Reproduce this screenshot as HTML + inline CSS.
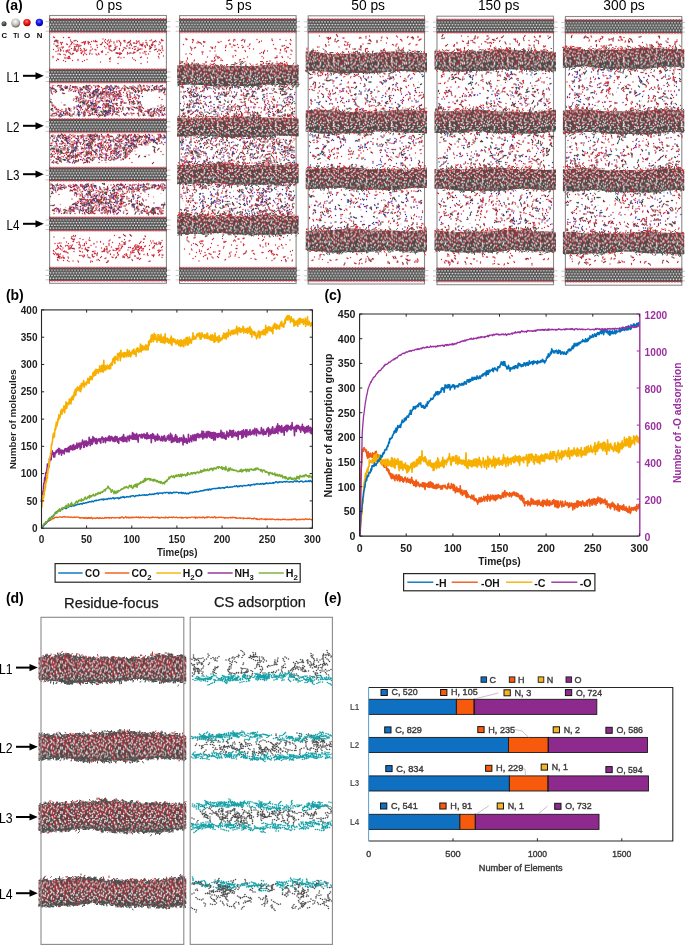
<!DOCTYPE html>
<html><head><meta charset="utf-8"><style>
html,body{margin:0;padding:0;background:#fff;}
body{width:685px;height:946px;overflow:hidden;position:relative;}
svg{position:absolute;left:0;top:0;display:block;will-change:transform;}
text{font-family:"Liberation Sans",sans-serif;}
</style></head><body>
<svg width="685" height="946" viewBox="0 0 685 946" font-family="Liberation Sans, sans-serif">
<defs><linearGradient id="bandgrad" x1="0" y1="0" x2="0" y2="1"><stop offset="0" stop-color="#c82a36" stop-opacity="0.22"/><stop offset="0.45" stop-color="#c82a36" stop-opacity="0.08"/><stop offset="0.65" stop-color="#34504a" stop-opacity="0"/><stop offset="1" stop-color="#34504a" stop-opacity="0.35"/></linearGradient><filter id="soft" x="-2%" y="-2%" width="104%" height="104%"><feGaussianBlur stdDeviation="0.3"/></filter><pattern id="slab" width="2.9" height="15.3" patternUnits="userSpaceOnUse">
<rect y="0.9" width="2.9" height="13.4" fill="#464646"/>
<circle cx="1.45" cy="1.0" r="0.95" fill="#cc3a48"/>
<circle cx="0" cy="14.2" r="0.95" fill="#cc3a48"/>
<circle cx="2.9" cy="14.2" r="0.95" fill="#cc3a48"/>
<circle cx="0" cy="3.65" r="0.85" fill="#e0e0e0"/>
<circle cx="2.9" cy="3.65" r="0.85" fill="#e0e0e0"/>
<circle cx="1.45" cy="6.3" r="0.9" fill="#f0f0f0"/>
<circle cx="0" cy="8.95" r="0.9" fill="#ececec"/>
<circle cx="2.9" cy="8.95" r="0.9" fill="#ececec"/>
<circle cx="1.45" cy="11.6" r="0.85" fill="#d8e4e2"/>
<circle cx="1.45" cy="2.4" r="0.45" fill="#8a8a8a"/>
<circle cx="0" cy="5.0" r="0.45" fill="#8a8a8a"/>
<circle cx="2.9" cy="5.0" r="0.45" fill="#8a8a8a"/>
<circle cx="1.45" cy="7.6" r="0.45" fill="#8a8a8a"/>
<circle cx="0" cy="10.3" r="0.45" fill="#8a8a8a"/>
<circle cx="2.9" cy="10.3" r="0.45" fill="#8a8a8a"/>
<circle cx="1.45" cy="12.9" r="0.45" fill="#7a8a88"/>
</pattern><pattern id="dense" width="58" height="21.5" patternUnits="userSpaceOnUse"><rect width="58" height="21.5" fill="#5c4a4e"/><path d="M5.3 0.1h0M5.3 21.6h0M9.0 -0.1h0M9.0 21.4h0M16.1 0.0h0M16.1 21.5h0M16.6 0.3h0M16.6 21.8h0M23.3 0.3h0M23.3 21.8h0M26.8 0.2h0M26.8 21.7h0M34.9 -0.2h0M34.9 21.3h0M35.9 0.1h0M35.9 21.6h0M40.8 0.3h0M40.8 21.8h0M44.9 0.1h0M44.9 21.6h0M46.0 -0.5h0M46.0 21.0h0M51.0 -0.2h0M51.0 21.3h0M1.9 1.3h0M6.9 0.9h0M7.7 1.7h0M13.1 1.2h0M19.3 1.1h0M20.9 1.5h0M28.8 1.2h0M31.5 1.9h0M38.1 1.3h0M42.3 1.5h0M48.5 1.2h0M50.0 0.6h0M50.0 22.1h0M54.1 1.4h0M-0.7 0.9h0M57.3 0.9h0M1.4 2.4h0M5.8 2.7h0M11.9 2.5h0M14.7 2.9h0M25.1 2.7h0M29.8 2.4h0M35.1 2.4h0M39.2 2.7h0M43.2 2.2h0M47.6 2.9h0M54.1 2.6h0M0.6 3.5h0M58.6 3.5h0M6.3 3.6h0M8.1 3.8h0M14.0 3.7h0M16.7 3.2h0M18.4 3.8h0M24.4 3.9h0M27.1 4.1h0M28.3 4.0h0M32.9 3.7h0M37.0 3.8h0M39.9 3.5h0M43.7 4.0h0M45.3 4.0h0M46.9 3.7h0M51.8 4.1h0M-0.2 4.6h0M57.8 4.6h0M2.4 5.0h0M4.0 5.3h0M10.3 5.6h0M13.3 4.7h0M17.5 5.0h0M18.7 5.1h0M20.4 5.6h0M21.8 5.0h0M28.7 5.0h0M36.6 5.1h0M46.3 5.0h0M49.4 5.2h0M53.0 4.8h0M0.7 6.6h0M58.7 6.6h0M5.4 6.2h0M6.1 6.1h0M9.8 6.4h0M11.8 6.7h0M19.5 6.6h0M25.7 6.2h0M26.5 6.1h0M28.3 6.3h0M31.1 6.1h0M34.6 6.6h0M41.6 6.3h0M43.5 6.6h0M48.5 6.2h0M52.9 6.3h0M53.7 6.3h0M55.9 6.7h0M1.6 7.7h0M5.9 7.2h0M8.4 7.9h0M12.9 7.4h0M15.9 7.3h0M21.6 7.6h0M23.3 7.8h0M30.4 8.2h0M32.8 7.6h0M35.7 8.0h0M43.0 7.7h0M45.0 7.5h0M51.9 7.6h0M54.0 8.1h0M1.7 8.8h0M13.8 9.0h0M18.5 9.0h0M25.2 9.1h0M28.3 8.6h0M35.6 9.3h0M39.6 9.3h0M44.5 8.9h0M47.1 8.7h0M49.1 8.9h0M-0.6 8.9h0M57.4 8.9h0M2.8 10.1h0M7.7 10.7h0M10.5 9.9h0M11.7 10.3h0M17.6 10.4h0M20.2 10.1h0M24.7 9.3h0M26.9 10.5h0M32.1 10.5h0M33.2 10.2h0M34.4 10.5h0M40.5 9.8h0M42.1 10.0h0M46.6 10.1h0M50.5 9.7h0M0.4 10.9h0M58.4 10.9h0M5.1 10.7h0M15.3 11.7h0M21.1 11.5h0M24.3 11.7h0M28.6 11.7h0M32.2 11.4h0M38.5 11.6h0M39.5 11.2h0M43.9 11.0h0M47.0 11.6h0M52.1 11.2h0M53.2 11.5h0M54.5 11.3h0M55.7 11.6h0M1.5 12.5h0M6.3 13.0h0M8.8 13.0h0M14.9 12.8h0M23.2 12.3h0M25.7 13.3h0M30.3 12.5h0M32.1 12.5h0M34.2 12.4h0M41.9 12.5h0M49.5 12.4h0M55.7 12.9h0M5.1 14.4h0M10.7 14.4h0M12.0 13.6h0M15.1 14.0h0M19.7 14.2h0M26.5 13.9h0M33.8 13.8h0M35.9 13.9h0M41.4 14.0h0M45.3 14.1h0M46.7 14.0h0M51.7 13.9h0M52.8 14.4h0M0.2 15.4h0M58.2 15.4h0M2.4 15.4h0M4.8 14.8h0M8.6 15.5h0M14.6 14.8h0M16.3 15.3h0M18.9 15.5h0M21.7 14.6h0M27.7 15.6h0M28.9 15.3h0M38.0 15.4h0M42.0 15.2h0M47.7 15.1h0M53.2 15.7h0M1.0 16.2h0M6.7 16.5h0M12.7 16.3h0M16.9 16.1h0M29.4 16.5h0M31.0 16.4h0M32.3 16.2h0M35.5 16.7h0M38.6 16.9h0M39.9 16.9h0M43.5 16.2h0M45.9 16.1h0M49.5 16.6h0M51.6 16.9h0M1.4 17.9h0M5.8 17.9h0M7.8 17.4h0M13.7 18.4h0M17.1 17.8h0M18.6 17.7h0M23.1 17.6h0M23.9 18.2h0M35.5 17.8h0M39.4 17.2h0M40.8 18.0h0M46.4 18.0h0M52.1 17.5h0M53.8 18.0h0M55.5 17.4h0M9.6 18.8h0M15.0 19.4h0M22.5 18.8h0M28.8 19.0h0M29.3 18.9h0M35.5 19.0h0M36.7 19.3h0M41.0 18.6h0M49.7 19.1h0M57.2 19.3h0M-0.0 20.1h0M58.0 20.1h0M1.2 20.4h0M5.6 19.9h0M10.3 19.9h0M11.5 19.7h0M14.1 20.1h0M21.8 20.3h0M25.8 20.2h0M33.2 19.9h0M35.8 19.8h0M42.1 19.8h0M44.7 20.2h0M50.5 20.5h0M52.4 20.2h0M55.1 20.1h0" stroke="#c02a36" stroke-width="1.56" stroke-linecap="round"/><path d="M1.3 -0.1h0M1.3 21.4h0M2.3 -0.1h0M2.3 21.4h0M7.1 0.1h0M7.1 21.6h0M10.6 0.2h0M10.6 21.7h0M11.5 0.2h0M11.5 21.7h0M20.2 -0.3h0M20.2 21.2h0M21.7 0.4h0M21.7 21.9h0M26.0 -0.2h0M26.0 21.3h0M28.5 0.0h0M28.5 21.5h0M32.1 0.3h0M32.1 21.8h0M33.0 -0.6h0M33.0 20.9h0M38.1 -0.0h0M38.1 21.5h0M41.9 -0.2h0M41.9 21.3h0M49.2 0.1h0M49.2 21.6h0M52.2 0.2h0M52.2 21.7h0M54.4 0.4h0M54.4 21.9h0M1.0 0.9h0M5.1 1.8h0M13.4 0.9h0M15.5 1.3h0M24.4 0.6h0M24.4 22.1h0M25.2 1.3h0M32.5 1.3h0M36.0 1.1h0M41.4 1.3h0M45.7 1.0h0M47.0 1.2h0M55.3 1.2h0M0.2 2.2h0M58.2 2.2h0M4.3 3.2h0M8.9 2.6h0M9.8 3.1h0M16.0 2.8h0M17.4 2.7h0M20.9 2.5h0M21.7 2.9h0M26.2 2.1h0M31.6 2.1h0M36.7 2.5h0M40.7 2.4h0M44.9 3.4h0M48.4 2.8h0M52.7 2.2h0M56.7 2.7h0M2.1 3.9h0M4.3 3.5h0M9.6 3.9h0M12.3 3.6h0M19.5 3.7h0M20.7 4.2h0M22.3 3.4h0M29.5 4.2h0M31.8 3.2h0M34.3 4.0h0M38.7 3.5h0M41.4 3.9h0M49.8 3.7h0M55.6 3.8h0M7.2 4.7h0M8.7 5.0h0M14.5 5.5h0M22.8 4.9h0M27.6 5.1h0M33.5 5.1h0M37.7 5.3h0M42.4 4.8h0M44.0 5.4h0M47.6 5.1h0M53.5 5.2h0M56.9 4.7h0M2.4 6.6h0M3.7 6.3h0M7.9 6.5h0M10.5 6.4h0M15.6 6.1h0M16.6 6.3h0M20.8 6.5h0M32.6 6.3h0M38.7 6.8h0M46.7 6.3h0M50.1 6.6h0M51.6 5.9h0M56.7 6.2h0M2.4 8.1h0M6.9 7.7h0M11.7 7.9h0M17.1 7.6h0M24.6 7.3h0M26.1 8.1h0M28.8 7.2h0M31.6 7.4h0M34.9 7.8h0M37.2 7.7h0M40.7 7.6h0M41.5 6.7h0M46.8 7.4h0M50.5 7.3h0M55.6 7.8h0M0.7 8.5h0M58.7 8.5h0M4.6 8.7h0M7.8 9.0h0M9.9 8.9h0M15.1 8.9h0M16.4 8.9h0M21.1 9.1h0M22.1 9.1h0M24.1 8.4h0M29.4 9.3h0M34.4 8.9h0M37.3 8.5h0M45.9 8.4h0M49.7 9.0h0M54.9 8.4h0M55.9 9.2h0M1.4 10.4h0M5.7 10.2h0M8.9 9.9h0M14.5 9.9h0M15.9 10.0h0M21.2 11.1h0M26.3 9.9h0M28.7 10.1h0M37.9 10.3h0M39.3 9.9h0M45.1 10.0h0M49.2 10.5h0M52.3 9.7h0M53.7 10.5h0M3.2 11.2h0M6.6 11.1h0M10.8 11.8h0M12.1 11.6h0M19.6 11.1h0M22.7 12.0h0M27.1 11.7h0M31.2 10.9h0M35.9 11.1h0M41.2 12.0h0M48.3 11.3h0M57.0 11.4h0M0.2 12.6h0M58.2 12.6h0M2.6 12.4h0M4.4 12.9h0M7.8 13.0h0M13.3 12.2h0M16.1 12.4h0M20.1 12.7h0M24.5 12.7h0M29.7 13.0h0M33.3 12.6h0M36.3 12.7h0M43.2 12.8h0M48.1 12.3h0M52.3 13.0h0M0.9 13.6h0M6.3 14.0h0M8.0 14.0h0M14.0 13.7h0M16.9 13.8h0M18.3 13.5h0M21.0 14.0h0M22.4 14.0h0M28.6 13.5h0M29.7 13.7h0M32.7 13.9h0M37.0 13.6h0M39.8 13.9h0M42.7 13.9h0M50.1 13.9h0M54.5 13.9h0M55.9 13.9h0M1.2 15.4h0M6.9 14.9h0M10.3 15.1h0M13.1 14.8h0M23.1 14.9h0M26.6 14.9h0M31.9 15.3h0M36.6 15.1h0M40.5 15.6h0M45.4 15.0h0M46.9 15.2h0M49.4 15.1h0M51.0 15.5h0M2.8 17.0h0M5.2 16.9h0M9.6 16.7h0M13.5 16.2h0M19.6 16.3h0M20.7 16.4h0M25.4 16.2h0M26.8 16.9h0M33.6 16.4h0M37.1 16.7h0M41.8 16.7h0M46.9 16.5h0M48.8 16.6h0M54.4 16.2h0M55.5 16.3h0M0.2 17.8h0M58.2 17.8h0M4.8 18.2h0M10.2 18.2h0M11.7 17.7h0M14.4 18.0h0M16.1 17.9h0M21.6 17.3h0M27.2 17.6h0M30.6 17.7h0M36.2 18.1h0M41.9 18.0h0M45.0 17.8h0M50.5 17.4h0M56.2 17.9h0M2.6 18.5h0M5.0 18.5h0M7.5 19.1h0M10.9 18.7h0M18.3 19.0h0M25.3 19.6h0M26.7 19.0h0M30.9 19.5h0M32.6 19.1h0M34.6 18.5h0M40.1 18.7h0M46.8 18.5h0M48.5 19.8h0M51.4 18.4h0M53.1 19.1h0M4.4 19.9h0M8.7 20.4h0M13.3 20.2h0M17.4 20.1h0M19.1 20.2h0M20.4 20.6h0M22.7 20.4h0M25.0 20.1h0M28.0 19.8h0M31.9 19.8h0M38.1 20.4h0M41.1 20.1h0M43.4 20.0h0M49.4 20.4h0M53.8 19.9h0" stroke="#32504a" stroke-width="1.56" stroke-linecap="round"/><path d="M0.6 -0.8h0M0.6 20.7h0M58.6 -0.8h0M58.6 20.7h0M5.7 -0.2h0M5.7 21.3h0M13.0 -0.1h0M13.0 21.4h0M14.2 -0.1h0M14.2 21.4h0M18.3 0.1h0M18.3 21.6h0M24.4 0.2h0M24.4 21.7h0M30.7 -0.6h0M30.7 20.9h0M38.6 0.5h0M38.6 22.0h0M43.9 -0.4h0M43.9 21.1h0M48.2 0.2h0M48.2 21.7h0M54.5 -0.1h0M54.5 21.4h0M56.7 -0.7h0M56.7 20.8h0M4.2 1.2h0M9.3 1.1h0M10.7 1.0h0M16.7 1.3h0M18.0 1.1h0M22.4 1.5h0M27.1 1.6h0M30.0 1.1h0M33.9 1.4h0M36.8 1.0h0M39.9 1.5h0M44.4 1.3h0M51.1 1.6h0M52.3 1.3h0M3.0 2.2h0M7.3 3.2h0M12.8 2.7h0M18.9 2.4h0M23.3 2.9h0M28.1 2.3h0M29.0 2.8h0M33.2 2.0h0M37.3 2.5h0M41.7 2.1h0M46.2 2.8h0M51.2 2.3h0M55.1 2.8h0M4.0 3.6h0M10.7 4.3h0M15.4 4.2h0M25.8 4.2h0M35.5 4.1h0M42.6 3.5h0M48.6 3.8h0M52.9 3.7h0M54.3 4.0h0M0.0 4.4h0M58.0 4.4h0M1.4 4.7h0M5.4 4.6h0M11.8 5.4h0M16.1 5.2h0M24.8 5.0h0M25.8 5.2h0M30.5 5.0h0M32.2 5.6h0M34.4 5.5h0M39.0 4.9h0M41.0 5.2h0M44.0 4.7h0M50.9 4.9h0M55.4 4.8h0M13.9 6.5h0M18.4 6.1h0M22.4 6.7h0M23.8 6.8h0M29.9 5.9h0M35.5 6.2h0M36.9 5.7h0M39.6 6.5h0M44.3 6.2h0M46.2 6.2h0M0.0 7.2h0M58.0 7.2h0M4.2 8.2h0M9.9 7.6h0M14.7 7.5h0M18.5 7.6h0M20.1 7.1h0M27.4 8.1h0M39.3 7.7h0M48.1 7.7h0M49.1 7.9h0M56.6 7.1h0M4.1 9.1h0M6.5 8.8h0M10.7 9.0h0M12.5 8.5h0M18.9 8.9h0M26.6 8.7h0M30.9 9.0h0M32.6 9.1h0M38.6 8.6h0M41.0 8.9h0M42.6 9.0h0M51.3 8.8h0M53.0 8.9h0M0.3 10.3h0M58.3 10.3h0M4.0 9.8h0M12.9 10.0h0M19.1 9.7h0M23.3 10.4h0M30.1 10.0h0M36.3 10.3h0M43.9 10.5h0M47.5 9.6h0M55.4 10.2h0M56.5 9.9h0M2.5 11.8h0M8.3 11.4h0M9.7 11.5h0M13.9 11.7h0M16.2 11.0h0M18.2 10.8h0M25.4 11.0h0M29.4 11.5h0M34.0 11.5h0M37.3 11.8h0M42.7 11.7h0M46.1 11.5h0M50.4 11.4h0M10.5 12.8h0M11.5 12.8h0M17.3 12.6h0M18.6 13.0h0M21.6 12.0h0M27.5 12.9h0M37.5 12.6h0M38.6 13.0h0M40.4 13.1h0M45.0 12.9h0M47.0 13.1h0M51.1 12.5h0M53.2 12.5h0M56.9 12.6h0M2.4 13.6h0M3.9 14.2h0M9.4 13.9h0M23.6 13.8h0M25.6 13.8h0M31.1 13.8h0M38.1 14.0h0M43.5 14.3h0M48.4 13.5h0M57.0 13.7h0M6.0 14.6h0M11.8 15.5h0M17.1 15.0h0M20.3 14.8h0M24.7 14.9h0M30.7 15.2h0M33.4 15.2h0M35.1 15.0h0M39.0 15.4h0M43.7 15.5h0M52.4 15.5h0M55.1 15.3h0M56.1 15.3h0M4.0 16.1h0M7.9 16.9h0M11.3 16.9h0M15.5 16.9h0M17.8 16.0h0M22.6 16.1h0M24.1 16.8h0M27.5 16.2h0M44.4 16.6h0M52.9 15.8h0M-0.5 16.7h0M57.5 16.7h0M2.8 17.0h0M8.6 16.9h0M19.9 17.7h0M25.8 17.5h0M29.2 17.5h0M31.9 17.4h0M33.4 17.7h0M37.5 17.3h0M43.4 17.5h0M48.1 17.5h0M49.1 18.3h0M0.3 19.4h0M58.3 19.4h0M3.9 19.0h0M7.2 19.2h0M12.0 18.8h0M13.8 18.9h0M16.8 19.0h0M19.3 18.6h0M21.4 18.6h0M23.8 18.4h0M38.2 19.4h0M43.2 19.0h0M44.0 18.6h0M45.1 19.0h0M54.6 18.8h0M55.8 19.3h0M3.0 20.0h0M6.8 20.7h0M15.5 20.3h0M30.2 20.5h0M30.6 19.4h0M34.9 20.1h0M39.0 20.2h0M46.6 20.3h0M48.2 20.3h0M56.7 20.2h0" stroke="#e8e4e4" stroke-width="1.56" stroke-linecap="round"/></pattern><pattern id="dense2" width="58" height="21.5" patternUnits="userSpaceOnUse"><rect width="58" height="21.5" fill="#624c50"/><path d="M4.2 0.1h0M4.2 21.6h0M8.1 -0.4h0M8.1 21.1h0M10.1 -0.4h0M10.1 21.1h0M14.0 -0.1h0M14.0 21.4h0M17.4 0.3h0M17.4 21.8h0M21.3 0.3h0M21.3 21.8h0M26.0 0.2h0M26.0 21.7h0M29.1 -0.1h0M29.1 21.4h0M32.2 0.3h0M32.2 21.8h0M40.5 -0.3h0M40.5 21.2h0M41.9 0.3h0M41.9 21.8h0M45.3 -0.0h0M45.3 21.5h0M46.0 0.1h0M46.0 21.6h0M50.6 0.1h0M50.6 21.6h0M53.8 -0.3h0M53.8 21.2h0M55.1 -0.3h0M55.1 21.2h0M56.3 0.3h0M56.3 21.8h0M1.6 0.9h0M6.6 0.8h0M12.1 0.9h0M13.7 1.6h0M17.7 1.0h0M19.4 0.9h0M25.1 1.4h0M31.4 1.2h0M32.6 1.6h0M35.8 1.6h0M37.1 1.5h0M39.5 1.5h0M54.4 1.0h0M-0.4 2.4h0M57.6 2.4h0M4.1 1.9h0M5.6 2.4h0M9.0 2.6h0M10.1 2.5h0M20.3 2.2h0M27.6 2.6h0M39.4 2.3h0M40.2 3.0h0M45.6 2.5h0M47.5 2.9h0M52.0 2.1h0M56.5 2.6h0M3.8 3.8h0M7.5 3.7h0M9.6 4.5h0M13.4 4.1h0M15.6 3.7h0M19.5 3.9h0M24.0 3.4h0M27.2 4.0h0M28.2 3.7h0M32.5 4.1h0M36.8 3.5h0M44.3 3.7h0M51.2 3.3h0M55.9 3.6h0M-0.3 4.7h0M57.7 4.7h0M4.9 4.7h0M11.3 5.0h0M17.4 4.7h0M22.9 5.2h0M29.0 4.7h0M31.9 5.0h0M33.2 4.8h0M36.3 5.1h0M42.2 5.2h0M43.0 5.2h0M48.0 4.6h0M55.1 5.4h0M1.0 6.4h0M6.3 5.6h0M9.4 6.6h0M13.9 6.6h0M19.3 6.3h0M21.3 6.6h0M25.5 6.2h0M26.8 6.7h0M31.2 6.2h0M37.4 6.3h0M39.4 5.9h0M41.1 6.3h0M46.0 6.3h0M47.0 6.3h0M50.8 6.6h0M52.8 6.7h0M54.6 6.2h0M0.1 7.8h0M58.1 7.8h0M0.9 7.7h0M6.7 7.3h0M11.6 7.5h0M12.9 7.4h0M16.3 7.8h0M20.3 7.3h0M22.4 7.6h0M27.6 7.4h0M33.2 7.8h0M43.5 7.7h0M49.4 7.2h0M50.8 7.2h0M54.9 7.6h0M-0.7 7.3h0M57.3 7.3h0M2.0 8.8h0M4.6 8.7h0M8.2 9.0h0M9.2 9.0h0M10.5 8.6h0M14.1 8.7h0M16.6 9.0h0M18.0 8.3h0M24.0 8.9h0M30.9 8.8h0M35.5 9.1h0M37.0 9.3h0M39.9 8.7h0M41.5 8.9h0M47.1 9.2h0M48.9 8.7h0M54.2 9.0h0M2.7 10.4h0M17.7 10.1h0M19.0 10.4h0M24.8 10.0h0M33.3 10.2h0M37.9 9.7h0M44.4 10.0h0M53.5 9.8h0M54.9 9.4h0M6.5 11.4h0M7.9 11.7h0M12.6 11.5h0M22.4 11.7h0M25.3 11.3h0M28.1 11.2h0M29.8 11.2h0M34.3 11.0h0M36.1 11.5h0M38.8 11.4h0M41.3 11.1h0M42.8 12.1h0M48.3 11.5h0M49.7 11.3h0M52.4 11.0h0M1.5 12.8h0M2.8 12.9h0M7.3 12.5h0M8.2 12.4h0M10.4 12.9h0M14.4 12.6h0M15.7 12.2h0M17.8 12.7h0M30.6 11.9h0M31.8 12.4h0M43.5 12.9h0M49.8 12.7h0M55.0 12.7h0M56.4 12.6h0M4.9 14.1h0M10.9 13.8h0M22.1 13.4h0M24.0 14.5h0M26.7 14.4h0M31.3 14.1h0M34.9 13.8h0M38.1 14.2h0M40.2 14.0h0M46.1 13.9h0M47.1 13.3h0M51.5 14.3h0M52.8 14.2h0M57.0 13.6h0M0.4 15.9h0M58.4 15.9h0M1.2 15.4h0M5.3 15.0h0M7.2 14.9h0M11.9 15.1h0M12.6 15.6h0M17.4 14.7h0M19.0 15.2h0M21.8 14.6h0M27.7 15.0h0M31.2 15.4h0M34.7 15.0h0M40.8 16.0h0M42.4 15.7h0M46.2 15.1h0M49.7 15.4h0M53.1 15.5h0M3.2 16.6h0M7.6 16.9h0M15.8 16.1h0M23.8 16.7h0M25.1 16.5h0M26.2 16.4h0M31.4 16.1h0M36.7 16.1h0M41.1 16.5h0M42.9 16.2h0M44.0 16.2h0M50.7 16.3h0M54.8 16.5h0M55.4 16.4h0M1.4 17.8h0M8.9 17.3h0M9.8 17.6h0M14.4 17.4h0M18.6 17.8h0M20.7 17.6h0M25.0 17.7h0M29.2 17.8h0M33.6 17.5h0M39.1 17.4h0M43.8 17.4h0M44.5 17.3h0M46.2 18.4h0M47.7 17.9h0M52.5 17.7h0M56.1 17.8h0M5.0 18.6h0M6.2 18.9h0M9.1 19.2h0M17.2 19.1h0M26.5 19.1h0M29.8 18.7h0M31.5 19.3h0M35.9 19.2h0M37.1 19.1h0M38.5 19.3h0M41.3 18.9h0M51.7 19.1h0M52.5 19.4h0M10.8 20.0h0M11.3 -0.7h0M11.3 20.8h0M17.2 20.1h0M20.3 20.1h0M21.5 20.2h0M26.3 20.3h0M31.8 19.8h0M40.7 -0.7h0M40.7 20.8h0M43.6 20.3h0M45.0 19.6h0M47.7 20.3h0M52.4 19.7h0M53.9 20.1h0M56.6 19.7h0" stroke="#cc2834" stroke-width="1.6" stroke-linecap="round"/><path d="M2.9 0.4h0M2.9 21.9h0M5.8 -0.3h0M5.8 21.2h0M11.6 -0.1h0M11.6 21.4h0M12.9 -0.0h0M12.9 21.5h0M15.7 0.3h0M15.7 21.8h0M18.8 0.0h0M18.8 21.5h0M23.0 0.6h0M23.0 22.1h0M24.3 0.0h0M24.3 21.5h0M30.1 -0.2h0M30.1 21.3h0M36.5 -0.1h0M36.5 21.4h0M43.5 0.2h0M43.5 21.7h0M47.2 -0.1h0M47.2 21.4h0M49.3 0.7h0M49.3 22.2h0M0.8 1.1h0M58.8 1.1h0M3.0 1.5h0M8.4 1.2h0M9.4 1.0h0M16.7 1.2h0M20.8 1.7h0M26.8 0.9h0M34.2 1.1h0M38.7 1.1h0M42.4 0.8h0M42.4 22.3h0M48.3 0.8h0M51.5 1.4h0M55.9 1.9h0M-0.5 1.2h0M57.5 1.2h0M3.2 2.5h0M7.3 2.2h0M11.8 2.6h0M13.2 2.3h0M14.1 2.5h0M18.1 2.6h0M23.2 3.0h0M28.9 2.5h0M30.6 2.5h0M33.4 2.4h0M37.2 2.5h0M42.2 2.3h0M46.1 2.6h0M50.9 3.1h0M0.6 3.8h0M58.6 3.8h0M5.2 3.2h0M22.6 3.7h0M31.0 3.8h0M35.4 3.7h0M41.1 3.5h0M45.9 3.7h0M50.0 3.3h0M53.0 4.1h0M54.0 3.6h0M-0.6 3.6h0M57.4 3.6h0M5.5 4.7h0M8.6 5.5h0M10.3 4.7h0M14.4 4.8h0M15.8 5.0h0M20.3 4.8h0M21.6 4.8h0M24.7 5.0h0M25.8 5.0h0M27.6 5.1h0M34.6 5.1h0M37.6 5.2h0M40.7 4.9h0M45.3 5.1h0M49.1 5.4h0M53.4 5.2h0M2.3 6.0h0M3.8 6.3h0M8.2 6.4h0M12.8 6.7h0M16.6 6.3h0M18.5 6.3h0M23.5 6.6h0M29.9 6.4h0M36.1 6.3h0M38.5 6.5h0M44.0 6.2h0M48.1 6.0h0M51.7 6.9h0M56.3 6.5h0M2.8 7.4h0M3.7 8.0h0M10.3 7.1h0M14.5 8.1h0M18.8 7.6h0M26.1 8.1h0M30.6 7.8h0M31.4 7.8h0M38.2 7.5h0M38.9 7.3h0M40.7 7.4h0M46.5 7.7h0M47.4 7.5h0M52.1 7.6h0M6.5 8.3h0M19.6 8.9h0M22.7 9.5h0M25.1 8.8h0M28.2 8.9h0M29.4 8.8h0M34.4 9.5h0M42.6 8.2h0M44.4 8.9h0M52.8 9.0h0M55.7 8.7h0M1.8 10.3h0M7.5 10.1h0M8.9 10.1h0M13.2 9.8h0M14.0 10.1h0M20.2 10.1h0M21.5 10.4h0M26.2 10.7h0M27.4 10.0h0M34.3 9.8h0M39.1 10.1h0M41.8 10.3h0M46.3 9.9h0M49.6 9.8h0M50.6 10.4h0M56.4 10.3h0M1.1 11.0h0M4.4 11.1h0M9.4 11.2h0M10.9 11.1h0M15.3 12.1h0M18.0 11.3h0M19.8 11.3h0M24.1 11.5h0M30.9 10.7h0M32.0 11.4h0M43.8 11.1h0M47.0 11.1h0M55.7 11.1h0M-0.0 12.4h0M58.0 12.4h0M4.7 13.1h0M11.5 12.4h0M20.1 12.5h0M21.9 13.0h0M26.0 12.9h0M27.3 13.1h0M35.4 12.5h0M36.3 12.8h0M39.2 12.9h0M40.7 12.6h0M46.2 12.8h0M48.3 12.8h0M51.9 13.0h0M2.2 14.2h0M3.9 13.4h0M5.7 13.7h0M12.6 14.7h0M14.2 14.1h0M16.8 14.2h0M20.6 13.8h0M25.2 14.2h0M29.8 13.5h0M32.8 14.1h0M37.4 13.3h0M50.0 14.5h0M54.3 13.5h0M3.1 15.3h0M4.5 15.0h0M8.8 14.8h0M15.6 15.2h0M23.6 14.9h0M29.1 15.1h0M33.8 14.9h0M39.4 15.6h0M43.7 15.6h0M50.7 15.3h0M55.1 15.6h0M56.6 15.6h0M0.6 16.5h0M58.6 16.5h0M6.4 16.9h0M10.9 16.8h0M12.3 16.5h0M13.6 17.0h0M16.9 16.6h0M19.2 16.7h0M21.1 16.8h0M28.1 15.9h0M33.0 16.2h0M34.4 16.3h0M38.2 16.2h0M45.9 16.2h0M48.3 16.2h0M53.0 17.1h0M-0.1 17.6h0M57.9 17.6h0M5.8 18.1h0M13.2 17.3h0M17.6 17.4h0M21.9 18.0h0M27.5 17.9h0M29.8 17.7h0M38.4 17.5h0M41.1 17.5h0M49.4 17.3h0M55.1 18.1h0M1.9 19.2h0M3.0 19.3h0M7.3 19.2h0M10.4 19.5h0M15.6 18.7h0M18.8 19.1h0M22.5 19.0h0M25.3 18.9h0M28.1 18.6h0M34.2 19.3h0M44.1 19.6h0M48.8 19.1h0M50.0 18.9h0M54.7 19.4h0M-0.8 19.0h0M57.2 19.0h0M0.0 20.2h0M58.0 20.2h0M2.9 20.1h0M4.2 -0.7h0M4.2 20.8h0M8.8 20.7h0M13.0 20.5h0M19.0 20.7h0M24.8 20.2h0M27.8 20.6h0M30.2 19.9h0M33.0 19.9h0M36.5 20.1h0M37.5 -0.7h0M37.5 20.8h0M41.9 20.2h0M46.4 19.9h0M50.6 19.8h0" stroke="#384a48" stroke-width="1.6" stroke-linecap="round"/><path d="M0.0 0.1h0M0.0 21.6h0M58.0 0.1h0M58.0 21.6h0M1.2 -0.1h0M1.2 21.4h0M7.5 -0.4h0M7.5 21.1h0M19.9 0.0h0M19.9 21.5h0M27.8 0.4h0M27.8 21.9h0M33.1 0.2h0M33.1 21.7h0M34.7 -0.0h0M34.7 21.5h0M37.6 0.5h0M37.6 22.0h0M39.1 0.1h0M39.1 21.6h0M52.1 -0.1h0M52.1 21.4h0M5.3 1.0h0M10.7 1.2h0M15.0 1.2h0M22.4 1.1h0M24.1 1.3h0M28.7 1.1h0M29.7 1.1h0M41.6 1.8h0M43.9 1.3h0M45.2 0.6h0M45.2 22.1h0M47.1 1.2h0M49.7 0.8h0M49.7 22.3h0M52.7 1.0h0M1.4 2.6h0M15.6 3.0h0M17.3 2.8h0M21.7 2.9h0M24.5 2.0h0M26.4 2.8h0M31.7 3.0h0M34.8 2.8h0M36.2 2.5h0M43.5 2.2h0M49.6 3.0h0M54.1 2.8h0M54.8 2.4h0M2.1 3.9h0M6.8 4.0h0M10.6 3.4h0M12.3 3.4h0M16.6 3.7h0M17.7 3.4h0M20.5 3.6h0M25.6 3.9h0M30.5 3.7h0M34.4 3.9h0M38.1 3.4h0M40.1 3.3h0M42.6 4.2h0M47.1 3.5h0M48.6 4.1h0M2.0 5.0h0M2.9 5.1h0M7.5 4.8h0M12.8 5.5h0M18.8 5.4h0M30.4 4.4h0M39.3 5.1h0M46.7 5.0h0M50.8 5.6h0M52.2 5.0h0M56.5 5.3h0M4.6 6.2h0M10.8 6.5h0M15.2 6.6h0M22.2 6.4h0M28.0 6.4h0M32.7 6.6h0M33.9 6.7h0M43.0 6.2h0M56.7 6.5h0M6.1 8.2h0M8.5 7.6h0M17.8 7.6h0M23.4 7.8h0M24.6 7.9h0M28.4 7.4h0M34.2 7.5h0M36.1 7.7h0M42.0 7.0h0M45.1 7.6h0M53.7 7.4h0M0.5 9.1h0M58.5 9.1h0M3.3 8.7h0M12.4 9.2h0M16.0 9.1h0M21.1 9.1h0M27.0 8.7h0M32.3 8.9h0M38.7 8.8h0M46.0 8.7h0M50.4 8.8h0M51.4 9.1h0M-0.7 8.7h0M57.3 8.7h0M0.3 10.2h0M58.3 10.2h0M4.9 10.6h0M5.5 10.3h0M9.5 10.3h0M11.9 10.0h0M15.9 10.4h0M23.3 9.9h0M29.0 10.1h0M29.9 10.1h0M32.0 9.9h0M36.0 10.6h0M41.1 10.2h0M43.7 10.1h0M47.4 10.2h0M52.0 10.4h0M2.5 11.2h0M3.6 10.9h0M14.4 12.1h0M16.3 11.4h0M20.7 11.4h0M26.5 11.8h0M36.8 11.7h0M40.1 11.2h0M45.6 11.5h0M51.6 11.2h0M53.7 11.3h0M-0.7 11.4h0M57.3 11.4h0M5.7 12.9h0M13.0 12.8h0M19.0 13.0h0M23.6 13.1h0M24.2 12.6h0M29.1 12.9h0M33.7 12.5h0M37.9 12.5h0M41.8 13.1h0M45.3 12.7h0M50.4 12.2h0M54.2 12.9h0M0.2 14.0h0M58.2 14.0h0M8.4 14.0h0M9.0 14.3h0M15.6 13.5h0M18.2 13.7h0M19.6 13.7h0M27.9 13.5h0M34.0 14.0h0M41.5 13.7h0M43.6 14.1h0M44.0 14.4h0M48.6 13.6h0M56.3 13.7h0M9.9 15.4h0M13.7 16.0h0M20.3 15.9h0M24.6 14.9h0M25.9 15.0h0M31.8 14.9h0M36.1 15.1h0M38.2 15.3h0M45.1 14.9h0M48.0 14.7h0M51.7 15.4h0M2.7 16.2h0M4.3 16.4h0M9.9 16.5h0M17.9 16.4h0M22.5 17.1h0M29.7 16.5h0M35.6 16.8h0M39.6 16.5h0M47.5 16.3h0M51.3 16.4h0M-0.8 15.8h0M57.2 15.8h0M2.6 17.8h0M4.2 17.5h0M7.7 18.0h0M11.4 17.7h0M15.6 17.7h0M23.5 17.7h0M26.1 17.7h0M31.7 17.7h0M34.2 17.9h0M36.5 17.4h0M42.4 18.0h0M51.2 17.6h0M53.5 17.5h0M0.9 19.3h0M12.4 19.0h0M13.6 19.3h0M19.8 18.6h0M21.4 18.8h0M24.1 18.4h0M32.5 18.6h0M40.4 18.9h0M42.7 18.6h0M46.0 18.7h0M47.3 19.5h0M56.1 18.9h0M1.6 20.0h0M5.9 20.2h0M7.3 20.2h0M14.2 20.1h0M16.0 20.2h0M23.4 20.3h0M28.8 20.7h0M34.6 20.2h0M38.8 20.2h0M49.0 20.5h0M54.8 20.6h0" stroke="#eeeaea" stroke-width="1.6" stroke-linecap="round"/></pattern><radialGradient id="gC" cx="0.4" cy="0.35" r="0.7"><stop offset="0" stop-color="#8a8a8a"/><stop offset="1" stop-color="#1a1a1a"/></radialGradient>
<radialGradient id="gTi" cx="0.45" cy="0.35" r="0.7"><stop offset="0" stop-color="#ffffff"/><stop offset="0.6" stop-color="#bcb6b0"/><stop offset="1" stop-color="#4a4540"/></radialGradient>
<radialGradient id="gO" cx="0.45" cy="0.35" r="0.7"><stop offset="0" stop-color="#ff7070"/><stop offset="0.5" stop-color="#ee1010"/><stop offset="1" stop-color="#800000"/></radialGradient>
<radialGradient id="gN" cx="0.45" cy="0.35" r="0.7"><stop offset="0" stop-color="#7070ff"/><stop offset="0.5" stop-color="#1010ee"/><stop offset="1" stop-color="#000080"/></radialGradient></defs>
<rect width="685" height="946" fill="#fff"/>
<text x="5.6" y="9.8" font-size="14" font-weight="bold">(a)</text>
<circle cx="4" cy="23.7" r="2.5" fill="url(#gC)"/>
<circle cx="15.7" cy="23" r="4.5" fill="url(#gTi)"/>
<circle cx="27" cy="22.6" r="3.7" fill="url(#gO)"/>
<circle cx="39.4" cy="22.5" r="3.7" fill="url(#gN)"/>
<text x="4.2" y="37.6" font-size="7.0" font-weight="bold" text-anchor="middle" textLength="5.6" lengthAdjust="spacingAndGlyphs">C</text>
<text x="16.2" y="37.6" font-size="7.0" font-weight="bold" text-anchor="middle" textLength="5.8" lengthAdjust="spacingAndGlyphs">Ti</text>
<text x="27" y="37.6" font-size="7.0" font-weight="bold" text-anchor="middle" textLength="6.2" lengthAdjust="spacingAndGlyphs">O</text>
<text x="39.6" y="37.6" font-size="7.0" font-weight="bold" text-anchor="middle" textLength="5.6" lengthAdjust="spacingAndGlyphs">N</text>
<text x="6.5" y="81.6" font-size="14.6" textLength="12.9" lengthAdjust="spacingAndGlyphs">L1</text>
<path d="M23 75.8H37" stroke="#000" stroke-width="2"/>
<path d="M35.5 72.2L43.8 75.8L35.5 79.4Z" fill="#000"/>
<text x="6.5" y="131.6" font-size="14.6" textLength="12.9" lengthAdjust="spacingAndGlyphs">L2</text>
<path d="M23 125.8H37" stroke="#000" stroke-width="2"/>
<path d="M35.5 122.2L43.8 125.8L35.5 129.4Z" fill="#000"/>
<text x="6.5" y="180" font-size="14.6" textLength="12.9" lengthAdjust="spacingAndGlyphs">L3</text>
<path d="M23 174.2H37" stroke="#000" stroke-width="2"/>
<path d="M35.5 170.6L43.8 174.2L35.5 177.8Z" fill="#000"/>
<text x="6.5" y="229.6" font-size="14.6" textLength="12.9" lengthAdjust="spacingAndGlyphs">L4</text>
<path d="M23 223.8H37" stroke="#000" stroke-width="2"/>
<path d="M35.5 220.2L43.8 223.8L35.5 227.4Z" fill="#000"/>
<text x="109.1" y="10.2" font-size="13.8" text-anchor="middle">0 ps</text>
<rect x="49.6" y="15.5" width="116.8" height="267.8" fill="none" stroke="#8a8a8a" stroke-width="1.1"/>
<g filter="url(#soft)">
<rect transform="translate(49 18)" width="118" height="15.3" fill="url(#slab)"/>
<path d="M45.6 21.6h3.4M167.0 21.6h3.4M45.6 26.9h3.4M167.0 26.9h3.4M45.6 31.2h3.4M167.0 31.2h3.4" stroke="#a0a0a0" stroke-width="0.6"/>
<rect transform="translate(49 266.6)" width="118" height="15.3" fill="url(#slab)"/>
<path d="M45.6 270.2h3.4M167.0 270.2h3.4M45.6 275.5h3.4M167.0 275.5h3.4M45.6 279.8h3.4M167.0 279.8h3.4" stroke="#a0a0a0" stroke-width="0.6"/>
<rect transform="translate(49 68.3)" width="118" height="15.3" fill="url(#slab)"/>
<path d="M45.6 71.9h3.4M167.0 71.9h3.4M45.6 77.2h3.4M167.0 77.2h3.4M45.6 81.5h3.4M167.0 81.5h3.4" stroke="#a0a0a0" stroke-width="0.6"/>
<rect transform="translate(49 118.1)" width="118" height="15.3" fill="url(#slab)"/>
<path d="M45.6 121.7h3.4M167.0 121.7h3.4M45.6 127.0h3.4M167.0 127.0h3.4M45.6 131.3h3.4M167.0 131.3h3.4" stroke="#a0a0a0" stroke-width="0.6"/>
<rect transform="translate(49 166.6)" width="118" height="15.3" fill="url(#slab)"/>
<path d="M45.6 170.2h3.4M167.0 170.2h3.4M45.6 175.5h3.4M167.0 175.5h3.4M45.6 179.8h3.4M167.0 179.8h3.4" stroke="#a0a0a0" stroke-width="0.6"/>
<rect transform="translate(49 216.4)" width="118" height="15.3" fill="url(#slab)"/>
<path d="M45.6 220.0h3.4M167.0 220.0h3.4M45.6 225.3h3.4M167.0 225.3h3.4M45.6 229.6h3.4M167.0 229.6h3.4" stroke="#a0a0a0" stroke-width="0.6"/>
<path transform="scale(.5)" d="M290 106h0M258 84h0M236 106h0M232 106h0M278 99h0M274 102h0M258 96h0M123 89h0M121 102h0M182 100h0M180 102h0M235 107h0M233 106h0M234 84h0M154 91h0M155 89h0M254 91h0M254 93h0M203 89h0M201 89h0M145 107h0M147 107h0M321 101h0M318 89h0M181 89h0M295 91h0M294 86h0M241 106h0M241 108h0M194 91h0M195 95h0M182 94h0M169 84h0M167 84h0M303 95h0M299 98h0M177 84h0M179 85h0M282 127h0M136 103h0M136 101h0M234 93h0M241 106h0M241 108h0M283 89h0M280 90h0M203 103h0M205 104h0M218 86h0M222 92h0M220 93h0M278 82h0M276 83h0M112 103h0M250 84h0M248 82h0M169 89h0M169 87h0M313 98h0M309 100h0M228 101h0M231 98h0M116 82h0M114 81h0M178 85h0M176 83h0M164 85h0M166 85h0M281 98h0M284 98h0M184 108h0M273 87h0M185 98h0M190 83h0M191 81h0M318 116h0M143 97h0M221 116h0M164 105h0M310 91h0M310 94h0M276 100h0M325 81h0M323 79h0M289 103h0M156 101h0M236 127h0M187 82h0M239 99h0M239 97h0M269 99h0M271 98h0M163 107h0M162 106h0M168 97h0M212 109h0M121 109h0M276 96h0M192 100h0M190 99h0M211 85h0M134 116h0M136 116h0M292 81h0M283 114h0M281 115h0M148 88h0M183 83h0M273 82h0M305 86h0M306 84h0M133 104h0M176 86h0M177 88h0M231 94h0M133 88h0M135 89h0M136 100h0M230 90h0M267 86h0M269 86h0M285 92h0M281 89h0M155 102h0M295 124h0M116 102h0M117 100h0M180 106h0M179 108h0M116 108h0M206 78h0M108 88h0M127 121h0M146 107h0M315 103h0M248 115h0M169 104h0M170 107h0M111 82h0M291 95h0M117 119h0M115 118h0M286 86h0M286 89h0M165 123h0M318 101h0M154 93h0M149 93h0M295 116h0M150 100h0M148 101h0M214 87h0M215 89h0M232 96h0M230 95h0M228 100h0M197 107h0M198 109h0M216 105h0M141 108h0M138 105h0M132 102h0M134 101h0M205 102h0M125 85h0M326 101h0M294 86h0M292 85h0M149 96h0M148 98h0M221 91h0M192 108h0M194 110h0M280 106h0M279 86h0M301 94h0M292 109h0M272 87h0M274 85h0M318 108h0M125 96h0M255 105h0M255 108h0M280 98h0M265 97h0M218 91h0M218 93h0M157 92h0M158 90h0M324 80h0M326 81h0M219 117h0M220 119h0M267 105h0M220 100h0M268 94h0M272 93h0M268 119h0M300 97h0M299 92h0M156 99h0M109 83h0M112 80h0M171 86h0M171 83h0M217 80h0M215 82h0M137 113h0M139 113h0M323 81h0M113 93h0M112 91h0M109 75h0M107 74h0M260 83h0M261 81h0M228 84h0M228 86h0M242 116h0M194 83h0M289 92h0M324 93h0M116 91h0M113 93h0M292 103h0M248 81h0M250 81h0M174 119h0M324 98h0M325 96h0M245 102h0M157 96h0M119 108h0M266 107h0M267 105h0M127 94h0M124 94h0M137 117h0M140 117h0M306 89h0M305 91h0M318 99h0M261 87h0M263 91h0M297 108h0M142 83h0M144 85h0M212 96h0M192 83h0M239 106h0M238 107h0M209 82h0M220 123h0M167 109h0M123 86h0M121 85h0M169 121h0M139 75h0M137 75h0M242 87h0M241 85h0M285 89h0M304 89h0M312 83h0M247 99h0M246 101h0M231 97h0M238 81h0M239 83h0M173 109h0M317 113h0M262 106h0M258 107h0M204 105h0M239 109h0M140 92h0M138 94h0M124 95h0M324 92h0M131 123h0M259 90h0M303 91h0M303 89h0M145 85h0M152 81h0M148 82h0M127 102h0M139 100h0M122 86h0M221 80h0M222 83h0M300 103h0M154 102h0M265 116h0M161 97h0M127 75h0M141 80h0M153 103h0M169 98h0M169 100h0M131 110h0M209 93h0M143 87h0M142 89h0M155 83h0M218 86h0M219 84h0M156 121h0M156 119h0M300 81h0M116 96h0M271 121h0M234 84h0M234 82h0M303 80h0M236 115h0M238 114h0M162 91h0M158 93h0M270 105h0M268 105h0M171 101h0M173 100h0M323 105h0M116 86h0M243 107h0M106 115h0M106 113h0M218 96h0M218 98h0M241 91h0M241 88h0M327 112h0M145 121h0M260 96h0M107 99h0M204 87h0M205 85h0M150 96h0M152 100h0M194 90h0M268 104h0M211 79h0M291 92h0M321 86h0M319 84h0M120 96h0M122 101h0M138 116h0M255 86h0M260 84h0M286 106h0M201 124h0M144 109h0M128 109h0M248 95h0M252 97h0M113 121h0M114 84h0M112 80h0M222 101h0M224 102h0M130 117h0M130 115h0M166 102h0M164 104h0M163 100h0M161 101h0M311 81h0M307 84h0M139 115h0M140 117h0M319 108h0M152 89h0M167 110h0" stroke="#d42a3a" stroke-width="2.7" stroke-linecap="round"/>
<path transform="scale(.5)" d="M234 106h0M276 101h0M294 89h0M301 97h0M311 99h0M229 99h0M283 91h0M152 93h0M140 106h0M270 93h0M300 94h0M110 82h0M115 92h0M262 89h0M260 106h0M150 81h0M160 92h0M151 98h0M121 99h0M257 85h0M250 96h0M113 82h0M309 83h0" stroke="#3a4a4a" stroke-width="2.7" stroke-linecap="round"/>
<path transform="scale(.5)" d="M300 522h0M298 523h0M117 515h0M119 516h0M137 516h0M136 514h0M220 501h0M218 503h0M256 500h0M260 481h0M137 487h0M310 487h0M314 489h0M136 506h0M116 487h0M175 502h0M171 496h0M170 498h0M189 507h0M276 495h0M278 494h0M131 492h0M308 486h0M112 499h0M210 500h0M197 519h0M199 521h0M136 514h0M262 507h0M262 505h0M261 495h0M279 497h0M278 499h0M223 494h0M249 509h0M190 502h0M234 497h0M232 497h0M175 510h0M318 488h0M201 483h0M266 500h0M268 501h0M169 487h0M116 521h0M115 519h0M270 494h0M207 502h0M208 500h0M115 491h0M182 522h0M181 524h0M304 510h0M178 495h0M176 495h0M123 493h0M121 491h0M225 485h0M224 514h0M221 509h0M118 509h0M117 511h0M319 509h0M265 521h0M264 519h0M250 488h0M253 508h0M260 514h0M256 516h0M165 512h0M248 485h0M251 488h0M235 505h0M235 507h0M248 486h0M248 489h0M189 506h0M126 496h0M120 513h0M119 514h0M114 497h0M116 496h0M218 487h0M218 489h0M245 493h0M243 494h0M108 474h0M252 511h0M143 474h0M320 502h0M318 503h0M147 497h0M149 498h0M251 484h0M209 501h0M209 503h0M247 469h0M251 472h0M194 511h0M237 492h0M263 472h0M260 469h0M288 509h0M185 523h0M303 486h0M176 514h0M180 516h0M213 525h0M217 522h0M117 508h0M115 508h0M279 509h0M127 503h0M142 496h0M140 495h0M244 490h0M269 512h0M254 510h0M129 516h0M299 491h0M237 509h0M236 511h0M127 516h0M244 483h0M164 497h0M201 515h0M203 513h0M137 494h0M138 492h0M324 510h0M326 510h0M173 487h0M172 484h0M318 511h0M168 513h0M169 511h0M161 492h0M281 496h0M145 490h0M258 482h0M287 485h0M236 499h0M260 510h0M249 479h0M139 497h0M184 510h0M175 503h0M174 499h0M257 495h0M117 495h0M116 493h0M127 521h0M249 515h0M238 475h0M240 475h0M133 484h0M246 512h0M248 513h0M282 483h0M281 485h0M188 488h0M220 480h0M274 490h0M212 516h0M210 517h0M266 504h0M264 502h0M160 490h0M158 489h0M192 494h0M313 486h0M154 485h0M121 498h0M233 515h0M140 498h0M142 496h0M271 490h0M147 479h0M143 477h0M146 473h0M147 471h0M232 501h0M113 508h0M114 510h0M269 492h0M210 499h0M209 497h0M107 507h0M109 509h0M169 489h0M169 491h0M126 512h0M122 516h0M218 482h0M218 491h0M295 507h0M278 507h0M276 503h0M306 482h0M135 521h0M306 511h0M307 513h0M185 509h0M159 502h0M161 503h0M150 473h0M151 471h0M236 497h0M238 496h0M268 505h0M265 505h0M167 514h0M134 505h0M132 503h0M121 492h0M221 508h0M261 504h0M143 496h0M148 497h0M229 471h0M242 497h0M243 495h0M158 496h0M146 483h0M324 500h0M321 501h0M132 491h0M135 491h0M207 488h0M147 483h0M187 503h0M185 503h0M206 503h0M204 503h0M291 492h0M289 493h0M322 485h0M318 487h0M280 508h0M174 500h0M172 499h0M226 500h0M228 501h0M127 515h0M124 515h0M214 502h0M214 497h0M194 520h0M166 491h0M212 493h0M214 494h0M252 508h0M189 506h0M191 507h0M307 494h0M305 496h0M287 497h0M137 498h0M139 497h0M284 497h0M271 512h0M159 486h0M158 484h0M238 502h0M240 500h0M228 510h0M168 510h0M321 487h0M318 484h0M321 489h0M290 472h0M277 499h0M278 501h0M275 500h0M273 498h0M291 473h0M148 480h0M149 478h0M142 491h0M143 493h0M110 487h0M324 481h0M178 480h0M180 481h0M276 517h0M148 503h0M160 495h0M120 497h0M226 515h0M309 491h0M308 493h0M260 495h0M283 493h0M259 515h0M160 477h0M308 496h0M194 484h0M177 501h0M174 501h0M188 487h0M316 501h0M318 500h0M281 494h0M283 495h0M274 516h0M277 516h0M233 514h0M182 491h0M281 517h0M216 522h0M203 496h0M324 515h0M213 498h0M157 524h0M156 522h0M287 478h0M289 478h0M119 486h0M122 486h0M279 519h0M138 523h0M194 510h0M195 506h0M296 511h0M295 509h0M128 476h0M299 499h0M283 501h0M286 502h0M166 479h0M159 511h0M162 511h0M185 512h0M188 513h0M201 484h0M121 508h0M115 515h0M118 512h0M216 506h0M214 504h0M317 505h0M275 494h0M271 494h0M270 499h0M271 497h0M129 502h0M130 504h0M308 511h0M308 509h0M187 514h0M185 513h0M278 492h0M276 492h0M111 506h0M165 504h0M240 490h0M239 487h0M124 500h0M301 482h0M146 522h0M267 496h0M265 497h0M279 487h0M255 513h0M246 515h0M246 513h0M179 476h0M108 503h0M107 501h0M233 499h0M323 495h0M325 493h0M231 516h0M286 499h0M287 497h0" stroke="#d42a3a" stroke-width="2.7" stroke-linecap="round"/>
<path transform="scale(.5)" d="M312 488h0M258 515h0M249 486h0M249 471h0M261 471h0M178 515h0M215 524h0M175 501h0M145 478h0M277 505h0M145 497h0M320 486h0M214 499h0M320 486h0M194 508h0M117 513h0M273 494h0" stroke="#3a4a4a" stroke-width="2.7" stroke-linecap="round"/>
<path transform="scale(.5)" d="M229 218h0M307 176h0M201 187h0M106 210h0M218 190h0M271 193h0M207 178h0M298 230h0M236 176h0M200 215h0M176 222h0M174 211h0M169 209h0M316 212h0M189 225h0M161 184h0M212 190h0M197 174h0M188 171h0M104 210h0M179 212h0M183 209h0M315 226h0M259 203h0M259 208h0M202 199h0M123 171h0M185 195h0M329 221h0M194 196h0M324 220h0M233 208h0M105 176h0M176 178h0M213 193h0M214 188h0M111 181h0M233 216h0M154 218h0M242 206h0M243 193h0M188 188h0M146 228h0M260 188h0M260 192h0M254 184h0M127 180h0M123 179h0M224 198h0M266 176h0M269 179h0M192 225h0M104 232h0M105 228h0M259 199h0M186 203h0M279 204h0M130 230h0M326 176h0M180 197h0M189 192h0M168 184h0M279 192h0M277 197h0M220 196h0M227 179h0M260 195h0M195 182h0M253 187h0M310 227h0M141 220h0M213 203h0M215 200h0M177 216h0M244 199h0M218 213h0M194 208h0M178 184h0M328 217h0M185 228h0M242 181h0M241 186h0M238 183h0M308 226h0M230 183h0M174 220h0M198 215h0M116 220h0M113 217h0M226 227h0M224 231h0M151 183h0M130 175h0M134 176h0M318 223h0M218 229h0M173 173h0M190 225h0M186 183h0M176 176h0M263 218h0M267 220h0M168 198h0M159 215h0M330 229h0M234 197h0M255 226h0M176 222h0M330 179h0M149 224h0M197 181h0M228 201h0M278 183h0M140 228h0M201 196h0M202 191h0M194 188h0M145 173h0M219 196h0M299 222h0M296 219h0M211 203h0M247 227h0M324 231h0M184 205h0M227 191h0M223 201h0M233 224h0M238 224h0M216 230h0M141 232h0M171 217h0M297 227h0M158 201h0M156 196h0M327 231h0M324 228h0M206 187h0M233 194h0M153 175h0M275 208h0M276 203h0M212 181h0M213 176h0M191 179h0M130 230h0M166 175h0M139 227h0M287 179h0M161 194h0M183 209h0M277 207h0M203 189h0M247 228h0M172 176h0M120 221h0M103 218h0M148 218h0M101 204h0M205 216h0M215 202h0M219 203h0M113 227h0M108 227h0M212 183h0M215 229h0M255 191h0M206 203h0M238 182h0M175 218h0M230 175h0M292 180h0M214 187h0M217 184h0M234 207h0M202 188h0M201 184h0M182 222h0M183 217h0M119 174h0M137 217h0M226 214h0M235 217h0M187 216h0M186 220h0M138 182h0M143 181h0M266 177h0M263 174h0M167 226h0M152 203h0M271 175h0M275 178h0M230 197h0M195 225h0M242 207h0M245 204h0M264 214h0M195 172h0M181 190h0M179 194h0M231 193h0M171 192h0M157 180h0M157 225h0M163 186h0M324 179h0M319 178h0M309 176h0M278 232h0M277 228h0M141 171h0M172 200h0M262 174h0M164 179h0M302 228h0M303 233h0M168 223h0M169 228h0M238 224h0M268 227h0M228 220h0M227 183h0M266 205h0M267 201h0M106 171h0M210 196h0M165 179h0M158 204h0M192 203h0M105 174h0M183 175h0M137 216h0M140 220h0M286 226h0M252 174h0M175 192h0M240 181h0M213 188h0M181 178h0M210 208h0M307 228h0M202 231h0M144 230h0M311 179h0M254 192h0M256 196h0M195 177h0M218 218h0M218 222h0M209 230h0M306 228h0M307 232h0M279 215h0M314 221h0M313 225h0M158 183h0M236 188h0M227 184h0M222 186h0M169 222h0M174 209h0M214 175h0M218 173h0M225 190h0M223 186h0M197 180h0M276 172h0M237 188h0M210 187h0M182 195h0M213 192h0M171 204h0M167 206h0M302 228h0M215 212h0M131 177h0M134 173h0M171 188h0M205 181h0M166 212h0M324 216h0M160 180h0M169 187h0M269 183h0M112 225h0M246 202h0M276 178h0M238 231h0M295 174h0M211 216h0M213 213h0M191 211h0M301 229h0M190 213h0M277 226h0M168 174h0M175 207h0M242 198h0M271 198h0M197 181h0M177 231h0M288 173h0M221 179h0M226 181h0M155 194h0M152 197h0M294 171h0M132 218h0M257 216h0M258 220h0M250 229h0M243 223h0M174 185h0M234 191h0M181 186h0M236 225h0M206 189h0M204 185h0M243 210h0M282 178h0M282 174h0M194 216h0M190 218h0M308 222h0M310 217h0M325 176h0M224 213h0M230 191h0M217 190h0M223 189h0M205 196h0M117 224h0M211 211h0M210 215h0M159 188h0M164 178h0M160 176h0M144 230h0M132 221h0M222 180h0M219 177h0M270 195h0M183 174h0M188 186h0M226 194h0M216 215h0M207 207h0M180 230h0M319 195h0M233 200h0M168 231h0M160 175h0M193 179h0M184 214h0M262 226h0M267 227h0M290 181h0M233 183h0M185 225h0M153 197h0M198 196h0M193 198h0M239 193h0M307 229h0M200 230h0M197 234h0M214 225h0M303 218h0M299 220h0M248 206h0M252 206h0M270 207h0M190 185h0M221 227h0M128 210h0M247 185h0M186 195h0M210 190h0M283 187h0M235 211h0M205 178h0M282 220h0M161 220h0M238 215h0M316 227h0M319 231h0M267 181h0M282 214h0M278 212h0M133 226h0M241 193h0M181 202h0M330 189h0M290 223h0M121 179h0M322 210h0M261 199h0M237 196h0M312 230h0M318 184h0M209 231h0M135 224h0M178 201h0M222 186h0M218 184h0M229 216h0M162 191h0M163 196h0M238 189h0M166 186h0M215 200h0M169 174h0M182 205h0M293 181h0M296 222h0M296 226h0M187 190h0M217 227h0M284 221h0M280 220h0M311 173h0M216 211h0M131 177h0M322 223h0M195 191h0M221 182h0M110 216h0M300 226h0M313 176h0M314 172h0M176 225h0M134 230h0M219 221h0M184 186h0M207 228h0M248 177h0M223 174h0M218 174h0M176 194h0M148 214h0M147 183h0M152 181h0M167 228h0M323 182h0M288 171h0M189 229h0M175 205h0M299 175h0M150 178h0M221 223h0M274 189h0M210 200h0M102 231h0M176 222h0M249 171h0M205 201h0M211 230h0M210 184h0M187 212h0M225 227h0M212 227h0M211 232h0M171 218h0M318 180h0M314 178h0M251 178h0M281 214h0M279 219h0M242 205h0M258 218h0M209 223h0M213 225h0M138 226h0M192 184h0M198 229h0M173 207h0M137 218h0M213 208h0M328 186h0M180 171h0M230 194h0M273 183h0M184 187h0M298 180h0M290 177h0M205 231h0M329 219h0M177 185h0M112 219h0M256 195h0M111 214h0M319 183h0M178 222h0M108 183h0M147 200h0M231 208h0M244 204h0M228 201h0M262 176h0M195 231h0M109 227h0M228 215h0M226 211h0M302 226h0M176 202h0M241 192h0M233 219h0M120 226h0M166 201h0M170 204h0M302 232h0M218 210h0M214 208h0M206 194h0M183 194h0M297 178h0M266 175h0M165 219h0M147 228h0M175 180h0M171 178h0M312 178h0M164 226h0M193 212h0M188 190h0M139 219h0M300 219h0M243 178h0M281 207h0M144 179h0M112 219h0M117 219h0M197 171h0M307 230h0M322 215h0M218 185h0M214 184h0M189 211h0M193 210h0M220 190h0M123 223h0M198 205h0M213 210h0M205 210h0M210 210h0M194 206h0M173 173h0M172 222h0M103 184h0M232 207h0M109 215h0M112 231h0M184 205h0M188 219h0M158 200h0M116 224h0M215 176h0M187 183h0M186 187h0M185 185h0M264 230h0M290 231h0M191 175h0M206 184h0M210 183h0M131 227h0M312 179h0M219 197h0M180 189h0M119 230h0M120 234h0M102 199h0M296 221h0M269 195h0M131 172h0M130 176h0M250 172h0M117 232h0M241 211h0M191 201h0M289 228h0M237 176h0M232 189h0M236 190h0M151 173h0M154 176h0M326 177h0M330 180h0M256 177h0M327 221h0M228 207h0M291 180h0M217 224h0M213 227h0M233 172h0M201 221h0M232 173h0M284 184h0M284 179h0M237 221h0M321 173h0M157 231h0M145 175h0M121 174h0M123 178h0M197 213h0M246 214h0M245 218h0M230 187h0M265 186h0M260 185h0M249 206h0M238 193h0M234 190h0M220 188h0M235 174h0M207 220h0M210 223h0M269 174h0M167 207h0M164 203h0M114 219h0M188 229h0M166 209h0M140 229h0M233 185h0M161 199h0M126 223h0M128 227h0M327 212h0M227 189h0M185 221h0M186 217h0M162 189h0M235 229h0M231 228h0M278 174h0M195 190h0M194 195h0M190 216h0M188 210h0M191 181h0M187 182h0M176 214h0M233 178h0M167 192h0M187 184h0M179 214h0M277 220h0M257 177h0M102 182h0M122 222h0M170 228h0M161 212h0M170 231h0M308 175h0M125 180h0M329 176h0M126 231h0M157 184h0M159 188h0M111 185h0M102 219h0M191 215h0M179 179h0M288 177h0M255 189h0M286 230h0M320 216h0M268 203h0M324 199h0M189 190h0M330 229h0M154 174h0M217 207h0M121 227h0M215 222h0M123 172h0M268 195h0M216 227h0M250 181h0M180 180h0M175 182h0M213 202h0M207 214h0M275 227h0M222 217h0M213 185h0M215 189h0M121 225h0M108 212h0M188 213h0M107 227h0M292 222h0M297 223h0M273 196h0M283 223h0M253 192h0M162 179h0M263 203h0M267 205h0M159 213h0M188 191h0M192 189h0M179 171h0M175 173h0M196 203h0M200 202h0M198 174h0M152 193h0M135 174h0M132 177h0M161 205h0M237 173h0M156 213h0M213 224h0M198 189h0M262 194h0M258 182h0M318 219h0M157 221h0M235 174h0M225 174h0M326 179h0M249 181h0M258 228h0M188 217h0M184 219h0M105 188h0M135 227h0M210 185h0M276 191h0M162 214h0M164 197h0M225 222h0M222 178h0M240 216h0M160 206h0M268 206h0M108 232h0M242 189h0M197 179h0M160 180h0M170 230h0M227 224h0M135 228h0M132 224h0M162 217h0M265 197h0M164 185h0M108 177h0M139 179h0M140 174h0M203 186h0M170 203h0M211 174h0M314 171h0M221 218h0M287 171h0M113 183h0M213 172h0M218 173h0M260 216h0M287 217h0M283 214h0M239 185h0M159 230h0M236 189h0M178 210h0M175 214h0M194 222h0M203 175h0M179 227h0M307 223h0M267 214h0M271 216h0M227 209h0M246 220h0M284 182h0M209 224h0M152 174h0M142 222h0M263 174h0M100 175h0M104 176h0M179 191h0M206 219h0M108 178h0M112 180h0M206 194h0M124 219h0M172 208h0M140 221h0M324 226h0M196 220h0M254 215h0M227 201h0M229 197h0M155 177h0M199 173h0M281 223h0M274 217h0M191 206h0M179 231h0M182 228h0M316 176h0M157 201h0M282 182h0M277 181h0M132 217h0M200 231h0M202 197h0M206 197h0M132 222h0M327 185h0M170 205h0M222 171h0M197 229h0M303 182h0M252 230h0M150 176h0M264 179h0M262 175h0M262 204h0M192 188h0M219 175h0M172 172h0M276 214h0M210 232h0M216 194h0M105 178h0M181 196h0M153 199h0M309 178h0M120 230h0M149 174h0M208 230h0M234 200h0M228 185h0M125 186h0M129 187h0M317 220h0M204 184h0M208 184h0M104 220h0M249 176h0M240 187h0" stroke="#d42a3a" stroke-width="2.8" stroke-linecap="round"/>
<path transform="scale(.5)" d="M227 219h0M209 177h0M176 209h0M161 204h0M164 204h0M166 205h0M190 223h0M105 212h0M181 211h0M259 205h0M321 172h0M323 172h0M325 171h0M187 194h0M233 210h0M213 190h0M113 183h0M155 219h0M148 228h0M260 190h0M125 179h0M177 212h0M175 210h0M173 209h0M267 178h0M104 230h0M257 200h0M278 194h0M219 194h0M227 177h0M194 180h0M217 212h0M239 184h0M309 224h0M115 219h0M225 229h0M132 176h0M265 219h0M167 196h0M328 178h0M229 199h0M202 194h0M194 190h0M219 193h0M298 221h0M248 228h0M223 203h0M235 224h0M139 231h0M172 219h0M157 198h0M325 229h0M196 184h0M194 184h0M192 184h0M276 205h0M212 178h0M167 173h0M290 179h0M182 207h0M278 205h0M276 181h0M277 183h0M277 185h0M105 217h0M149 216h0M217 202h0M110 227h0M255 189h0M230 172h0M216 185h0M201 186h0M182 219h0M139 217h0M187 218h0M141 181h0M265 176h0M168 228h0M154 202h0M273 177h0M243 206h0M192 172h0M180 192h0M222 213h0M221 215h0M220 217h0M158 227h0M322 179h0M277 230h0M172 202h0M322 221h0M320 221h0M318 220h0M260 173h0M302 231h0M169 225h0M228 218h0M267 203h0M139 218h0M254 175h0M208 208h0M204 230h0M144 232h0M166 206h0M167 204h0M168 202h0M309 178h0M255 194h0M196 179h0M218 220h0M306 230h0M214 226h0M213 223h0M212 221h0M314 219h0M307 181h0M305 180h0M303 179h0M225 185h0M216 174h0M224 188h0M169 205h0M133 175h0M324 213h0M171 187h0M271 185h0M275 176h0M212 214h0M168 176h0M224 180h0M153 196h0M257 218h0M250 231h0M205 187h0M282 176h0M192 217h0M309 219h0M231 189h0M218 188h0M211 213h0M160 190h0M162 177h0M220 179h0M103 218h0M104 220h0M106 222h0M320 183h0M322 182h0M324 181h0M329 179h0M329 182h0M329 184h0M183 217h0M264 227h0M184 227h0M199 232h0M301 219h0M250 206h0M130 210h0M186 208h0M188 207h0M190 207h0M318 229h0M280 213h0M229 224h0M228 222h0M228 220h0M218 211h0M221 211h0M223 212h0M220 185h0M162 193h0M236 188h0M213 201h0M184 206h0M296 224h0M189 188h0M282 220h0M195 193h0M193 225h0M192 223h0M192 221h0M313 174h0M208 230h0M220 174h0M177 204h0M221 221h0M188 219h0M190 220h0M192 221h0M209 232h0M212 230h0M316 179h0M249 179h0M280 217h0M211 224h0M190 182h0M199 227h0M329 217h0M179 183h0M148 198h0M233 210h0M227 213h0M304 224h0M236 218h0M168 202h0M300 231h0M216 209h0M173 179h0M186 192h0M245 176h0M281 204h0M115 219h0M305 232h0M216 184h0M191 210h0M208 210h0M176 172h0M173 220h0M103 186h0M204 223h0M204 225h0M205 227h0M182 205h0M187 185h0M186 187h0M158 232h0M157 230h0M155 228h0M287 231h0M191 173h0M263 207h0M266 208h0M268 208h0M208 183h0M131 229h0M309 179h0M181 190h0M119 232h0M172 176h0M172 174h0M173 171h0M130 174h0M234 189h0M153 174h0M328 178h0M258 177h0M225 207h0M125 230h0M124 231h0M122 233h0M215 225h0M202 223h0M284 181h0M122 176h0M246 216h0M262 186h0M236 192h0M208 221h0M165 205h0M167 207h0M138 229h0M127 225h0M185 219h0M193 184h0M192 186h0M191 188h0M233 228h0M194 192h0M186 210h0M189 182h0M176 217h0M279 170h0M281 171h0M282 173h0M170 192h0M278 222h0M255 176h0M171 226h0M160 214h0M309 174h0M102 177h0M104 177h0M107 177h0M158 186h0M288 229h0M127 180h0M125 178h0M123 177h0M214 207h0M104 206h0M102 204h0M101 203h0M217 221h0M178 181h0M214 187h0M294 223h0M164 180h0M265 204h0M161 211h0M190 190h0M177 172h0M198 203h0M134 176h0M211 221h0M209 223h0M207 224h0M198 187h0M186 218h0M241 218h0M171 193h0M169 191h0M167 190h0M168 232h0M134 226h0M163 215h0M140 177h0M198 189h0M200 188h0M202 187h0M313 173h0M219 216h0M111 181h0M215 172h0M285 215h0M157 229h0M176 212h0M308 221h0M269 215h0M245 218h0M229 176h0M231 174h0M232 173h0M102 175h0M179 189h0M110 179h0M295 182h0M296 180h0M298 179h0M256 216h0M228 199h0M283 224h0M273 215h0M181 230h0M279 182h0M132 220h0M120 171h0M117 171h0M115 172h0M204 197h0M130 223h0M168 207h0M200 230h0M263 177h0M190 189h0M271 185h0M271 183h0M271 181h0M122 229h0M147 174h0M229 187h0M127 187h0M206 184h0M104 218h0" stroke="#3a4a4a" stroke-width="2.8" stroke-linecap="round"/>
<path transform="scale(.5)" d="M188 182h0M305 171h0M186 200h0M285 193h0M201 215h0M160 229h0M218 224h0M169 208h0M193 229h0M219 202h0M192 179h0M328 229h0M180 214h0M312 223h0M234 207h0M220 177h0M302 218h0M258 218h0M196 193h0M207 230h0M217 179h0M163 225h0M156 224h0M185 207h0M258 218h0M276 217h0M228 193h0M297 225h0M239 192h0M240 193h0M218 225h0M208 193h0M186 188h0M157 210h0M160 196h0M102 180h0M167 193h0M176 175h0M221 222h0M274 202h0M283 210h0M318 232h0M238 176h0M219 204h0M312 223h0M154 212h0M219 226h0M230 223h0M298 173h0M266 172h0M198 214h0M221 179h0M116 223h0M223 212h0M222 205h0M331 178h0M180 194h0M161 180h0M158 224h0M134 174h0M221 181h0M159 224h0M178 177h0M228 177h0M179 224h0M183 206h0M197 190h0M147 174h0M211 227h0M124 177h0M269 190h0M157 185h0M278 192h0M238 197h0M215 230h0M192 184h0M222 172h0M154 213h0M150 182h0M121 180h0M318 174h0M127 227h0M186 229h0M114 229h0M157 212h0M193 220h0M315 217h0M225 218h0M330 215h0M329 228h0M212 189h0M122 228h0M211 178h0M320 180h0M195 215h0M242 203h0M139 221h0M118 230h0M170 186h0M183 211h0M203 201h0M225 176h0M253 227h0M321 225h0" stroke="#2f2fc8" stroke-width="2.8" stroke-linecap="round"/>
<path transform="scale(.5)" d="M150 232h0M294 173h0M121 223h0M137 178h0M225 173h0M219 195h0M307 180h0M179 224h0M192 189h0M196 207h0M180 180h0M142 221h0M170 210h0M179 194h0M167 210h0M180 187h0M252 193h0M174 182h0M192 215h0M224 188h0M216 231h0M207 231h0M201 221h0M190 186h0M139 181h0M184 200h0M177 228h0M106 220h0M164 224h0M212 179h0M210 202h0M275 174h0M251 218h0M190 172h0M130 225h0M199 227h0M166 194h0M123 225h0M274 184h0M123 205h0M300 228h0M175 209h0M110 171h0M262 211h0M210 188h0M273 190h0M247 191h0M102 227h0M281 230h0M247 173h0M204 199h0M142 223h0M246 220h0M210 203h0M231 188h0M242 209h0M315 177h0M167 185h0M154 174h0M298 232h0M244 197h0M283 216h0M219 184h0M182 220h0" stroke="#c8c8c8" stroke-width="2.8" stroke-linecap="round"/>
<path transform="scale(.5)" d="M121 178h0M181 172h0M314 220h0M177 223h0M196 226h0M281 175h0M196 189h0M129 230h0M142 217h0M263 207h0M187 196h0M312 224h0M188 229h0M151 215h0M262 173h0M184 176h0M195 224h0M328 229h0M259 176h0M320 183h0M128 174h0M282 209h0M208 194h0M153 215h0M210 190h0M217 228h0M208 214h0M284 174h0M161 193h0M216 188h0M223 213h0M171 205h0M212 183h0M227 216h0M278 171h0M230 175h0M171 218h0M161 220h0M227 210h0M103 175h0M142 181h0M220 195h0M173 211h0M183 212h0M221 199h0M237 174h0M248 172h0M115 220h0M227 218h0M302 172h0M270 193h0M219 228h0M166 232h0M212 190h0M153 230h0M154 180h0M199 179h0M172 189h0M213 194h0M318 222h0M322 183h0M306 216h0M114 223h0M272 176h0M280 208h0M164 200h0M214 182h0M239 232h0M199 225h0M195 188h0M147 199h0M319 231h0M170 227h0" stroke="#e0909a" stroke-width="2.8" stroke-linecap="round"/>
<path transform="scale(.5)" d="M130 307h0M247 306h0M104 286h0M250 315h0M130 307h0M163 297h0M117 317h0M189 292h0M219 315h0M117 304h0M155 285h0M157 281h0M217 274h0M215 269h0M216 271h0M178 292h0M181 289h0M124 274h0M160 305h0M317 282h0M205 272h0M149 281h0M122 302h0M177 295h0M181 293h0M150 314h0M280 274h0M212 318h0M257 295h0M196 274h0M157 273h0M297 269h0M200 308h0M143 290h0M123 283h0M127 285h0M163 298h0M122 317h0M118 315h0M221 312h0M224 316h0M136 297h0M184 296h0M320 270h0M112 286h0M188 315h0M130 297h0M123 324h0M221 308h0M173 289h0M105 303h0M130 287h0M193 307h0M189 303h0M246 273h0M194 301h0M134 319h0M132 315h0M257 284h0M257 279h0M263 270h0M242 320h0M262 279h0M186 310h0M177 290h0M138 325h0M135 321h0M108 303h0M200 297h0M153 288h0M195 272h0M196 276h0M214 287h0M157 276h0M123 268h0M127 314h0M237 293h0M194 303h0M232 318h0M236 316h0M326 275h0M269 269h0M178 304h0M173 302h0M106 270h0M130 300h0M126 297h0M133 304h0M230 296h0M127 307h0M104 291h0M291 273h0M129 270h0M171 312h0M174 308h0M297 279h0M315 300h0M318 297h0M163 314h0M240 314h0M223 318h0M244 287h0M188 318h0M268 297h0M193 299h0M208 316h0M129 280h0M134 280h0M185 285h0M200 288h0M139 314h0M144 305h0M212 311h0M206 278h0M187 282h0M124 274h0M127 271h0M189 271h0M178 287h0M145 313h0M221 283h0M167 326h0M171 325h0M120 303h0M199 287h0M205 290h0M306 279h0M181 292h0M183 279h0M217 280h0M200 279h0M280 274h0M143 277h0M112 317h0M151 296h0M318 274h0M258 270h0M255 273h0M144 283h0M178 283h0M280 281h0M190 278h0M307 281h0M142 293h0M208 273h0M219 276h0M309 301h0M309 296h0M202 313h0M107 300h0M230 308h0M226 306h0M322 274h0M320 270h0M255 297h0M276 279h0M186 269h0M275 284h0M103 272h0M269 290h0M231 287h0M169 294h0M171 298h0M226 319h0M257 302h0M231 306h0M233 302h0M292 290h0M184 272h0M121 277h0M152 313h0M184 289h0M182 284h0M287 286h0M290 289h0M212 281h0M132 305h0M155 279h0M151 276h0M203 272h0M225 273h0M318 278h0M133 275h0M129 275h0M162 277h0M283 279h0M266 292h0M134 298h0M205 315h0M237 272h0M317 270h0M175 291h0M172 288h0M116 271h0M186 301h0M199 273h0M143 302h0M116 272h0M167 280h0M241 271h0M138 323h0M137 274h0M259 317h0M131 275h0M305 271h0M305 281h0M115 302h0M213 308h0M202 295h0M199 275h0M181 307h0M329 274h0M271 281h0M275 280h0M146 286h0M324 286h0M103 291h0M233 306h0M270 270h0M268 273h0M254 308h0M250 311h0M294 287h0M290 284h0M106 313h0M250 305h0M253 302h0M298 310h0M186 320h0M321 271h0M140 280h0M313 277h0M213 316h0M162 309h0M198 278h0M320 287h0M179 325h0M200 312h0M197 316h0M138 278h0M236 294h0M234 298h0M229 295h0M253 314h0M175 310h0M214 285h0M309 278h0M271 274h0M271 270h0M155 309h0M174 272h0M179 273h0M117 313h0M238 279h0M252 273h0M239 272h0M148 282h0M143 271h0M175 290h0M230 291h0M241 290h0M329 272h0M140 269h0M316 276h0M213 294h0M113 287h0M274 295h0M272 291h0M134 291h0M103 314h0M265 299h0M250 269h0M250 274h0M194 290h0M197 294h0M288 280h0M304 279h0M111 307h0M260 299h0M212 272h0M237 277h0M105 280h0M318 273h0M323 272h0M114 303h0M112 299h0M146 270h0M103 272h0M322 303h0M188 275h0M186 271h0M154 312h0M160 313h0M200 308h0M228 307h0M196 291h0M131 292h0M284 273h0M255 308h0M217 290h0M192 310h0M151 308h0M167 281h0M279 311h0M277 314h0M178 296h0M215 311h0M211 309h0M228 298h0M230 302h0M222 298h0M265 280h0M277 276h0M184 282h0M188 283h0M198 325h0M253 277h0M204 321h0M134 282h0M234 313h0M185 316h0M240 302h0M261 276h0M185 281h0M267 278h0M182 311h0M178 300h0M127 277h0M124 274h0M145 326h0M191 291h0M217 269h0M283 275h0M279 273h0M327 289h0M154 290h0M274 273h0M147 315h0M147 302h0M164 274h0M267 287h0M232 288h0M246 281h0M264 285h0M105 273h0M144 305h0M175 306h0M179 308h0M253 298h0M263 297h0M200 300h0M274 283h0M327 278h0M150 298h0M137 319h0M112 325h0M116 327h0M104 325h0M307 285h0M310 281h0M243 279h0M146 290h0M239 296h0M133 319h0M234 275h0M167 317h0M193 271h0M147 315h0M173 290h0M183 307h0M182 312h0M284 290h0M159 310h0M187 271h0M191 268h0M191 289h0M238 280h0M182 271h0M179 274h0M215 302h0M199 319h0M252 289h0M251 294h0M251 285h0M115 274h0M117 270h0M234 287h0M230 290h0M273 278h0M113 290h0M150 271h0M283 286h0M161 286h0M183 308h0M252 271h0M152 312h0M151 317h0M145 297h0M291 280h0M175 315h0M180 316h0M136 311h0M135 316h0M153 300h0M222 320h0M131 271h0M143 315h0M147 314h0M126 300h0M222 307h0M183 277h0M169 290h0M175 309h0M172 306h0M307 325h0M178 295h0M244 283h0M158 284h0M175 321h0M170 320h0M262 290h0M156 293h0M146 274h0M221 290h0M245 271h0M299 270h0M200 309h0M204 310h0M109 299h0M208 275h0M156 306h0M114 288h0M120 274h0M266 280h0M135 281h0M176 288h0M149 273h0M115 280h0M165 321h0M228 314h0M254 285h0M278 285h0M255 305h0M322 276h0M185 296h0M218 292h0M190 279h0M145 325h0M168 298h0M164 295h0M184 273h0M118 315h0M184 290h0M240 296h0M222 272h0M241 279h0M107 326h0M180 281h0M149 285h0M110 272h0M177 279h0M127 273h0M186 279h0M264 287h0M187 302h0M304 271h0M261 287h0M176 269h0M237 307h0M223 303h0M173 317h0M178 316h0M274 282h0M261 272h0M308 274h0M231 287h0M234 291h0M266 284h0M194 269h0M238 311h0M236 316h0M196 272h0M319 282h0M318 278h0M174 276h0M231 299h0M290 288h0M147 320h0M176 310h0M312 285h0M278 289h0M282 289h0M155 314h0M250 304h0M248 288h0M243 283h0M178 303h0M270 283h0M267 279h0M272 309h0M115 314h0M245 318h0M154 285h0M264 281h0M300 274h0M297 277h0M272 273h0M120 287h0M182 271h0M178 273h0M256 274h0M109 304h0M255 312h0M222 305h0M178 278h0M145 294h0M209 294h0M225 311h0M242 308h0M203 315h0M283 273h0M218 286h0M102 287h0M174 321h0M175 325h0M143 277h0M222 298h0M116 300h0M232 296h0M168 285h0M251 316h0M252 312h0M248 294h0M244 296h0M269 290h0M265 288h0M144 313h0M147 315h0M160 306h0M252 278h0M155 293h0M151 296h0M133 309h0M218 299h0M129 311h0M101 276h0M328 277h0M300 285h0M294 282h0M120 288h0M125 287h0M167 276h0M116 307h0M107 321h0M144 300h0M193 307h0M268 274h0M258 309h0M151 303h0M148 299h0M205 281h0M120 309h0M123 306h0M244 287h0M205 306h0M200 279h0M179 306h0M243 278h0M155 286h0M226 280h0M114 323h0M158 272h0M135 312h0M139 310h0M147 296h0M211 300h0M211 298h0M188 274h0M165 270h0M168 302h0M225 301h0M226 280h0M228 284h0M291 272h0M276 269h0M183 304h0M162 285h0M230 317h0M202 289h0M201 294h0M165 274h0M124 313h0M162 273h0M219 272h0M180 297h0M188 314h0M205 295h0M295 287h0M155 312h0M158 309h0M194 299h0M252 299h0M263 269h0M110 292h0M314 285h0M237 284h0M233 282h0M189 282h0M203 284h0M152 287h0M122 323h0M119 295h0M140 287h0M135 287h0M253 280h0M102 314h0M214 274h0M245 273h0M120 315h0M274 276h0M293 274h0M195 310h0M185 275h0M128 295h0M222 281h0M265 275h0M253 308h0M258 286h0M258 282h0M115 292h0M303 279h0M164 271h0M251 276h0M239 288h0M267 292h0M215 285h0M196 287h0M203 304h0M206 275h0M140 275h0M307 282h0M246 298h0M268 295h0M269 291h0M121 302h0M165 297h0M197 288h0M201 286h0M326 309h0M289 313h0M173 323h0M178 323h0M113 283h0M114 278h0M182 285h0M297 282h0M162 275h0M209 276h0M134 276h0M130 279h0M307 283h0M227 279h0M191 299h0M318 269h0M115 313h0M221 304h0M292 271h0M295 274h0M140 311h0M144 312h0M203 287h0M210 297h0M217 319h0M212 307h0M231 281h0M178 290h0M143 304h0M140 308h0M142 317h0M291 269h0M283 274h0M279 272h0M172 277h0M262 280h0M104 312h0M261 305h0M257 303h0M228 314h0M240 294h0M242 310h0M177 270h0M308 301h0M310 305h0M141 307h0M218 295h0M215 299h0M183 305h0M178 304h0M189 273h0M113 303h0M170 310h0M181 292h0M235 305h0M184 272h0M273 288h0M259 270h0M227 303h0M144 302h0M125 275h0M136 283h0M140 282h0M302 282h0M125 293h0M115 319h0M210 285h0M222 296h0M219 294h0M292 277h0M164 305h0M231 297h0M129 320h0M198 272h0M140 313h0M208 284h0M272 278h0M277 277h0M227 276h0M165 289h0M168 285h0M177 293h0M274 273h0M221 273h0M213 314h0M235 315h0M238 269h0M134 284h0M211 291h0M272 278h0M272 283h0M153 321h0M163 306h0M167 304h0M177 316h0M157 319h0M156 323h0M276 281h0M237 292h0M194 314h0M272 292h0M268 289h0M136 300h0M137 305h0M191 308h0M138 311h0M203 292h0M190 284h0M113 302h0M114 304h0M159 285h0M103 307h0M117 298h0M112 298h0M180 270h0M114 279h0M293 282h0M134 306h0M243 302h0M156 300h0M321 269h0M177 279h0M132 274h0M185 287h0M151 310h0M259 303h0M267 282h0M150 321h0M188 278h0M203 301h0M206 298h0M314 279h0M318 277h0M239 283h0M158 280h0M220 299h0M252 307h0M246 317h0M108 309h0M300 282h0M152 324h0M181 287h0M232 277h0M236 276h0M176 306h0M172 304h0M248 300h0M253 300h0M143 294h0M221 285h0M134 273h0M183 273h0M296 287h0M294 283h0M126 287h0M109 297h0M247 271h0M246 276h0M262 286h0M254 288h0M241 297h0M232 299h0M228 301h0M217 295h0M147 289h0M142 289h0M156 273h0M330 272h0M290 275h0M287 271h0M264 325h0M115 308h0M208 275h0M252 307h0M131 277h0M149 287h0M212 314h0M147 292h0M130 270h0M259 292h0M271 296h0M269 292h0M136 277h0M131 277h0M119 321h0M148 273h0M118 272h0M120 305h0M184 300h0M188 303h0M185 321h0M108 324h0M170 272h0M289 285h0M125 283h0M181 319h0M212 312h0M162 307h0M155 311h0M151 311h0M183 284h0M184 288h0M223 307h0M212 321h0M187 281h0M220 292h0M164 319h0M109 275h0M142 317h0M260 270h0" stroke="#d42a3a" stroke-width="2.8" stroke-linecap="round"/>
<path transform="scale(.5)" d="M248 313h0M185 278h0M186 280h0M188 281h0M247 301h0M248 299h0M249 297h0M156 283h0M149 326h0M150 324h0M151 322h0M216 271h0M180 290h0M306 293h0M308 294h0M310 295h0M122 305h0M179 294h0M279 276h0M210 320h0M155 272h0M125 284h0M224 282h0M221 281h0M219 280h0M120 316h0M222 314h0M250 306h0M252 305h0M255 305h0M190 315h0M130 295h0M180 290h0M178 289h0M175 289h0M260 301h0M262 302h0M264 302h0M191 305h0M246 275h0M133 317h0M257 282h0M315 288h0M313 287h0M311 285h0M262 282h0M253 278h0M254 276h0M256 274h0M136 323h0M196 274h0M125 270h0M234 317h0M176 303h0M128 299h0M135 305h0M101 291h0M293 274h0M169 281h0M172 281h0M174 281h0M173 310h0M300 279h0M317 298h0M242 286h0M185 317h0M192 301h0M131 280h0M126 272h0M180 285h0M143 315h0M169 325h0M203 291h0M279 272h0M234 292h0M232 290h0M231 288h0M108 297h0M106 297h0M104 298h0M257 271h0M279 283h0M309 299h0M228 307h0M321 272h0M106 272h0M170 296h0M228 318h0M232 304h0M150 312h0M289 287h0M153 277h0M223 273h0M131 275h0M135 296h0M203 314h0M153 290h0M153 287h0M153 285h0M236 270h0M174 289h0M250 293h0M249 295h0M248 297h0M137 322h0M117 302h0M331 275h0M273 280h0M323 284h0M234 308h0M269 271h0M252 310h0M292 285h0M109 314h0M251 304h0M314 279h0M199 314h0M235 296h0M271 272h0M176 272h0M238 281h0M240 292h0M328 270h0M273 293h0M250 271h0M196 292h0M238 274h0M125 306h0M124 304h0M123 302h0M106 282h0M321 273h0M113 301h0M105 273h0M187 273h0M129 291h0M278 313h0M213 310h0M195 271h0M193 272h0M191 273h0M229 300h0M278 274h0M186 282h0M119 272h0M121 271h0M123 269h0M136 281h0M238 303h0M263 277h0M101 299h0M102 298h0M104 296h0M125 276h0M281 274h0M103 272h0M177 307h0M264 290h0M262 291h0M260 293h0M139 318h0M135 302h0M136 301h0M138 299h0M114 326h0M308 283h0M143 304h0M145 302h0M147 301h0M131 320h0M169 319h0M183 309h0M189 270h0M147 303h0M146 305h0M146 308h0M180 272h0M213 302h0M251 291h0M116 272h0M232 288h0M283 289h0M152 315h0M178 315h0M136 313h0M220 321h0M145 314h0M112 283h0M110 283h0M107 283h0M173 308h0M305 327h0M173 321h0M126 319h0M128 319h0M130 319h0M118 300h0M116 301h0M114 302h0M202 309h0M264 281h0M132 281h0M177 291h0M166 297h0M181 273h0M190 303h0M309 281h0M307 281h0M304 281h0M263 287h0M236 305h0M176 316h0M233 289h0M237 314h0M199 272h0M318 280h0M229 298h0M280 289h0M251 306h0M269 281h0M150 295h0M152 296h0M154 297h0M247 319h0M298 275h0M263 296h0M262 294h0M261 292h0M271 275h0M180 272h0M223 303h0M285 274h0M175 323h0M234 297h0M168 283h0M251 314h0M246 295h0M267 289h0M146 314h0M153 294h0M117 319h0M120 320h0M122 320h0M123 288h0M267 272h0M150 301h0M206 295h0M206 292h0M206 290h0M183 293h0M183 296h0M184 298h0M122 307h0M198 278h0M112 324h0M137 311h0M227 282h0M229 315h0M201 292h0M162 271h0M180 295h0M175 287h0M174 289h0M173 291h0M157 310h0M112 294h0M235 283h0M120 293h0M138 287h0M264 277h0M258 284h0M250 278h0M138 275h0M309 283h0M269 293h0M199 287h0M291 313h0M175 323h0M114 280h0M132 277h0M298 275h0M299 277h0M300 279h0M294 272h0M142 311h0M178 273h0M180 275h0M181 277h0M230 279h0M181 290h0M141 306h0M281 273h0M105 310h0M259 304h0M242 292h0M240 309h0M180 270h0M115 280h0M114 278h0M113 276h0M309 303h0M140 305h0M216 297h0M181 304h0M170 313h0M182 294h0M181 271h0M229 304h0M138 283h0M113 318h0M211 283h0M181 319h0M183 320h0M185 321h0M210 284h0M275 278h0M167 287h0M239 271h0M136 285h0M272 281h0M165 305h0M157 321h0M275 282h0M270 290h0M136 303h0M193 307h0M132 281h0M133 279h0M134 277h0M102 309h0M114 298h0M182 269h0M190 279h0M204 299h0M316 278h0M241 282h0M156 281h0M251 309h0M154 322h0M178 287h0M234 276h0M174 305h0M251 300h0M185 272h0M295 285h0M247 273h0M254 290h0M230 300h0M219 294h0M145 289h0M122 297h0M122 300h0M121 302h0M328 271h0M289 273h0M144 296h0M145 294h0M146 292h0M131 275h0M147 295h0M257 293h0M270 294h0M134 277h0M120 323h0M186 301h0M291 285h0M153 311h0M293 283h0M291 285h0M289 286h0M184 286h0" stroke="#3a4a4a" stroke-width="2.8" stroke-linecap="round"/>
<path transform="scale(.5)" d="M133 277h0M138 272h0M234 309h0M218 280h0M178 284h0M320 275h0M119 294h0M228 320h0M161 319h0M212 280h0M222 292h0M239 270h0M268 273h0M150 298h0M222 290h0M147 323h0M298 275h0M156 277h0M117 282h0M174 320h0M302 280h0M133 282h0M145 298h0M196 293h0M200 296h0M255 280h0M254 296h0M326 276h0M266 288h0M265 283h0M267 280h0M330 274h0M176 296h0M240 311h0M200 309h0M212 316h0M185 273h0M238 304h0M330 285h0M198 316h0M189 304h0M253 286h0M329 276h0M186 273h0M163 305h0M257 272h0M137 313h0M167 279h0M270 282h0M250 291h0M105 324h0M108 277h0M140 325h0M161 288h0M241 315h0M108 294h0M306 279h0M203 269h0M179 291h0M116 316h0M150 301h0M310 281h0M204 279h0M173 296h0M152 283h0M136 285h0M151 294h0M129 320h0M227 279h0M198 294h0M299 271h0M218 316h0M197 280h0M304 279h0M272 293h0M182 278h0M238 284h0M290 287h0M232 303h0M232 311h0M153 285h0M118 275h0M147 311h0M138 294h0M123 282h0M258 291h0M294 274h0M208 308h0M199 302h0M167 272h0M236 291h0" stroke="#2f2fc8" stroke-width="2.8" stroke-linecap="round"/>
<path transform="scale(.5)" d="M271 284h0M303 277h0M258 296h0M269 286h0M328 277h0M283 277h0M146 294h0M240 297h0M159 272h0M186 289h0M228 299h0M242 272h0M216 307h0M303 270h0M216 287h0M228 313h0M116 311h0M250 293h0M136 325h0M198 305h0M168 320h0M141 273h0M190 293h0M265 276h0M145 298h0M245 270h0M202 281h0M205 281h0M197 272h0M114 277h0M229 294h0M204 277h0M267 271h0M303 271h0M194 310h0M238 277h0M224 279h0M109 294h0M226 278h0M185 297h0M140 281h0M111 298h0M133 325h0M165 300h0M237 298h0M133 319h0M237 270h0M196 276h0M108 271h0M175 274h0M270 296h0M273 284h0M101 320h0M186 273h0M305 283h0M239 299h0M301 283h0M235 300h0M137 283h0M292 310h0M189 282h0M190 299h0" stroke="#c8c8c8" stroke-width="2.8" stroke-linecap="round"/>
<path transform="scale(.5)" d="M231 306h0M299 284h0M315 269h0M248 309h0M259 296h0M145 310h0M167 310h0M245 281h0M142 291h0M102 319h0M171 290h0M102 301h0M171 283h0M287 283h0M149 284h0M243 271h0M116 293h0M205 281h0M124 293h0M176 273h0M240 314h0M212 325h0M256 296h0M132 273h0M207 287h0M193 276h0M207 307h0M108 274h0M265 283h0M162 293h0M246 269h0M134 291h0M236 292h0M277 272h0M270 302h0M258 297h0M233 274h0M185 296h0M243 294h0M139 305h0M206 290h0M251 297h0M282 276h0M254 305h0M226 304h0M196 280h0M178 300h0M183 321h0M150 275h0M107 283h0M248 317h0M253 297h0M200 293h0M295 287h0M273 277h0M296 290h0M212 278h0M259 306h0M166 280h0M236 281h0M256 306h0M285 283h0M234 288h0M140 318h0M143 285h0M135 280h0M150 271h0M102 300h0M167 270h0M178 289h0M135 303h0M212 281h0M217 311h0M199 312h0M131 289h0M180 294h0M139 290h0" stroke="#e0909a" stroke-width="2.8" stroke-linecap="round"/>
<path transform="scale(.5)" d="M196 421h0M217 421h0M132 375h0M155 407h0M193 385h0M242 410h0M275 404h0M264 383h0M173 406h0M186 382h0M243 394h0M138 373h0M158 376h0M148 417h0M237 391h0M188 398h0M140 382h0M145 381h0M229 379h0M106 371h0M295 427h0M199 417h0M203 391h0M147 369h0M149 373h0M221 423h0M147 409h0M269 370h0M272 369h0M227 369h0M142 371h0M163 406h0M294 427h0M147 379h0M264 379h0M140 370h0M151 412h0M174 425h0M118 375h0M266 414h0M214 414h0M165 375h0M128 426h0M133 425h0M154 375h0M222 404h0M122 370h0M176 382h0M148 419h0M324 380h0M207 400h0M208 418h0M276 378h0M272 375h0M321 425h0M105 421h0M109 422h0M164 369h0M209 380h0M212 379h0M150 371h0M258 397h0M161 370h0M165 373h0M180 383h0M113 420h0M164 387h0M222 404h0M217 391h0M255 384h0M247 373h0M237 379h0M197 401h0M201 402h0M243 406h0M210 386h0M159 425h0M265 380h0M260 379h0M241 369h0M237 412h0M236 417h0M245 388h0M241 390h0M101 393h0M106 376h0M108 380h0M161 370h0M151 369h0M186 390h0M182 418h0M308 406h0M311 373h0M308 369h0M259 407h0M183 394h0M330 409h0M180 388h0M233 385h0M303 420h0M307 420h0M155 377h0M147 418h0M106 372h0M169 425h0M226 405h0M286 379h0M215 373h0M277 368h0M105 375h0M195 401h0M180 399h0M205 415h0M255 382h0M213 425h0M294 413h0M119 422h0M120 421h0M194 406h0M164 388h0M198 413h0M290 423h0M309 425h0M168 419h0M253 374h0M241 400h0M170 409h0M165 410h0M253 378h0M222 395h0M243 414h0M155 403h0M285 426h0M228 382h0M254 393h0M254 398h0M165 393h0M212 404h0M204 408h0M295 377h0M142 415h0M202 407h0M199 404h0M292 400h0M216 382h0M326 416h0M246 371h0M165 399h0M152 411h0M231 394h0M183 374h0M230 412h0M169 396h0M140 427h0M326 427h0M160 392h0M204 394h0M210 398h0M241 369h0M246 370h0M178 384h0M178 388h0M186 398h0M279 428h0M105 421h0M244 371h0M210 426h0M158 376h0M265 370h0M213 388h0M109 375h0M208 424h0M324 377h0M209 426h0M143 420h0M172 374h0M188 427h0M184 425h0M218 416h0M237 396h0M115 381h0M280 370h0M252 375h0M234 394h0M159 397h0M311 419h0M283 411h0M279 409h0M173 424h0M259 384h0M183 402h0M183 407h0M237 425h0M330 409h0M236 387h0M222 397h0M322 418h0M319 415h0M218 415h0M298 376h0M133 374h0M212 413h0M187 380h0M277 377h0M322 369h0M123 427h0M216 378h0M141 422h0M221 426h0M276 414h0M323 374h0M194 416h0M314 378h0M280 394h0M166 417h0M154 371h0M215 408h0M219 406h0M148 422h0M192 416h0M165 427h0M174 388h0M279 379h0M266 389h0M184 400h0M266 370h0M274 380h0M278 382h0M145 422h0M152 372h0M242 413h0M228 416h0M186 368h0M272 402h0M186 423h0M182 421h0M103 376h0M229 391h0M227 395h0M176 415h0M178 419h0M211 407h0M144 398h0M222 411h0M221 406h0M236 387h0M216 376h0M214 380h0M249 374h0M131 375h0M198 383h0M263 403h0M195 403h0M190 404h0M252 420h0M292 375h0M166 415h0M143 415h0M158 388h0M248 405h0M184 413h0M214 422h0M209 421h0M152 371h0M170 428h0M123 371h0M231 393h0M138 418h0M180 408h0M211 416h0M207 414h0M320 424h0M179 411h0M204 382h0M204 384h0M212 425h0M129 419h0M158 402h0M253 428h0M117 418h0M185 419h0M187 415h0M228 428h0M318 377h0M310 423h0M279 403h0M197 399h0M201 402h0M106 387h0M217 424h0M316 415h0M145 382h0M141 380h0M242 393h0M309 376h0M184 373h0M249 376h0M191 410h0M201 376h0M159 426h0M165 422h0M161 419h0M208 375h0M105 375h0M118 389h0M134 426h0M276 376h0M265 374h0M276 395h0M115 417h0M277 395h0M172 389h0M219 406h0M222 410h0M199 421h0M240 407h0M170 413h0M233 388h0M231 392h0M202 379h0M286 370h0M227 409h0M225 396h0M229 398h0M168 404h0M249 372h0M181 381h0M138 421h0M179 422h0M232 378h0M205 389h0M120 378h0M123 375h0M213 406h0M223 404h0M240 421h0M172 419h0M207 401h0M319 372h0M199 410h0M257 380h0M236 381h0M309 417h0M306 371h0M181 390h0M178 378h0M316 376h0M156 383h0M229 387h0M315 427h0M173 410h0M160 399h0M167 399h0M322 428h0M236 403h0M234 408h0M201 394h0M297 389h0M203 398h0M226 387h0M292 379h0M308 421h0M308 426h0M168 419h0M166 422h0M223 417h0M223 413h0M151 385h0M161 390h0M281 410h0M146 373h0M149 380h0M314 415h0M233 402h0M232 406h0M262 403h0M257 402h0M233 412h0M229 412h0M227 425h0M229 421h0M241 409h0M152 408h0M178 410h0M183 371h0M293 369h0M259 370h0M317 372h0M192 417h0M243 402h0M248 412h0M115 368h0M184 379h0M252 387h0M154 388h0M318 417h0M292 415h0M327 378h0M177 416h0M246 407h0M241 406h0M261 370h0M324 426h0M302 421h0M276 395h0M280 393h0M201 394h0M205 395h0M193 377h0M170 406h0M169 411h0M176 383h0M173 372h0M253 409h0M117 419h0M184 394h0M188 393h0M185 423h0M248 393h0M243 392h0M278 419h0M274 416h0M302 424h0M290 418h0M288 422h0M215 374h0M214 378h0M236 419h0M208 400h0M236 416h0M238 420h0M255 373h0M187 407h0M183 404h0M185 402h0M247 389h0M269 383h0M267 398h0M225 375h0M229 373h0M117 422h0M238 413h0M218 414h0M183 369h0M227 398h0M140 372h0M211 395h0M207 398h0M161 372h0M168 405h0M162 384h0M141 375h0M212 419h0M306 420h0M301 423h0M281 409h0M149 373h0M320 420h0M165 422h0M183 416h0M113 416h0M161 369h0M239 415h0M260 371h0M212 402h0M321 373h0M227 387h0M247 393h0M222 370h0M294 379h0M298 415h0M286 381h0M290 384h0M289 370h0M105 411h0M314 371h0M105 420h0M102 370h0M204 425h0M184 376h0M196 382h0M173 388h0M243 399h0M240 402h0M294 376h0M106 375h0M157 405h0M178 400h0M176 404h0M108 427h0M307 429h0M330 371h0M327 368h0M185 374h0M282 387h0M173 370h0M177 368h0M168 408h0M164 406h0M287 368h0M224 377h0M265 411h0M181 425h0M249 393h0M192 391h0M141 373h0M186 368h0M165 392h0M273 406h0M185 399h0M200 385h0M209 396h0M190 405h0M287 417h0M167 395h0M239 370h0M210 378h0M199 422h0M140 413h0M214 385h0M162 400h0M127 369h0M176 391h0M225 420h0M229 418h0M218 413h0M189 374h0M295 422h0M305 416h0M306 425h0M164 403h0M172 374h0M171 369h0M159 380h0M186 425h0M226 395h0M325 376h0M116 376h0M220 391h0M271 389h0M272 418h0M274 413h0M280 376h0M328 374h0M332 375h0M190 427h0M257 408h0M153 417h0M149 416h0M302 424h0M202 400h0M224 415h0M155 416h0M158 420h0M317 428h0M323 410h0M199 378h0M146 414h0M175 390h0M178 387h0M198 388h0M127 375h0M198 392h0M297 430h0M296 426h0M174 401h0M235 398h0M231 395h0M180 385h0M179 380h0M305 375h0M304 373h0M193 402h0M166 396h0M181 403h0M139 422h0M239 408h0M277 371h0M235 427h0M153 415h0M306 371h0M311 370h0M322 423h0M326 421h0M152 386h0M321 419h0M163 408h0M268 411h0M267 392h0M231 400h0M201 378h0M205 420h0M207 416h0M183 393h0M180 390h0M109 410h0M139 426h0M146 421h0M305 418h0M150 385h0M149 390h0M238 414h0M189 422h0M118 377h0M244 408h0M268 369h0M303 375h0M308 374h0M149 377h0M233 390h0M275 401h0M324 427h0M197 420h0M239 377h0M189 375h0M234 385h0M230 421h0M277 380h0M235 398h0M171 381h0M124 379h0M319 375h0M269 420h0M188 400h0M185 377h0M223 389h0M221 385h0M245 382h0M311 427h0M310 422h0M120 369h0M292 379h0M153 409h0M184 399h0M176 410h0M205 416h0M294 420h0M212 417h0M296 376h0M264 383h0M315 418h0M276 371h0M247 424h0M181 425h0M141 372h0M322 374h0M240 382h0M112 384h0M283 370h0M172 421h0M182 373h0M305 425h0M289 412h0M163 398h0M105 373h0M167 378h0M106 387h0M104 383h0M222 394h0M118 425h0M216 399h0M221 400h0M115 368h0M308 369h0M162 398h0M243 371h0M242 367h0M254 421h0M267 384h0M297 414h0M257 397h0M152 380h0M102 368h0M233 428h0M130 423h0M231 424h0M227 422h0M108 419h0M175 373h0M309 376h0M229 385h0M231 391h0M221 394h0M192 381h0M266 376h0M167 414h0M173 389h0M190 372h0M232 374h0M234 369h0M179 374h0M206 386h0M190 421h0M192 420h0M280 408h0M316 419h0M196 410h0M206 395h0M201 394h0M224 417h0M192 375h0M190 388h0M152 405h0M202 405h0M154 380h0M228 390h0M171 421h0M284 409h0M148 379h0M181 400h0M105 371h0M193 400h0M244 378h0M240 378h0M129 377h0M130 372h0M221 420h0M137 371h0M191 404h0M165 383h0M131 421h0M154 389h0M166 372h0M175 399h0M316 428h0M312 372h0M220 402h0M184 379h0M201 399h0M197 403h0M198 407h0M321 371h0M245 398h0M236 369h0M113 422h0M327 412h0M243 379h0M182 405h0M186 407h0M304 376h0M175 402h0M149 378h0M179 427h0M209 367h0M242 404h0M309 426h0M168 374h0M162 372h0M173 379h0M291 373h0M159 421h0M171 400h0M127 420h0M176 373h0M139 417h0M235 394h0M229 371h0M293 426h0M276 418h0M276 423h0M203 405h0M208 392h0M243 398h0M215 423h0M215 428h0M252 410h0M181 388h0M179 383h0M249 373h0M167 377h0M327 416h0M109 418h0M297 370h0M294 367h0M220 398h0M176 425h0M204 425h0M191 393h0M153 410h0M208 399h0M212 399h0M271 378h0M267 380h0M211 407h0M182 427h0M246 404h0M154 381h0M150 427h0M268 414h0M191 397h0M195 399h0M168 399h0M173 400h0M145 419h0M246 394h0M214 421h0M146 374h0M149 371h0M156 373h0M193 412h0M233 421h0M212 403h0M210 407h0M211 405h0M308 417h0M306 421h0M287 402h0M285 398h0M141 417h0M249 387h0M246 397h0M218 421h0M194 390h0M303 425h0M283 422h0M298 368h0M153 392h0M152 406h0M121 418h0M240 371h0M295 426h0M300 424h0M151 408h0M190 411h0M212 385h0M316 376h0M292 423h0M185 416h0M188 413h0M204 404h0" stroke="#d42a3a" stroke-width="2.8" stroke-linecap="round"/>
<path transform="scale(.5)" d="M264 386h0M172 404h0M187 380h0M142 381h0M229 381h0M288 381h0M288 379h0M288 377h0M148 371h0M153 411h0M121 374h0M265 412h0M131 425h0M220 404h0M327 381h0M274 377h0M107 421h0M163 372h0M178 383h0M263 404h0M263 402h0M263 399h0M248 375h0M199 402h0M212 386h0M263 379h0M329 409h0M326 409h0M324 409h0M239 413h0M243 389h0M107 378h0M310 371h0M286 410h0M285 408h0M283 406h0M264 412h0M265 410h0M266 408h0M230 385h0M305 420h0M105 377h0M195 403h0M168 410h0M283 426h0M226 382h0M254 396h0M298 378h0M201 406h0M203 396h0M213 399h0M244 369h0M178 386h0M156 375h0M327 412h0M328 410h0M329 408h0M107 376h0M186 426h0M221 416h0M106 378h0M108 378h0M111 378h0M116 379h0M175 408h0M177 407h0M179 406h0M281 410h0M172 423h0M183 405h0M321 417h0M286 374h0M284 374h0M281 375h0M300 376h0M325 372h0M217 407h0M276 381h0M184 422h0M101 377h0M227 392h0M228 393h0M177 417h0M212 408h0M222 409h0M215 378h0M262 401h0M193 404h0M250 405h0M211 422h0M169 426h0M209 415h0M319 422h0M179 408h0M255 427h0M186 417h0M128 427h0M129 425h0M130 423h0M199 400h0M103 387h0M218 422h0M143 381h0M163 421h0M182 411h0M182 413h0M181 416h0M264 376h0M221 408h0M232 390h0M270 428h0M271 426h0M272 424h0M227 397h0M183 383h0M139 419h0M121 377h0M159 398h0M161 399h0M163 400h0M178 418h0M177 420h0M177 423h0M307 416h0M112 370h0M114 370h0M116 371h0M172 412h0M323 426h0M235 406h0M308 423h0M167 421h0M223 415h0M279 409h0M312 415h0M232 404h0M259 402h0M231 412h0M228 423h0M180 409h0M243 399h0M293 413h0M243 407h0M278 394h0M203 394h0M170 409h0M186 394h0M245 393h0M276 418h0M289 420h0M215 376h0M237 418h0M136 422h0M133 421h0M131 420h0M185 405h0M186 400h0M245 388h0M227 374h0M209 396h0M291 374h0M289 374h0M287 373h0M279 407h0M111 417h0M297 413h0M288 382h0M102 411h0M317 371h0M241 401h0M292 374h0M177 402h0M161 413h0M161 416h0M161 418h0M307 427h0M329 370h0M186 372h0M140 415h0M141 417h0M142 419h0M175 369h0M166 407h0M288 370h0M264 409h0M195 391h0M165 390h0M209 380h0M199 420h0M212 384h0M227 419h0M219 415h0M304 418h0M308 424h0M172 372h0M241 376h0M239 377h0M238 379h0M222 392h0M261 377h0M259 376h0M258 374h0M273 415h0M330 375h0M168 379h0M169 377h0M169 375h0M151 416h0M200 386h0M202 384h0M203 383h0M303 422h0M203 398h0M222 414h0M156 418h0M147 415h0M176 388h0M125 375h0M199 390h0M297 428h0M228 378h0M227 379h0M225 381h0M233 396h0M179 383h0M195 401h0M165 394h0M182 404h0M184 403h0M186 402h0M308 370h0M324 422h0M153 388h0M161 407h0M231 402h0M206 418h0M181 391h0M268 396h0M266 394h0M265 392h0M107 411h0M141 427h0M148 423h0M150 387h0M305 374h0M234 392h0M237 376h0M229 419h0M235 400h0M122 378h0M188 398h0M222 387h0M246 384h0M311 425h0M155 411h0M188 371h0M190 371h0M192 372h0M174 373h0M172 374h0M170 375h0M247 426h0M182 423h0M182 370h0M105 385h0M224 392h0M218 399h0M160 398h0M242 369h0M304 422h0M306 421h0M308 419h0M104 369h0M229 423h0M309 374h0M219 394h0M233 371h0M206 383h0M193 418h0M203 394h0M207 406h0M205 405h0M203 404h0M192 397h0M242 378h0M130 375h0M104 369h0M106 371h0M108 372h0M182 422h0M184 420h0M185 419h0M175 419h0M176 417h0M177 415h0M219 404h0M197 405h0M243 398h0M184 406h0M176 405h0M209 369h0M244 402h0M266 411h0M268 409h0M270 408h0M159 423h0M177 371h0M276 421h0M215 426h0M250 412h0M180 385h0M149 407h0M147 408h0M145 409h0M205 367h0M207 368h0M209 369h0M296 368h0M220 401h0M177 427h0M204 427h0M191 396h0M210 399h0M269 379h0M269 416h0M193 398h0M170 399h0M248 393h0M213 419h0M147 373h0M276 374h0M274 376h0M273 378h0M211 405h0M307 419h0M286 400h0M304 427h0M285 421h0M298 425h0M209 386h0M211 388h0M213 389h0M316 378h0M187 415h0" stroke="#3a4a4a" stroke-width="2.8" stroke-linecap="round"/>
<path transform="scale(.5)" d="M199 374h0M267 376h0M119 423h0M161 403h0M234 379h0M224 395h0M111 381h0M234 406h0M204 416h0M203 420h0M330 377h0M311 372h0M165 418h0M153 370h0M152 386h0M251 369h0M173 420h0M227 394h0M168 411h0M189 401h0M226 423h0M281 371h0M236 403h0M266 409h0M118 420h0M217 411h0M191 372h0M111 376h0M210 412h0M152 410h0M166 372h0M264 372h0M160 421h0M176 394h0M229 405h0M154 418h0M267 393h0M115 418h0M222 416h0M224 389h0M174 368h0M290 380h0M165 411h0M170 392h0M226 424h0M324 368h0M176 384h0M275 397h0M151 379h0M179 410h0M108 374h0M276 372h0M124 371h0M257 378h0M236 418h0M143 375h0M169 372h0M173 408h0M240 415h0M213 396h0M267 392h0M154 416h0M193 394h0M188 397h0M236 369h0M282 424h0M190 374h0M189 391h0M276 391h0M169 380h0M182 395h0M288 422h0M128 372h0M246 375h0M241 399h0M312 416h0M235 427h0M150 408h0M236 373h0M268 413h0M199 409h0M287 369h0M241 422h0M221 424h0M216 405h0M173 388h0M193 393h0M220 381h0M206 389h0M142 424h0M317 416h0M304 370h0M275 407h0M317 370h0" stroke="#2f2fc8" stroke-width="2.8" stroke-linecap="round"/>
<path transform="scale(.5)" d="M209 382h0M156 416h0M141 370h0M244 387h0M256 397h0M304 378h0M255 380h0M178 381h0M155 374h0M179 419h0M256 424h0M120 418h0M131 415h0M248 424h0M171 390h0M303 369h0M233 416h0M117 427h0M311 419h0M217 370h0M322 387h0M113 420h0M279 392h0M234 408h0M190 411h0M213 394h0M194 405h0M299 369h0M264 414h0M154 380h0M138 420h0M302 371h0M222 400h0M190 376h0M231 378h0M132 374h0M226 413h0M256 368h0M208 378h0M211 398h0M279 422h0M273 376h0M198 385h0M161 385h0M296 372h0M198 397h0M208 424h0M110 376h0M206 379h0M323 370h0M248 421h0M132 425h0M191 386h0M158 422h0M179 421h0M101 395h0M178 377h0M194 417h0M234 400h0M321 418h0M182 380h0M153 418h0M157 383h0M114 376h0M139 426h0M221 406h0" stroke="#c8c8c8" stroke-width="2.8" stroke-linecap="round"/>
<path transform="scale(.5)" d="M279 383h0M202 409h0M107 374h0M152 414h0M234 414h0M163 391h0M207 410h0M175 420h0M267 396h0M203 383h0M233 401h0M253 384h0M177 378h0M130 422h0M197 420h0M177 413h0M197 414h0M158 413h0M258 380h0M329 405h0M185 403h0M326 423h0M168 379h0M250 413h0M113 373h0M243 389h0M235 392h0M161 416h0M204 410h0M307 394h0M187 388h0M230 420h0M267 369h0M108 377h0M244 412h0M128 369h0M121 409h0M276 410h0M320 415h0M290 375h0M237 413h0M222 394h0M197 396h0M251 417h0M213 424h0M189 407h0M323 421h0M159 375h0M274 383h0M216 426h0M323 421h0M180 379h0M146 369h0M329 378h0M166 414h0M180 416h0M265 381h0M195 381h0M135 421h0M119 372h0M132 426h0M186 372h0M207 395h0M201 426h0M297 393h0M159 398h0M152 418h0M322 424h0M163 412h0M268 379h0M236 382h0M246 388h0M143 412h0M233 411h0M181 408h0M122 423h0M287 420h0M161 380h0M135 427h0" stroke="#e0909a" stroke-width="2.8" stroke-linecap="round"/>
</g>
<text x="238.6" y="10.2" font-size="13.8" text-anchor="middle">5 ps</text>
<rect x="179.6" y="15.6" width="116.5" height="267.9" fill="none" stroke="#8a8a8a" stroke-width="1.1"/>
<g filter="url(#soft)">
<rect transform="translate(179 18)" width="117.7" height="15.3" fill="url(#slab)"/>
<path d="M175.6 21.6h3.4M296.7 21.6h3.4M175.6 26.9h3.4M296.7 26.9h3.4M175.6 31.2h3.4M296.7 31.2h3.4" stroke="#a0a0a0" stroke-width="0.6"/>
<rect transform="translate(179 266.7)" width="117.7" height="15.3" fill="url(#slab)"/>
<path d="M175.6 270.3h3.4M296.7 270.3h3.4M175.6 275.6h3.4M296.7 275.6h3.4M175.6 279.9h3.4M296.7 279.9h3.4" stroke="#a0a0a0" stroke-width="0.6"/>
<path transform="scale(.5)" d="M575 95h0M573 94h0M431 120h0M429 121h0M581 89h0M580 87h0M470 80h0M468 79h0M452 93h0M451 95h0M477 95h0M552 115h0M550 116h0M580 117h0M576 114h0M481 119h0M479 120h0M467 82h0M386 82h0M404 104h0M406 104h0M466 114h0M581 79h0M582 81h0M514 79h0M565 115h0M564 113h0M430 102h0M466 112h0M554 124h0M470 101h0M472 102h0M560 106h0M391 95h0M389 96h0M380 107h0M403 88h0M399 85h0M495 114h0M499 97h0M459 80h0M457 81h0M523 105h0M372 108h0M577 95h0M425 95h0M384 97h0M381 94h0M470 91h0M569 123h0M429 115h0M429 117h0M430 96h0M431 93h0M388 122h0M389 120h0M408 85h0M410 84h0M442 83h0M547 89h0M436 117h0M459 88h0M461 88h0M500 88h0M499 90h0M385 85h0M415 114h0M523 82h0M405 108h0M428 123h0M485 123h0M480 124h0M464 94h0M561 99h0M561 101h0M425 122h0M423 122h0M487 94h0M582 100h0M584 102h0M528 103h0M527 107h0M467 90h0M469 91h0M527 116h0M442 118h0M385 79h0M387 80h0M491 103h0M490 101h0M582 109h0M383 109h0M451 101h0M484 91h0M407 92h0M373 122h0M560 79h0M372 79h0M372 77h0M442 121h0M445 121h0M535 102h0M436 84h0M438 85h0M485 95h0M524 113h0M519 83h0M518 85h0M520 107h0M452 93h0M452 91h0M475 89h0M486 79h0M552 98h0M550 97h0M383 100h0M569 91h0M564 92h0M471 111h0M490 80h0M489 84h0M573 102h0M570 102h0M413 124h0M411 124h0M573 104h0M439 115h0M507 98h0M545 81h0M432 113h0M437 114h0M432 110h0M397 85h0M396 83h0M572 81h0M569 98h0M407 83h0M409 84h0M529 101h0M375 118h0M375 116h0M483 81h0M485 80h0M425 97h0M422 94h0M394 86h0M544 78h0M544 80h0M420 102h0M374 79h0M554 115h0M554 112h0M367 89h0M496 93h0M488 117h0M381 94h0M571 97h0" stroke="#d42a3a" stroke-width="2.7" stroke-linecap="round"/>
<path transform="scale(.5)" d="M401 86h0M382 96h0M483 124h0M527 105h0M566 92h0M489 82h0M435 114h0M424 96h0" stroke="#3a4a4a" stroke-width="2.7" stroke-linecap="round"/>
<path transform="scale(.5)" d="M438 502h0M440 502h0M493 502h0M491 506h0M439 507h0M438 509h0M572 523h0M571 519h0M548 518h0M550 516h0M487 488h0M580 480h0M547 510h0M549 509h0M537 503h0M539 501h0M402 483h0M399 484h0M572 489h0M405 493h0M450 484h0M452 483h0M517 477h0M469 480h0M374 476h0M375 474h0M502 517h0M461 512h0M445 477h0M398 522h0M369 498h0M544 502h0M542 503h0M388 476h0M390 475h0M583 510h0M506 501h0M504 502h0M425 479h0M427 477h0M525 481h0M527 479h0M471 474h0M391 488h0M395 491h0M462 504h0M403 502h0M482 484h0M424 514h0M585 501h0M521 492h0M520 490h0M404 487h0M401 487h0M476 478h0M478 478h0M532 486h0M531 488h0M543 505h0M542 501h0M564 491h0M563 489h0M410 511h0M412 510h0M478 515h0M488 476h0M510 518h0M512 519h0M422 509h0M471 482h0M562 473h0M567 475h0M410 505h0M488 477h0M486 477h0M414 472h0M411 473h0M474 491h0M488 489h0M487 491h0M463 490h0M566 496h0M551 490h0M570 513h0M379 508h0M556 498h0M555 496h0M423 487h0M553 509h0M555 510h0M447 496h0M448 493h0M470 512h0M387 487h0M558 493h0M448 483h0M448 485h0M526 505h0M435 513h0M437 515h0M467 482h0M383 498h0M384 500h0M489 507h0M487 508h0M585 520h0M584 522h0M402 482h0M404 482h0M458 514h0M418 507h0M420 508h0M399 503h0M399 500h0M415 499h0M417 498h0M533 516h0M581 503h0M407 513h0M472 497h0M474 497h0M406 482h0M526 494h0M507 507h0M509 508h0M544 521h0M386 517h0M532 492h0M430 504h0M427 504h0M391 513h0M529 474h0M421 495h0M383 490h0M473 504h0M407 490h0M537 487h0M537 489h0M559 477h0M560 479h0M436 491h0M563 521h0M451 519h0M450 520h0M576 516h0M544 508h0M546 507h0M524 505h0M426 516h0M415 516h0M415 518h0M401 507h0M393 505h0M569 514h0M567 514h0M460 508h0M459 506h0M471 509h0M378 484h0M374 480h0" stroke="#d42a3a" stroke-width="2.7" stroke-linecap="round"/>
<path transform="scale(.5)" d="M492 504h0M572 521h0M393 489h0M543 503h0M376 482h0" stroke="#3a4a4a" stroke-width="2.7" stroke-linecap="round"/>
<path transform="scale(.5)" d="M447 231h0M473 233h0M496 224h0M500 226h0M458 222h0M555 210h0M364 221h0M393 220h0M390 223h0M373 215h0M550 201h0M413 233h0M545 198h0M405 174h0M558 173h0M469 210h0M455 188h0M503 178h0M487 186h0M487 191h0M474 228h0M473 224h0M585 217h0M378 211h0M374 209h0M441 173h0M547 177h0M548 209h0M404 183h0M408 181h0M579 232h0M441 205h0M436 226h0M533 179h0M521 231h0M517 233h0M382 178h0M383 180h0M455 226h0M468 214h0M442 211h0M559 196h0M492 191h0M403 229h0M580 195h0M570 185h0M574 186h0M529 216h0M530 220h0M486 211h0M406 212h0M495 182h0M489 192h0M571 174h0M542 217h0M538 223h0M399 208h0M585 219h0M573 188h0M568 189h0M413 211h0M471 192h0M452 188h0M450 192h0M452 186h0M456 214h0M457 218h0M504 191h0M506 187h0M460 192h0M494 225h0M393 174h0M584 226h0M581 230h0M513 234h0M437 177h0M540 212h0M438 204h0M402 217h0M573 205h0M579 177h0M522 225h0M531 209h0M488 178h0M367 194h0M493 182h0M523 216h0M474 172h0M477 176h0M414 177h0M375 222h0M379 224h0M427 183h0M411 206h0M549 215h0M375 210h0M473 189h0M514 205h0M549 214h0M441 189h0M586 197h0M584 193h0M494 187h0M453 231h0M449 233h0M556 223h0M557 219h0M440 174h0M382 222h0M539 222h0M536 226h0M413 174h0M543 203h0M438 230h0M567 175h0M387 208h0M434 199h0M434 194h0M416 193h0M420 193h0M548 212h0M577 175h0M388 179h0M491 208h0M555 204h0M553 214h0M545 206h0M480 213h0M449 200h0M545 223h0M569 204h0M373 195h0M397 232h0M450 220h0M370 226h0M511 199h0M547 178h0M463 174h0M580 220h0M483 225h0M535 218h0M476 174h0M578 209h0M573 209h0M498 197h0M561 186h0M514 228h0M375 181h0M560 223h0M492 222h0M412 232h0M399 177h0M422 203h0M411 173h0M415 176h0M531 215h0M369 208h0M455 228h0M511 178h0M564 177h0M394 190h0M501 201h0M431 186h0M399 225h0M401 229h0M576 228h0M459 179h0M367 212h0M554 213h0M448 213h0M380 187h0M463 184h0M503 193h0M453 192h0M449 192h0M492 190h0M439 186h0M508 197h0M534 180h0M531 177h0M515 179h0M482 204h0M472 213h0M571 220h0M436 176h0M422 205h0M523 174h0M449 233h0M394 229h0M546 227h0M463 216h0M466 212h0M394 198h0M402 224h0M385 227h0M381 229h0M577 204h0M581 205h0M530 200h0M529 205h0M394 175h0M388 184h0M383 185h0M496 223h0M498 219h0M438 210h0M529 193h0M484 229h0M482 233h0M561 183h0M566 182h0M574 201h0M576 197h0M450 173h0M536 201h0M583 208h0M489 199h0M435 215h0M429 215h0M505 193h0M490 225h0M460 219h0M554 226h0M468 228h0M475 219h0M551 223h0M387 225h0M497 200h0M580 192h0M576 212h0M378 211h0M382 208h0M437 216h0M453 174h0M455 225h0M457 229h0M362 184h0M488 204h0M535 207h0M408 176h0M382 205h0M371 183h0M492 214h0M574 201h0M461 222h0M496 228h0M490 206h0M534 192h0M525 181h0M548 228h0M554 221h0M547 193h0M395 187h0M585 230h0M534 197h0M505 223h0M394 221h0M471 234h0M469 230h0M587 173h0M476 177h0M394 193h0M389 193h0M378 186h0M516 227h0M590 185h0M401 183h0M479 229h0M448 184h0M379 208h0M493 190h0M506 226h0M586 223h0M589 216h0M435 213h0M466 192h0M453 188h0M420 192h0M443 186h0M379 191h0M588 228h0M460 175h0M424 223h0M518 178h0M367 174h0M460 209h0M547 200h0M379 211h0M378 216h0M475 211h0M463 205h0M464 201h0M570 197h0M382 190h0M392 182h0M392 177h0M367 228h0M518 215h0M390 206h0M394 207h0M449 186h0M389 207h0M376 226h0M377 221h0M513 234h0M556 225h0M380 194h0M506 225h0M407 232h0M508 192h0M477 212h0M480 216h0M478 220h0M510 214h0M394 177h0M401 201h0M572 180h0M578 203h0M379 185h0M581 214h0M555 219h0M484 190h0M536 176h0M482 199h0M509 232h0M505 230h0M429 223h0M411 194h0M407 193h0M435 230h0M436 234h0M464 216h0M570 232h0M566 230h0M501 204h0M506 205h0M484 228h0M509 224h0M469 221h0M547 227h0M571 230h0M362 173h0M366 176h0M418 227h0M414 224h0M454 184h0M483 183h0M388 194h0M384 191h0M364 172h0M397 200h0M558 178h0M489 210h0M504 184h0M509 183h0M465 193h0M469 196h0M452 227h0M492 197h0M488 196h0M384 191h0M371 232h0M368 235h0M407 215h0M482 190h0M479 218h0M368 191h0M578 208h0M430 234h0M437 186h0M500 179h0M511 209h0M581 193h0M394 175h0M429 178h0M563 173h0M564 190h0M448 179h0M481 175h0M476 174h0M377 225h0M366 227h0M419 220h0M408 203h0M405 181h0M515 205h0M553 210h0M537 204h0M571 211h0M392 201h0M395 197h0M445 177h0M444 174h0M589 235h0M566 215h0M564 219h0M471 216h0M363 221h0M529 203h0M570 185h0M474 185h0M455 213h0M539 216h0M528 220h0M553 185h0M549 184h0M471 208h0M395 206h0M561 221h0M446 223h0M577 233h0M502 214h0M524 183h0M528 181h0M494 216h0M403 207h0M528 193h0M507 214h0M505 182h0" stroke="#d42a3a" stroke-width="2.7" stroke-linecap="round"/>
<path transform="scale(.5)" d="M457 187h0M473 231h0M498 225h0M406 228h0M389 186h0M391 187h0M391 222h0M566 173h0M421 204h0M419 205h0M453 189h0M487 188h0M473 226h0M565 177h0M563 179h0M560 179h0M561 177h0M432 233h0M395 191h0M397 190h0M376 210h0M406 182h0M519 232h0M454 224h0M510 183h0M410 224h0M492 193h0M578 193h0M496 174h0M572 186h0M585 205h0M584 207h0M529 218h0M407 214h0M569 174h0M401 206h0M584 217h0M571 189h0M451 190h0M456 216h0M505 189h0M590 207h0M588 203h0M583 228h0M539 214h0M440 203h0M368 183h0M368 185h0M532 211h0M365 194h0M496 182h0M476 174h0M377 223h0M418 176h0M410 208h0M547 213h0M364 221h0M362 219h0M497 215h0M461 175h0M460 177h0M547 215h0M440 220h0M568 183h0M585 195h0M430 219h0M430 222h0M451 232h0M557 221h0M382 220h0M432 228h0M538 224h0M411 174h0M509 208h0M496 235h0M496 233h0M567 178h0M389 207h0M449 190h0M451 192h0M434 197h0M546 213h0M526 200h0M469 193h0M570 228h0M570 230h0M479 213h0M476 214h0M387 180h0M401 216h0M451 202h0M570 206h0M399 233h0M517 175h0M518 173h0M433 195h0M435 193h0M562 225h0M564 224h0M368 228h0M395 223h0M549 178h0M481 223h0M567 189h0M569 188h0M537 219h0M575 209h0M385 214h0M388 215h0M473 188h0M472 190h0M419 227h0M509 193h0M507 192h0M413 174h0M495 187h0M494 189h0M396 205h0M585 227h0M583 226h0M366 219h0M368 218h0M565 180h0M501 232h0M429 186h0M400 227h0M403 190h0M403 193h0M460 181h0M526 190h0M528 189h0M514 226h0M515 228h0M382 188h0M576 178h0M505 192h0M451 192h0M500 194h0M440 173h0M437 188h0M446 190h0M444 188h0M533 179h0M516 177h0M484 205h0M570 222h0M464 214h0M393 200h0M404 225h0M383 228h0M579 205h0M529 203h0M385 184h0M497 221h0M483 231h0M564 182h0M575 199h0M386 204h0M386 202h0M512 186h0M470 228h0M468 234h0M468 232h0M482 180h0M483 182h0M380 209h0M437 214h0M449 208h0M455 174h0M456 227h0M408 179h0M490 203h0M546 181h0M567 213h0M390 193h0M388 192h0M516 197h0M514 198h0M483 227h0M455 204h0M457 204h0M437 199h0M435 198h0M396 221h0M422 212h0M470 232h0M576 233h0M390 212h0M392 193h0M515 225h0M366 221h0M367 220h0M564 190h0M565 189h0M399 194h0M400 192h0M449 186h0M494 192h0M549 200h0M548 198h0M439 204h0M441 204h0M378 214h0M380 214h0M589 223h0M427 222h0M430 221h0M436 215h0M400 233h0M403 233h0M379 214h0M463 203h0M572 196h0M514 197h0M562 210h0M564 212h0M458 184h0M570 229h0M584 179h0M581 179h0M387 189h0M392 180h0M392 206h0M447 185h0M377 224h0M555 223h0M508 227h0M479 214h0M480 218h0M392 175h0M465 221h0M463 220h0M567 201h0M380 183h0M480 199h0M507 231h0M432 223h0M409 193h0M435 232h0M381 202h0M383 200h0M463 213h0M568 231h0M503 204h0M511 225h0M364 174h0M416 225h0M386 193h0M585 225h0M491 211h0M506 183h0M467 195h0M490 197h0M373 215h0M375 214h0M383 189h0M369 233h0M378 185h0M376 184h0M558 225h0M558 222h0M547 229h0M371 192h0M432 233h0M397 207h0M422 226h0M381 182h0M382 184h0M367 197h0M431 180h0M446 178h0M478 174h0M368 226h0M375 208h0M394 199h0M528 180h0M525 179h0M580 189h0M582 188h0M587 233h0M565 217h0M471 218h0M498 188h0M497 187h0M537 223h0M570 213h0M457 212h0M561 187h0M551 184h0M444 223h0M453 177h0M407 231h0M526 182h0M380 203h0M379 201h0" stroke="#3a4a4a" stroke-width="2.7" stroke-linecap="round"/>
<path transform="scale(.5)" d="M415 179h0M387 212h0M382 195h0M589 189h0M430 193h0M585 200h0M507 184h0M473 231h0M421 196h0M508 216h0M497 218h0M428 215h0M372 193h0M528 195h0M558 210h0M507 233h0M483 213h0M569 205h0M443 228h0M570 183h0M409 220h0M460 216h0M409 177h0M386 224h0M440 216h0M427 176h0M491 179h0M412 209h0M440 195h0M446 216h0M399 196h0M387 179h0M453 218h0M557 225h0M508 231h0M431 224h0M550 230h0M387 192h0M583 194h0M581 199h0M438 192h0M575 195h0M534 187h0M410 197h0M428 209h0M428 229h0M428 209h0M540 187h0M442 190h0M394 220h0M417 213h0M361 207h0M365 174h0M455 219h0M470 175h0M397 214h0M508 183h0M376 224h0M393 204h0M392 207h0M413 195h0M525 197h0M541 225h0M530 213h0M461 177h0M375 177h0M379 222h0M465 193h0M393 190h0M576 194h0M518 177h0M545 218h0M537 230h0M436 173h0M538 209h0M469 184h0M497 187h0" stroke="#2f2fc8" stroke-width="2.7" stroke-linecap="round"/>
<path transform="scale(.5)" d="M491 216h0M458 201h0M448 176h0M568 202h0M378 202h0M475 177h0M463 187h0M556 186h0M395 232h0M458 217h0M369 225h0M456 198h0M515 175h0M438 193h0M396 175h0M578 196h0M381 201h0M445 210h0M577 206h0M567 198h0M501 175h0M444 183h0M422 218h0M408 185h0M536 229h0M460 180h0M572 197h0M398 185h0M476 199h0M583 191h0" stroke="#c8c8c8" stroke-width="2.7" stroke-linecap="round"/>
<path transform="scale(.5)" d="M460 225h0M546 196h0M421 211h0M396 222h0M566 203h0M529 208h0M427 218h0M395 176h0M514 194h0M400 201h0M422 217h0M575 198h0M547 178h0M532 189h0M424 213h0M523 223h0M434 218h0M393 173h0M535 216h0M472 192h0M560 174h0M477 223h0M489 218h0M375 226h0M545 187h0M398 204h0M543 178h0M453 179h0M368 204h0M542 194h0M543 187h0M447 208h0" stroke="#e0909a" stroke-width="2.7" stroke-linecap="round"/>
<path transform="scale(.5)" d="M485 297h0M490 296h0M583 274h0M567 279h0M436 300h0M387 300h0M441 318h0M586 294h0M547 289h0M426 314h0M545 313h0M362 319h0M521 283h0M456 305h0M496 292h0M499 295h0M395 285h0M569 302h0M566 305h0M374 291h0M389 326h0M415 314h0M414 319h0M369 322h0M547 307h0M552 305h0M372 280h0M384 323h0M379 324h0M570 294h0M588 295h0M432 291h0M574 288h0M571 285h0M558 284h0M560 280h0M552 320h0M402 309h0M458 316h0M537 308h0M465 320h0M418 293h0M576 294h0M571 294h0M382 311h0M362 298h0M459 293h0M467 297h0M536 321h0M472 291h0M395 328h0M485 318h0M445 300h0M382 276h0M430 291h0M426 291h0M534 322h0M529 321h0M410 276h0M586 315h0M590 315h0M549 323h0M529 325h0M525 325h0M428 276h0M409 285h0M410 323h0M414 321h0M433 280h0M576 296h0M424 299h0M423 279h0M571 312h0M572 311h0M410 289h0M579 307h0M460 327h0M464 329h0M386 317h0M517 291h0M521 289h0M501 282h0M563 309h0M560 305h0M510 325h0M405 303h0M410 304h0M488 277h0M439 283h0M545 305h0M403 281h0M378 308h0M375 305h0M547 297h0M445 280h0M531 310h0M463 321h0M468 322h0M569 293h0M490 313h0M486 314h0M488 298h0M487 293h0M502 287h0M516 304h0M540 324h0M536 321h0M475 300h0M553 313h0M522 313h0M525 309h0M512 317h0M536 303h0M491 318h0M498 276h0M518 323h0M533 318h0M537 316h0M374 311h0M370 314h0M488 282h0M536 280h0M458 314h0M412 307h0M500 275h0M535 274h0M372 318h0M544 294h0M582 294h0M586 295h0M428 310h0M454 282h0M532 279h0M517 306h0M392 293h0M454 307h0M442 305h0M497 275h0M467 273h0M470 276h0M439 290h0M362 298h0M524 291h0M527 294h0M535 295h0M451 285h0M581 329h0M585 316h0M489 285h0M489 290h0M525 326h0M583 309h0M536 327h0M431 277h0M518 291h0M501 320h0M585 309h0M589 312h0M527 284h0M506 287h0M502 286h0M442 279h0M436 274h0M366 299h0M441 300h0M545 287h0M407 287h0M578 299h0M476 275h0M485 306h0M481 305h0M506 316h0M410 285h0M413 288h0M527 283h0M458 285h0M532 284h0M527 284h0M410 274h0M439 308h0M388 277h0M528 278h0M540 321h0M553 279h0M554 284h0M457 323h0M455 328h0M382 285h0M369 308h0M564 299h0M409 330h0M405 327h0M473 304h0M535 296h0M509 315h0M553 316h0M478 325h0M418 325h0M416 329h0M513 284h0M515 279h0M507 276h0M509 280h0M363 308h0M496 277h0M392 304h0M477 312h0M389 284h0M550 325h0M416 287h0M414 283h0M547 303h0M426 327h0M519 278h0M485 302h0M410 325h0M530 321h0M534 324h0M386 312h0M385 307h0M504 326h0M363 290h0M431 282h0M367 328h0M422 282h0M421 287h0M581 298h0M572 294h0M518 328h0M548 278h0M393 281h0M501 310h0M403 304h0M400 301h0M580 282h0M547 315h0M576 306h0M485 325h0M524 300h0M576 309h0M582 280h0M453 301h0M512 291h0M509 295h0M437 326h0M382 284h0M382 279h0M483 313h0M451 295h0M513 326h0M581 296h0M559 285h0M533 309h0M538 308h0M493 294h0M415 295h0M518 294h0M408 307h0M522 299h0M500 286h0M505 287h0M547 300h0M465 312h0M528 322h0M450 324h0M581 294h0M391 292h0M514 297h0M536 292h0M535 296h0M526 289h0M530 324h0M530 277h0M451 303h0M462 296h0M466 294h0M516 313h0M466 276h0M374 313h0M487 320h0M464 310h0M364 322h0M376 325h0M373 322h0M580 281h0M422 325h0M539 316h0M448 311h0M364 282h0M364 278h0M540 322h0M536 280h0M535 284h0M415 320h0M382 302h0M553 313h0M473 318h0M383 317h0M489 309h0M485 306h0M555 288h0M419 317h0M461 300h0M493 285h0M443 305h0M540 303h0M568 302h0M572 301h0M517 278h0M421 282h0M434 315h0M370 318h0M508 292h0M383 302h0M376 323h0M496 306h0M366 286h0M380 330h0M377 327h0M580 287h0M577 290h0M564 285h0M570 297h0M540 288h0M491 292h0M548 318h0M471 299h0M401 293h0M388 297h0M396 316h0M518 290h0M559 289h0M559 318h0M453 275h0M462 297h0M433 303h0M428 313h0M367 279h0M467 307h0M509 309h0M499 288h0M450 326h0M394 306h0M554 286h0M558 299h0M541 274h0M541 278h0M549 279h0M569 309h0M540 314h0M520 281h0M523 277h0M515 306h0M513 301h0M451 290h0M439 288h0M396 313h0M401 314h0M569 319h0M534 294h0M549 288h0M550 284h0M560 322h0M548 293h0M491 287h0M364 274h0M391 285h0M378 294h0M375 291h0M520 316h0M556 277h0M385 319h0M536 319h0M510 286h0M502 314h0M465 308h0M469 307h0M376 298h0M381 306h0M379 302h0M568 294h0M570 298h0M590 278h0M529 302h0M454 292h0M411 327h0M522 297h0M424 288h0M486 305h0M395 308h0M391 306h0M479 280h0M496 301h0M583 281h0M571 302h0M548 286h0M544 283h0M399 288h0M562 329h0M391 320h0M471 290h0M475 292h0M553 281h0M576 313h0M392 274h0M480 281h0M398 307h0M394 304h0M579 283h0M387 313h0M460 324h0M581 326h0M588 304h0M530 312h0" stroke="#d42a3a" stroke-width="2.7" stroke-linecap="round"/>
<path transform="scale(.5)" d="M487 297h0M389 302h0M455 291h0M427 316h0M364 320h0M396 313h0M394 311h0M497 293h0M568 304h0M390 304h0M391 302h0M415 316h0M550 306h0M382 324h0M433 289h0M572 286h0M559 282h0M500 311h0M501 309h0M574 304h0M460 315h0M539 308h0M463 319h0M574 294h0M411 275h0M570 314h0M578 321h0M576 320h0M503 308h0M501 308h0M532 322h0M408 276h0M588 315h0M548 321h0M527 325h0M430 276h0M486 284h0M488 286h0M416 325h0M418 326h0M412 322h0M574 297h0M422 299h0M423 277h0M583 300h0M585 300h0M409 291h0M462 328h0M519 290h0M447 280h0M561 307h0M493 295h0M491 297h0M361 285h0M361 283h0M407 304h0M376 306h0M377 324h0M379 323h0M488 313h0M487 296h0M372 300h0M431 306h0M538 322h0M524 311h0M446 288h0M446 286h0M514 316h0M385 305h0M453 279h0M455 281h0M437 324h0M535 317h0M372 312h0M490 284h0M410 306h0M501 274h0M402 295h0M545 291h0M420 323h0M436 288h0M525 296h0M526 294h0M584 295h0M453 280h0M530 280h0M399 282h0M397 282h0M466 274h0M464 275h0M505 282h0M440 305h0M498 273h0M469 274h0M526 301h0M524 302h0M365 299h0M526 292h0M532 316h0M533 318h0M449 285h0M583 315h0M489 288h0M380 284h0M527 328h0M519 288h0M582 311h0M565 310h0M376 274h0M587 311h0M524 284h0M588 326h0M585 325h0M504 286h0M442 302h0M580 300h0M483 305h0M571 306h0M412 286h0M408 321h0M408 323h0M552 307h0M529 284h0M409 276h0M441 308h0M542 322h0M553 282h0M456 326h0M572 280h0M407 329h0M541 273h0M541 275h0M511 316h0M477 316h0M474 316h0M477 323h0M578 302h0M575 301h0M417 327h0M564 303h0M380 297h0M380 295h0M542 326h0M542 324h0M439 325h0M508 278h0M498 276h0M563 291h0M562 294h0M476 314h0M415 285h0M424 328h0M450 285h0M532 322h0M386 309h0M458 321h0M421 284h0M582 311h0M582 313h0M579 297h0M569 294h0M555 325h0M553 324h0M506 313h0M506 310h0M514 294h0M401 302h0M581 284h0M433 294h0M423 295h0M425 296h0M537 325h0M573 281h0M581 282h0M450 299h0M454 299h0M510 293h0M435 324h0M382 282h0M588 301h0M561 285h0M535 309h0M498 292h0M413 296h0M488 319h0M488 322h0M503 286h0M549 300h0M517 304h0M526 321h0M583 293h0M516 296h0M535 294h0M528 290h0M495 297h0M498 298h0M464 295h0M465 308h0M393 304h0M392 302h0M375 324h0M541 318h0M407 296h0M447 314h0M364 280h0M463 285h0M536 282h0M413 319h0M384 303h0M363 286h0M487 307h0M502 299h0M504 299h0M495 284h0M479 308h0M444 274h0M413 275h0M415 274h0M570 302h0M519 280h0M448 296h0M445 296h0M364 322h0M433 313h0M385 303h0M374 322h0M494 307h0M398 311h0M398 309h0M379 329h0M579 288h0M546 294h0M403 293h0M435 305h0M435 303h0M476 289h0M527 303h0M528 301h0M558 287h0M557 289h0M505 274h0M510 307h0M542 308h0M543 311h0M383 307h0M383 305h0M556 298h0M541 276h0M547 280h0M573 327h0M571 328h0M550 295h0M549 293h0M582 292h0M522 279h0M514 304h0M403 277h0M401 278h0M399 314h0M568 321h0M549 286h0M458 307h0M377 292h0M506 288h0M504 288h0M558 292h0M418 280h0M416 279h0M365 282h0M367 283h0M539 278h0M467 307h0M377 300h0M380 304h0M569 296h0M393 307h0M495 303h0M569 303h0M546 285h0M401 287h0M562 327h0M391 323h0M473 291h0M468 291h0M405 279h0M405 277h0M396 305h0M501 290h0M528 314h0" stroke="#3a4a4a" stroke-width="2.7" stroke-linecap="round"/>
<path transform="scale(.5)" d="M467 304h0M387 316h0M392 298h0M584 304h0M587 316h0M466 284h0M486 276h0M367 296h0M382 290h0M424 288h0M531 274h0M506 292h0M445 277h0M401 294h0M538 328h0M409 323h0M465 307h0M530 275h0M444 314h0M544 297h0M458 286h0M371 306h0M502 315h0M412 307h0M516 327h0M364 296h0M468 297h0M557 288h0M364 290h0M588 322h0M507 317h0M408 325h0M448 305h0M566 315h0M413 281h0M440 329h0M397 296h0M564 299h0M481 315h0M412 310h0M565 291h0M390 316h0M398 323h0M366 314h0M523 302h0M379 286h0M425 276h0M482 313h0M398 300h0M362 320h0M512 290h0M460 321h0M517 298h0M465 304h0M448 320h0M426 317h0M589 325h0M581 301h0M570 282h0M427 315h0M365 285h0M367 322h0M550 298h0M374 297h0M493 277h0M515 315h0M505 308h0M385 316h0M443 297h0M443 283h0M573 318h0M438 309h0M551 274h0M567 303h0M371 275h0M481 279h0M502 287h0M495 283h0M576 306h0M540 292h0M374 292h0M372 306h0M456 312h0M389 327h0M374 325h0M378 329h0" stroke="#2f2fc8" stroke-width="2.7" stroke-linecap="round"/>
<path transform="scale(.5)" d="M570 317h0M531 287h0M551 302h0M392 308h0M508 327h0M503 324h0M402 306h0M435 323h0M585 293h0M519 324h0M361 315h0M454 297h0M395 282h0M530 323h0M481 292h0M559 276h0M499 326h0M458 312h0M468 285h0M517 289h0M551 326h0M402 318h0M558 292h0M562 279h0M510 325h0M560 302h0M443 322h0M365 313h0M436 290h0M427 312h0M576 292h0M564 314h0M370 288h0" stroke="#c8c8c8" stroke-width="2.7" stroke-linecap="round"/>
<path transform="scale(.5)" d="M394 300h0M446 309h0M459 292h0M587 277h0M504 308h0M574 328h0M440 284h0M544 280h0M414 316h0M376 323h0M393 295h0M538 290h0M370 314h0M527 295h0M368 326h0M378 295h0M516 306h0M438 317h0M485 297h0M412 312h0M500 316h0M588 281h0M570 312h0M495 326h0M459 309h0M486 316h0M562 319h0M427 284h0M395 297h0M403 275h0M521 324h0M506 299h0M585 284h0M471 289h0M445 282h0M459 290h0M465 319h0M566 290h0M407 311h0M366 277h0" stroke="#e0909a" stroke-width="2.7" stroke-linecap="round"/>
<path transform="scale(.5)" d="M566 417h0M483 430h0M459 393h0M447 372h0M449 376h0M583 419h0M480 400h0M402 431h0M367 386h0M371 386h0M440 428h0M531 369h0M393 370h0M452 391h0M536 383h0M494 407h0M460 429h0M456 431h0M463 372h0M537 413h0M538 417h0M427 425h0M434 407h0M434 389h0M435 384h0M499 386h0M495 383h0M370 419h0M399 369h0M403 372h0M547 401h0M375 422h0M361 419h0M538 398h0M527 422h0M523 424h0M501 380h0M535 378h0M384 421h0M446 428h0M456 422h0M525 397h0M524 401h0M461 368h0M480 430h0M410 371h0M413 373h0M568 419h0M405 411h0M376 416h0M372 416h0M486 419h0M535 420h0M530 420h0M569 420h0M489 410h0M526 377h0M496 420h0M522 421h0M389 420h0M424 421h0M426 425h0M530 404h0M436 386h0M576 426h0M481 414h0M574 426h0M419 415h0M422 412h0M467 408h0M560 422h0M479 384h0M475 381h0M463 428h0M387 411h0M377 379h0M520 425h0M577 430h0M576 425h0M459 374h0M534 402h0M531 399h0M536 429h0M532 427h0M517 410h0M514 413h0M484 428h0M553 374h0M399 375h0M406 407h0M379 397h0M586 396h0M478 407h0M588 407h0M537 408h0M441 371h0M443 368h0M423 427h0M457 413h0M513 401h0M530 410h0M526 412h0M470 417h0M445 416h0M449 414h0M435 402h0M401 370h0M579 369h0M570 430h0M566 431h0M521 391h0M482 380h0M387 414h0M385 401h0M569 413h0M554 417h0M380 391h0M459 418h0M464 418h0M513 412h0M511 408h0M524 399h0M502 385h0M504 381h0M446 368h0M459 429h0M463 430h0M435 370h0M405 401h0M425 421h0M486 380h0M373 420h0M459 423h0M582 423h0M511 410h0M551 429h0M404 421h0M402 425h0M520 395h0M580 424h0M434 369h0M525 403h0M531 422h0M437 374h0M536 429h0M541 430h0M578 410h0M561 387h0M387 401h0M534 408h0M452 368h0M472 416h0M373 402h0M378 402h0M506 378h0M411 405h0M505 429h0M506 433h0M562 388h0M454 380h0M451 383h0M558 417h0M558 422h0M382 402h0M406 423h0M431 428h0M546 421h0M549 425h0M575 428h0M576 433h0M578 399h0M580 394h0M499 414h0M399 413h0M588 430h0M554 369h0M488 393h0M586 395h0M561 398h0M561 402h0M394 406h0M533 405h0M577 426h0M574 376h0M422 407h0M407 376h0M403 378h0M539 418h0M554 410h0M557 407h0M417 411h0M365 397h0M558 399h0M582 400h0M565 371h0M502 413h0M392 425h0M395 428h0M453 409h0M411 429h0M475 373h0M413 375h0M516 424h0M515 385h0M520 386h0M516 381h0M574 375h0M379 382h0M514 380h0M489 370h0M428 393h0M469 428h0M450 393h0M513 398h0M517 397h0M435 398h0M430 405h0M381 405h0M435 374h0M367 432h0M399 431h0M533 407h0M446 402h0M561 387h0M365 377h0M488 401h0M364 392h0M525 390h0M521 391h0M420 418h0M563 412h0M561 416h0M513 380h0M500 402h0M372 425h0M527 390h0M579 397h0M480 394h0M408 393h0M554 397h0M464 430h0M459 431h0M385 387h0M532 382h0M400 375h0M438 422h0M436 426h0M574 408h0M485 431h0M500 392h0M437 399h0M441 401h0M377 401h0M376 405h0M580 391h0M577 390h0M471 397h0M415 431h0M403 419h0M586 400h0M373 397h0M535 378h0M456 370h0M409 398h0M559 424h0M517 430h0M366 375h0M574 379h0M573 383h0M556 414h0M445 382h0M408 375h0M392 379h0M387 380h0M405 428h0M443 386h0M570 368h0M536 409h0M457 430h0M457 370h0M494 404h0M417 378h0M480 424h0M589 369h0M399 428h0M405 418h0M438 403h0M493 400h0M495 395h0M513 399h0M562 371h0M558 398h0M452 386h0M413 377h0M503 392h0M569 414h0M556 372h0M374 375h0M374 380h0M406 412h0M520 421h0M520 425h0M515 427h0M426 426h0M491 372h0M490 368h0M452 403h0M429 427h0M382 396h0M417 371h0M467 393h0M579 411h0M448 427h0M444 428h0M421 390h0M425 391h0M516 391h0M409 422h0M379 410h0M456 408h0M431 369h0M524 409h0M519 411h0M371 429h0M386 370h0M465 408h0M468 411h0M541 407h0M576 422h0M432 415h0M431 410h0M513 380h0M546 411h0M437 390h0M380 391h0M374 384h0M530 382h0M525 381h0M588 371h0M542 372h0M543 368h0M515 401h0M504 421h0M507 417h0M538 373h0M579 383h0M583 384h0M542 377h0M491 420h0M510 411h0M474 368h0M377 422h0M435 396h0M441 431h0M436 391h0M407 416h0M444 386h0M581 400h0M366 426h0M577 396h0M469 369h0M502 368h0M570 404h0M479 392h0M483 389h0M366 369h0M478 383h0M479 379h0M516 401h0M504 371h0M417 424h0M565 428h0M567 432h0M434 369h0M439 371h0M389 376h0M494 427h0M558 389h0M556 393h0M540 420h0M544 421h0M559 389h0M544 424h0M448 423h0M539 396h0M530 393h0M362 389h0M520 428h0M388 373h0M392 381h0M515 409h0M529 421h0M526 425h0M534 377h0M413 413h0M434 396h0M526 386h0M391 407h0M526 405h0M389 372h0M459 372h0M484 423h0M585 408h0M585 413h0M503 398h0M503 393h0M366 370h0M517 395h0M521 408h0M523 404h0M425 420h0M430 420h0M401 398h0M415 411h0M504 411h0M513 417h0M386 390h0M474 427h0M563 429h0M504 410h0M454 396h0M532 385h0M367 373h0" stroke="#d42a3a" stroke-width="2.7" stroke-linecap="round"/>
<path transform="scale(.5)" d="M522 430h0M545 380h0M543 382h0M484 385h0M486 385h0M448 374h0M369 386h0M584 398h0M587 397h0M439 431h0M527 385h0M458 430h0M417 428h0M415 429h0M538 415h0M434 386h0M497 385h0M395 427h0M369 421h0M401 370h0M427 406h0M426 404h0M363 420h0M540 396h0M525 423h0M500 378h0M537 378h0M525 399h0M459 370h0M481 428h0M411 372h0M374 416h0M429 379h0M427 378h0M533 420h0M487 409h0M528 379h0M520 421h0M460 422h0M460 425h0M425 423h0M465 405h0M466 407h0M479 415h0M420 413h0M452 409h0M477 383h0M405 370h0M407 369h0M484 426h0M537 399h0M576 427h0M391 419h0M533 401h0M490 410h0M534 428h0M515 412h0M485 425h0M442 370h0M531 382h0M532 384h0M456 411h0M528 411h0M468 417h0M447 415h0M375 380h0M400 368h0M499 402h0M568 431h0M576 415h0M574 416h0M484 379h0M567 368h0M567 371h0M382 392h0M462 418h0M436 380h0M512 410h0M503 383h0M406 387h0M507 419h0M491 376h0M493 378h0M570 397h0M461 429h0M405 404h0M460 408h0M365 427h0M363 425h0M587 382h0M374 422h0M475 424h0M474 426h0M512 408h0M553 429h0M403 423h0M520 397h0M417 397h0M538 430h0M559 388h0M399 394h0M586 416h0M587 414h0M536 409h0M406 414h0M407 417h0M562 402h0M563 404h0M456 431h0M376 402h0M410 403h0M506 431h0M453 382h0M558 420h0M445 412h0M447 412h0M547 423h0M575 430h0M579 396h0M578 377h0M577 375h0M558 370h0M559 368h0M406 373h0M405 375h0M588 394h0M561 400h0M495 409h0M389 413h0M531 404h0M404 430h0M402 429h0M577 428h0M572 376h0M423 409h0M405 377h0M411 376h0M410 374h0M478 425h0M406 403h0M403 403h0M555 408h0M429 428h0M481 424h0M446 377h0M394 427h0M451 410h0M412 431h0M514 425h0M518 385h0M517 379h0M578 390h0M578 388h0M452 393h0M515 398h0M504 412h0M382 429h0M380 429h0M428 403h0M451 428h0M452 426h0M368 429h0M401 388h0M399 388h0M573 411h0M571 409h0M445 404h0M523 390h0M562 414h0M564 414h0M565 412h0M373 426h0M458 403h0M455 403h0M479 392h0M406 392h0M551 397h0M461 431h0M568 414h0M437 424h0M440 415h0M442 417h0M502 393h0M439 400h0M526 398h0M377 403h0M582 392h0M584 401h0M537 378h0M549 377h0M550 375h0M561 425h0M560 426h0M368 376h0M574 381h0M488 390h0M552 371h0M410 373h0M389 379h0M572 387h0M484 383h0M482 382h0M494 397h0M563 369h0M417 416h0M453 383h0M540 399h0M540 397h0M395 369h0M397 370h0M390 385h0M501 392h0M571 413h0M374 377h0M406 410h0M520 423h0M491 370h0M463 417h0M463 420h0M441 406h0M446 427h0M423 390h0M454 409h0M531 416h0M522 410h0M467 409h0M539 406h0M573 422h0M431 413h0M498 368h0M423 406h0M425 406h0M479 407h0M481 409h0M549 421h0M533 406h0M528 382h0M542 370h0M517 402h0M462 396h0M505 419h0M540 372h0M523 394h0M525 394h0M581 383h0M535 373h0M543 379h0M491 422h0M449 425h0M436 388h0M516 416h0M517 418h0M502 416h0M488 397h0M486 399h0M481 390h0M479 381h0M517 400h0M566 430h0M437 370h0M557 391h0M542 420h0M537 376h0M393 382h0M513 410h0M528 423h0M434 398h0M390 405h0M389 375h0M585 410h0M503 395h0M518 393h0M552 423h0M522 406h0M428 420h0M511 417h0M385 392h0M538 376h0M538 378h0M504 412h0" stroke="#3a4a4a" stroke-width="2.7" stroke-linecap="round"/>
<path transform="scale(.5)" d="M390 427h0M532 423h0M572 387h0M589 391h0M516 410h0M371 369h0M552 379h0M438 408h0M565 379h0M526 392h0M401 387h0M432 404h0M486 386h0M406 412h0M503 395h0M454 391h0M579 372h0M523 386h0M399 400h0M519 422h0M465 422h0M524 403h0M536 428h0M423 404h0M421 384h0M401 406h0M474 398h0M431 388h0M432 402h0M524 404h0M423 397h0M525 402h0M570 371h0M527 378h0M556 421h0M494 403h0M537 372h0M505 387h0M445 403h0M489 407h0M460 385h0M584 401h0M442 394h0M503 422h0M579 419h0M549 404h0M386 419h0M445 400h0M422 399h0M474 404h0M539 384h0M439 373h0M535 410h0M495 428h0M370 419h0M433 373h0M489 396h0M423 388h0M565 390h0M502 373h0M502 380h0M408 415h0M466 420h0M519 388h0M573 389h0M375 385h0M554 388h0M581 369h0M564 412h0M504 426h0M534 398h0M533 392h0M451 372h0M506 392h0M522 404h0M401 373h0M490 411h0M532 382h0M578 425h0M494 376h0M386 398h0M429 401h0M561 368h0M529 403h0M509 385h0M547 401h0M505 375h0M575 421h0M406 400h0M498 423h0M557 416h0M478 394h0M447 394h0M492 427h0M393 416h0M575 407h0M499 404h0M362 394h0M408 395h0M564 423h0M582 390h0M525 387h0" stroke="#2f2fc8" stroke-width="2.7" stroke-linecap="round"/>
<path transform="scale(.5)" d="M407 424h0M467 382h0M412 374h0M484 392h0M531 407h0M560 392h0M576 413h0M430 380h0M383 416h0M571 419h0M373 394h0M384 379h0M514 424h0M482 389h0M468 425h0M476 369h0M503 394h0M384 403h0M508 384h0M475 414h0M366 402h0M520 407h0M430 424h0M524 390h0M547 368h0" stroke="#c8c8c8" stroke-width="2.7" stroke-linecap="round"/>
<path transform="scale(.5)" d="M557 402h0M435 398h0M583 429h0M556 383h0M452 414h0M522 389h0M541 384h0M523 400h0M513 389h0M390 374h0M367 381h0M450 403h0M408 377h0M424 394h0M372 410h0M491 392h0M428 427h0M414 409h0M421 430h0M545 413h0M530 406h0M422 375h0M410 421h0M452 421h0M574 393h0M579 413h0M371 392h0M552 397h0M493 425h0M452 369h0M508 410h0M547 421h0M374 372h0M551 406h0M372 384h0" stroke="#e0909a" stroke-width="2.7" stroke-linecap="round"/>
<path d="M177.1 65.2 L188.1 64.5 L199.2 64.6 L210.2 65.8 L221.3 66.2 L232.3 65.9 L243.4 66.1 L254.4 66.0 L265.5 64.9 L276.5 64.4 L287.6 65.1 L298.6 65.5 L298.6 85.5 L287.6 85.2 L276.5 84.4 L265.5 84.8 L254.4 85.9 L243.4 86.1 L232.3 85.9 L221.3 86.2 L210.2 85.9 L199.2 84.8 L188.1 84.5 L177.1 85.2Z" fill="url(#dense)"/>
<path d="M177.1 65.2 L188.1 64.5 L199.2 64.6 L210.2 65.8 L221.3 66.2 L232.3 65.9 L243.4 66.1 L254.4 66.0 L265.5 64.9 L276.5 64.4 L287.6 65.1 L298.6 65.5 L298.6 85.5 L287.6 85.2 L276.5 84.4 L265.5 84.8 L254.4 85.9 L243.4 86.1 L232.3 85.9 L221.3 86.2 L210.2 85.9 L199.2 84.8 L188.1 84.5 L177.1 85.2Z" fill="url(#bandgrad)"/>
<path transform="scale(.5)" d="M362 127l-2 0M370 126l0 1M544 129l2-3M491 124l-1-1M465 176l0-3M531 167l-2-2M459 176l2 1M539 127l0 1M575 129l-1-2M467 130l2 0M442 130l4 1M565 128l-3-1M571 129l-3-1M384 128l-1 2M445 170l2 0M534 129l-2-2M506 130l0 1M453 129l2 0M431 129l-2-2M395 168l-2-2M426 130l2-3M572 169l3 2M479 130l2-2M558 127l3 1M360 126l0-4M385 126l-2 0M538 127l-1 2M408 129l-2-2M525 130l-3-2M522 171l-1 4M421 131l-1-1M437 132l-3-2M503 131l-2 2M427 173l4-1M474 131l-1 2M561 125l1 2M410 170l-2 3M387 170l0-3M372 167l-2 1M470 129l0-4M553 128l-1-1M410 128l-2 0M586 129l2-3M394 126l-1 1M569 128l0 4M418 169l-2 1M501 129l-1-2M540 123l0-2M586 174l-1 2M436 131l-3 0M413 130l0 1M425 129l2-1M367 169l-2-2M424 129l-3-1M562 169l2 2M562 127l3-1M454 130l-2 3M395 128l2-1M388 128l2 1M559 128l-3 3M525 126l1 1M572 126l2-1M540 128l-1-2M374 128l0-3M527 127l0-2M557 128l0 3M491 131l-2 3M372 129l3 0M365 171l-1-2M473 128l2-2M409 168l1 4M573 130l2 1M533 123l2 0M523 130l-2-1M361 167l0 2M533 126l1 2M369 128l0-1M512 129l3-1M442 132l2 3M566 129l-1-2M521 123l4 0M515 171l3 2M533 170l-2 2" stroke="#d42a2a" stroke-width="2" stroke-linecap="round" fill="none"/>
<path transform="scale(.5)" d="M574 173l-2 1M413 171l-1 0M595 130l2 1M570 169l1-2M457 172l-2-1M545 169l-1-1M490 172l0 2M464 170l2-2M419 170l3 2M590 168l3 2M560 167l0 4M596 171l3-3M569 171l-2-1M488 125l-2 1M433 131l-4 1M433 171l0-2M433 174l1 0M384 172l0 3M467 129l2 1M515 172l1-2M543 168l2 3M589 170l-2 2M423 169l-1 1M359 170l-3 2M397 129l-3 1M529 168l2 0M562 167l-1 0M543 128l-1 2M447 169l3 0M428 130l0 1M514 172l-1-2M438 175l0 4M498 171l2-2M539 167l2-3M482 131l-1-4M479 174l-4-1M544 170l-3-2M504 173l-1 1M413 171l-1-2M522 130l2 0M488 172l1 3M503 173l-3 3M507 172l-2-2M505 170l0 3M550 171l0 2M529 169l-2-2M465 173l-1-3M560 171l-1 3M492 174l3-2M448 170l-2 1M430 171l1-1M517 175l2-3M450 172l0 2M483 128l2-1M497 172l-4 0M363 124l3 2M596 173l-4 1M406 169l1-2M441 131l1-2M422 170l1-2M578 168l1-1M482 170l2 1M361 169l1-2M585 171l-1 2M418 175l-1-1M469 173l4 1M556 128l-2-1M554 169l-2 2M518 170l0-3M473 127l-2-1M389 167l0-3M525 172l-3 1M420 175l3 3M391 168l3 0M378 176l-1 3M545 126l-1 0M492 132l0-4M494 172l-3-1M565 127l-1-1M423 169l1 2M514 173l2-1M436 132l2 2M555 169l-2 0M398 168l0-1M378 166l-1 2M505 175l3-2M566 173l-3 0M456 171l2-2M545 167l3 2M449 131l-1 1M371 167l4-1M390 170l-1 3M377 127l0 4M462 130l3-1M539 127l-3 0M384 168l2 1M363 124l3-1M384 128l1-2M525 167l0-1M400 169l-1 0M432 174l0 2M390 127l-1 1M557 166l3 1" stroke="#505050" stroke-width="2" stroke-linecap="round" fill="none"/>
<path d="M177.1 117.4 L188.1 118.4 L199.2 118.2 L210.2 117.8 L221.3 117.9 L232.3 117.4 L243.4 116.4 L254.4 116.7 L265.5 117.6 L276.5 117.7 L287.6 117.8 L298.6 118.5 L298.6 136.2 L287.6 135.5 L276.5 135.8 L265.5 136.9 L254.4 137.2 L243.4 136.9 L232.3 137.1 L221.3 136.9 L210.2 135.8 L199.2 135.4 L188.1 136.2 L177.1 136.5Z" fill="url(#dense)"/>
<path d="M177.1 117.4 L188.1 118.4 L199.2 118.2 L210.2 117.8 L221.3 117.9 L232.3 117.4 L243.4 116.4 L254.4 116.7 L265.5 117.6 L276.5 117.7 L287.6 117.8 L298.6 118.5 L298.6 136.2 L287.6 135.5 L276.5 135.8 L265.5 136.9 L254.4 137.2 L243.4 136.9 L232.3 137.1 L221.3 136.9 L210.2 135.8 L199.2 135.4 L188.1 136.2 L177.1 136.5Z" fill="url(#bandgrad)"/>
<path transform="scale(.5)" d="M356 270l0 2M458 272l1 2M433 272l-1 0M532 228l1-2M363 233l-1-1M448 233l4 1M364 235l-1 1M445 235l2 1M379 235l0-1M466 234l-3-1M424 233l3 1M442 235l-3-1M499 274l1 3M423 233l-3 0M437 272l2 1M592 235l1-1M592 270l-2 2M567 235l3 1M484 232l1 0M456 233l1 2M375 236l1 0M575 232l0-3M373 274l1-2M483 229l3-1M586 272l-1-2M548 233l-2-2M382 236l1 3M533 273l-2 0M411 231l2-2M412 235l1 3M411 272l1-1M466 233l0 1M440 235l0-1M449 234l-2 0M514 232l0-1M548 231l-2 0M467 232l2-2M475 233l-1 1M451 275l2-3M364 233l1-3M461 273l-2 0M566 234l-2-2M390 235l2-3M446 276l-1-4M458 232l0 3M444 275l1 2M504 231l3-3M397 235l1-1M453 279l1-2M483 276l-1-2M384 270l0 1M383 236l0 3M468 273l2-2M408 236l1 2M576 231l4 0M406 235l-3-2M451 274l-1-3M570 270l-3 1M582 236l-2 1M483 272l-3 2M582 235l-1 2M555 232l3 0M410 272l-1 2M485 231l-2-1M580 232l3 0M394 236l1 2M516 233l2-3M415 234l2-1M477 232l1-4M559 233l-1-2M576 233l-1-1M501 274l-2 3M540 233l-3 0M480 233l3 1M545 271l-2 1M447 235l-2 0M370 234l0-3M464 277l0-2M424 235l-1-1M439 282l1 0M473 233l3 0M588 270l2 2M391 236l-1-1M530 271l-1 0M357 232l-1 2M387 235l-1 1M397 269l-2-1M453 272l2 3M483 274l1 4" stroke="#d42a2a" stroke-width="2" stroke-linecap="round" fill="none"/>
<path transform="scale(.5)" d="M473 277l2 2M569 268l-1-1M502 230l-2-1M444 272l1 2M410 234l2 0M367 270l3 3M376 271l-1-1M566 269l3 1M540 271l2 2M439 271l0 2M447 274l-4 1M401 269l1 2M444 274l3-2M523 274l4 1M562 270l-1 0M373 232l-1 1M550 274l1-1M395 273l-1 2M434 270l-2-2M521 234l0 3M430 273l3 3M455 235l-2-1M372 272l-3 0M357 271l-1 1M415 270l3 2M399 273l-3 3M469 275l-4-1M537 230l2-1M581 271l1-3M360 272l1-2M401 274l-1 1M508 229l3 2M574 271l-2-1M463 275l0 1M475 271l-3 2M547 275l2-2M549 229l-1-1M543 273l3-1M394 233l-2-3M411 235l-1 1M459 273l-2-3M445 271l-1-3M421 270l0-3M402 273l0-3M360 271l-1 0M443 271l1-2M535 272l0 2M481 272l0-2M502 275l-2-3M427 271l-2 2M427 273l-2-2M387 272l1 1M511 276l2 0M357 233l1 0M462 273l-1 2M527 276l1-1M523 273l2-1M543 276l2 2M412 232l2 2M434 277l0-2M385 269l-1-2M454 235l0 3M546 276l-3-2M533 277l-2 0M406 271l1 0M449 271l-1-1M367 233l-2-1M439 271l0 2M590 271l1-2M591 270l-2 0M420 272l-3 0M384 270l-2 3M563 232l-4 1M508 275l1-2M410 268l-1 0M403 268l1 2M454 275l1 2M419 271l-3 1M550 270l-2 0M463 273l0-3M575 270l-2 1M505 272l0 1M581 270l-2 1M390 271l1 1M451 273l4 1M546 270l4 1M420 271l-1 2M594 273l-2-3M368 229l-1-3M521 231l-4-1M526 272l2 0M491 272l-3-1M377 236l0-4M564 268l1-2M464 274l-2-1M489 273l2-2M577 231l2-2" stroke="#505050" stroke-width="2" stroke-linecap="round" fill="none"/>
<path d="M177.1 165.0 L188.1 164.8 L199.2 164.7 L210.2 163.8 L221.3 163.6 L232.3 164.6 L243.4 165.2 L254.4 165.1 L265.5 165.3 L276.5 165.5 L287.6 164.5 L298.6 163.7 L298.6 183.2 L287.6 183.0 L276.5 184.2 L265.5 184.8 L254.4 184.5 L243.4 184.5 L232.3 184.6 L221.3 183.6 L210.2 182.8 L199.2 183.4 L188.1 184.0 L177.1 184.0Z" fill="url(#dense)"/>
<path d="M177.1 165.0 L188.1 164.8 L199.2 164.7 L210.2 163.8 L221.3 163.6 L232.3 164.6 L243.4 165.2 L254.4 165.1 L265.5 165.3 L276.5 165.5 L287.6 164.5 L298.6 163.7 L298.6 183.2 L287.6 183.0 L276.5 184.2 L265.5 184.8 L254.4 184.5 L243.4 184.5 L232.3 184.6 L221.3 183.6 L210.2 182.8 L199.2 183.4 L188.1 184.0 L177.1 184.0Z" fill="url(#bandgrad)"/>
<path transform="scale(.5)" d="M514 329l-1-2M362 366l-2 2M355 330l1 1M378 365l1-1M460 368l1 2M492 368l1 3M450 327l-3-1M408 326l-1 3M573 363l1 1M474 325l2-3M464 327l3 0M561 366l2-1M453 326l-2 0M499 325l-1 2M573 327l2-1M540 327l-2 1M390 365l1 1M550 329l0 1M532 327l0 3M387 328l-2-1M511 368l1-2M395 329l-3-2M370 328l-1-3M474 368l2-2M451 328l-3 0M395 364l-2-1M589 328l2 0M389 370l-2-2M449 366l1 2M517 330l-2 1M582 367l1 2M429 366l3 0M445 365l0-2M491 329l-1-2M462 329l-1-2M558 368l2-3M585 367l2 2M445 326l0 1M593 327l-1 2M397 329l3 0M575 370l-3 0M400 364l1 2M496 327l-2 0M558 366l0 2M467 329l-3 1M501 367l-3 3M492 328l-1-2M536 330l1 1M545 326l1-1M423 365l-2 2M436 327l4 0M365 328l0 3M580 363l2-2M539 330l-3 0M442 325l3 2M442 326l-2-1M523 329l2 2M523 367l-2 2M466 368l-2 3M464 368l2-3M358 327l-1-2M549 368l3 1M499 368l-2-3M471 328l1-1M486 326l0 2M371 325l-1-3M424 366l-1 3M465 329l0-3M398 365l3 1M592 367l0 1M451 366l-4 0M458 327l2-3M383 324l-3 1M511 328l1 1M583 327l1 2M482 369l-2 2M490 326l0-1M577 325l2 0M361 330l0 1M472 328l3 2M463 327l1 0M366 329l-2-3M400 329l2 0" stroke="#d42a2a" stroke-width="2" stroke-linecap="round" fill="none"/>
<path transform="scale(.5)" d="M552 369l-3-1M406 368l0-3M439 369l-4 1M581 368l0 4M489 371l-1 0M507 369l0-2M418 368l0-3M436 368l1 1M416 370l4 1M463 328l2-1M465 367l1-3M580 324l-2 3M425 323l1 1M514 371l-3-1M554 367l3-2M564 365l3-1M549 370l0-2M425 366l-1 1M510 368l1 0M426 365l0-3M519 368l1 1M471 367l3-2M479 325l-1-1M575 373l3-2M425 372l1 1M416 367l-2 0M462 368l4 1M548 330l-3 0M554 367l1-1M405 365l1 0M408 366l-1-2M548 367l3 2M474 371l3 1M563 328l-2-1M559 365l0 2M518 326l3 1M555 370l3-1M428 327l1 0M463 373l0 3M487 329l1-4M424 368l0-1M417 367l-3-1M395 325l-2 2M359 366l-1-1M550 369l2 0M579 363l3 0M428 364l1-1M372 366l1 3M548 366l0-1M577 366l-1-4M526 329l1 3M504 370l-2 3M558 367l-1-3M378 325l-1 0M376 370l2 1M442 326l2 0M515 330l-2 0M579 365l-1 3M434 325l0 2M478 329l-3-2M418 365l2-3M515 329l2 2M406 365l0-2M357 367l-1 1M382 371l-2 0M454 371l3-1M424 363l1 3M400 329l3 1M459 368l-2 0M513 368l2-2M401 365l-1-1M496 367l-1-3M520 368l2-1M484 368l-2-1M516 372l2 2M485 330l2-1M417 367l-1-2M558 330l-4-1M419 364l1 4M443 325l2-3M382 367l-3-1M517 367l4 1M388 365l-1 3M413 367l1 1M594 365l0 1M441 365l-2-2M520 376l-1 2M362 368l-1 1M486 368l-1 1M528 330l-1-4M554 367l1 1M527 370l-1-2M472 368l-1 1M544 328l1 2M440 327l-1 0M480 367l-1-1M591 367l-1 3M404 365l-2 0M498 368l-1 3M499 368l-1 3M459 368l-2 0M525 329l-3-1M507 369l-1-3" stroke="#505050" stroke-width="2" stroke-linecap="round" fill="none"/>
<path d="M177.1 214.9 L188.1 215.0 L199.2 216.2 L210.2 216.6 L221.3 216.2 L232.3 216.3 L243.4 216.3 L254.4 215.2 L265.5 214.6 L276.5 215.4 L287.6 215.9 L298.6 215.8 L298.6 233.0 L287.6 233.9 L276.5 234.8 L265.5 234.6 L254.4 234.4 L243.4 234.5 L232.3 233.9 L221.3 232.9 L210.2 233.2 L199.2 234.0 L188.1 234.1 L177.1 234.3Z" fill="url(#dense)"/>
<path d="M177.1 214.9 L188.1 215.0 L199.2 216.2 L210.2 216.6 L221.3 216.2 L232.3 216.3 L243.4 216.3 L254.4 215.2 L265.5 214.6 L276.5 215.4 L287.6 215.9 L298.6 215.8 L298.6 233.0 L287.6 233.9 L276.5 234.8 L265.5 234.6 L254.4 234.4 L243.4 234.5 L232.3 233.9 L221.3 232.9 L210.2 233.2 L199.2 234.0 L188.1 234.1 L177.1 234.3Z" fill="url(#bandgrad)"/>
<path transform="scale(.5)" d="M376 428l-2-2M559 427l3 1M450 430l1 0M540 467l2 1M470 432l2-1M480 429l-1 1M406 468l0-4M412 430l-3 0M456 432l1 1M411 431l2 1M457 432l2 3M584 427l1-2M424 432l3 0M418 430l-3 1M384 428l-2 2M556 472l-2 0M568 431l-2-1M452 431l3 1M575 426l3 1M550 429l2 1M491 432l-2-3M361 430l2-3M441 431l0-3M422 432l-2 3M530 428l2-3M382 426l2-1M375 427l-3 1M359 429l1 1M375 427l-2-2M433 463l4 1M566 467l3-2M403 432l-1-2M370 428l3 1M407 433l-2 0M463 431l-1 2M509 468l3 2M450 464l-3 1M535 428l-3 1M460 468l-2 1M524 468l3 1M470 467l3 1M584 431l2 3M359 429l-1-4M583 464l0-2M544 470l2-2M423 464l3-3M370 428l1-1M357 429l3 1M406 432l2 0M416 429l0-2M425 432l1 2M362 466l-3 0M465 466l-1-2M457 432l2-3M449 429l-4 0M495 431l0 1M402 432l0-2M458 429l0-3M516 468l1-2M409 432l-2 1M532 428l2 1M360 426l1 2M430 432l0 1M374 466l2-3M447 466l0-4M483 466l0 1M418 464l-1-3M565 430l-3 0M551 428l3 2M363 429l0-2" stroke="#d42a2a" stroke-width="2" stroke-linecap="round" fill="none"/>
<path transform="scale(.5)" d="M527 468l2 2M520 468l-1-3M421 468l2 0M549 467l-3-1M526 467l3-2M459 466l-3 2M357 467l0 1M414 464l1 1M447 470l-2 3M361 470l-2-1M505 471l2 1M389 430l-1 3M357 466l1-2M575 430l0 2M566 429l1-2M509 427l-1-3M553 468l0-1M375 467l2 2M428 464l2-1M592 467l-2 0M498 430l1 1M390 467l-1 0M462 470l-1-2M404 468l4 1M560 468l0 2M371 466l-2-1M503 467l0-1M367 430l-4-1M435 427l1-2M417 469l-1 1M571 467l-3 1M524 470l1 3M436 467l-2-3M405 427l3 2M401 432l1 3M492 466l2-3M378 428l1 2M547 473l-2-3M581 428l-4 0M563 471l-4 0M509 430l1-3M357 470l-1 1M376 430l-3-2M473 466l-2-1M445 429l-2 3M525 427l0 2M495 467l-1-2M374 428l-1 0M409 433l0-1M508 470l3-1M373 468l2 1M463 465l2-2M542 426l-2 2M463 465l1 1M402 465l2 2M372 468l2 0M513 467l0 2M397 431l-3-1M437 465l-2 0M416 467l0 2M470 472l3 1M374 468l-3 1M538 470l2 3M427 466l0-1M548 428l-1 0M390 468l0 4M537 467l-2 3M492 469l-2 0M498 468l3 2M540 426l-1 2M422 466l0 1M540 474l-2-1M378 428l-2 0M526 469l-1-2M488 470l-3-2M478 466l2 3M520 467l-1-1M502 467l-1-2M445 468l1 1M468 467l-1 2M492 470l1-2M551 469l0 3M503 469l0 3M457 467l1 3M438 432l-1-1M518 468l-1 3M592 471l0 1M478 467l-3 2M414 466l3-2M550 429l-2 2M370 466l-3 1M459 465l-3 2M379 429l-1-2M508 466l0 2M558 470l-1-2M408 469l1-3M532 468l-2-1M495 466l3 2M500 468l0 1M575 472l0-1M412 469l0 4M547 427l-3 1M549 468l-2 0M534 469l3-2M469 470l1-2M416 464l-2-2M580 466l-2 2M533 467l0-3M502 469l-4 1M363 471l0-4M516 426l1 1M595 468l2-1M404 429l1-3M433 431l2 0M499 428l0-1M581 467l2 2" stroke="#505050" stroke-width="2" stroke-linecap="round" fill="none"/>
</g>
<text x="368.1" y="10.2" font-size="13.8" text-anchor="middle">50 ps</text>
<rect x="308.2" y="15.8" width="116.3" height="268.2" fill="none" stroke="#8a8a8a" stroke-width="1.1"/>
<g filter="url(#soft)">
<rect transform="translate(307.6 18.2)" width="117.5" height="15.3" fill="url(#slab)"/>
<path d="M304.2 21.8h3.4M425.1 21.8h3.4M304.2 27.1h3.4M425.1 27.1h3.4M304.2 31.4h3.4M425.1 31.4h3.4" stroke="#a0a0a0" stroke-width="0.6"/>
<rect transform="translate(307.6 266.9)" width="117.5" height="15.3" fill="url(#slab)"/>
<path d="M304.2 270.5h3.4M425.1 270.5h3.4M304.2 275.8h3.4M425.1 275.8h3.4M304.2 280.1h3.4M425.1 280.1h3.4" stroke="#a0a0a0" stroke-width="0.6"/>
<path transform="scale(.5)" d="M658 90h0M773 86h0M842 78h0M841 79h0M794 88h0M826 78h0M825 74h0M823 75h0M827 76h0M785 89h0M787 90h0M736 87h0M740 87h0M839 79h0M838 81h0M803 80h0M801 79h0M774 75h0M775 77h0M673 84h0M677 81h0M700 89h0M699 94h0M745 103h0M804 82h0M795 74h0M793 72h0M671 78h0M670 83h0M692 98h0M694 98h0M807 102h0M804 99h0M820 87h0M818 89h0M718 98h0M722 100h0M767 99h0M769 98h0M638 94h0M635 94h0M661 77h0M661 75h0M807 96h0M806 98h0M722 76h0M720 75h0M688 76h0M686 76h0M740 80h0M738 81h0M834 89h0M832 90h0M694 91h0M696 89h0M723 92h0M722 94h0M657 79h0M654 75h0M762 81h0M754 81h0M754 85h0M673 69h0M675 73h0M695 88h0M696 85h0M651 89h0M652 93h0M690 83h0M692 84h0M657 84h0M803 101h0M804 99h0M726 88h0M763 76h0M764 74h0M739 72h0M678 94h0M816 73h0M815 75h0M653 104h0M650 104h0M639 72h0M711 98h0M706 98h0M792 90h0M792 92h0M742 83h0M739 79h0M690 91h0M689 89h0M627 101h0M623 104h0M719 76h0M732 73h0M732 76h0M721 92h0M722 96h0M731 98h0M731 102h0M657 75h0M659 77h0M796 102h0M733 97h0M735 97h0M836 75h0M836 73h0" stroke="#d42a3a" stroke-width="2.7" stroke-linecap="round"/>
<path transform="scale(.5)" d="M826 76h0M825 75h0M738 87h0M675 82h0M699 92h0M670 80h0M806 101h0M720 99h0M656 77h0M754 83h0M674 71h0M652 91h0M709 98h0M741 81h0M625 103h0M721 94h0M731 100h0" stroke="#3a4a4a" stroke-width="2.7" stroke-linecap="round"/>
<path transform="scale(.5)" d="M744 519h0M740 521h0M638 518h0M814 524h0M815 528h0M829 524h0M813 519h0M817 521h0M795 522h0M796 524h0M773 511h0M773 508h0M731 524h0M732 522h0M747 518h0M745 517h0M711 527h0M709 526h0M724 527h0M812 518h0M814 519h0M712 527h0M832 521h0M832 524h0M794 524h0M816 511h0M814 512h0M656 525h0M660 520h0M662 521h0M739 520h0M742 523h0M696 517h0M694 516h0M732 518h0M835 518h0M836 520h0M804 512h0M802 513h0M735 513h0M674 519h0M672 520h0M805 525h0M806 529h0M701 515h0M788 517h0M786 513h0M820 520h0M818 521h0M714 509h0M688 530h0M690 526h0M624 521h0M626 520h0M815 520h0M645 519h0M757 508h0M756 505h0M718 528h0M719 526h0M629 514h0M792 517h0M790 513h0M723 518h0M719 521h0M738 520h0M737 516h0M776 526h0M776 523h0M779 527h0M836 522h0M835 524h0M640 511h0M640 514h0M642 509h0M640 510h0" stroke="#d42a3a" stroke-width="2.7" stroke-linecap="round"/>
<path transform="scale(.5)" d="M742 520h0M814 526h0M815 520h0M741 522h0M806 527h0M787 515h0M689 528h0M791 515h0M721 519h0M738 518h0M778 525h0" stroke="#3a4a4a" stroke-width="2.7" stroke-linecap="round"/>
<path transform="scale(.5)" d="M752 194h0M722 189h0M639 182h0M807 162h0M812 160h0M622 201h0M624 203h0M820 194h0M820 197h0M666 219h0M820 187h0M698 203h0M807 195h0M802 184h0M801 181h0M629 176h0M631 174h0M647 190h0M643 187h0M654 181h0M804 205h0M805 207h0M737 154h0M736 156h0M708 166h0M710 165h0M645 173h0M656 154h0M653 158h0M672 200h0M672 197h0M795 175h0M768 217h0M766 217h0M829 198h0M708 153h0M710 152h0M713 150h0M715 150h0M742 212h0M739 213h0M805 203h0M781 156h0M738 210h0M645 149h0M645 147h0M817 200h0M817 198h0M784 208h0M659 182h0M659 184h0M730 172h0M729 168h0M817 171h0M636 186h0M715 220h0M674 175h0M711 190h0M711 188h0M765 168h0M763 166h0M801 176h0M810 157h0M654 177h0M652 202h0M779 158h0M782 154h0M685 205h0M697 203h0M811 191h0M781 202h0M843 197h0M845 195h0M833 185h0M831 184h0M660 192h0M661 187h0M642 151h0M640 151h0M744 211h0M816 218h0M782 191h0M771 186h0M772 188h0M781 201h0M780 203h0M727 154h0M727 152h0M756 206h0M758 205h0M760 207h0M630 148h0M711 151h0M666 188h0M838 213h0M839 218h0M686 197h0M768 147h0M770 148h0M731 198h0M730 196h0M824 213h0M688 206h0M650 160h0M655 161h0M808 162h0M619 179h0M797 180h0M795 179h0M743 192h0M651 149h0M748 211h0M771 160h0M773 161h0M625 180h0M622 173h0M710 209h0M684 197h0M686 196h0M656 193h0M657 195h0M752 213h0M622 199h0M681 203h0M839 185h0M681 148h0M754 174h0M721 167h0M693 217h0M785 180h0M812 163h0M657 188h0M832 204h0M631 170h0M630 172h0M758 183h0M756 182h0M718 153h0M683 183h0M685 182h0M795 220h0M801 153h0M719 219h0M680 169h0M731 208h0M731 206h0M704 191h0M702 191h0M748 200h0M734 204h0M739 178h0M714 211h0M718 214h0M619 214h0M620 157h0M723 160h0M721 155h0M656 151h0M707 199h0M705 198h0M706 175h0M703 175h0M665 182h0M665 180h0M764 202h0M670 187h0M671 185h0M659 197h0M696 166h0M697 164h0M712 198h0M709 201h0M843 209h0M668 162h0M666 162h0M778 151h0M778 153h0M668 214h0M831 177h0M624 149h0M626 169h0M628 164h0M700 180h0M701 184h0M637 196h0M760 164h0M763 165h0M816 154h0M819 150h0M780 195h0M753 219h0M751 218h0M772 188h0M662 207h0M711 166h0M743 198h0M745 199h0M790 179h0M688 177h0M711 219h0M715 217h0M658 161h0M788 158h0M786 153h0M779 191h0M847 189h0M847 194h0M680 181h0M680 184h0M698 176h0M673 216h0M672 220h0M647 215h0M643 212h0M624 179h0M639 166h0M708 203h0M812 173h0M813 175h0M776 207h0M795 167h0M784 197h0M675 177h0M641 172h0M637 175h0M735 147h0M666 166h0M785 170h0M694 149h0M692 149h0M766 153h0M661 200h0M829 191h0M713 173h0M712 175h0M765 218h0M805 199h0M630 165h0M721 219h0M842 190h0M838 192h0M817 184h0M819 186h0M844 185h0M827 147h0M829 149h0M839 211h0M843 211h0M774 182h0M828 172h0M827 169h0M637 152h0M683 150h0M697 187h0M766 216h0M791 181h0M622 206h0M623 208h0M697 174h0M694 174h0M732 178h0M635 147h0M743 186h0M741 187h0M770 211h0M771 212h0M793 215h0M795 216h0M677 214h0M676 213h0M762 211h0M778 176h0M619 157h0M624 155h0M778 179h0M779 175h0M693 182h0M694 184h0" stroke="#d42a3a" stroke-width="2.8" stroke-linecap="round"/>
<path transform="scale(.5)" d="M759 207h0M758 209h0M756 211h0M722 187h0M809 161h0M664 220h0M645 189h0M780 195h0M779 197h0M779 199h0M772 163h0M769 162h0M767 161h0M738 180h0M736 182h0M700 216h0M698 217h0M654 156h0M838 175h0M835 175h0M771 205h0M773 204h0M775 203h0M722 186h0M722 184h0M730 170h0M733 200h0M734 201h0M736 202h0M672 176h0M744 184h0M742 183h0M659 161h0M661 160h0M664 160h0M652 178h0M780 156h0M766 166h0M765 168h0M660 189h0M799 213h0M797 214h0M839 215h0M640 203h0M639 205h0M637 206h0M631 165h0M631 168h0M653 161h0M742 164h0M740 164h0M738 164h0M628 181h0M803 177h0M801 178h0M622 201h0M800 211h0M798 210h0M796 208h0M683 201h0M695 218h0M786 177h0M832 201h0M735 194h0M735 191h0M734 189h0M768 220h0M767 217h0M682 168h0M716 213h0M847 152h0M845 153h0M780 158h0M782 157h0M784 156h0M750 200h0M751 202h0M751 204h0M722 157h0M730 157h0M732 159h0M733 161h0M621 149h0M619 147h0M617 146h0M646 195h0M647 193h0M710 199h0M627 167h0M700 182h0M636 193h0M817 152h0M778 193h0M659 208h0M841 169h0M843 168h0M709 189h0M712 188h0M713 218h0M656 162h0M787 155h0M847 192h0M739 204h0M741 203h0M672 218h0M645 214h0M778 148h0M780 147h0M773 207h0M793 166h0M639 174h0M787 169h0M840 191h0M712 210h0M712 208h0M711 206h0M841 211h0M646 168h0M648 168h0M636 150h0M777 178h0M713 173h0M712 175h0M710 177h0M622 156h0M779 177h0" stroke="#3a4a4a" stroke-width="2.8" stroke-linecap="round"/>
<path transform="scale(.5)" d="M821 158h0M718 188h0M674 155h0M665 208h0M824 202h0M802 201h0M764 195h0M675 205h0M771 193h0M638 209h0M834 204h0M727 147h0M709 149h0M719 182h0M772 207h0M831 181h0M807 201h0M646 174h0M668 172h0M734 197h0M844 218h0M651 150h0M738 180h0M681 194h0M746 196h0M844 149h0M685 178h0M803 188h0M762 164h0M698 200h0M683 161h0M779 215h0M814 189h0M693 203h0M709 165h0M749 180h0M770 164h0M776 157h0M782 215h0M730 182h0M668 187h0M710 204h0M672 156h0M824 156h0M653 203h0M634 205h0M721 219h0M766 191h0M728 173h0M830 181h0M792 150h0M662 199h0M792 172h0M687 182h0M792 169h0M689 212h0M724 217h0M686 178h0M837 203h0M787 191h0M733 159h0M791 205h0M743 154h0M820 189h0M630 200h0M623 220h0M823 219h0" stroke="#2f2fc8" stroke-width="2.8" stroke-linecap="round"/>
<path transform="scale(.5)" d="M693 218h0M783 184h0M787 161h0M751 199h0M837 202h0M701 218h0M732 202h0M771 173h0M677 189h0M837 164h0M711 195h0M747 205h0M696 147h0M740 219h0M714 194h0M755 185h0" stroke="#c8c8c8" stroke-width="2.8" stroke-linecap="round"/>
<path transform="scale(.5)" d="M634 274h0M774 290h0M734 287h0M735 286h0M697 300h0M724 332h0M761 318h0M839 283h0M777 320h0M765 333h0M767 332h0M690 279h0M810 321h0M811 319h0M801 276h0M804 273h0M662 331h0M675 275h0M676 273h0M798 312h0M628 285h0M820 330h0M754 287h0M637 269h0M652 291h0M782 314h0M659 304h0M676 299h0M720 301h0M805 301h0M809 298h0M734 269h0M730 272h0M702 332h0M735 299h0M698 318h0M725 276h0M825 283h0M844 284h0M842 285h0M812 314h0M812 316h0M827 271h0M825 271h0M831 306h0M716 316h0M823 318h0M674 306h0M677 333h0M697 309h0M626 310h0M625 312h0M626 281h0M651 274h0M628 311h0M627 313h0M844 281h0M842 283h0M629 317h0M631 270h0M742 304h0M745 306h0M688 334h0M688 332h0M774 305h0M776 284h0M802 330h0M677 306h0M655 285h0M658 284h0M657 314h0M660 313h0M842 307h0M703 302h0M698 303h0M683 313h0M657 270h0M797 268h0M755 278h0M771 327h0M769 328h0M653 275h0M658 276h0M727 316h0M722 306h0M773 310h0M800 282h0M743 268h0M660 309h0M661 311h0M641 326h0M788 286h0M789 284h0M669 316h0M805 326h0M792 284h0M793 279h0M760 301h0M708 267h0M674 316h0M675 313h0M636 276h0M637 274h0M817 296h0M819 292h0M839 325h0M838 321h0M633 297h0M681 327h0M679 327h0M683 291h0M842 332h0M837 330h0M712 329h0M713 332h0M727 302h0M783 321h0M779 318h0M834 278h0M837 277h0M780 286h0M703 315h0M844 273h0M621 334h0M812 335h0M810 331h0M678 274h0M680 278h0M650 312h0M650 310h0M687 272h0M688 277h0M827 280h0M827 282h0M668 298h0M669 296h0M663 301h0M665 299h0M718 310h0M718 312h0M806 273h0M808 273h0M805 315h0M815 317h0M746 286h0M619 283h0M828 290h0M830 291h0M681 283h0M799 269h0M649 294h0M732 270h0M729 273h0M810 315h0M784 287h0M719 279h0M717 279h0M808 303h0M676 297h0M674 297h0M768 272h0M770 300h0M820 277h0M823 274h0M820 273h0M799 308h0M784 299h0M635 327h0M682 286h0M681 285h0M707 303h0M705 308h0M766 275h0M636 283h0M634 285h0M722 290h0M691 284h0M649 333h0M669 308h0M725 296h0M725 293h0M740 296h0M746 323h0M637 297h0M746 277h0M768 270h0M667 269h0M634 281h0M700 308h0M702 308h0M804 311h0M806 268h0M663 303h0M657 313h0M659 314h0M635 310h0M638 311h0M655 316h0M659 319h0M807 293h0M737 284h0M735 285h0M819 310h0M796 315h0M792 313h0M775 311h0M777 313h0M682 267h0M648 294h0M647 296h0M800 296h0M644 303h0M648 305h0M763 301h0M845 325h0M717 300h0M823 296h0M822 298h0M760 289h0M763 288h0M740 269h0M648 274h0M649 270h0M846 292h0M762 299h0M840 300h0M842 299h0M640 277h0M647 298h0M645 298h0M724 316h0M812 318h0M663 281h0M663 332h0M664 330h0M812 296h0M814 295h0M786 299h0M791 299h0" stroke="#d42a3a" stroke-width="2.8" stroke-linecap="round"/>
<path transform="scale(.5)" d="M736 270h0M734 268h0M733 266h0M838 285h0M705 329h0M703 330h0M840 275h0M842 276h0M802 275h0M754 289h0M637 271h0M648 294h0M650 294h0M676 297h0M807 299h0M732 271h0M714 317h0M803 309h0M803 306h0M803 304h0M628 280h0M654 281h0M656 283h0M657 284h0M630 313h0M632 314h0M743 305h0M828 273h0M829 275h0M803 327h0M700 303h0M656 275h0M633 332h0M636 332h0M638 332h0M718 282h0M715 282h0M713 281h0M806 328h0M792 282h0M818 294h0M839 323h0M720 297h0M722 295h0M682 293h0M839 331h0M781 319h0M817 285h0M819 286h0M821 287h0M730 288h0M730 290h0M730 292h0M811 333h0M644 302h0M644 304h0M679 276h0M688 275h0M805 309h0M808 308h0M810 307h0M771 285h0M773 286h0M636 319h0M638 318h0M640 317h0M688 281h0M687 279h0M685 278h0M642 307h0M640 308h0M637 309h0M746 289h0M621 285h0M786 305h0M787 307h0M651 293h0M731 271h0M766 289h0M765 291h0M764 293h0M778 281h0M776 280h0M774 280h0M800 306h0M706 306h0M764 274h0M667 309h0M726 335h0M724 334h0M722 333h0M635 296h0M665 269h0M645 309h0M647 307h0M657 317h0M794 314h0M801 298h0M646 304h0M663 329h0M665 330h0M742 270h0M648 272h0M625 272h0M628 272h0M630 272h0M724 318h0M814 316h0M788 299h0" stroke="#3a4a4a" stroke-width="2.8" stroke-linecap="round"/>
<path transform="scale(.5)" d="M758 329h0M811 315h0M742 283h0M804 286h0M761 305h0M711 334h0M659 270h0M762 272h0M730 319h0M648 310h0M624 269h0M823 321h0M691 280h0M761 321h0M717 293h0M790 283h0M632 297h0M643 304h0M837 327h0M818 276h0M823 278h0M760 292h0M731 289h0M807 310h0M684 278h0M754 331h0M621 305h0M812 292h0M763 324h0M676 268h0M620 270h0M790 277h0M788 287h0M764 313h0M780 278h0M730 295h0M771 302h0M816 301h0M805 331h0M832 286h0M654 334h0M810 271h0M649 292h0M762 329h0M681 295h0M679 333h0M656 329h0M687 290h0M634 277h0M774 312h0M793 327h0M720 294h0M700 296h0M634 275h0M756 292h0M667 281h0M655 271h0M665 279h0M802 326h0M776 297h0M657 271h0M822 316h0M646 289h0M746 326h0M711 282h0M681 283h0M823 278h0M780 331h0M827 286h0M733 295h0M621 330h0M619 292h0M658 300h0" stroke="#2f2fc8" stroke-width="2.8" stroke-linecap="round"/>
<path transform="scale(.5)" d="M629 279h0M626 275h0M785 316h0M731 276h0M628 274h0M666 305h0M831 316h0M708 308h0M654 286h0M780 305h0M831 279h0M796 309h0M652 322h0M710 333h0M839 288h0M700 305h0M716 269h0M772 295h0" stroke="#c8c8c8" stroke-width="2.8" stroke-linecap="round"/>
<path transform="scale(.5)" d="M760 421h0M709 449h0M713 450h0M796 439h0M800 437h0M780 388h0M781 385h0M760 385h0M803 382h0M806 383h0M632 403h0M634 404h0M772 413h0M632 402h0M622 457h0M816 402h0M814 398h0M670 444h0M713 398h0M636 440h0M716 413h0M837 382h0M832 383h0M823 435h0M658 406h0M619 437h0M619 435h0M630 410h0M643 435h0M642 430h0M707 442h0M707 447h0M774 414h0M692 418h0M694 420h0M636 456h0M636 452h0M756 446h0M650 455h0M651 457h0M825 449h0M823 450h0M830 400h0M830 398h0M689 421h0M834 446h0M814 382h0M789 397h0M790 399h0M815 388h0M816 386h0M626 391h0M771 418h0M793 416h0M674 387h0M619 413h0M619 415h0M797 422h0M804 385h0M662 387h0M703 401h0M779 381h0M822 456h0M818 459h0M719 414h0M623 394h0M827 404h0M689 443h0M835 456h0M823 416h0M733 381h0M715 404h0M711 407h0M778 454h0M652 418h0M652 416h0M721 399h0M838 403h0M843 401h0M828 382h0M700 428h0M767 424h0M772 425h0M766 421h0M788 440h0M700 440h0M784 407h0M633 439h0M777 410h0M776 408h0M735 411h0M731 413h0M794 447h0M795 445h0M748 449h0M825 449h0M826 445h0M735 393h0M733 392h0M692 445h0M768 400h0M845 425h0M845 422h0M695 450h0M694 455h0M759 425h0M789 383h0M792 383h0M823 394h0M827 394h0M827 438h0M805 418h0M807 418h0M662 423h0M660 421h0M811 410h0M812 412h0M655 387h0M639 440h0M641 439h0M627 442h0M734 389h0M641 425h0M762 426h0M759 425h0M661 431h0M657 434h0M760 385h0M661 391h0M728 387h0M711 397h0M772 411h0M770 413h0M674 385h0M676 385h0M824 456h0M770 410h0M828 414h0M682 429h0M682 432h0M661 455h0M661 404h0M834 411h0M626 428h0M843 405h0M844 447h0M846 448h0M684 444h0M681 446h0M655 422h0M656 427h0M661 455h0M665 452h0M632 403h0M649 423h0M787 443h0M618 389h0M619 390h0M707 406h0M708 404h0M795 424h0M798 432h0M804 381h0M779 405h0M776 406h0M814 441h0M814 443h0M700 414h0M683 399h0M663 435h0M749 409h0M702 398h0M772 434h0M760 450h0M778 454h0M641 406h0M638 409h0M842 407h0M631 425h0M767 387h0M762 423h0M767 423h0M704 404h0M701 408h0M725 434h0M653 424h0M653 421h0M781 397h0M781 447h0M707 392h0M797 450h0M795 451h0M770 430h0M770 432h0M753 417h0M830 400h0M683 419h0M679 417h0M702 388h0M705 391h0M838 405h0M843 405h0M657 380h0M627 441h0M626 439h0M823 382h0M650 445h0M631 421h0M627 420h0M782 391h0M787 412h0M785 411h0M703 442h0M841 381h0M786 419h0M801 428h0M708 382h0M758 441h0M759 443h0M717 396h0M789 426h0M791 425h0M640 437h0M815 455h0M815 457h0M826 458h0M778 420h0M833 433h0M754 389h0M702 380h0M627 451h0M811 440h0M748 426h0M750 424h0M665 400h0M644 424h0M752 391h0M750 390h0M739 387h0M647 410h0M647 415h0M778 442h0M777 444h0M828 431h0M829 429h0M785 427h0M830 399h0M828 400h0M843 451h0M631 411h0M718 414h0M719 412h0M650 403h0M649 406h0M696 450h0M810 424h0M766 444h0M799 413h0M797 409h0M683 380h0M708 451h0M685 429h0M725 450h0M727 449h0M799 413h0M797 414h0M838 434h0M715 453h0M711 454h0M763 401h0M817 387h0M629 457h0M630 455h0M777 425h0" stroke="#d42a3a" stroke-width="2.8" stroke-linecap="round"/>
<path transform="scale(.5)" d="M657 393h0M657 395h0M711 449h0M798 438h0M772 411h0M709 435h0M711 436h0M713 436h0M794 431h0M795 433h0M815 400h0M672 444h0M697 404h0M697 402h0M697 400h0M813 391h0M812 389h0M835 383h0M823 437h0M642 432h0M707 444h0M776 414h0M762 448h0M761 446h0M636 454h0M725 398h0M727 400h0M834 449h0M784 424h0M782 426h0M628 393h0M788 395h0M789 397h0M790 399h0M701 403h0M820 457h0M621 394h0M834 454h0M822 414h0M713 405h0M696 448h0M695 450h0M841 402h0M701 426h0M770 425h0M702 435h0M702 433h0M733 412h0M826 447h0M825 457h0M824 455h0M770 401h0M694 452h0M758 427h0M825 394h0M756 407h0M756 409h0M661 458h0M659 456h0M658 454h0M655 418h0M656 420h0M657 422h0M659 433h0M749 434h0M747 433h0M823 458h0M645 425h0M646 427h0M647 429h0M660 406h0M627 426h0M683 445h0M656 424h0M663 454h0M789 442h0M688 389h0M690 391h0M657 458h0M655 457h0M658 384h0M659 386h0M757 450h0M640 408h0M630 422h0M794 412h0M796 413h0M797 415h0M648 451h0M646 452h0M644 454h0M765 423h0M679 411h0M677 410h0M702 406h0M729 449h0M726 449h0M753 415h0M681 418h0M704 390h0M840 405h0M629 420h0M620 393h0M622 392h0M624 392h0M747 445h0M745 447h0M740 416h0M742 417h0M743 419h0M699 381h0M786 396h0M785 398h0M812 437h0M768 421h0M768 419h0M768 416h0M647 412h0M671 413h0M671 416h0M670 418h0M642 441h0M640 441h0M764 444h0M798 411h0M706 453h0M713 454h0M743 416h0M742 414h0M817 385h0M803 404h0M805 405h0M807 405h0M775 426h0" stroke="#3a4a4a" stroke-width="2.8" stroke-linecap="round"/>
<path transform="scale(.5)" d="M720 415h0M681 419h0M796 415h0M769 429h0M752 445h0M642 414h0M832 404h0M784 402h0M629 411h0M650 431h0M756 415h0M737 384h0M842 439h0M729 388h0M800 425h0M767 428h0M727 409h0M837 381h0M631 425h0M729 413h0M682 437h0M665 389h0M695 400h0M738 451h0M689 453h0M698 437h0M700 457h0M770 431h0M623 454h0M835 416h0M805 458h0M671 457h0M843 406h0M754 436h0M812 397h0M798 392h0M682 455h0M843 434h0M707 434h0M733 416h0M754 445h0M750 411h0M723 433h0M782 386h0M709 414h0M828 414h0M777 404h0M810 454h0M792 402h0M671 431h0M722 443h0M799 418h0M733 399h0M664 402h0M636 412h0M811 429h0M654 402h0M728 399h0M660 417h0M662 384h0M740 451h0M813 395h0M719 388h0M673 390h0M733 423h0M813 403h0M635 450h0M782 404h0M785 437h0M750 397h0M752 455h0M695 404h0M813 433h0M700 402h0M662 446h0M722 408h0M672 419h0M623 392h0M810 442h0" stroke="#2f2fc8" stroke-width="2.8" stroke-linecap="round"/>
<path transform="scale(.5)" d="M729 384h0M707 441h0M644 429h0M769 401h0M792 446h0M692 436h0M728 442h0M722 420h0M786 435h0M822 432h0M692 411h0M623 410h0M773 433h0M652 407h0M727 454h0M802 448h0M619 410h0M693 389h0M754 423h0M647 387h0M639 444h0" stroke="#c8c8c8" stroke-width="2.8" stroke-linecap="round"/>
<path d="M305.7 51.5 L316.7 52.1 L327.8 53.8 L338.8 54.0 L349.8 53.4 L360.8 53.6 L371.9 53.2 L382.9 51.7 L393.9 51.4 L404.9 52.6 L416.0 53.1 L427.0 53.1 L427.0 72.3 L416.0 72.1 L404.9 71.0 L393.9 71.0 L382.9 72.5 L371.9 73.2 L360.8 72.9 L349.8 73.2 L338.8 73.2 L327.8 71.7 L316.7 70.8 L305.7 71.6Z" fill="url(#dense)"/>
<path d="M305.7 51.5 L316.7 52.1 L327.8 53.8 L338.8 54.0 L349.8 53.4 L360.8 53.6 L371.9 53.2 L382.9 51.7 L393.9 51.4 L404.9 52.6 L416.0 53.1 L427.0 53.1 L427.0 72.3 L416.0 72.1 L404.9 71.0 L393.9 71.0 L382.9 72.5 L371.9 73.2 L360.8 72.9 L349.8 73.2 L338.8 73.2 L327.8 71.7 L316.7 70.8 L305.7 71.6Z" fill="url(#bandgrad)"/>
<path transform="scale(.5)" d="M725 143l3-1M686 105l0-1M657 141l2 1M760 152l1 2M833 141l-3 1M848 105l0-2M698 106l-1-3M761 143l0 1M796 98l1-4M690 149l-1-2M828 143l0 1M813 140l1 2M831 106l2-3M849 105l0 2M717 106l2 1M642 143l2 3M667 143l2 0M797 142l-2 1M824 104l1-2M781 144l-2-1M737 103l-2 1M690 153l-3 1M786 143l2 0M825 104l1-1M798 140l2 0M639 142l2 1M659 106l1 0M675 105l-2 3M629 142l-2 2M632 102l-2 0M770 101l-3 0M656 145l-2 4M661 107l1-1M662 143l0-2M677 107l-1 1M673 107l-1-1M831 102l-2 0M676 107l-1 1M626 144l-1 1M703 104l1 1M702 153l-1 3M614 100l0-4M821 102l-1-1M733 107l-1 0M635 101l1 1M668 145l0 2M623 102l1-1M626 103l-3 1M685 103l2 2M641 143l-1 0M626 143l1 3M764 103l-2-3M640 144l2 3M805 105l-3-2M710 105l1 2M655 142l-3-2M646 142l0 3M688 145l2-3M712 144l2-3M624 103l0-2M718 145l-1-2M707 105l0 1M706 144l-1-2M771 103l-1 1M731 104l0-3M798 143l2 3M678 108l-1 0M612 143l-1-2M715 105l0-2M736 102l2 2M807 140l2-1M748 148l2-2M673 145l-1 1M682 106l-2 3M675 144l1-2M710 106l1-3M733 143l-2 1" stroke="#d42a2a" stroke-width="2" stroke-linecap="round" fill="none"/>
<path transform="scale(.5)" d="M661 144l-3-2M657 141l0-4M630 145l-3-1M725 144l-4-1M832 145l-1 1M818 141l-2-2M755 146l1 3M686 146l-3 1M808 139l3 0M759 146l1 0M659 142l-2-2M621 140l-1-3M843 142l-2 2M677 146l2 0M693 145l1 1M652 102l-2-1M616 144l-2 0M724 143l1 0M636 139l3 2M658 149l-1-1M716 145l1 4M626 101l0-3M791 144l-3-1M707 104l2 1M801 102l-1-2M822 105l-2 0M701 145l2-3M806 141l0 1M829 105l-2-2M655 107l2 2M700 145l-2 2M837 105l3-3M838 105l-2-3M637 142l-1 3M842 105l1-2M662 151l1-3M804 140l3 0M839 143l1 3M632 141l-2 1M718 105l1 0M712 103l3-1M732 148l1-4M622 141l-2-1M681 146l1 1M746 143l3 2M682 145l1 0M703 144l0 1M788 142l3-1M667 143l1-1M685 106l3-1M665 143l-3-2M817 141l1-1M663 105l-2 0M738 145l1 2M798 142l1 0M836 103l-1 0M725 145l-1-1M787 145l-3 1M766 102l0-1M789 143l3-2M687 144l3-1M781 143l2 2M810 105l-2-1M697 150l2-3M773 142l-2 1M666 105l-2 0M747 143l-2 1M745 105l1-3M682 149l-2 1M782 145l1-1M690 146l-1-2M720 145l-1 0M643 141l-2 3M697 145l4 0M815 105l1-2M730 145l1-3M613 142l1 0M762 101l0 2M682 144l-1 2M792 100l1 3M835 105l2-2M818 100l2 1M684 146l1-1M727 106l-2 0M703 144l-3-1M835 143l1-2M660 146l3 1M746 144l-3-2M622 103l4-1M798 102l0-4M700 144l0 2M804 141l-3-1M665 143l-2-2M712 144l-2-2M814 141l0 3M733 105l2 1M806 140l-2 0M696 144l4-1M656 142l0-2M629 139l2 1M805 104l2 1M759 143l1 3M668 147l-1 2M703 145l1-3M715 106l3 3M670 143l1 0M688 145l-1-2M713 144l1-1M646 98l2 1" stroke="#505050" stroke-width="2" stroke-linecap="round" fill="none"/>
<path d="M305.7 110.6 L316.7 109.6 L327.8 109.9 L338.8 111.6 L349.8 112.0 L360.8 111.6 L371.9 111.8 L382.9 111.6 L393.9 110.1 L404.9 109.5 L416.0 110.5 L427.0 111.0 L427.0 133.4 L416.0 132.8 L404.9 132.8 L393.9 132.0 L382.9 131.0 L371.9 131.8 L360.8 133.2 L349.8 133.2 L338.8 133.2 L327.8 133.8 L316.7 133.1 L305.7 131.5Z" fill="url(#dense)"/>
<path d="M305.7 110.6 L316.7 109.6 L327.8 109.9 L338.8 111.6 L349.8 112.0 L360.8 111.6 L371.9 111.8 L382.9 111.6 L393.9 110.1 L404.9 109.5 L416.0 110.5 L427.0 111.0 L427.0 133.4 L416.0 132.8 L404.9 132.8 L393.9 132.0 L382.9 131.0 L371.9 131.8 L360.8 133.2 L349.8 133.2 L338.8 133.2 L327.8 133.8 L316.7 133.1 L305.7 131.5Z" fill="url(#bandgrad)"/>
<path transform="scale(.5)" d="M711 220l2-3M851 222l3 1M822 264l-1 1M686 223l2-1M726 266l-2-3M744 261l1 3M631 218l-2 3M671 220l3 1M691 265l3 2M744 223l-2 1M669 264l-2-2M729 221l-3-1M711 223l1 1M780 218l-1 1M770 260l-3 2M719 222l-1 0M690 222l-1-2M846 218l-1 1M805 216l1 0M780 265l0 2M846 218l2-1M650 218l2 3M748 221l3 0M724 221l2-1M786 218l0-2M827 219l1 0M795 219l-1-3M639 217l2 3M685 221l1 1M677 222l2 0M731 221l2 0M665 267l-1-1M827 215l1-3M713 223l-1 0M725 264l2 0M841 220l1 3M685 265l-1-1M847 265l2 2M816 266l0-2M730 263l3 0M848 220l-1-1M672 268l2 1M704 265l4 0M762 223l2 3M763 218l-1 0M725 219l2-2M751 222l2-1M840 221l4-1M630 219l0 1M779 219l1 4M776 264l1 1M669 264l-2-1M680 268l-4 1M672 221l-2 1M621 263l-3-1M675 220l-1 1M852 216l0 1M738 265l-3-1M738 262l1 0M752 221l-1 1M719 268l-3 2M749 262l-2 2M729 270l-1 1M804 264l0-2M833 220l1-1M820 216l-2 1M737 223l1-1M721 265l0 1M774 264l-3 2M702 217l0 2M758 260l1 2M668 217l-3-1M758 263l-1-1M712 223l1-3M740 223l-2 1M652 266l-1-1M812 217l-1-1" stroke="#d42a2a" stroke-width="2" stroke-linecap="round" fill="none"/>
<path transform="scale(.5)" d="M729 264l-1-1M701 265l-2 2M710 264l3-2M754 262l0 1M720 271l1-1M753 222l-1 0M816 218l2 2M668 265l2 2M637 216l-3 3M643 266l-3 0M744 262l1 2M790 261l2-3M719 265l-2 2M755 261l2-1M796 218l-2 0M720 265l1 1M841 264l-1 1M731 265l1-1M721 264l-4 1M716 266l2-2M838 269l2 0M773 262l-3 0M669 264l2-3M686 264l1-1M765 261l-3 0M760 222l3 1M794 216l1 1M621 267l1-1M814 264l2-2M765 259l-1 3M830 264l0-1M696 223l0 1M714 265l2-1M662 267l0-1M677 273l0 2M738 266l0-2M628 264l1 1M699 222l-1 1M685 221l0-1M685 221l3 3M695 266l-1 1M670 266l-1 1M792 264l2 0M832 265l1 0M765 263l-3 2M691 267l-2-1M848 219l0 3M673 222l-2 0M652 266l2-1M798 262l4 1M743 265l1 2M682 223l-2 0M697 263l0-2M765 263l1 1M826 265l-4-2M769 261l-1-1M698 268l1 1M717 264l3-2M688 223l-1 1M648 268l1 0M700 264l1-2M680 222l-2-1M744 262l-3 3M657 267l1 3M712 220l-1 0M672 264l1 4M687 264l1 0M649 265l-4 1M839 265l1-3M686 264l1-2M797 219l-2-2M840 218l3 1M664 266l-1-1M833 217l1-2M770 221l1-1M772 260l3 2M823 219l0-1M663 220l-3 0M669 267l0 3M664 265l-1 3M677 266l2-3M726 222l2 1M798 266l2 2M630 263l0-1M787 266l-1 4M807 264l3 1M710 265l3 1M647 265l2 1M678 220l-1-2M635 216l-1-1M728 268l2 0M840 218l1-1M766 259l2-2M718 266l2 3M847 269l-1 0M672 270l1 2M782 266l-2 2M770 262l4-1M810 267l2 0M776 260l2-3M777 261l0-3M715 265l-2-3M635 265l3 1M746 266l1 1M635 265l2-3M659 267l-1 0M742 264l3 1M830 264l0-3M846 268l-1 2" stroke="#505050" stroke-width="2" stroke-linecap="round" fill="none"/>
<path d="M305.7 169.3 L316.7 168.8 L327.8 168.8 L338.8 167.8 L349.8 167.0 L360.8 168.0 L371.9 169.2 L382.9 169.1 L393.9 169.3 L404.9 169.8 L416.0 168.9 L427.0 167.4 L427.0 188.1 L416.0 187.5 L404.9 188.8 L393.9 190.1 L382.9 189.8 L371.9 189.6 L360.8 189.9 L349.8 188.9 L338.8 187.5 L327.8 187.9 L316.7 188.9 L305.7 189.0Z" fill="url(#dense)"/>
<path d="M305.7 169.3 L316.7 168.8 L327.8 168.8 L338.8 167.8 L349.8 167.0 L360.8 168.0 L371.9 169.2 L382.9 169.1 L393.9 169.3 L404.9 169.8 L416.0 168.9 L427.0 167.4 L427.0 188.1 L416.0 187.5 L404.9 188.8 L393.9 190.1 L382.9 189.8 L371.9 189.6 L360.8 189.9 L349.8 188.9 L338.8 187.5 L327.8 187.9 L316.7 188.9 L305.7 189.0Z" fill="url(#bandgrad)"/>
<path transform="scale(.5)" d="M679 332l0 2M770 378l3-1M772 378l-3 1M750 336l1 1M614 337l1-2M742 378l-3 1M816 375l-3-1M738 377l-1 3M789 337l-3 2M659 373l-2 3M752 382l0 2M811 377l-1 1M738 377l3-2M651 337l-4-1M635 337l-1 0M828 374l2-1M794 335l3 1M728 380l2-2M785 336l-2 3M755 337l-1 3M661 336l0 4M614 336l3-1M848 334l1 2M646 337l-1 0M676 335l-2 1M622 335l-1-1M657 373l-2 0M811 377l1 1M745 335l0 1M841 335l0-3M769 338l1-2M704 376l0-2M806 331l2-1M829 337l-2 0M634 337l-4 1M702 377l3 2M655 336l2-3M618 334l2 0M730 377l-2-1M619 335l4 1M837 335l-1 0M715 378l4 0M699 332l0 2M654 375l0-2M689 333l-1-1M805 339l-3-2M837 374l2 1M625 338l1 1M666 375l-1-2M615 378l1-1M686 335l3 0M837 337l3 1M691 334l0 2M778 338l1-1M637 337l-2 0M629 338l2-1M625 378l0-1M666 335l-2 3M776 378l-2-3M803 384l1-1M817 375l-1-2M777 335l-1 1M666 337l2 2M619 376l-1-2M815 338l0-2M744 379l-1-1M627 382l-1 2M734 335l1-1M833 336l-2 0M766 338l-2 3M848 373l3 2M793 380l-1 3M759 378l0 1M763 379l3 2M787 333l3 0M827 376l-1-1M743 378l2 1M614 377l2-1" stroke="#d42a2a" stroke-width="2" stroke-linecap="round" fill="none"/>
<path transform="scale(.5)" d="M808 376l1 1M706 380l-2-1M775 337l0-1M664 376l0 2M789 380l0 2M668 336l0-2M725 378l2-2M780 379l-2 1M824 374l-2 1M679 373l-3 1M693 376l-1 3M818 374l2-2M786 381l0 3M839 372l-1-3M810 338l-2-1M724 381l-1 0M714 380l-1 3M648 375l-1 2M762 379l-2-2M704 334l0-2M826 336l-3 1M644 374l-1-3M796 377l-1-1M726 377l1-2M675 332l0 3M695 376l-2 0M793 379l-1 0M649 377l-1 4M676 372l1 1M642 337l-1 1M643 335l2 1M641 376l1-2M638 375l-1 2M817 374l2 2M760 336l2-2M628 336l1 0M635 334l3-1M617 376l1 0M619 378l1-2M657 377l-2 0M836 374l2 1M702 376l2-1M724 334l2-2M776 381l3 0M769 377l-3 1M665 374l0-2M846 375l-1 0M716 383l0 1M674 374l1-1M639 375l-2 2M801 378l-1 3M628 376l2 1M668 373l1 4M635 335l1 0M827 336l-1 1M678 373l-3 2M767 379l2-3M680 372l-2 0M662 337l-3 0M716 379l-2-2M728 380l-3 3M724 380l-2-1M836 377l-1-2M663 335l3-2M618 378l1 2M752 377l0 1M629 336l-2-2M716 379l1-1M693 377l-1 1M657 337l-1 2M654 374l4-1M805 375l-3-1M663 336l0 2M779 378l0 3M772 377l0-4M851 374l1 0M667 336l-2-1M660 373l0-1M770 379l3 1M797 378l0-4M733 379l1 1M635 335l-1-1M840 380l2 3M841 373l3 2M849 331l2 1M843 373l-1-1M669 377l4-1M646 378l-1 0M657 377l-1 0M679 375l0-4M632 336l-1-1M717 377l1 0M635 375l1 1M795 382l-1 1M779 385l1 0M618 337l2-1M799 338l3 1M693 375l0 2M648 374l1 2M824 337l1-1M841 375l-1-4M831 374l4-1M691 375l-1-1M696 376l0 2M846 375l1-1M801 339l0 2M641 378l1 3M811 376l1-1" stroke="#505050" stroke-width="2" stroke-linecap="round" fill="none"/>
<path d="M305.7 230.9 L316.7 230.2 L327.8 230.3 L338.8 229.5 L349.8 228.4 L360.8 229.1 L371.9 230.5 L382.9 230.6 L393.9 230.6 L404.9 231.2 L416.0 230.7 L427.0 229.0 L427.0 251.7 L416.0 251.6 L404.9 251.3 L393.9 250.1 L382.9 250.0 L371.9 251.5 L360.8 252.2 L349.8 251.9 L338.8 252.4 L327.8 252.4 L316.7 250.9 L305.7 250.0Z" fill="url(#dense)"/>
<path d="M305.7 230.9 L316.7 230.2 L327.8 230.3 L338.8 229.5 L349.8 228.4 L360.8 229.1 L371.9 230.5 L382.9 230.6 L393.9 230.6 L404.9 231.2 L416.0 230.7 L427.0 229.0 L427.0 251.7 L416.0 251.6 L404.9 251.3 L393.9 250.1 L382.9 250.0 L371.9 251.5 L360.8 252.2 L349.8 251.9 L338.8 252.4 L327.8 252.4 L316.7 250.9 L305.7 250.0Z" fill="url(#bandgrad)"/>
<path transform="scale(.5)" d="M843 455l-4 0M638 500l-3-1M753 459l-1-1M732 503l1 2M656 505l0-1M674 459l1-1M750 460l0-2M852 458l0-2M719 502l0-1M641 458l-1 1M614 499l1 2M644 460l0 1M776 461l0 3M817 461l-4-1M737 458l1 0M715 454l-1 1M662 502l-1-2M628 459l1-2M768 502l2 3M810 461l-2 2M630 500l0 3M848 457l0-1M851 454l0 1M683 457l-2 2M843 456l-1-2M807 462l2-1M714 454l-1 0M613 458l0 1M715 456l-4 0M849 507l2 3M648 457l-1 3M758 457l-1 1M729 504l-1-1M614 459l2-1M803 500l3 2M775 460l2 2M642 458l-2-2M643 503l2 1M623 460l0-2M811 500l3 0M763 460l-2-1M676 507l0 1M750 457l-1-1M710 457l0 3M713 506l1 2M737 455l0-2M842 458l1-1M679 506l0 2M618 502l3 1M650 502l-1-2M821 505l-1 0M776 499l-2 1M705 504l3-2M839 455l-1-2M721 456l-2 0M826 457l-2 1M656 459l1 2M771 459l0 3M765 498l3 2M695 454l1 1M642 456l-1 0M701 454l2-1M706 505l1-1M624 501l3 0M770 500l2 0M695 453l1 4M849 504l1-2M724 508l-1-1" stroke="#d42a2a" stroke-width="2" stroke-linecap="round" fill="none"/>
<path transform="scale(.5)" d="M847 503l2 1M678 455l-2 0M626 460l-3 2M757 499l3 2M644 501l1 0M808 462l2 3M763 460l-2 2M696 454l-3 2M835 501l-2 2M732 457l1-2M841 456l-1 1M784 501l3 1M636 500l-2 2M809 504l-2 2M793 459l2-2M824 500l2 0M776 502l3-1M680 505l-1 1M688 503l-1-2M725 501l0 2M794 499l-2-3M738 460l-3 1M634 503l-2 0M746 503l0-1M682 503l2-1M629 499l0 2M737 501l0-2M675 504l3-1M776 498l-2-3M674 459l2 3M616 500l0-3M705 505l1 0M806 503l3-2M685 505l-2 3M776 499l-2-3M799 499l1 3M802 502l0-4M748 458l-4 1M706 502l2 1M744 500l4-1M733 505l0-2M781 502l-1 3M681 504l0 2M653 507l3 2M674 503l2-1M776 500l-1 1M667 503l1-1M779 458l1 0M819 459l1-1M732 458l-1 1M836 504l-1-3M831 505l-1 0M782 460l-2-3M642 459l1 0M684 504l2 1M818 453l-1-2M744 501l-1 1M800 503l0-3M659 509l-1-4M800 499l3 2M806 505l-2-3M637 459l2-2M813 503l3 1M692 457l-3-1M666 504l0 3M648 457l0-3M796 500l-4 1M623 500l-3 0M832 503l1-2M826 460l3-1M788 498l1 1M823 502l1 3M673 506l3-2M632 460l-1 1M630 501l-2-1M652 456l2 3M756 499l0 3M755 502l-1 1M720 502l-1 2M848 502l-2-3M763 501l2-2M835 501l-1 0M760 502l-1 2M616 499l1-2M829 503l-1 2M848 504l2 0M777 504l1 0M834 505l-1 0M760 501l2 3M728 503l-2-3M840 503l2-3M675 507l3-2M783 498l1-3M641 501l1 0M646 509l3 1M830 505l1 3M695 457l-1-2M734 506l3-2M795 500l-3 1M661 457l-3-1M770 460l1-1M762 499l2-2M751 501l1 3M810 503l2 1M784 500l0 3M799 498l1-3M704 503l-3-2M754 503l-2 2M765 498l-2-3M654 504l0-2M692 505l2-2M634 459l-3 0M698 503l3 1M817 500l2 1M674 503l1-4M631 454l-1 3M669 505l-1-1M642 501l3-1" stroke="#505050" stroke-width="2" stroke-linecap="round" fill="none"/>
</g>
<text x="498.6" y="10.2" font-size="13.8" text-anchor="middle">150 ps</text>
<rect x="437" y="16.2" width="116.5" height="268.5" fill="none" stroke="#8a8a8a" stroke-width="1.1"/>
<g filter="url(#soft)">
<rect transform="translate(436.4 18.5)" width="117.7" height="15.3" fill="url(#slab)"/>
<path d="M433.0 22.1h3.4M554.1 22.1h3.4M433.0 27.4h3.4M554.1 27.4h3.4M433.0 31.7h3.4M554.1 31.7h3.4" stroke="#a0a0a0" stroke-width="0.6"/>
<rect transform="translate(436.4 267.2)" width="117.7" height="15.3" fill="url(#slab)"/>
<path d="M433.0 270.8h3.4M554.1 270.8h3.4M433.0 276.1h3.4M554.1 276.1h3.4M433.0 280.4h3.4M554.1 280.4h3.4" stroke="#a0a0a0" stroke-width="0.6"/>
<path transform="scale(.5)" d="M948 78h0M950 77h0M1070 75h0M1069 73h0M1035 85h0M1035 82h0M976 98h0M978 99h0M936 73h0M923 72h0M925 82h0M927 83h0M886 69h0M884 73h0M937 82h0M937 87h0M908 91h0M909 89h0M992 98h0M994 100h0M917 100h0M913 98h0M955 76h0M956 74h0M982 100h0M984 99h0M916 98h0M917 101h0M983 87h0M982 85h0M1080 74h0M1081 72h0M891 92h0M895 89h0M1000 81h0M999 83h0M914 87h0M914 85h0M1097 77h0M1101 74h0M929 100h0M929 95h0M936 91h0M1007 72h0M1003 75h0M1077 82h0M1072 80h0M909 92h0M907 92h0M976 72h0M974 72h0M972 84h0M970 83h0M975 86h0M980 85h0M1039 87h0M1038 91h0M1047 76h0M1048 81h0M1058 81h0M1087 92h0M1088 94h0M1079 72h0M1010 84h0M1012 88h0M963 88h0M1030 79h0M1028 78h0M958 94h0M974 79h0M978 76h0M945 81h0M942 81h0M987 85h0M995 76h0M993 77h0M1089 93h0M1091 92h0M1058 96h0M950 76h0M951 72h0M936 86h0M934 87h0M884 77h0M889 76h0M1058 90h0M1060 91h0M1068 90h0M1069 95h0M990 81h0M988 79h0M1031 78h0M1032 83h0M1077 84h0M1077 87h0M990 81h0M985 79h0M981 91h0M981 93h0M1069 83h0M1049 73h0M1050 71h0M919 100h0M921 98h0M946 84h0M950 86h0M1020 88h0M1096 72h0" stroke="#d42a3a" stroke-width="2.7" stroke-linecap="round"/>
<path transform="scale(.5)" d="M885 71h0M937 84h0M915 99h0M893 91h0M1099 75h0M929 97h0M1005 74h0M1074 81h0M978 86h0M1038 89h0M1047 78h0M1011 86h0M976 78h0M950 74h0M886 77h0M1068 92h0M1031 80h0M987 80h0M948 85h0" stroke="#3a4a4a" stroke-width="2.7" stroke-linecap="round"/>
<path transform="scale(.5)" d="M989 527h0M986 528h0M941 527h0M943 528h0M883 519h0M915 527h0M903 520h0M905 521h0M1017 527h0M1015 526h0M1053 519h0M1051 518h0M916 524h0M916 526h0M930 523h0M932 528h0M1089 518h0M1087 519h0M966 513h0M965 508h0M1061 516h0M897 509h0M895 508h0M911 518h0M1025 512h0M1023 511h0M989 522h0M896 522h0M897 524h0M1064 527h0M1064 530h0M1088 519h0M904 520h0M1020 516h0M1019 514h0M903 522h0M907 524h0M990 516h0M988 514h0M998 529h0M996 528h0M899 530h0M900 525h0M961 524h0M961 526h0M909 511h0M911 512h0M1029 525h0M1028 523h0M947 518h0M949 518h0M909 516h0M911 517h0M1008 530h0M1009 528h0M1097 517h0M1096 519h0M988 514h0M986 514h0M891 521h0M893 522h0M895 512h0M898 512h0M1057 518h0M1053 517h0M969 509h0M890 526h0M889 524h0M898 524h0M897 526h0M906 505h0M908 507h0M975 514h0M973 514h0M1021 507h0M954 522h0M1084 509h0M1079 509h0M935 516h0M933 516h0" stroke="#d42a3a" stroke-width="2.7" stroke-linecap="round"/>
<path transform="scale(.5)" d="M931 525h0M965 510h0M905 523h0M900 528h0M1055 517h0M1081 509h0" stroke="#3a4a4a" stroke-width="2.7" stroke-linecap="round"/>
<path transform="scale(.5)" d="M1005 182h0M1004 184h0M902 174h0M1097 214h0M1099 143h0M1076 161h0M1072 163h0M976 145h0M978 144h0M1039 188h0M1037 189h0M1098 219h0M1045 162h0M1047 161h0M876 195h0M1023 147h0M1037 203h0M961 213h0M962 215h0M974 214h0M925 191h0M947 214h0M1009 155h0M1013 157h0M911 192h0M910 194h0M1044 144h0M1045 146h0M1040 187h0M1042 143h0M1089 188h0M1085 186h0M1028 148h0M1032 150h0M1023 155h0M1004 143h0M1075 206h0M895 192h0M893 193h0M899 180h0M1014 188h0M1017 191h0M879 187h0M931 148h0M929 148h0M1008 176h0M915 200h0M917 148h0M914 144h0M1050 205h0M880 209h0M906 153h0M908 157h0M1043 197h0M1042 193h0M1055 184h0M1012 214h0M1012 217h0M957 170h0M1031 207h0M1053 197h0M1097 207h0M1099 206h0M1093 178h0M944 184h0M944 186h0M939 210h0M998 188h0M1021 198h0M1053 200h0M1051 201h0M1028 168h0M1032 169h0M1066 189h0M1064 189h0M1094 203h0M937 185h0M883 214h0M879 214h0M1087 187h0M1085 189h0M952 216h0M896 162h0M1071 183h0M1066 184h0M1032 184h0M1031 186h0M896 214h0M1025 149h0M1023 148h0M1031 183h0M926 214h0M923 211h0M1094 155h0M1001 152h0M1000 150h0M1008 183h0M1010 184h0M1039 144h0M878 167h0M881 167h0M1015 147h0M904 191h0M1100 205h0M972 148h0M966 175h0M967 178h0M1077 186h0M932 178h0M953 214h0M955 215h0M934 180h0M931 176h0M1027 211h0M1026 207h0M966 163h0M941 151h0M1084 164h0M892 185h0M939 142h0M940 144h0M995 148h0M997 143h0M1070 171h0M1096 202h0M998 182h0M976 206h0M1088 191h0M980 207h0M1081 199h0M1083 198h0M918 174h0M903 150h0M952 150h0M952 148h0M1028 194h0M1033 176h0M1032 181h0M1018 150h0M1018 154h0M913 148h0M909 150h0M898 182h0M900 183h0M1033 158h0M889 198h0M965 154h0M964 150h0M925 158h0M925 160h0M917 174h0M991 178h0M1011 165h0M1098 198h0M1030 186h0M1032 187h0M938 193h0M917 146h0M1067 201h0M924 202h0M922 206h0M1052 212h0M886 145h0M888 140h0M1064 172h0M962 161h0M966 159h0M990 188h0M1091 147h0M981 162h0M1047 164h0M1047 166h0M906 154h0M904 154h0M927 187h0M933 146h0M994 172h0M1081 156h0M902 183h0M903 188h0M1079 201h0M1081 201h0M911 207h0M909 207h0M1024 184h0M1010 175h0M1006 178h0M894 175h0M999 213h0M1003 215h0M959 213h0M926 154h0M1036 215h0M1037 177h0M1040 173h0M1012 207h0M991 192h0M991 190h0M1034 187h0M1042 189h0M890 165h0M889 167h0M983 173h0M981 172h0M898 158h0M887 194h0M1074 179h0M1032 170h0M889 185h0M973 165h0M1084 197h0M1013 149h0M1015 153h0M1036 158h0M891 188h0M890 186h0M942 179h0M911 163h0M911 165h0M995 161h0M998 161h0M1042 207h0M1040 207h0M885 153h0M883 151h0M920 195h0M886 149h0M888 148h0M941 166h0M930 190h0M930 193h0M1096 202h0M1093 198h0M997 210h0M1028 213h0M947 151h0M1020 182h0M1077 158h0M1078 160h0M967 211h0M966 210h0M898 215h0M978 166h0M982 168h0M1088 164h0M1088 166h0M997 203h0M1002 205h0M1050 198h0M1047 195h0M997 180h0M994 184h0M900 214h0M1011 160h0M1013 159h0M1016 150h0M973 146h0M989 207h0M989 205h0M883 154h0M975 197h0M896 185h0M894 184h0M932 201h0M981 209h0M913 218h0M915 218h0M1056 176h0M951 168h0M1088 206h0M1092 211h0M886 145h0M1087 181h0M1056 208h0M1055 210h0M906 204h0M1070 185h0M987 212h0M992 212h0M950 189h0M1044 168h0M1040 165h0M988 202h0M1026 175h0M1024 175h0M926 203h0M924 201h0M943 192h0M940 189h0M1076 179h0M1024 210h0M879 217h0M874 219h0M1099 180h0M1098 178h0M919 209h0M923 210h0M1086 147h0M916 155h0M913 155h0M995 152h0M993 186h0M1045 173h0M1044 175h0" stroke="#d42a3a" stroke-width="2.8" stroke-linecap="round"/>
<path transform="scale(.5)" d="M1074 162h0M925 193h0M946 217h0M1011 156h0M941 165h0M942 167h0M943 170h0M1087 187h0M1030 149h0M897 181h0M1015 189h0M1032 175h0M1034 175h0M1008 159h0M1010 158h0M1050 202h0M878 207h0M907 155h0M1042 195h0M1054 183h0M1056 197h0M1021 157h0M1024 157h0M1053 180h0M1055 179h0M996 187h0M1030 168h0M881 214h0M1070 212h0M1069 214h0M1069 183h0M925 213h0M1024 148h0M1023 146h0M1022 144h0M1069 149h0M1071 148h0M1073 147h0M1076 208h0M1075 210h0M1033 185h0M1034 184h0M973 204h0M973 207h0M974 209h0M877 183h0M877 181h0M933 178h0M945 159h0M945 156h0M1027 209h0M939 153h0M881 216h0M883 217h0M996 145h0M1100 168h0M1102 167h0M973 206h0M1088 194h0M983 207h0M905 149h0M1033 178h0M1039 189h0M1038 190h0M1036 192h0M1018 152h0M911 149h0M1030 213h0M1029 210h0M1029 208h0M915 202h0M913 202h0M1036 157h0M964 152h0M1069 193h0M1067 192h0M1066 191h0M940 191h0M1067 203h0M923 204h0M887 143h0M964 160h0M945 176h0M947 177h0M903 186h0M1025 186h0M1008 177h0M1001 214h0M1034 215h0M1038 175h0M904 159h0M906 158h0M908 157h0M899 156h0M1075 181h0M1083 199h0M1014 151h0M1036 161h0M1065 177h0M1067 177h0M975 168h0M973 166h0M939 167h0M877 214h0M877 216h0M1064 207h0M1065 205h0M977 182h0M975 181h0M1094 200h0M995 208h0M980 167h0M999 204h0M978 164h0M979 166h0M979 168h0M1049 197h0M995 182h0M945 165h0M942 164h0M1056 183h0M1054 184h0M1052 185h0M930 200h0M983 211h0M953 166h0M1090 207h0M1091 209h0M1026 209h0M1029 209h0M1086 183h0M989 212h0M948 190h0M1042 167h0M974 196h0M976 195h0M941 190h0M942 155h0M940 153h0M1023 211h0M877 218h0M921 159h0M919 158h0M917 157h0M921 209h0M998 151h0M893 182h0M892 181h0" stroke="#3a4a4a" stroke-width="2.8" stroke-linecap="round"/>
<path transform="scale(.5)" d="M1061 166h0M1064 146h0M1058 183h0M1037 170h0M1044 210h0M1061 216h0M1007 220h0M938 149h0M1019 159h0M994 198h0M1089 211h0M935 144h0M1100 157h0M1054 148h0M1025 205h0M1052 207h0M933 192h0M1078 202h0M986 182h0M966 219h0M982 202h0M937 168h0M994 191h0M898 205h0M928 158h0M1011 146h0M1022 190h0M1097 176h0M940 190h0M946 152h0M1000 204h0M1082 203h0M995 191h0M999 197h0M949 191h0M982 176h0M984 189h0M879 210h0M982 146h0M955 190h0M1052 192h0M986 218h0M941 154h0M898 182h0M1039 178h0M887 216h0M1035 183h0M1021 149h0M1062 150h0M1040 198h0M911 155h0M960 187h0M1023 144h0M884 198h0M1026 191h0" stroke="#2f2fc8" stroke-width="2.8" stroke-linecap="round"/>
<path transform="scale(.5)" d="M889 152h0M1095 179h0M1038 182h0M1074 171h0M1089 198h0M1065 154h0M1047 197h0M1001 186h0M1002 170h0M1072 194h0M1031 203h0M914 176h0M890 143h0M1070 174h0M1059 208h0M1002 215h0M1045 144h0M1095 169h0M1101 189h0M1015 162h0M961 220h0M1022 193h0M1057 193h0M964 153h0M1042 194h0" stroke="#c8c8c8" stroke-width="2.8" stroke-linecap="round"/>
<path transform="scale(.5)" d="M1026 275h0M1087 321h0M976 327h0M977 329h0M1047 282h0M920 279h0M1027 292h0M1071 270h0M1075 273h0M1060 323h0M1062 323h0M1030 310h0M1031 327h0M1042 268h0M1043 270h0M955 320h0M952 321h0M910 288h0M1003 289h0M1005 289h0M1074 324h0M1072 268h0M884 274h0M882 275h0M1070 321h0M1066 319h0M993 306h0M895 299h0M895 302h0M890 306h0M951 274h0M951 279h0M938 285h0M937 286h0M933 281h0M931 279h0M1061 335h0M1093 302h0M1094 307h0M1003 296h0M1010 278h0M1010 275h0M999 304h0M1003 302h0M934 307h0M982 276h0M984 278h0M897 294h0M1028 296h0M909 316h0M1008 287h0M1006 291h0M941 268h0M943 267h0M946 280h0M950 283h0M928 278h0M929 276h0M1037 287h0M1042 289h0M1065 289h0M1065 285h0M981 303h0M981 305h0M957 312h0M959 311h0M952 322h0M1083 323h0M1081 328h0M946 285h0M1046 309h0M1019 331h0M1017 332h0M994 296h0M989 297h0M899 295h0M900 299h0M1058 324h0M1025 273h0M1027 273h0M1070 290h0M1051 313h0M949 270h0M943 304h0M1024 269h0M1026 270h0M907 306h0M908 309h0M1088 277h0M953 308h0M996 276h0M1024 333h0M963 281h0M1034 285h0M1035 286h0M916 329h0M978 297h0M979 299h0M924 291h0M969 300h0M971 304h0M985 312h0M1058 299h0M1028 273h0M1028 270h0M993 326h0M1064 327h0M1022 304h0M1016 334h0M1014 325h0M917 284h0M1103 287h0M1100 290h0M904 334h0M916 294h0M1102 285h0M1101 287h0M1038 281h0M1000 276h0M999 274h0M1076 286h0M910 273h0M1058 286h0M1056 286h0M1083 301h0M972 335h0M971 333h0M1075 296h0M932 334h0M1050 328h0M1027 333h0M964 283h0M1085 286h0M900 272h0M901 267h0M1050 276h0M1025 303h0M1020 299h0M1020 294h0M1077 298h0M1102 273h0M1104 277h0M903 289h0M1058 302h0M1080 332h0M997 307h0M996 311h0M1098 269h0M1025 294h0M1024 297h0M892 282h0M888 282h0M1032 316h0M1030 312h0M882 316h0M880 316h0M880 333h0M1029 321h0M922 332h0M921 330h0M942 312h0M923 313h0M925 311h0M973 335h0M1065 296h0M893 322h0M912 330h0M914 331h0M1071 280h0M1081 272h0M1083 274h0M1021 292h0M1025 291h0M1076 328h0M1078 328h0M987 316h0M985 315h0M944 289h0M939 319h0M929 268h0M950 329h0M1059 314h0M1089 297h0M1086 300h0M1072 271h0M1075 271h0M1004 316h0M1007 313h0M1036 303h0M1034 302h0M925 271h0M1028 319h0M954 312h0M955 308h0M1047 327h0M1068 276h0M1067 273h0M1034 330h0M1018 305h0M1019 309h0M903 273h0M905 274h0M1098 300h0M971 333h0M968 332h0M954 277h0M1081 283h0M1081 288h0M992 290h0M1033 292h0M1087 270h0M1086 274h0M1031 320h0M1076 317h0M1104 272h0M1023 290h0M942 330h0M943 325h0M1071 312h0M1069 313h0M1006 303h0M1002 306h0M1085 304h0M1087 303h0M1094 305h0M1093 300h0M1055 301h0M1055 303h0M895 316h0M880 285h0M1099 280h0M1101 280h0M1016 314h0M936 327h0M959 327h0M961 331h0M1066 283h0M1065 285h0M899 287h0M903 290h0M969 319h0M967 323h0M921 306h0M919 307h0M949 308h0M888 324h0M887 328h0M877 317h0M1005 289h0M1006 291h0M909 273h0M1064 317h0M1100 270h0M1098 265h0M965 301h0M962 302h0M886 316h0M1040 321h0M1038 322h0M935 290h0M931 326h0M931 324h0M1098 273h0M1001 317h0M1025 294h0M1028 298h0M939 285h0M938 289h0M975 267h0M975 269h0M1099 273h0M1104 273h0M992 318h0M978 300h0M978 298h0M1088 308h0M1087 312h0M1037 295h0" stroke="#d42a3a" stroke-width="2.8" stroke-linecap="round"/>
<path transform="scale(.5)" d="M1029 275h0M1097 309h0M1095 310h0M1093 311h0M959 270h0M958 268h0M1046 284h0M1073 271h0M1032 310h0M999 319h0M996 320h0M972 331h0M969 330h0M967 330h0M992 323h0M994 321h0M1068 320h0M951 277h0M1094 304h0M1099 299h0M1098 301h0M1097 303h0M1001 303h0M970 294h0M972 295h0M1007 289h0M948 282h0M1039 288h0M995 299h0M997 298h0M999 298h0M1082 325h0M948 286h0M1002 323h0M999 323h0M997 323h0M991 297h0M900 297h0M970 302h0M1077 281h0M1077 283h0M1077 286h0M986 310h0M1068 270h0M1069 268h0M1070 266h0M887 313h0M888 314h0M889 316h0M996 326h0M1011 280h0M1009 281h0M1011 325h0M916 282h0M1101 289h0M1043 311h0M1041 312h0M1040 314h0M903 332h0M1063 279h0M1065 281h0M1074 287h0M1025 334h0M900 270h0M1020 296h0M1103 275h0M1060 303h0M997 309h0M1083 289h0M1082 291h0M890 282h0M1031 314h0M1103 291h0M1104 293h0M882 331h0M1027 322h0M950 328h0M947 328h0M972 333h0M1095 297h0M1093 297h0M1087 330h0M1088 332h0M1089 334h0M1107 273h0M1105 273h0M1102 273h0M1023 292h0M1038 311h0M1040 313h0M942 320h0M984 311h0M982 311h0M980 312h0M1087 298h0M1006 314h0M954 310h0M890 314h0M892 316h0M894 317h0M1018 307h0M927 295h0M928 297h0M888 277h0M887 279h0M1012 311h0M1010 311h0M1008 311h0M983 285h0M985 286h0M935 294h0M937 294h0M939 293h0M1081 286h0M1086 272h0M1029 319h0M1078 319h0M942 327h0M919 278h0M917 278h0M1004 304h0M1094 302h0M1015 316h0M960 329h0M1056 272h0M1058 271h0M1060 270h0M901 289h0M968 321h0M888 326h0M1099 268h0M887 314h0M981 292h0M982 294h0M1026 296h0M938 287h0M939 318h0M942 318h0M1102 273h0M965 283h0M963 283h0M961 283h0M1088 310h0M1075 319h0M1073 320h0M1072 322h0" stroke="#3a4a4a" stroke-width="2.8" stroke-linecap="round"/>
<path transform="scale(.5)" d="M952 302h0M1065 285h0M895 272h0M884 329h0M1105 325h0M928 328h0M1004 278h0M1098 331h0M1053 313h0M975 276h0M982 324h0M920 313h0M935 311h0M1024 290h0M921 309h0M1043 323h0M990 310h0M1015 282h0M989 318h0M889 267h0M1081 305h0M946 315h0M1012 329h0M1058 318h0M923 335h0M878 324h0M1045 312h0M928 291h0M894 311h0M914 311h0M1005 302h0M1025 280h0M896 327h0M1073 307h0M1086 295h0M955 269h0M1073 292h0M895 268h0M958 310h0M983 307h0M999 328h0M1023 289h0M1076 271h0M963 300h0M891 324h0M973 275h0M992 295h0M932 284h0M982 296h0M945 335h0M1021 308h0" stroke="#2f2fc8" stroke-width="2.8" stroke-linecap="round"/>
<path transform="scale(.5)" d="M1005 310h0M1085 309h0M1020 273h0M1077 269h0M1029 287h0M981 330h0M913 283h0M938 296h0M1003 293h0M1007 280h0M1075 303h0M1046 331h0M976 306h0M927 274h0" stroke="#c8c8c8" stroke-width="2.8" stroke-linecap="round"/>
<path transform="scale(.5)" d="M994 403h0M913 441h0M1068 451h0M1009 441h0M993 421h0M992 416h0M920 441h0M984 392h0M981 392h0M1024 441h0M913 395h0M1050 415h0M1036 414h0M1090 446h0M1048 407h0M1050 406h0M1051 415h0M1047 417h0M1097 453h0M1095 452h0M889 405h0M1097 391h0M1040 399h0M1043 396h0M1016 419h0M890 454h0M891 455h0M889 431h0M894 431h0M909 410h0M939 416h0M881 414h0M1055 394h0M983 406h0M986 402h0M926 453h0M994 392h0M898 454h0M915 409h0M1048 425h0M899 435h0M901 433h0M966 402h0M1056 442h0M998 443h0M961 435h0M912 422h0M909 422h0M953 388h0M955 387h0M999 419h0M898 389h0M899 387h0M1061 459h0M1063 461h0M975 459h0M974 457h0M905 395h0M978 402h0M979 399h0M1026 404h0M1024 408h0M955 425h0M1052 427h0M951 440h0M1027 447h0M904 386h0M1091 393h0M1088 390h0M1002 436h0M1004 438h0M1076 420h0M1053 459h0M1055 455h0M1012 414h0M1085 417h0M1103 405h0M959 391h0M935 407h0M933 406h0M1072 437h0M1065 408h0M1064 411h0M1102 403h0M1100 403h0M992 408h0M1066 415h0M1065 419h0M962 403h0M951 456h0M952 461h0M895 398h0M919 410h0M917 410h0M1100 418h0M952 390h0M950 391h0M940 393h0M877 387h0M875 386h0M1073 414h0M979 394h0M882 411h0M881 409h0M998 387h0M880 436h0M908 395h0M1040 438h0M901 427h0M901 429h0M1104 397h0M1096 440h0M1022 444h0M1020 443h0M1027 392h0M1021 455h0M1019 455h0M1027 435h0M1094 431h0M1054 443h0M1050 440h0M912 448h0M971 410h0M1055 409h0M897 430h0M885 398h0M945 398h0M941 401h0M1084 440h0M1089 439h0M1064 431h0M1018 457h0M1019 455h0M1103 410h0M1063 393h0M889 430h0M941 394h0M940 396h0M1021 430h0M1020 432h0M1079 405h0M906 424h0M886 447h0M882 449h0M968 386h0M1011 385h0M904 392h0M901 392h0M1070 450h0M968 447h0M969 451h0M916 433h0M916 435h0M996 444h0M1021 457h0M1086 420h0M1012 411h0M891 419h0M945 407h0M1079 448h0M1078 446h0M881 434h0M883 433h0M1042 435h0M1041 430h0M965 400h0M963 402h0M973 424h0M974 422h0M1066 445h0M1068 445h0M983 388h0M1043 412h0M1028 422h0M1041 394h0M1044 390h0M1066 403h0M1071 455h0M1067 454h0M1089 455h0M986 411h0M987 409h0M1018 436h0M1014 438h0M905 401h0M1060 388h0M1061 387h0M1058 447h0M979 456h0M1088 437h0M1088 432h0M938 408h0M1069 446h0M1067 448h0M963 414h0M965 415h0M1004 428h0M1031 408h0M1030 405h0M1021 386h0M1036 448h0M1040 447h0M1063 413h0M892 425h0M1068 400h0M1027 437h0M1026 441h0M1096 425h0M966 398h0M967 400h0M1093 399h0M1060 425h0M963 421h0M955 422h0M1084 457h0M1096 399h0M1004 460h0M1008 458h0M1061 430h0M1059 429h0M1093 422h0M1093 419h0M956 431h0M986 417h0M990 419h0M964 403h0M966 405h0M998 401h0M932 410h0M1016 399h0M1016 396h0M1085 427h0M912 437h0M916 439h0M1085 427h0M998 410h0M1049 417h0M1047 421h0M900 395h0M960 412h0M958 417h0M935 435h0M1068 458h0M1066 454h0M936 395h0M932 395h0M1084 391h0M1033 457h0M993 419h0M995 423h0M962 423h0M897 385h0M900 388h0M925 412h0M921 415h0M1003 411h0M936 404h0M917 426h0M915 429h0M1073 458h0M1004 441h0M922 414h0M959 440h0M993 430h0M993 426h0M992 459h0M989 458h0M994 397h0M878 425h0M1024 423h0M1073 382h0M1021 441h0M968 448h0M1101 449h0M960 413h0M957 415h0M927 422h0M930 392h0M932 392h0M994 438h0M993 436h0M992 442h0M990 441h0M991 421h0M990 419h0M1080 438h0M1004 412h0M878 407h0M962 429h0M961 427h0M983 404h0M1048 426h0M1040 424h0M1042 425h0M1100 401h0M1098 402h0M1055 412h0M1025 406h0M906 384h0M1008 450h0M1019 430h0M1021 429h0M963 422h0M1028 441h0M923 428h0M961 399h0M963 403h0M888 423h0M888 426h0M911 456h0M1072 399h0M1074 397h0M1020 419h0M1018 417h0M898 458h0M894 461h0M969 434h0M971 435h0M957 450h0" stroke="#d42a3a" stroke-width="2.8" stroke-linecap="round"/>
<path transform="scale(.5)" d="M940 431h0M941 429h0M941 426h0M992 419h0M922 443h0M989 445h0M992 444h0M994 443h0M1049 416h0M887 404h0M1013 423h0M1013 425h0M1095 393h0M1041 398h0M892 431h0M1053 445h0M1051 446h0M1054 396h0M984 404h0M897 451h0M913 407h0M1025 406h0M941 401h0M943 401h0M945 401h0M1090 391h0M1077 422h0M1054 457h0M1006 431h0M1008 431h0M1066 417h0M952 458h0M1101 416h0M892 412h0M890 412h0M887 412h0M997 389h0M1024 443h0M1025 441h0M1026 439h0M1100 382h0M1098 384h0M1043 438h0M1061 385h0M1059 385h0M1050 442h0M1051 440h0M1051 438h0M1052 441h0M918 452h0M916 454h0M972 407h0M1056 412h0M943 399h0M1086 440h0M1064 433h0M1076 402h0M1074 402h0M1072 402h0M1081 406h0M904 426h0M884 448h0M1011 383h0M968 449h0M993 444h0M934 439h0M936 438h0M1041 432h0M1072 401h0M1073 399h0M1042 392h0M1069 455h0M1016 437h0M1061 447h0M1009 408h0M1008 405h0M1088 434h0M1024 440h0M1023 439h0M907 395h0M905 393h0M961 453h0M961 455h0M1070 416h0M1072 417h0M1075 417h0M1038 447h0M890 427h0M1026 439h0M957 422h0M1006 459h0M1074 422h0M1072 421h0M953 431h0M988 418h0M999 403h0M933 408h0M1085 430h0M914 438h0M1024 452h0M1021 453h0M1019 453h0M1048 419h0M959 415h0M905 430h0M903 429h0M902 428h0M1067 456h0M934 395h0M1033 455h0M994 421h0M898 386h0M923 414h0M916 427h0M1071 456h0M993 428h0M896 397h0M895 395h0M958 414h0M1019 408h0M1017 408h0M1091 437h0M1089 435h0M1078 437h0M879 409h0M1043 410h0M1042 408h0M1041 406h0M1029 443h0M962 401h0M911 458h0M1053 461h0M1051 460h0M1049 459h0M896 459h0M954 449h0" stroke="#3a4a4a" stroke-width="2.8" stroke-linecap="round"/>
<path transform="scale(.5)" d="M879 440h0M998 384h0M1001 407h0M917 460h0M956 407h0M1029 448h0M883 402h0M1104 448h0M1094 442h0M1067 433h0M1024 420h0M982 382h0M1079 418h0M934 407h0M1027 426h0M983 387h0M1091 427h0M1084 444h0M1027 437h0M901 415h0M1061 457h0M902 438h0M1033 442h0M1099 437h0M923 457h0M1001 444h0M1081 397h0M927 390h0M1053 441h0M911 391h0M1055 394h0M1026 446h0M993 387h0M1102 404h0M1007 429h0M1016 423h0M1053 387h0M911 412h0M1022 387h0M966 396h0M965 384h0M943 424h0M1098 414h0M919 402h0M1041 444h0M964 410h0M1080 406h0M944 455h0M941 405h0M917 428h0M1039 438h0M1027 382h0M1049 404h0M985 454h0M883 445h0M1091 392h0M1039 401h0" stroke="#2f2fc8" stroke-width="2.8" stroke-linecap="round"/>
<path transform="scale(.5)" d="M1024 444h0M978 410h0M1078 427h0M940 447h0M1009 443h0M921 407h0M1034 412h0M1099 388h0M1058 452h0M1059 415h0M1058 412h0M960 454h0M933 459h0M1053 401h0M991 429h0M1065 391h0M1086 403h0M960 386h0M1001 390h0" stroke="#c8c8c8" stroke-width="2.8" stroke-linecap="round"/>
<path d="M434.5 50.7 L445.5 52.1 L456.6 51.9 L467.6 51.3 L478.7 51.5 L489.7 50.8 L500.8 49.4 L511.8 49.7 L522.9 51.0 L533.9 51.2 L545.0 51.3 L556.0 52.2 L556.0 71.2 L545.0 70.5 L533.9 70.6 L522.9 69.8 L511.8 68.7 L500.8 69.4 L489.7 70.8 L478.7 70.9 L467.6 70.9 L456.6 71.5 L445.5 71.0 L434.5 69.3Z" fill="url(#dense)"/>
<path d="M434.5 50.7 L445.5 52.1 L456.6 51.9 L467.6 51.3 L478.7 51.5 L489.7 50.8 L500.8 49.4 L511.8 49.7 L522.9 51.0 L533.9 51.2 L545.0 51.3 L556.0 52.2 L556.0 71.2 L545.0 70.5 L533.9 70.6 L522.9 69.8 L511.8 68.7 L500.8 69.4 L489.7 70.8 L478.7 70.9 L467.6 70.9 L456.6 71.5 L445.5 71.0 L434.5 69.3Z" fill="url(#bandgrad)"/>
<path transform="scale(.5)" d="M1069 100l1 1M885 139l2 0M1092 101l0-1M872 100l0 1M1057 100l-1-2M1082 100l0 3M1070 102l0-4M894 143l0-1M1069 101l2-3M941 103l-3-3M1017 99l1 2M972 102l-3-1M891 101l1 1M902 141l-1-1M879 100l-1 2M1047 99l-3 0M933 102l0 2M907 103l0-1M1096 102l-2-2M1083 102l1 0M988 100l1 0M1044 141l-2-1M961 99l-3 1M1087 99l-1 1M1072 101l3 2M1012 98l3 1M923 142l3 1M974 142l-1-1M945 100l-4 1M1042 138l0-4M917 142l3-1M936 102l-1-1M920 100l1 2M915 102l0-1M1069 102l2-1M971 99l1 1M998 97l1 3M979 98l0-1M923 102l0 1M897 102l1-2M1102 140l2 3M994 137l2 0M1014 98l2-2M919 141l-3-2M1013 97l0-2M872 140l3 3M1012 98l1-1M1029 100l0-3M1098 141l-2-1M1005 139l0 1M906 104l-2-1M891 142l-4-1M1000 99l3-1M1047 97l-2 3M1089 100l1-2M992 138l1 3M1060 141l-1-4M889 102l1 2M1035 136l0 2M1105 104l-3 0M920 102l2 1M1007 99l-2 3M1014 96l-2 3M1057 139l-2-3M887 102l-2-3M992 96l-2 2M1041 138l2 2M1020 96l-2 0M989 95l2-1M930 102l-3 0M930 141l2-3" stroke="#d42a2a" stroke-width="2" stroke-linecap="round" fill="none"/>
<path transform="scale(.5)" d="M998 136l-1 2M1085 140l-1 2M1028 137l2 2M1042 139l-1 0M988 96l2 3M1064 140l1-1M951 140l3 3M959 142l0-4M900 144l-3-2M993 138l1 0M1091 141l1 2M871 137l0-3M950 102l-1 2M1049 101l2 1M964 142l0-1M896 101l-3-1M981 140l2-1M986 140l1 2M1064 142l3-1M1025 137l-4 1M918 140l-2-3M932 140l2-2M936 102l-2 3M888 142l-3 0M887 139l-1 2M908 141l-2 1M970 139l-2 0M1014 140l3 1M959 139l-2-1M926 143l-1-1M1013 140l-3-2M1020 98l-1-2M994 143l-2 0M992 139l2 0M934 147l-1-3M1047 101l1-3M1017 138l2-2M880 139l3-1M994 139l-2-2M1052 139l1-1M909 101l0-1M1085 140l2-1M1051 102l-2 0M908 143l0 1M1034 138l-2-1M898 140l-1 0M974 144l2 0M948 102l-4 0M918 145l1-2M967 100l-4 0M1103 143l3 1M1064 101l-3 1M941 142l3 2M1002 94l-1-1M1028 135l2 2M1073 142l-4 1M1060 143l1 1M884 140l-2 1M1060 143l1-1M1089 102l-4 0M933 143l0 4M1055 138l-2-1M1029 99l0-2M1027 135l0 3M1062 140l-1-2M1013 140l0-1M1025 138l3-1M942 142l-1 2M874 139l1-1M1100 139l-3 1M998 97l0 3M1057 138l-3 0M954 142l-1 3M1091 143l1 0M888 139l2 1M927 142l3 0M1050 139l-2-2M975 140l-2-2M1021 98l0-2M1032 100l-1 3M917 141l1 3M1053 141l0 2M969 102l-1 3M1062 102l1-1M1044 140l1 1M956 103l0 3M1029 138l-1-1M924 143l3-3M1079 138l-3-2M1019 137l0 1M1050 100l-4 0M926 140l-2 1M1041 101l2 2M969 141l-1-2M996 137l-1-1M1075 141l1 1M988 139l-2 0M1062 100l1-4M963 141l0-3M934 140l2 0M1048 139l1 2M937 140l0-3M1096 143l3 1M1001 137l-1 1M1032 136l1 4M918 141l-1-3M1058 100l-2 2M981 140l1-4M1103 97l-1 0M977 139l-1 0M941 141l2 2M1064 102l1-1M972 142l-1-2M1016 137l1 2M935 101l2-2" stroke="#505050" stroke-width="2" stroke-linecap="round" fill="none"/>
<path d="M434.5 111.4 L445.5 111.2 L456.6 111.0 L467.6 109.9 L478.7 109.5 L489.7 110.8 L500.8 111.7 L511.8 111.5 L522.9 111.9 L533.9 112.2 L545.0 110.9 L556.0 109.6 L556.0 131.2 L545.0 132.4 L533.9 133.7 L522.9 133.5 L511.8 133.1 L500.8 133.3 L489.7 132.5 L478.7 131.1 L467.6 131.4 L456.6 132.6 L445.5 132.8 L434.5 133.0Z" fill="url(#dense)"/>
<path d="M434.5 111.4 L445.5 111.2 L456.6 111.0 L467.6 109.9 L478.7 109.5 L489.7 110.8 L500.8 111.7 L511.8 111.5 L522.9 111.9 L533.9 112.2 L545.0 110.9 L556.0 109.6 L556.0 131.2 L545.0 132.4 L533.9 133.7 L522.9 133.5 L511.8 133.1 L500.8 133.3 L489.7 132.5 L478.7 131.1 L467.6 131.4 L456.6 132.6 L445.5 132.8 L434.5 133.0Z" fill="url(#bandgrad)"/>
<path transform="scale(.5)" d="M931 217l1-3M955 219l1-3M997 264l4-1M959 265l-4 0M983 214l-2-1M874 222l0-3M1024 223l1-3M968 217l-2-3M1007 223l1 2M1036 266l-2 2M1094 218l-1-1M1019 220l-1-3M923 220l3 0M1044 223l0 1M1003 265l1-1M1072 265l-2 3M876 222l0 2M930 261l-2 0M1059 266l-1-3M1026 222l0-2M1036 217l-2-2M1090 262l0 1M1059 264l4-1M1060 219l-1 4M1089 264l0 1M912 264l2-2M951 218l2 3M887 219l0-1M935 217l3 3M1034 220l-1 2M979 221l-3 1M1038 266l0 3M914 218l3-1M912 217l-1 3M1007 264l-1 2M963 211l-2-1M877 220l1-3M1084 221l1-1M913 221l-2 1M1009 217l1 3M931 218l1 0M921 221l0 1M1096 263l1 1M1059 223l1-4M1088 263l-3-1M981 263l-2 2M1016 265l-4 0M928 218l-2-1M918 218l0 2M1034 223l-2 3M1066 220l0-4M1036 222l-2-3M955 267l-2-3M1007 220l-1-2M923 265l2 0M1031 266l-1 3M975 221l4-1M1057 222l-1-1M1047 221l-2-2M1012 221l-2-1M939 261l-1 3M996 266l2 2M1046 217l-1 3M991 222l1-4M1029 265l2-2M1089 222l1-1M1103 217l-3 0M891 219l-3 1M985 270l2 3M978 265l-4 0M886 218l0 1" stroke="#d42a2a" stroke-width="2" stroke-linecap="round" fill="none"/>
<path transform="scale(.5)" d="M894 265l1 1M925 265l3 0M892 267l-1 2M1002 267l-2-2M999 222l1-1M1069 265l1-2M896 265l0 3M969 261l-4-2M883 266l0 2M896 220l2-1M953 268l0-3M996 264l-1-4M1073 223l-3 0M1099 262l1 1M1020 266l3 0M922 267l-2-1M986 263l-1-2M989 221l-1 2M1059 223l1-4M882 218l0-4M988 267l-1 1M925 220l0 2M963 217l-2-3M1004 223l2-2M939 219l2-3M1042 264l-1-1M957 261l4 1M987 265l2-1M885 221l0 1M949 260l4-1M1066 265l0-4M874 220l-2-3M908 265l-1 1M1022 266l0 1M972 264l0-2M1002 265l2 0M882 264l-1 3M963 261l-3 2M1024 263l0-2M903 263l2 1M1092 262l-2 3M942 262l0-1M1089 262l-1-1M871 221l0-2M1086 265l3 1M1015 266l-3-3M951 261l2-1M955 263l-1 1M911 263l-2-1M890 263l-2 2M998 264l0 2M1031 265l0 2M910 270l-3 2M1039 223l-1-3M1089 222l0 2M977 265l-2-1M945 264l-1-1M1008 219l2-1M922 262l-2 2M994 265l-2 3M928 264l0 2M953 262l1 1M876 263l-2 2M901 265l2 1M946 219l-1 0M1086 264l2 0M936 264l0-2M1013 263l-3 0M956 217l-3 2M1101 218l1 0M1063 223l-2 2M1108 263l-1-1M917 265l3 2M1072 268l-2 0M888 263l-2 1M932 261l-1-2M963 264l-3 0M1013 267l-2-1M923 263l-1 2M1003 268l1-3M934 260l3 0M905 268l-4 1M1074 267l-1-2M1027 266l3 3M925 263l-1-3M976 217l2-3M975 262l1 0M1018 265l2-3M934 262l-2 3M1079 220l-1 1M890 271l1-1M962 261l1 0M1054 266l-1 0M937 265l-3-1M1035 264l0 1M973 264l3-1M911 222l-3-2M1047 266l-3 0M900 264l1-1M974 263l-1-1M914 263l-1-2M1021 264l-3-2M977 265l1 0M1011 220l1-4M1028 269l0-1M1062 222l-2 1M919 262l-1-1M1026 267l1 1M1045 269l-1-3M1021 266l1-3M929 264l3-2M1012 222l3-3M1099 220l-1 2M1045 267l1-1M885 263l1-2" stroke="#505050" stroke-width="2" stroke-linecap="round" fill="none"/>
<path d="M434.5 170.0 L445.5 169.6 L456.6 168.9 L467.6 169.0 L478.7 168.3 L489.7 167.0 L500.8 167.5 L511.8 168.9 L522.9 169.1 L533.9 169.1 L545.0 169.9 L556.0 169.5 L556.0 190.0 L545.0 190.1 L533.9 189.2 L522.9 188.4 L511.8 189.4 L500.8 190.7 L489.7 190.7 L478.7 190.6 L467.6 191.1 L456.6 190.3 L445.5 188.7 L434.5 188.8Z" fill="url(#dense)"/>
<path d="M434.5 170.0 L445.5 169.6 L456.6 168.9 L467.6 169.0 L478.7 168.3 L489.7 167.0 L500.8 167.5 L511.8 168.9 L522.9 169.1 L533.9 169.1 L545.0 169.9 L556.0 169.5 L556.0 190.0 L545.0 190.1 L533.9 189.2 L522.9 188.4 L511.8 189.4 L500.8 190.7 L489.7 190.7 L478.7 190.6 L467.6 191.1 L456.6 190.3 L445.5 188.7 L434.5 188.8Z" fill="url(#bandgrad)"/>
<path transform="scale(.5)" d="M941 380l2 0M919 336l2-3M899 338l-3-1M1107 378l2-2M1074 379l1-1M1038 336l-3-1M1015 336l1 2M1054 336l-1-1M969 379l-3-1M961 380l1 4M1055 375l-3 1M936 379l-2 0M1048 337l-1 1M872 339l-2 0M982 378l1-3M1082 381l2 1M1030 375l-4-1M961 335l-2 0M963 335l-1 1M901 338l2 2M1057 380l-4 1M1089 381l-2 2M890 375l-2 0M1057 334l3-2M933 337l-1 2M911 335l-1 3M941 380l0-1M893 333l0-1M1089 338l0 1M996 332l-3 3M970 331l2 2M1052 336l-2-1M1059 337l-2 1M941 335l1 2M1092 378l3 0M932 337l2-2M884 337l3 0M941 334l-2-1M1051 333l4 2M1098 377l1-2M1078 336l-2 2M1066 380l1 2M1032 382l-1-1M1062 335l1-3M944 335l0 2M1024 376l-1 2M1040 374l-2 2M970 332l-1 2M996 333l-3 0M895 375l0 4M948 379l1 2M977 379l-3 1M897 376l1 0M996 385l2 2M968 382l-1 0M957 334l3 1M914 336l-3-3M1020 336l-2-1M1033 335l0 2M1089 335l0-3M1022 337l0 1M1022 335l3 2M1017 379l-1 3M956 380l1-1M951 334l-1-2M1082 339l2-3M951 335l0-1M1102 378l-1 2M968 335l3-2M1104 335l2 0M933 379l3 1M993 331l2 1M984 330l2-3M960 380l3 2M1059 338l1 3M1030 334l-1 1M1004 334l-1-2M897 337l1 1M1067 378l1-4" stroke="#d42a2a" stroke-width="2" stroke-linecap="round" fill="none"/>
<path transform="scale(.5)" d="M988 381l2 2M999 386l0 1M971 386l-3 1M1076 378l-2 3M910 380l2-2M1041 377l-1-1M1041 375l1 0M919 382l2-1M1030 336l-1-1M1034 376l-2-2M919 379l1-2M897 336l1 0M915 378l1-1M989 379l-1-1M1083 378l-2 1M923 382l-2 3M878 339l-1-1M983 381l3-1M999 383l1-4M950 380l-1 1M928 382l0 2M886 381l4-1M1002 333l2 0M1109 378l-1 1M1003 379l1 1M1076 377l0 2M969 380l-1 2M1077 377l-1 2M1104 378l0 2M908 379l-2-3M900 377l-1 3M882 338l3 2M1045 374l-1-1M910 381l-2-3M996 383l3-2M1078 337l-2-2M990 381l-2 3M1094 380l2-3M1019 377l0 2M980 334l-3 2M938 379l-2-3M883 377l1-1M1006 379l3 2M1047 379l2-1M941 336l3-1M1008 382l0 1M893 333l1 2M962 382l1-1M968 384l3-2M1029 378l2-2M1077 337l1 2M1093 380l-3 2M1014 378l0 2M1068 380l1-3M1003 380l1-1M926 383l-1-1M1032 376l2 1M935 381l2-2M982 383l-1-1M979 330l0-2M1045 334l-2 3M998 379l0 2M943 382l0 3M969 380l3 1M1100 381l0 2M931 381l-1 1M907 337l-1-1M913 338l4 1M902 377l-1-1M959 381l1-1M927 382l0 1M893 337l2 3M902 334l2 0M905 335l-3 2M926 381l-1-2M1088 380l-4 0M949 384l1 2M881 338l0 1M1077 377l1-2M1025 379l-1 2M1023 378l-1 0M902 335l0 2M1053 377l-3 0M993 380l-2-2M963 380l-2-1M1042 377l1 1M1061 337l-3-1M1006 335l2 3M914 379l0-3M922 381l-2 0M1059 375l2 2M1066 377l-1 1M1066 376l2-1M937 381l2 0M1087 378l-3-2M947 383l-3 0M1020 378l3-1M946 382l-3 0M978 381l2-1M923 382l1 2M1041 377l1-2M929 382l-3 3M981 332l-1 3M979 379l3 0M895 338l-2 2M974 381l1-1M894 386l0 2" stroke="#505050" stroke-width="2" stroke-linecap="round" fill="none"/>
<path d="M434.5 230.0 L445.5 231.6 L456.6 232.2 L467.6 231.6 L478.7 231.6 L489.7 231.5 L500.8 230.1 L511.8 229.4 L522.9 230.5 L533.9 231.3 L545.0 231.2 L556.0 231.9 L556.0 251.7 L545.0 251.6 L533.9 251.2 L522.9 250.0 L511.8 250.1 L500.8 251.6 L489.7 252.2 L478.7 251.9 L467.6 252.4 L456.6 252.4 L445.5 250.9 L434.5 250.0Z" fill="url(#dense)"/>
<path d="M434.5 230.0 L445.5 231.6 L456.6 232.2 L467.6 231.6 L478.7 231.6 L489.7 231.5 L500.8 230.1 L511.8 229.4 L522.9 230.5 L533.9 231.3 L545.0 231.2 L556.0 231.9 L556.0 251.7 L545.0 251.6 L533.9 251.2 L522.9 250.0 L511.8 250.1 L500.8 251.6 L489.7 252.2 L478.7 251.9 L467.6 252.4 L456.6 252.4 L445.5 250.9 L434.5 250.0Z" fill="url(#bandgrad)"/>
<path transform="scale(.5)" d="M965 506l-1 0M1056 458l0-2M872 501l1-2M1104 460l1-2M973 462l3-1M1050 458l2 2M981 460l-2 0M1108 504l-3 1M873 500l1 3M1057 460l-1-4M1011 457l-3 1M1057 458l0 1M1045 457l-4-1M917 505l1 3M960 503l0 3M936 460l0-2M1010 456l3 1M1056 504l1-1M1018 459l-1 3M930 461l3-1M908 463l1-1M966 460l1-2M877 459l-1-1M1089 503l-3 1M990 458l1 1M936 506l3-1M1046 459l2 3M983 460l3 0M1033 497l1-3M1019 501l-1-2M945 461l2 1M982 461l1 2M1013 499l0 2M878 461l0-1M953 504l2 1M893 461l0-2M1046 459l2-2M1104 501l-2-1M1104 502l1 0M958 503l-3 0M923 464l1 2M963 463l1-3M1043 503l0 1M981 503l-2-3M1073 501l-1 3M903 463l4-1M948 506l0-2M885 459l1 3M996 505l-3 1M999 502l3 0M929 462l1 2M967 460l-3 1M1040 501l-1 3M1069 461l1 0M1020 459l3-2M962 462l2-2M1030 458l-2-1M952 462l-4 1M1030 457l-2 0M972 461l-1 0M921 462l-3-1M1002 501l0-3M912 460l0-2M1010 458l2-1M1060 458l0 3M1046 458l0 2M1052 502l0-2M875 460l-2-2M913 502l2 1M1025 457l-3 1M995 460l2-2M1006 500l-3-1M887 500l1-3M884 462l1 1M1028 459l2 3M1018 502l-2 2M909 507l-2-1" stroke="#d42a2a" stroke-width="2" stroke-linecap="round" fill="none"/>
<path transform="scale(.5)" d="M1004 501l1-1M950 505l0-3M1046 500l0 3M1061 460l-3 0M904 464l2-3M1057 503l-1 1M1102 503l-1-3M1026 497l-3-2M994 508l0-1M1085 501l0-1M1066 501l3-3M1061 500l-1-1M877 502l2-3M933 505l-1-2M1053 461l1-1M993 501l2 0M1050 498l1 2M880 501l1-3M949 507l0 2M1071 500l-1 1M1079 504l3 2M938 460l-2 3M1104 501l0 2M872 501l2-4M920 502l-1-3M974 502l0 1M1071 500l-2 3M946 506l-3 0M1004 500l-3 0M934 505l-1-1M1025 459l2 0M1069 502l1 1M973 503l-1 1M1095 505l-2 0M1066 504l-2 0M950 461l3-2M969 502l-1 2M872 503l-1 1M1016 502l-2 3M896 501l-1-1M981 504l0-2M895 500l1 0M1051 456l0-3M982 505l1 0M1071 460l-1 3M989 503l-1-2M1010 501l0-2M997 459l0 3M890 499l2 4M1105 502l-2 1M1073 458l-1 0M1101 503l1 1M977 504l1-1M1063 500l0 2M1095 502l-1 1M917 502l-1 3M876 500l3 3M1052 500l1 2M941 462l-1 0M914 502l-2-3M933 462l-4 0M1044 497l1-1M1076 457l1-2M1092 505l-2 2M947 505l2-1M1096 501l-1-1M892 500l2 0M1006 503l0 2M1023 499l-1-2M1100 502l-2 3M1047 459l2 1M976 502l1-2M1042 460l2 1M1031 501l0 2M946 462l3 2M958 502l0 1M927 461l2 2M957 502l0 2M939 503l-1 1M874 498l1-3M1057 459l-2 1M1042 501l-1 0M1037 501l0-2M995 505l1 0M950 504l-2 1M1034 501l1-2M955 502l-2 0M934 504l3 2M876 500l-1 0M1037 458l0-3M1044 504l1 0M885 458l-3 1M982 503l1 0M994 501l-3 1M985 503l0 3M1050 503l-1 0M957 502l1 3M896 462l-1 2M978 505l-1 0M998 459l-2-2M961 502l-1 2M1106 462l-2 1M999 502l1-1M952 461l1-1M977 503l-1-1M1017 498l3-1M1047 499l-1 0M967 507l-2-3M890 502l1-1" stroke="#505050" stroke-width="2" stroke-linecap="round" fill="none"/>
</g>
<text x="624" y="10.2" font-size="13.8" text-anchor="middle">300 ps</text>
<rect x="565.4" y="16.5" width="116.4" height="268.7" fill="none" stroke="#8a8a8a" stroke-width="1.1"/>
<g filter="url(#soft)">
<rect transform="translate(564.8 18.9)" width="117.6" height="15.3" fill="url(#slab)"/>
<path d="M561.4 22.5h3.4M682.4 22.5h3.4M561.4 27.8h3.4M682.4 27.8h3.4M561.4 32.1h3.4M682.4 32.1h3.4" stroke="#a0a0a0" stroke-width="0.6"/>
<rect transform="translate(564.8 267.6)" width="117.6" height="15.3" fill="url(#slab)"/>
<path d="M561.4 271.2h3.4M682.4 271.2h3.4M561.4 276.5h3.4M682.4 276.5h3.4M561.4 280.8h3.4M682.4 280.8h3.4" stroke="#a0a0a0" stroke-width="0.6"/>
<path transform="scale(.5)" d="M1321 88h0M1323 89h0M1222 89h0M1218 91h0M1280 92h0M1278 91h0M1305 91h0M1303 92h0M1218 78h0M1259 77h0M1263 79h0M1352 84h0M1350 84h0M1294 92h0M1223 78h0M1218 80h0M1255 92h0M1257 93h0M1192 82h0M1193 81h0M1238 81h0M1237 80h0M1242 76h0M1242 74h0M1304 96h0M1306 94h0M1278 74h0M1282 73h0M1199 83h0M1198 80h0M1336 79h0M1336 77h0M1333 95h0M1201 79h0M1201 77h0M1259 83h0M1257 82h0M1285 85h0M1243 79h0M1245 80h0M1248 75h0M1191 82h0M1192 83h0M1251 82h0M1250 84h0M1208 92h0M1206 94h0M1193 93h0M1193 89h0M1204 77h0M1205 75h0M1155 96h0M1154 95h0M1339 91h0M1341 92h0M1262 80h0M1265 84h0M1227 76h0M1144 71h0M1143 75h0M1336 85h0M1332 82h0M1313 85h0M1314 83h0M1318 72h0M1319 76h0M1242 80h0M1353 97h0M1351 93h0M1170 75h0M1168 76h0M1226 77h0M1213 92h0M1223 90h0M1179 80h0M1178 82h0M1317 73h0M1319 74h0M1168 76h0M1171 72h0M1182 93h0M1257 80h0M1258 85h0M1242 93h0M1206 74h0M1204 73h0M1303 92h0M1303 90h0M1232 93h0M1183 74h0M1182 72h0M1354 80h0M1354 83h0M1351 92h0M1350 87h0M1242 75h0M1177 76h0M1173 74h0M1350 87h0M1241 73h0M1239 74h0M1226 82h0M1226 78h0M1316 86h0M1319 89h0" stroke="#d42a3a" stroke-width="2.7" stroke-linecap="round"/>
<path transform="scale(.5)" d="M1220 90h0M1261 78h0M1220 79h0M1280 74h0M1193 91h0M1264 82h0M1143 73h0M1334 84h0M1319 74h0M1352 95h0M1169 74h0M1258 83h0M1350 89h0M1175 75h0M1226 80h0M1317 88h0" stroke="#3a4a4a" stroke-width="2.7" stroke-linecap="round"/>
<path transform="scale(.5)" d="M1327 521h0M1206 515h0M1325 526h0M1326 521h0M1176 526h0M1172 524h0M1267 515h0M1145 523h0M1297 527h0M1301 530h0M1238 522h0M1238 524h0M1244 522h0M1179 530h0M1181 529h0M1165 511h0M1222 518h0M1223 516h0M1205 516h0M1206 514h0M1231 512h0M1229 508h0M1348 516h0M1344 514h0M1140 512h0M1142 511h0M1241 525h0M1236 526h0M1230 517h0M1228 518h0M1164 513h0M1163 517h0M1262 512h0M1265 515h0M1337 525h0M1333 522h0M1169 525h0M1173 528h0M1167 509h0M1166 514h0M1220 528h0M1163 516h0M1352 510h0M1155 509h0M1355 525h0M1356 523h0M1156 512h0M1153 511h0M1204 522h0M1144 518h0M1290 524h0M1292 523h0M1281 523h0M1281 525h0M1279 509h0M1280 510h0M1267 521h0M1269 519h0M1159 524h0M1157 528h0M1210 518h0M1208 519h0M1263 527h0M1263 529h0M1289 526h0M1162 515h0M1160 514h0M1189 522h0M1191 521h0M1173 519h0M1171 520h0M1178 518h0M1180 519h0M1211 523h0M1207 525h0M1246 524h0M1249 524h0" stroke="#d42a3a" stroke-width="2.7" stroke-linecap="round"/>
<path transform="scale(.5)" d="M1325 524h0M1174 525h0M1299 528h0M1230 510h0M1346 515h0M1239 525h0M1163 515h0M1264 514h0M1335 523h0M1171 526h0M1167 512h0M1158 526h0M1209 524h0" stroke="#3a4a4a" stroke-width="2.7" stroke-linecap="round"/>
<path transform="scale(.5)" d="M1299 179h0M1197 157h0M1333 207h0M1165 170h0M1235 156h0M1166 214h0M1237 138h0M1235 139h0M1193 188h0M1304 202h0M1327 192h0M1190 183h0M1236 154h0M1234 153h0M1351 155h0M1323 157h0M1327 154h0M1139 171h0M1346 160h0M1160 139h0M1285 168h0M1214 179h0M1213 183h0M1211 204h0M1184 173h0M1179 171h0M1238 155h0M1222 211h0M1219 214h0M1155 143h0M1155 147h0M1146 181h0M1143 178h0M1349 183h0M1217 166h0M1217 164h0M1213 191h0M1212 193h0M1164 148h0M1169 191h0M1234 206h0M1230 207h0M1217 186h0M1230 216h0M1233 220h0M1302 202h0M1162 160h0M1158 163h0M1260 171h0M1256 169h0M1140 174h0M1248 178h0M1205 181h0M1306 197h0M1307 195h0M1166 174h0M1164 173h0M1169 177h0M1169 175h0M1235 157h0M1158 157h0M1152 195h0M1273 139h0M1270 142h0M1297 167h0M1165 184h0M1356 139h0M1361 139h0M1248 183h0M1246 181h0M1139 148h0M1137 150h0M1155 212h0M1154 213h0M1251 210h0M1253 209h0M1357 218h0M1356 216h0M1145 166h0M1349 182h0M1149 197h0M1217 178h0M1219 179h0M1198 203h0M1317 177h0M1181 163h0M1183 164h0M1212 166h0M1212 164h0M1251 173h0M1253 172h0M1282 145h0M1286 145h0M1351 207h0M1218 183h0M1217 181h0M1334 159h0M1339 158h0M1337 169h0M1338 171h0M1310 202h0M1311 198h0M1341 156h0M1230 205h0M1176 195h0M1286 183h0M1288 182h0M1212 151h0M1337 182h0M1357 215h0M1135 193h0M1167 217h0M1165 217h0M1185 194h0M1348 158h0M1349 163h0M1328 171h0M1139 195h0M1278 155h0M1280 159h0M1198 168h0M1202 166h0M1170 138h0M1205 205h0M1261 144h0M1262 149h0M1359 147h0M1231 143h0M1233 141h0M1229 146h0M1219 175h0M1211 171h0M1213 172h0M1319 176h0M1253 175h0M1146 205h0M1302 177h0M1303 175h0M1340 213h0M1345 191h0M1280 216h0M1255 201h0M1252 197h0M1351 164h0M1225 188h0M1340 141h0M1222 143h0M1329 139h0M1328 153h0M1263 208h0M1262 206h0M1208 152h0M1206 150h0M1309 174h0M1310 176h0M1178 207h0M1269 188h0M1255 189h0M1341 197h0M1275 142h0M1253 195h0M1254 197h0M1298 153h0M1275 209h0M1196 144h0M1197 140h0M1270 181h0M1210 167h0M1166 179h0M1148 164h0M1144 162h0M1316 209h0M1348 146h0M1350 138h0M1178 210h0M1152 144h0M1317 208h0M1313 205h0M1293 147h0M1291 147h0M1347 153h0M1236 143h0M1342 207h0M1344 203h0M1320 147h0M1321 142h0M1215 196h0M1207 213h0M1292 174h0M1293 172h0M1216 167h0M1317 170h0M1316 174h0M1221 140h0M1298 194h0M1298 196h0M1361 211h0M1204 185h0M1202 185h0M1329 188h0M1322 194h0M1264 216h0M1266 216h0M1296 204h0M1266 164h0M1347 140h0M1348 142h0M1280 211h0M1319 143h0M1320 141h0M1181 156h0M1181 158h0M1253 194h0M1222 203h0M1219 203h0M1359 162h0M1361 163h0M1195 143h0M1197 139h0M1327 186h0M1331 188h0M1196 175h0M1201 174h0M1172 197h0M1177 198h0M1228 165h0M1317 185h0M1315 184h0M1307 192h0M1311 193h0M1314 159h0M1316 161h0M1134 164h0M1162 188h0M1259 143h0M1271 213h0M1190 159h0M1191 157h0M1247 180h0M1157 172h0M1158 177h0M1152 215h0M1156 217h0M1330 140h0M1330 138h0M1297 197h0M1178 198h0M1176 200h0M1145 150h0M1275 190h0M1271 192h0M1149 190h0M1151 190h0M1242 145h0M1262 217h0M1167 145h0M1196 204h0M1198 202h0M1293 161h0M1296 165h0M1189 182h0M1214 156h0M1215 164h0M1214 166h0M1305 151h0M1309 154h0M1151 212h0M1262 184h0M1187 141h0M1186 139h0M1263 178h0M1323 145h0M1321 141h0M1313 208h0M1279 210h0M1280 214h0M1342 182h0M1264 203h0M1265 205h0M1220 188h0M1346 156h0M1348 155h0M1323 178h0M1238 169h0M1302 145h0M1229 161h0M1265 140h0M1263 139h0M1216 157h0M1214 157h0M1185 209h0M1241 165h0M1140 187h0M1330 207h0M1347 195h0M1167 208h0M1158 187h0M1158 189h0M1159 193h0M1155 191h0M1137 150h0M1333 193h0M1336 197h0M1236 158h0M1332 207h0M1331 209h0M1221 177h0M1219 176h0M1349 171h0" stroke="#d42a3a" stroke-width="2.8" stroke-linecap="round"/>
<path transform="scale(.5)" d="M1335 209h0M1153 209h0M1156 210h0M1158 210h0M1279 174h0M1277 172h0M1325 193h0M1325 156h0M1348 161h0M1159 141h0M1214 181h0M1181 172h0M1246 146h0M1246 144h0M1247 142h0M1238 153h0M1221 212h0M1155 145h0M1145 179h0M1343 197h0M1341 196h0M1335 140h0M1333 141h0M1331 142h0M1232 206h0M1287 168h0M1289 169h0M1291 170h0M1232 218h0M1262 139h0M1260 138h0M1160 161h0M1258 170h0M1203 182h0M1345 147h0M1346 149h0M1271 141h0M1160 150h0M1160 152h0M1161 154h0M1359 139h0M1257 177h0M1255 177h0M1252 177h0M1159 203h0M1157 202h0M1154 201h0M1153 189h0M1155 190h0M1318 179h0M1284 145h0M1353 209h0M1337 158h0M1310 200h0M1259 184h0M1261 184h0M1187 196h0M1349 160h0M1359 157h0M1361 159h0M1176 178h0M1174 180h0M1169 148h0M1170 146h0M1171 144h0M1279 157h0M1200 167h0M1261 147h0M1230 148h0M1254 199h0M1353 166h0M1226 190h0M1331 154h0M1147 164h0M1148 162h0M1149 160h0M1253 190h0M1297 151h0M1274 207h0M1196 142h0M1146 163h0M1150 143h0M1315 207h0M1269 184h0M1271 184h0M1273 185h0M1343 205h0M1321 144h0M1216 170h0M1316 172h0M1330 194h0M1333 195h0M1182 186h0M1184 185h0M1186 185h0M1327 187h0M1297 202h0M1322 196h0M1320 196h0M1318 196h0M1220 138h0M1222 139h0M1224 140h0M1196 141h0M1329 187h0M1282 166h0M1281 164h0M1279 162h0M1199 175h0M1174 198h0M1309 192h0M1335 165h0M1334 167h0M1158 175h0M1154 216h0M1358 179h0M1358 181h0M1273 191h0M1168 146h0M1294 163h0M1159 172h0M1159 174h0M1307 152h0M1284 164h0M1283 162h0M1281 160h0M1243 178h0M1245 176h0M1247 175h0M1322 143h0M1279 212h0M1348 215h0M1350 216h0M1157 192h0M1334 195h0M1254 152h0M1253 153h0M1251 155h0M1287 213h0M1289 211h0" stroke="#3a4a4a" stroke-width="2.8" stroke-linecap="round"/>
<path transform="scale(.5)" d="M1328 202h0M1154 149h0M1222 153h0M1208 170h0M1285 193h0M1169 209h0M1312 218h0M1306 179h0M1295 218h0M1180 166h0M1174 175h0M1195 170h0M1246 205h0M1220 156h0M1343 208h0M1149 154h0M1154 154h0M1331 150h0M1335 173h0M1280 187h0M1218 142h0M1297 191h0M1215 171h0M1279 202h0M1179 195h0M1278 189h0M1330 182h0M1206 179h0M1298 216h0M1325 199h0M1152 155h0M1277 153h0M1260 186h0M1238 144h0M1338 152h0M1157 195h0M1353 163h0M1288 155h0M1160 151h0M1353 190h0M1149 173h0M1150 186h0M1203 140h0M1173 142h0M1135 195h0M1154 187h0M1145 208h0M1161 199h0M1143 212h0M1209 204h0M1222 139h0M1220 151h0M1315 160h0M1166 172h0M1309 214h0M1347 214h0M1343 189h0M1353 173h0M1206 145h0M1189 186h0M1190 211h0M1271 187h0M1179 209h0M1183 144h0M1236 176h0M1154 144h0M1161 204h0M1196 148h0M1139 147h0M1187 154h0M1159 160h0M1139 189h0M1283 162h0M1295 159h0M1197 156h0M1199 157h0" stroke="#2f2fc8" stroke-width="2.8" stroke-linecap="round"/>
<path transform="scale(.5)" d="M1310 213h0M1282 202h0M1189 164h0M1175 181h0M1287 190h0M1316 174h0M1233 184h0M1333 194h0M1251 151h0M1330 202h0M1347 207h0M1195 212h0M1173 156h0M1360 150h0M1146 166h0M1348 168h0M1284 210h0M1192 205h0M1349 207h0M1170 158h0M1258 139h0M1249 171h0" stroke="#c8c8c8" stroke-width="2.8" stroke-linecap="round"/>
<path transform="scale(.5)" d="M1281 309h0M1340 320h0M1336 276h0M1333 276h0M1167 310h0M1134 305h0M1170 304h0M1249 300h0M1247 299h0M1316 321h0M1155 332h0M1218 329h0M1325 290h0M1324 288h0M1245 322h0M1183 322h0M1153 295h0M1234 335h0M1149 318h0M1286 323h0M1192 301h0M1188 299h0M1141 320h0M1144 321h0M1293 279h0M1203 305h0M1155 313h0M1182 308h0M1187 304h0M1210 307h0M1133 315h0M1133 317h0M1167 326h0M1255 295h0M1285 316h0M1332 315h0M1192 321h0M1196 324h0M1179 314h0M1178 312h0M1296 284h0M1297 289h0M1278 294h0M1353 303h0M1355 302h0M1210 317h0M1215 310h0M1152 334h0M1199 310h0M1197 311h0M1194 319h0M1277 329h0M1278 333h0M1170 307h0M1297 272h0M1249 322h0M1272 293h0M1324 334h0M1322 338h0M1151 333h0M1150 329h0M1323 284h0M1325 285h0M1135 333h0M1132 333h0M1355 313h0M1337 331h0M1339 335h0M1221 298h0M1222 301h0M1208 312h0M1207 314h0M1227 289h0M1224 290h0M1184 308h0M1312 304h0M1311 306h0M1307 287h0M1212 300h0M1287 318h0M1218 284h0M1214 321h0M1319 280h0M1318 278h0M1162 286h0M1164 286h0M1284 300h0M1258 309h0M1257 307h0M1266 283h0M1254 292h0M1334 302h0M1263 298h0M1263 300h0M1211 328h0M1252 311h0M1249 310h0M1302 271h0M1354 292h0M1319 295h0M1153 290h0M1151 286h0M1212 295h0M1193 313h0M1197 311h0M1256 308h0M1232 330h0M1178 321h0M1331 313h0M1244 306h0M1233 320h0M1343 299h0M1345 297h0M1344 316h0M1343 318h0M1203 296h0M1204 295h0M1230 332h0M1232 332h0M1150 325h0M1134 315h0M1269 295h0M1267 297h0M1219 324h0M1219 326h0M1194 326h0M1194 324h0M1183 320h0M1140 305h0M1169 311h0M1165 310h0M1346 324h0M1342 327h0M1338 326h0M1178 275h0M1251 270h0M1244 323h0M1246 319h0M1155 309h0M1180 295h0M1248 312h0M1154 298h0M1154 300h0M1145 328h0M1132 323h0M1234 324h0M1303 274h0M1302 272h0M1204 307h0M1206 306h0M1350 279h0M1212 330h0M1213 303h0M1216 280h0M1217 278h0M1195 284h0M1196 281h0M1239 316h0M1237 314h0M1346 293h0M1314 298h0M1316 294h0M1190 289h0M1186 292h0M1142 305h0M1298 331h0M1300 332h0M1294 320h0M1296 316h0M1280 291h0M1172 273h0M1173 276h0M1192 311h0M1294 317h0M1292 318h0M1334 290h0M1185 307h0M1327 296h0M1301 274h0M1211 273h0M1245 270h0M1243 271h0M1143 276h0M1274 277h0M1272 281h0M1312 295h0M1177 283h0M1195 283h0M1338 292h0M1240 273h0M1235 274h0M1195 309h0M1308 272h0M1174 307h0M1252 311h0M1247 311h0M1308 294h0M1308 292h0M1148 322h0M1200 305h0M1192 334h0M1292 290h0M1296 293h0M1189 334h0M1188 330h0M1192 325h0M1246 281h0M1311 325h0M1345 329h0M1213 310h0M1143 322h0M1141 326h0M1144 268h0M1169 310h0M1317 268h0M1359 323h0M1357 324h0M1167 290h0M1278 290h0M1158 328h0M1160 269h0M1151 274h0M1147 277h0M1153 287h0M1144 299h0M1283 299h0M1357 303h0M1358 298h0M1208 286h0M1203 284h0M1158 325h0M1286 282h0M1310 301h0M1356 329h0M1354 289h0M1355 293h0M1222 268h0M1223 273h0M1318 294h0M1320 296h0M1264 309h0M1264 314h0M1211 278h0M1327 311h0M1323 314h0M1224 276h0M1206 273h0M1355 336h0M1354 334h0M1203 321h0M1358 273h0M1136 281h0M1265 308h0M1241 306h0M1248 329h0M1246 330h0M1247 270h0M1199 306h0M1197 306h0M1190 316h0M1192 315h0M1139 294h0M1141 293h0" stroke="#d42a3a" stroke-width="2.8" stroke-linecap="round"/>
<path transform="scale(.5)" d="M1338 321h0M1232 298h0M1233 300h0M1165 309h0M1323 299h0M1321 300h0M1319 301h0M1156 333h0M1243 321h0M1262 306h0M1263 308h0M1264 310h0M1353 323h0M1355 322h0M1148 317h0M1239 276h0M1239 279h0M1190 300h0M1185 305h0M1165 328h0M1222 309h0M1220 309h0M1218 309h0M1183 331h0M1185 330h0M1194 322h0M1298 305h0M1298 307h0M1298 309h0M1297 287h0M1351 330h0M1353 330h0M1190 285h0M1188 284h0M1303 332h0M1305 331h0M1307 330h0M1277 331h0M1349 334h0M1349 336h0M1349 338h0M1323 336h0M1151 331h0M1338 333h0M1217 327h0M1217 330h0M1217 332h0M1251 323h0M1251 325h0M1252 328h0M1149 311h0M1152 311h0M1154 311h0M1285 302h0M1277 320h0M1276 322h0M1275 325h0M1255 294h0M1235 287h0M1236 285h0M1237 282h0M1356 293h0M1152 288h0M1195 312h0M1332 311h0M1313 296h0M1311 294h0M1216 311h0M1217 313h0M1167 311h0M1340 326h0M1245 321h0M1157 310h0M1180 298h0M1134 322h0M1243 278h0M1244 280h0M1234 311h0M1236 312h0M1238 313h0M1315 296h0M1188 291h0M1192 336h0M1190 335h0M1295 318h0M1254 294h0M1256 295h0M1325 295h0M1273 279h0M1238 274h0M1165 301h0M1166 303h0M1175 305h0M1250 311h0M1319 319h0M1320 317h0M1321 315h0M1235 334h0M1234 333h0M1294 291h0M1189 332h0M1210 310h0M1142 324h0M1349 314h0M1351 315h0M1146 269h0M1317 271h0M1149 317h0M1150 320h0M1151 322h0M1251 274h0M1249 274h0M1246 274h0M1149 276h0M1285 301h0M1358 300h0M1205 285h0M1187 275h0M1188 272h0M1354 291h0M1223 271h0M1264 312h0M1325 313h0M1334 292h0M1336 292h0M1357 271h0M1245 330h0M1245 333h0M1150 327h0M1152 328h0" stroke="#3a4a4a" stroke-width="2.8" stroke-linecap="round"/>
<path transform="scale(.5)" d="M1244 311h0M1299 327h0M1320 271h0M1167 303h0M1197 278h0M1202 318h0M1352 328h0M1168 286h0M1244 310h0M1172 273h0M1165 269h0M1268 334h0M1326 302h0M1318 319h0M1155 318h0M1271 291h0M1350 288h0M1194 330h0M1141 327h0M1278 283h0M1342 275h0M1273 288h0M1141 294h0M1332 330h0M1224 328h0M1181 281h0M1193 298h0M1229 320h0M1236 273h0M1272 295h0M1255 335h0M1307 336h0M1358 309h0M1320 285h0M1291 319h0M1223 303h0M1136 316h0M1159 319h0M1244 310h0M1138 314h0M1356 271h0M1212 301h0M1212 306h0M1292 300h0M1247 303h0" stroke="#2f2fc8" stroke-width="2.8" stroke-linecap="round"/>
<path transform="scale(.5)" d="M1287 277h0M1356 321h0M1157 296h0M1143 292h0M1304 322h0M1239 335h0M1235 333h0M1231 311h0M1212 313h0M1232 299h0M1247 334h0M1219 312h0M1144 291h0M1135 294h0M1143 285h0M1346 298h0M1193 276h0M1286 336h0M1323 289h0M1152 330h0" stroke="#c8c8c8" stroke-width="2.8" stroke-linecap="round"/>
<path transform="scale(.5)" d="M1270 401h0M1268 399h0M1335 438h0M1218 433h0M1327 427h0M1328 426h0M1180 442h0M1180 444h0M1265 407h0M1261 406h0M1352 416h0M1344 452h0M1249 386h0M1307 422h0M1308 420h0M1312 420h0M1310 424h0M1297 463h0M1226 425h0M1285 410h0M1285 412h0M1136 449h0M1338 461h0M1245 400h0M1247 401h0M1295 396h0M1298 397h0M1233 450h0M1179 443h0M1309 438h0M1312 441h0M1328 407h0M1131 406h0M1135 403h0M1270 451h0M1158 390h0M1156 388h0M1293 435h0M1147 451h0M1225 446h0M1227 447h0M1254 397h0M1255 399h0M1357 390h0M1331 442h0M1210 461h0M1207 465h0M1335 424h0M1335 427h0M1147 435h0M1149 439h0M1179 417h0M1178 415h0M1250 403h0M1317 451h0M1317 447h0M1261 430h0M1263 429h0M1290 391h0M1291 387h0M1310 431h0M1311 429h0M1269 448h0M1267 448h0M1135 444h0M1275 403h0M1174 414h0M1278 413h0M1333 421h0M1266 412h0M1265 417h0M1188 446h0M1190 447h0M1145 424h0M1148 425h0M1263 427h0M1309 448h0M1293 464h0M1297 464h0M1360 392h0M1358 388h0M1209 446h0M1217 447h0M1218 445h0M1231 407h0M1344 422h0M1306 412h0M1318 439h0M1314 438h0M1248 407h0M1246 405h0M1207 433h0M1211 433h0M1186 466h0M1184 461h0M1214 451h0M1210 452h0M1160 463h0M1171 412h0M1171 417h0M1302 457h0M1304 455h0M1194 431h0M1179 454h0M1245 395h0M1245 397h0M1182 463h0M1184 462h0M1164 397h0M1279 418h0M1276 417h0M1182 427h0M1283 441h0M1174 389h0M1171 392h0M1143 453h0M1215 416h0M1143 453h0M1142 457h0M1230 459h0M1231 464h0M1313 439h0M1318 441h0M1173 458h0M1346 391h0M1349 391h0M1150 439h0M1207 403h0M1315 400h0M1258 414h0M1339 417h0M1186 391h0M1280 392h0M1303 418h0M1306 422h0M1305 396h0M1304 432h0M1241 449h0M1240 446h0M1315 421h0M1252 462h0M1355 422h0M1361 415h0M1357 418h0M1231 457h0M1315 462h0M1311 463h0M1228 437h0M1268 453h0M1230 410h0M1280 405h0M1285 404h0M1320 420h0M1312 386h0M1248 388h0M1349 447h0M1350 443h0M1275 388h0M1270 387h0M1149 421h0M1191 440h0M1193 440h0M1163 436h0M1159 438h0M1230 402h0M1222 454h0M1286 422h0M1285 424h0M1165 459h0M1166 461h0M1300 448h0M1341 449h0M1345 452h0M1167 428h0M1172 428h0M1160 422h0M1275 447h0M1242 406h0M1240 404h0M1314 453h0M1305 395h0M1301 392h0M1222 447h0M1225 443h0M1267 450h0M1270 447h0M1300 454h0M1301 459h0M1332 409h0M1336 411h0M1188 418h0M1187 459h0M1184 459h0M1243 414h0M1242 416h0M1353 406h0M1289 438h0M1290 443h0M1209 403h0M1271 426h0M1270 422h0M1337 403h0M1333 403h0M1256 415h0M1251 415h0M1287 437h0M1239 445h0M1267 389h0M1267 391h0M1350 447h0M1152 442h0M1151 444h0M1137 405h0M1217 444h0M1222 442h0M1272 418h0M1324 414h0M1271 397h0M1151 389h0M1161 440h0M1333 450h0M1302 442h0M1200 395h0M1302 431h0M1305 432h0M1186 427h0M1290 412h0M1295 421h0M1297 425h0M1285 447h0M1284 449h0M1167 388h0M1285 449h0M1240 425h0M1171 391h0M1185 402h0M1182 404h0M1177 447h0M1176 443h0M1359 397h0M1358 456h0M1357 458h0M1330 425h0M1248 390h0M1246 392h0M1180 424h0M1175 424h0M1153 417h0M1152 419h0M1277 453h0M1273 452h0M1181 441h0M1289 450h0M1285 448h0M1153 427h0M1135 448h0M1136 445h0M1256 455h0M1252 452h0M1192 446h0M1193 447h0M1192 445h0M1293 443h0M1315 414h0M1261 389h0M1205 442h0M1174 439h0M1321 428h0M1321 425h0M1348 445h0M1350 447h0M1169 441h0M1167 442h0M1249 444h0M1250 429h0M1257 449h0M1313 387h0M1312 383h0M1238 428h0M1133 388h0M1136 385h0M1352 426h0M1151 454h0M1154 455h0M1165 440h0M1142 401h0M1140 402h0M1320 425h0M1318 424h0M1331 461h0M1330 458h0M1139 389h0M1143 425h0M1213 420h0M1214 418h0M1346 420h0M1344 416h0M1199 432h0M1202 432h0M1232 460h0M1337 427h0M1336 425h0M1189 432h0M1251 401h0M1290 448h0M1294 451h0M1190 415h0M1190 462h0M1291 443h0M1293 438h0M1184 398h0M1296 456h0M1157 405h0M1257 409h0M1278 461h0M1357 395h0M1295 462h0M1284 440h0M1285 438h0" stroke="#d42a3a" stroke-width="2.8" stroke-linecap="round"/>
<path transform="scale(.5)" d="M1156 406h0M1154 405h0M1183 435h0M1183 433h0M1239 399h0M1239 401h0M1135 390h0M1135 393h0M1136 395h0M1189 398h0M1189 395h0M1184 425h0M1186 425h0M1263 406h0M1351 418h0M1344 450h0M1311 422h0M1310 439h0M1327 409h0M1133 405h0M1272 450h0M1236 397h0M1235 395h0M1234 393h0M1147 453h0M1209 463h0M1148 437h0M1302 413h0M1304 412h0M1306 411h0M1317 449h0M1290 389h0M1175 416h0M1156 414h0M1154 413h0M1189 449h0M1189 451h0M1190 453h0M1265 414h0M1163 456h0M1164 458h0M1165 460h0M1177 399h0M1176 397h0M1176 394h0M1295 464h0M1359 390h0M1342 421h0M1316 438h0M1209 433h0M1185 464h0M1212 451h0M1251 390h0M1251 392h0M1231 397h0M1233 399h0M1235 400h0M1171 414h0M1181 425h0M1282 443h0M1173 390h0M1283 408h0M1284 405h0M1285 403h0M1143 455h0M1342 448h0M1339 448h0M1231 462h0M1169 418h0M1171 417h0M1316 440h0M1166 435h0M1164 436h0M1162 437h0M1207 401h0M1341 419h0M1305 420h0M1307 430h0M1309 430h0M1323 402h0M1321 404h0M1319 405h0M1359 417h0M1229 456h0M1313 462h0M1283 405h0M1314 385h0M1345 444h0M1347 446h0M1349 447h0M1198 395h0M1196 395h0M1194 395h0M1308 384h0M1308 386h0M1308 388h0M1350 445h0M1169 386h0M1167 387h0M1165 388h0M1272 387h0M1161 437h0M1343 450h0M1169 428h0M1303 394h0M1223 445h0M1261 406h0M1261 403h0M1269 449h0M1300 457h0M1334 410h0M1289 440h0M1271 424h0M1335 403h0M1254 415h0M1345 401h0M1343 401h0M1209 449h0M1207 450h0M1219 443h0M1325 412h0M1284 401h0M1286 399h0M1161 442h0M1134 410h0M1136 410h0M1331 449h0M1234 458h0M1237 457h0M1204 425h0M1202 425h0M1200 425h0M1296 423h0M1183 403h0M1177 445h0M1178 424h0M1275 452h0M1287 449h0M1254 453h0M1191 444h0M1173 437h0M1255 447h0M1312 385h0M1135 386h0M1345 418h0M1191 434h0M1292 449h0M1191 413h0M1292 440h0M1295 458h0M1259 410h0M1296 464h0" stroke="#3a4a4a" stroke-width="2.8" stroke-linecap="round"/>
<path transform="scale(.5)" d="M1193 421h0M1236 388h0M1320 397h0M1184 410h0M1211 450h0M1181 387h0M1181 462h0M1291 456h0M1301 414h0M1293 446h0M1171 442h0M1352 434h0M1222 430h0M1342 415h0M1235 388h0M1200 428h0M1336 437h0M1271 405h0M1151 438h0M1273 452h0M1323 432h0M1242 430h0M1157 456h0M1338 426h0M1274 423h0M1148 443h0M1287 456h0M1165 453h0M1342 388h0M1321 446h0M1148 461h0M1278 400h0M1145 427h0M1276 439h0M1247 385h0M1316 430h0M1207 460h0M1295 423h0M1288 461h0M1207 432h0M1217 463h0M1202 421h0M1136 439h0M1140 445h0M1261 462h0M1171 418h0M1310 398h0M1272 434h0M1301 450h0M1225 444h0M1203 458h0M1262 460h0M1328 392h0M1362 429h0M1319 412h0M1167 387h0M1275 406h0M1263 402h0M1271 436h0M1308 441h0M1280 404h0M1264 393h0M1321 440h0M1150 448h0M1159 449h0M1234 456h0M1279 439h0M1135 403h0M1335 386h0M1164 409h0M1336 424h0" stroke="#2f2fc8" stroke-width="2.8" stroke-linecap="round"/>
<path transform="scale(.5)" d="M1207 432h0M1311 394h0M1324 409h0M1336 447h0M1261 402h0M1182 459h0M1267 443h0M1257 420h0M1245 404h0M1317 421h0M1339 434h0M1156 388h0M1219 410h0M1265 445h0M1196 411h0M1165 412h0M1328 385h0M1237 403h0" stroke="#c8c8c8" stroke-width="2.8" stroke-linecap="round"/>
<path d="M562.9 47.5 L573.9 48.3 L585.0 49.9 L596.0 49.9 L607.0 49.4 L618.1 49.7 L629.1 49.1 L640.2 47.6 L651.2 47.5 L662.2 48.7 L673.3 49.1 L684.3 49.1 L684.3 67.6 L673.3 66.6 L662.2 66.6 L651.2 68.2 L640.2 68.9 L629.1 68.5 L618.1 68.7 L607.0 68.7 L596.0 67.3 L585.0 66.3 L573.9 67.2 L562.9 67.9Z" fill="url(#dense)"/>
<path d="M562.9 47.5 L573.9 48.3 L585.0 49.9 L596.0 49.9 L607.0 49.4 L618.1 49.7 L629.1 49.1 L640.2 47.6 L651.2 47.5 L662.2 48.7 L673.3 49.1 L684.3 49.1 L684.3 67.6 L673.3 66.6 L662.2 66.6 L651.2 68.2 L640.2 68.9 L629.1 68.5 L618.1 68.7 L607.0 68.7 L596.0 67.3 L585.0 66.3 L573.9 67.2 L562.9 67.9Z" fill="url(#bandgrad)"/>
<path transform="scale(.5)" d="M1136 94l1 1M1329 134l2 1M1204 92l-2 0M1346 96l-1 1M1344 94l3-2M1284 94l-2 0M1317 94l2 0M1338 95l-1 4M1302 94l1-4M1260 139l2 2M1157 98l2 0M1193 99l-1 1M1176 98l3-2M1165 98l1 3M1131 94l0-1M1144 95l-4-1M1134 94l-2 1M1353 131l-3 1M1197 133l0 3M1250 137l-2 2M1240 136l-3 0M1296 135l1 1M1211 98l-3 3M1253 97l0 3M1282 94l-2-1M1185 97l-3 3M1181 99l1 2M1289 95l2 3M1241 98l-1-2M1308 94l-2-2M1245 97l-1-3M1149 96l1-1M1198 97l-1 1M1196 99l-1 1M1184 136l1 2M1232 135l1-1M1297 138l-2-2M1316 94l2-3M1177 132l3-2M1210 92l-2 0M1162 95l-3 1M1165 99l-2 4M1270 94l2 3M1265 96l0 1M1286 137l-2 0M1205 95l-2 2M1244 96l0 1M1333 96l1 1M1322 95l-2-3M1207 96l3 0M1311 96l-1 2M1223 98l3 1M1159 95l-3 1M1235 97l2-1M1227 96l-2-1M1243 98l0 4M1231 97l-3 1M1141 96l1-4M1345 96l1 3M1327 134l-3 1M1145 93l3 0M1133 93l-1-2M1317 134l4-1M1361 93l-2-3M1199 98l1-1M1236 99l3 2M1211 98l1-2M1159 97l-2 0M1294 90l-1-2M1128 94l-3 1M1141 95l2 2M1195 99l3 2" stroke="#d42a2a" stroke-width="2" stroke-linecap="round" fill="none"/>
<path transform="scale(.5)" d="M1314 135l1-1M1270 138l-4 0M1224 139l2-1M1221 136l3 0M1237 135l-1 3M1200 99l0 1M1131 132l-2 1M1204 135l-3 0M1207 140l2-1M1287 93l-2 3M1243 135l-2 2M1219 137l-1-4M1268 135l1 2M1364 134l1 1M1154 131l-2 0M1330 131l0 2M1281 137l4 1M1201 135l-1 2M1343 132l2 1M1325 96l3 0M1252 136l-1-2M1270 136l-2 1M1332 135l0 2M1304 138l-2 2M1315 134l0 3M1318 97l-3 0M1320 97l-2 2M1188 135l0 3M1226 138l-1-3M1239 135l3-2M1217 140l-3 0M1136 133l1-3M1187 97l1 1M1240 143l1 1M1187 134l-1 1M1213 96l-3-2M1181 132l-1 1M1325 134l-1-2M1193 133l1-1M1169 99l0 3M1303 136l1-1M1366 136l1-2M1305 94l-2 2M1139 137l-1 3M1355 133l-1-2M1183 132l-3 2M1241 139l-1 3M1190 98l1 0M1236 136l3-1M1268 140l1 2M1151 134l-2-1M1268 135l-1-2M1261 135l1-3M1161 132l0-1M1194 134l-3 2M1213 97l1-2M1327 97l-2 2M1324 134l3-2M1249 139l-2 1M1217 135l0-1M1279 136l0 1M1142 134l-3 1M1199 134l-2-3M1202 140l-3-2M1327 135l1 2M1262 95l-3-2M1150 132l-1 0M1251 96l-1 0M1332 132l1-1M1191 135l1-2M1192 137l-1 1M1338 133l-3-1M1309 140l-1 3M1178 99l2-1M1288 138l0 4M1342 136l-2 0M1207 139l-4 0M1300 92l0-3M1293 136l-4-1M1329 132l-1 2M1206 141l0-1M1229 139l-1-3M1149 134l1 1M1186 131l0 1M1210 137l-3 0M1353 98l-1 2M1322 93l-2-2M1291 138l1 2M1257 138l-1 3M1163 135l2 1M1307 93l-2 1M1336 131l-1-1M1162 98l-1-1M1216 98l3-2M1228 135l2 3M1227 135l1-1M1257 96l-1 0M1359 131l3 0M1340 133l3 1M1132 136l1-1M1174 134l-1 1M1173 130l1 1M1241 138l0-4M1329 131l2 1M1168 134l-1-1M1295 134l-1 1M1352 96l-2 0M1149 137l-2 0M1146 137l-3 2M1348 134l3 0M1237 138l-2-1M1349 98l1 1M1265 137l-3 1M1363 134l-1 1" stroke="#505050" stroke-width="2" stroke-linecap="round" fill="none"/>
<path d="M562.9 110.4 L573.9 109.5 L585.0 109.2 L596.0 110.6 L607.0 111.6 L618.1 111.2 L629.1 111.3 L640.2 111.5 L651.2 110.3 L662.2 109.1 L673.3 109.7 L684.3 110.5 L684.3 132.5 L673.3 131.8 L662.2 132.8 L651.2 134.3 L640.2 134.2 L629.1 133.9 L618.1 134.2 L607.0 133.4 L596.0 131.9 L585.0 132.0 L573.9 133.1 L562.9 133.3Z" fill="url(#dense)"/>
<path d="M562.9 110.4 L573.9 109.5 L585.0 109.2 L596.0 110.6 L607.0 111.6 L618.1 111.2 L629.1 111.3 L640.2 111.5 L651.2 110.3 L662.2 109.1 L673.3 109.7 L684.3 110.5 L684.3 132.5 L673.3 131.8 L662.2 132.8 L651.2 134.3 L640.2 134.2 L629.1 133.9 L618.1 134.2 L607.0 133.4 L596.0 131.9 L585.0 132.0 L573.9 133.1 L562.9 133.3Z" fill="url(#bandgrad)"/>
<path transform="scale(.5)" d="M1130 265l-3 2M1289 218l2-1M1139 216l-1-2M1175 219l0-3M1162 263l2-1M1362 264l-2-1M1242 269l-1-2M1213 222l-2 2M1356 218l2 2M1148 265l-1 2M1330 216l-1 2M1270 220l0-1M1313 217l1 2M1280 267l2 3M1294 266l-2 0M1280 266l-2 2M1334 218l-3 2M1275 266l2 3M1274 222l-1-2M1216 220l1 2M1130 266l0 2M1263 222l-2-3M1313 218l-3-1M1140 215l-2-3M1181 216l-1 1M1207 268l-1 2M1358 219l-4-1M1276 223l1-1M1141 217l-1-2M1207 266l0-2M1186 216l-3 2M1140 267l-4-1M1207 266l-3 0M1309 218l1-2M1216 220l-1-3M1288 219l2 1M1150 217l-1 1M1310 218l-2 3M1315 214l1-2M1257 222l3 1M1233 265l-3-2M1299 220l-3 0M1334 218l1-2M1296 218l1-1M1284 270l1 1M1298 215l-1 0M1152 218l3 1M1183 266l1 1M1150 268l-1-4M1173 215l3-1M1356 262l-1-1M1345 218l-2 1M1364 271l0 4M1212 266l0 3M1256 222l-1 1M1355 217l1 2M1300 267l1 0M1267 268l-1 2M1245 268l3-1M1156 216l1-1M1230 217l-2 1M1314 264l3 2M1205 264l1 3M1131 266l-3 2M1154 265l0-1M1355 218l0 1M1192 267l-2-2M1328 266l-1 0M1333 214l-2 0M1143 217l0 1M1348 262l2 2M1221 223l3-1M1301 216l2-1M1292 269l1 0M1293 267l2 4M1230 222l2-1M1260 218l2-2M1131 264l3-2M1319 266l2 1M1334 263l2 0M1162 265l-1-2M1141 219l-2-2M1236 270l0 3M1296 270l0 2M1165 215l-2 1M1273 221l-2-2M1193 220l1 3" stroke="#d42a2a" stroke-width="2" stroke-linecap="round" fill="none"/>
<path transform="scale(.5)" d="M1241 269l-1-4M1170 268l-2-1M1335 266l2-2M1243 269l2 3M1249 267l2 0M1238 269l3-3M1330 264l1 1M1294 266l-1 2M1281 270l2-1M1274 268l0 2M1363 262l1-1M1278 221l3 0M1266 268l1 3M1218 265l2-2M1141 213l-1 2M1323 217l-3 1M1364 265l-1-3M1310 267l3 1M1208 264l-2 2M1320 266l-2-2M1313 219l-1 0M1350 265l-2 1M1147 265l2 2M1135 220l1 1M1279 266l-2 0M1218 266l3 0M1252 268l-1 2M1344 263l1-2M1361 219l3-2M1262 219l-2 3M1263 221l-1 2M1174 263l-3 0M1300 267l1 0M1142 271l-3 1M1342 216l2 0M1274 266l-1-1M1334 263l-1 0M1360 262l-2 1M1298 270l0-3M1295 269l1 1M1165 265l-3 2M1360 267l3 2M1253 269l-2-1M1332 263l-3-1M1339 262l-2 0M1267 221l-1-3M1260 266l3-2M1296 221l-3 2M1185 220l-1-2M1348 265l1 1M1228 219l-1 3M1298 267l1-1M1366 218l2 2M1290 268l-3-1M1185 268l4 1M1331 268l-1 2M1200 221l1-1M1356 261l-1-2M1356 219l1 1M1204 265l-1 2M1261 267l-2-1M1310 265l-3 0M1300 268l2 0M1241 266l-1 0M1318 264l0 3M1284 222l1 0M1252 221l1 0M1343 218l-1 0M1210 217l0 2M1269 268l3-2M1302 267l1 2M1136 269l3-2M1133 215l-1-3M1250 267l-1-2M1188 264l-1 1M1262 220l3 1M1192 265l-2 1M1367 263l1-2M1255 266l-1 1M1133 272l-1 2M1364 264l-3-3M1337 266l-2 2M1337 218l-1-2M1276 220l0-2M1262 266l2 1M1319 270l3-2M1182 219l2 1M1191 264l-2-1M1197 219l-1 0M1141 264l2-1M1245 266l-1-2M1205 263l3 2M1294 221l-1 2M1333 215l1-1M1277 269l2-3M1233 267l-1-4M1170 263l2 0M1344 263l2 3M1173 218l0-3" stroke="#505050" stroke-width="2" stroke-linecap="round" fill="none"/>
<path d="M562.9 169.3 L573.9 168.4 L585.0 167.9 L596.0 169.2 L607.0 170.4 L618.1 170.1 L629.1 170.1 L640.2 170.4 L651.2 169.3 L662.2 167.9 L673.3 168.4 L684.3 169.3 L684.3 190.4 L673.3 189.8 L662.2 191.1 L651.2 192.4 L640.2 192.1 L629.1 191.9 L618.1 192.2 L607.0 191.2 L596.0 189.8 L585.0 190.2 L573.9 191.3 L562.9 191.3Z" fill="url(#dense)"/>
<path d="M562.9 169.3 L573.9 168.4 L585.0 167.9 L596.0 169.2 L607.0 170.4 L618.1 170.1 L629.1 170.1 L640.2 170.4 L651.2 169.3 L662.2 167.9 L673.3 168.4 L684.3 169.3 L684.3 190.4 L673.3 189.8 L662.2 191.1 L651.2 192.4 L640.2 192.1 L629.1 191.9 L618.1 192.2 L607.0 191.2 L596.0 189.8 L585.0 190.2 L573.9 191.3 L562.9 191.3Z" fill="url(#bandgrad)"/>
<path transform="scale(.5)" d="M1160 331l-1-1M1296 385l2 0M1201 338l-1-1M1352 380l-2 3M1283 340l2 1M1354 336l2 1M1353 337l0 1M1353 381l1 4M1165 380l0 1M1345 378l2 0M1303 338l-1 0M1161 333l-1-2M1155 331l-2 2M1156 382l0-1M1280 340l1-3M1251 339l-1-1M1266 382l4 1M1352 332l2 2M1186 336l3 0M1195 338l4 0M1134 332l-3 1M1213 380l3-2M1219 383l-1-1M1233 337l0-1M1362 378l2-1M1341 334l2 1M1338 336l2 0M1156 336l-2 0M1281 340l1 0M1271 383l1-1M1170 335l-1-2M1318 336l0 2M1171 379l0-2M1181 337l-1 1M1184 334l1-3M1219 383l2-1M1164 335l3 0M1179 332l3-2M1273 338l-3-1M1264 385l-1-4M1255 385l1 0M1361 335l-3 0M1135 332l0-3M1345 333l-2 0M1208 338l0-1M1177 336l1-1M1137 333l3 0M1128 334l-1 0M1158 333l2-1M1340 379l-2 1M1322 380l-3-2M1222 340l4 2M1330 335l1 0M1239 338l1-2M1333 336l0-2M1135 334l1 3M1324 335l3-1M1256 340l1 1M1170 334l-3-3M1234 383l1 0M1145 334l2 1M1174 380l3 1M1301 337l-1 1M1340 331l-3 0M1261 381l0-4M1287 382l1-1M1363 337l3 3M1216 380l-2 3M1284 339l-2 3M1326 335l-1 3M1358 335l2 3M1220 382l2 0M1361 338l-1 1M1296 337l-1 3M1193 337l1-1M1310 338l0 2" stroke="#d42a2a" stroke-width="2" stroke-linecap="round" fill="none"/>
<path transform="scale(.5)" d="M1190 380l1-1M1230 338l-2 2M1340 336l-2-2M1325 335l-2 0M1153 333l1-3M1344 379l2-3M1362 380l2-1M1210 382l2 1M1189 337l-2 1M1321 384l-1 3M1161 335l1 1M1234 381l0 1M1340 382l1 4M1178 381l-3-1M1138 336l4-1M1146 381l0 3M1288 383l-1-1M1328 381l-1 1M1317 332l-1 2M1309 382l2-1M1139 380l1 0M1216 380l1 4M1142 380l-2 1M1154 381l-2 1M1182 377l3 1M1289 388l-1 2M1166 378l0 4M1251 384l0-2M1317 381l2 1M1260 384l-2 0M1233 387l-2 1M1319 385l3 1M1337 334l1 2M1292 384l0-2M1232 384l-1 1M1292 336l-1 0M1316 382l1 0M1276 340l1 1M1270 385l0 1M1155 382l3 0M1136 382l-2-2M1313 382l2 0M1204 337l2 1M1341 381l-2-2M1326 335l1 0M1357 337l0-3M1347 377l0-4M1205 381l0-1M1310 335l0-3M1273 382l2-2M1286 385l3-1M1225 381l1-3M1251 384l1-3M1283 384l3-2M1308 381l2 2M1316 382l-1-1M1312 382l-1-1M1328 382l-3-2M1290 382l2-1M1274 337l2-3M1175 379l3 2M1333 378l3-2M1344 381l-2-2M1361 337l1 1M1325 380l-1 3M1367 381l-1-2M1130 385l1-1M1243 386l-1-1M1311 382l0-2M1237 385l-1-4M1221 384l-1-3M1192 381l0-2M1140 380l0-4M1154 380l2 0M1273 382l1 2M1284 385l2 1M1205 380l3 0M1317 384l0-2M1228 340l-1-1M1309 384l-1-2M1169 381l0 2M1320 332l-1 0M1267 384l0-1M1357 378l-4 2M1321 335l0-4M1181 379l1 1M1276 386l-2 2M1236 381l-2-1M1266 383l2 3M1333 328l4 0M1137 381l2-2M1233 382l1 1M1280 387l1 3M1189 386l2 3M1299 384l3-2M1277 386l3 0M1159 382l2-3M1318 336l2 2M1361 382l3-2M1231 382l1-3M1147 383l1 0M1246 384l0-2M1199 382l-3 1M1171 378l1 2M1213 384l0-1M1222 384l0-1M1247 340l0 1M1323 383l-2 2M1340 378l-1 0M1208 379l-2 0" stroke="#505050" stroke-width="2" stroke-linecap="round" fill="none"/>
<path d="M562.9 231.7 L573.9 231.9 L585.0 233.6 L596.0 234.1 L607.0 233.6 L618.1 233.7 L629.1 233.6 L640.2 232.1 L651.2 231.4 L662.2 232.5 L673.3 233.1 L684.3 233.1 L684.3 254.3 L673.3 254.0 L662.2 253.3 L651.2 253.5 L640.2 252.8 L629.1 251.5 L618.1 251.8 L607.0 253.2 L596.0 253.5 L585.0 253.5 L573.9 254.2 L562.9 254.0Z" fill="url(#dense)"/>
<path d="M562.9 231.7 L573.9 231.9 L585.0 233.6 L596.0 234.1 L607.0 233.6 L618.1 233.7 L629.1 233.6 L640.2 232.1 L651.2 231.4 L662.2 232.5 L673.3 233.1 L684.3 233.1 L684.3 254.3 L673.3 254.0 L662.2 253.3 L651.2 253.5 L640.2 252.8 L629.1 251.5 L618.1 251.8 L607.0 253.2 L596.0 253.5 L585.0 253.5 L573.9 254.2 L562.9 254.0Z" fill="url(#bandgrad)"/>
<path transform="scale(.5)" d="M1134 458l-2 0M1155 508l0-1M1231 467l1 2M1175 504l-3-1M1336 505l3 0M1306 460l0 2M1229 467l-1 2M1306 510l-1-1M1181 505l3 0M1310 461l0-1M1185 468l-1-2M1229 505l-3-1M1362 465l2 2M1246 465l1 3M1209 466l3 1M1145 507l-3-1M1221 505l0 2M1173 505l-1 2M1349 461l2-2M1243 506l-2 1M1260 465l2-1M1295 461l2 1M1220 505l-2 3M1292 461l-3 0M1309 461l-2 1M1190 466l-1-2M1220 467l1-3M1336 506l-1 1M1236 467l0 2M1133 505l3-2M1228 466l1 0M1132 461l3-1M1240 464l-1 3M1265 464l-1 1M1193 505l2 3M1266 465l3 0M1165 512l-1 2M1295 462l-1 1M1288 503l-2 2M1200 465l1 3M1367 465l-2 1M1355 465l0 4M1181 467l2 3M1354 466l-2-2M1205 467l-1-3M1174 506l-3 2M1141 509l1 1M1323 507l-1-1M1231 465l2 0M1301 462l-2 0M1261 464l0-3M1235 463l-1 1M1327 459l-4-1M1357 511l2 2M1282 463l3 0M1189 463l-2 0M1301 463l1 0M1241 464l-1 1M1322 462l-2 3M1195 466l-1 2M1354 466l2-1M1245 507l-1-1M1143 511l1 1M1251 465l1 1M1343 465l-2-3M1227 503l0-1M1292 463l3 3M1222 505l2 2M1200 466l-1-3M1218 465l0 3M1231 503l-2-1M1294 461l-1 2M1298 462l2 0M1145 462l-1 1M1257 466l-1-1M1193 465l-1 1M1208 508l-1-3M1366 466l-2-2M1243 466l1 1M1340 508l0-2M1177 466l-3 0" stroke="#d42a2a" stroke-width="2" stroke-linecap="round" fill="none"/>
<path transform="scale(.5)" d="M1191 466l0 1M1154 463l0-1M1297 504l-2 1M1294 503l-3 1M1148 463l1 1M1294 505l0-1M1188 468l-1 0M1167 466l2-3M1360 509l1 0M1195 511l2 1M1284 505l3-2M1238 503l3-3M1153 463l-2 2M1135 461l0-2M1209 506l-2 2M1335 507l-1 4M1208 506l0-1M1193 466l-2-1M1333 506l1-1M1321 505l-2-1M1249 466l1 1M1261 502l-2-2M1343 509l3 1M1311 460l0 3M1310 511l2-3M1274 503l-2 3M1194 465l0 1M1306 504l-1 0M1192 511l-3 1M1347 509l2-3M1234 501l3-3M1363 507l3-1M1204 508l-4 0M1342 466l-1-1M1240 502l-1-1M1313 505l1-2M1346 508l0 2M1171 508l-1 1M1348 506l2 1M1318 505l-3 1M1236 466l3 2M1202 466l1-2M1172 504l-1 2M1290 503l0 1M1143 507l-3-1M1128 505l0 2M1276 503l3 1M1187 509l-1-1M1135 458l1 2M1238 503l4 0M1323 506l3 2M1168 504l1 1M1224 503l-1-2M1296 459l-2 2M1160 505l1-1M1297 505l1-1M1196 468l3-2M1161 506l3 0M1358 465l1 1M1350 465l1-2M1191 468l-1-4M1167 505l2-2M1356 509l3 1M1133 506l0 1M1233 503l-3 2M1226 503l-1-1M1361 508l0 4M1285 463l-2 3M1286 505l-2 2M1224 504l-1-1M1180 505l-2-3M1300 462l1-1M1273 503l-1-3M1298 505l-1 1M1350 508l0-3M1130 509l0-2M1355 506l0-3M1209 467l0 2M1240 501l-2 0M1365 465l-2 2M1140 516l1-1M1243 501l-2 2M1346 463l-1 0M1273 465l3 2M1266 501l0-3M1273 509l1 1M1243 501l-3-2M1329 507l1 1M1166 507l1-3M1161 507l-1 2M1173 508l3 0M1255 465l1 0M1205 466l-1-3M1209 505l-3 1M1237 501l-1 3M1203 510l2-1M1196 507l-3 1M1286 462l1-1M1182 505l-1 1M1228 465l0 2M1129 506l-2-2M1150 507l-3 0M1325 506l0 4M1272 506l-1-1M1289 504l1-1" stroke="#505050" stroke-width="2" stroke-linecap="round" fill="none"/>
</g>
<text x="5.9" y="299.8" font-size="14" font-weight="bold">(b)</text>
<polyline points="41.4,527.1 41.9,526.2 42.5,525.7 43,525.2 43.6,525.0 44.1,524.5 44.7,523.7 45.2,523.6 45.7,523.3 46.3,522.7 46.8,522.6 47.4,521.8 47.9,521.5 48.5,521.3 49,520.7 49.5,520.6 50.1,519.7 50.6,520.2 51.2,519.3 51.7,519.2 52.3,518.6 52.8,518.8 53.3,518.8 53.9,518.4 54.4,518.0 55,517.1 55.5,517.3 56.1,517.3 56.6,517.1 57.1,517.7 57.7,517.4 58.2,517.3 58.8,517.4 59.3,516.9 59.9,516.9 60.4,516.9 61,517.3 61.5,517.2 62,517.2 62.6,517.3 63.1,516.6 63.7,516.8 64.2,517.0 64.8,516.5 65.3,516.7 65.8,517.2 66.4,517.2 66.9,517.2 67.5,517.0 68,516.9 68.6,517.3 69.1,517.0 69.6,517.2 70.2,517.5 70.7,517.1 71.3,517.0 71.8,517.2 72.4,517.5 72.9,517.4 73.4,517.3 74,517.5 74.5,516.9 75.1,517.1 75.6,517.4 76.2,517.2 76.7,517.0 77.2,517.1 77.8,517.2 78.3,517.5 78.9,517.2 79.4,517.7 80,518.2 80.5,517.6 81,518.1 81.6,517.9 82.1,517.5 82.7,517.8 83.2,517.6 83.8,518.2 84.3,517.6 84.8,518.3 85.4,518.2 85.9,517.4 86.5,518.3 87,518.6 87.6,517.8 88.1,518.4 88.6,517.5 89.2,518.2 89.7,517.6 90.3,518.3 90.8,517.6 91.4,517.3 91.9,518.2 92.5,518.8 93,517.9 93.5,518.3 94.1,518.1 94.6,518.0 95.2,518.2 95.7,518.5 96.3,517.7 96.8,518.2 97.3,518.1 97.9,517.6 98.4,518.4 99,518.5 99.5,517.7 100.1,518.4 100.6,517.9 101.1,517.9 101.7,518.4 102.2,518.0 102.8,518.0 103.3,518.4 103.9,518.3 104.4,518.2 104.9,517.5 105.5,517.5 106,518.2 106.6,517.6 107.1,517.9 107.7,517.5 108.2,517.8 108.7,517.4 109.3,518.3 109.8,517.5 110.4,517.8 110.9,517.8 111.5,518.2 112,517.3 112.5,517.7 113.1,517.6 113.6,517.8 114.2,517.8 114.7,517.6 115.3,517.8 115.8,517.6 116.3,517.9 116.9,517.7 117.4,517.5 118,517.7 118.5,517.8 119.1,518.3 119.6,517.4 120.1,517.7 120.7,518.0 121.2,516.9 121.8,516.9 122.3,517.1 122.9,517.4 123.4,518.2 123.9,517.6 124.5,517.8 125,517.4 125.6,516.7 126.1,516.8 126.7,517.8 127.2,517.6 127.8,517.2 128.3,517.9 128.8,517.1 129.4,517.9 129.9,518.0 130.5,517.3 131,517.2 131.6,517.7 132.1,517.1 132.6,517.7 133.2,517.1 133.7,517.7 134.3,517.4 134.8,517.3 135.4,517.2 135.9,517.5 136.4,516.9 137,517.3 137.5,517.3 138.1,517.6 138.6,517.0 139.2,517.9 139.7,517.3 140.2,517.0 140.8,517.8 141.3,517.9 141.9,517.3 142.4,517.1 143,517.4 143.5,517.2 144,517.3 144.6,517.8 145.1,517.4 145.7,517.4 146.2,517.5 146.8,517.3 147.3,517.6 147.8,517.6 148.4,517.2 148.9,517.3 149.5,518.0 150,517.5 150.6,517.3 151.1,517.9 151.6,517.4 152.2,517.0 152.7,517.6 153.3,517.1 153.8,517.3 154.4,517.5 154.9,517.4 155.4,517.2 156,517.3 156.5,517.3 157.1,517.8 157.6,517.2 158.2,517.3 158.7,518.1 159.2,517.4 159.8,518.0 160.3,517.9 160.9,517.5 161.4,517.1 162,517.7 162.5,517.7 163.1,517.8 163.6,517.5 164.1,517.8 164.7,517.8 165.2,517.0 165.8,517.8 166.3,517.4 166.9,517.3 167.4,517.3 167.9,518.0 168.5,517.8 169,516.9 169.6,517.4 170.1,517.4 170.7,517.4 171.2,517.3 171.7,517.0 172.3,517.7 172.8,517.1 173.4,517.3 173.9,517.2 174.5,517.2 175,517.6 175.5,517.6 176.1,517.3 176.6,517.2 177.2,517.4 177.7,517.8 178.3,517.6 178.8,517.6 179.3,517.5 179.9,517.6 180.4,517.7 181,517.1 181.5,518.2 182.1,517.5 182.6,517.5 183.1,518.1 183.7,517.8 184.2,517.7 184.8,517.5 185.3,517.2 185.9,517.7 186.4,518.0 186.9,517.4 187.5,518.0 188,517.3 188.6,517.4 189.1,517.7 189.7,517.5 190.2,517.8 190.7,517.3 191.3,517.2 191.8,517.0 192.4,517.2 192.9,517.2 193.5,517.1 194,517.7 194.6,517.4 195.1,517.0 195.6,518.3 196.2,517.3 196.7,517.2 197.3,517.9 197.8,517.9 198.4,517.2 198.9,517.1 199.4,517.2 200,517.9 200.5,517.4 201.1,517.2 201.6,517.5 202.2,517.8 202.7,517.0 203.2,517.3 203.8,517.0 204.3,518.0 204.9,517.9 205.4,517.6 206,517.4 206.5,517.6 207,516.8 207.6,517.5 208.1,517.0 208.7,516.9 209.2,517.1 209.8,517.2 210.3,517.5 210.8,517.6 211.4,517.4 211.9,517.0 212.5,517.6 213,517.3 213.6,517.7 214.1,517.1 214.6,516.5 215.2,517.2 215.7,518.0 216.3,517.5 216.8,517.3 217.4,517.7 217.9,517.6 218.4,517.5 219,517.2 219.5,517.3 220.1,517.4 220.6,517.1 221.2,517.0 221.7,517.4 222.2,517.7 222.8,517.6 223.3,517.5 223.9,517.5 224.4,518.2 225,517.6 225.5,517.8 226,518.1 226.6,517.6 227.1,517.7 227.7,517.9 228.2,518.1 228.8,517.7 229.3,517.6 229.9,517.6 230.4,517.3 230.9,518.0 231.5,517.6 232,517.2 232.6,517.7 233.1,517.2 233.7,517.4 234.2,517.7 234.7,517.5 235.3,518.2 235.8,517.5 236.4,518.0 236.9,518.0 237.5,518.4 238,518.2 238.5,518.1 239.1,518.0 239.6,518.0 240.2,518.3 240.7,517.8 241.3,518.2 241.8,518.0 242.3,518.2 242.9,518.0 243.4,518.8 244,518.0 244.5,518.3 245.1,518.3 245.6,518.4 246.1,518.4 246.7,518.4 247.2,518.6 247.8,517.9 248.3,518.4 248.9,518.1 249.4,518.5 249.9,518.1 250.5,518.2 251,518.5 251.6,518.9 252.1,518.7 252.7,518.6 253.2,519.0 253.7,518.3 254.3,518.0 254.8,518.5 255.4,518.6 255.9,519.1 256.5,519.4 257,518.4 257.5,519.6 258.1,519.3 258.6,519.2 259.2,519.0 259.7,519.7 260.3,519.0 260.8,518.8 261.3,519.0 261.9,518.6 262.4,519.2 263,519.1 263.5,519.2 264.1,519.3 264.6,518.9 265.2,519.7 265.7,519.0 266.2,519.6 266.8,518.9 267.3,519.5 267.9,519.2 268.4,519.5 269,519.3 269.5,518.8 270,519.1 270.6,519.5 271.1,519.7 271.7,519.0 272.2,518.9 272.8,519.2 273.3,519.4 273.8,519.3 274.4,519.3 274.9,519.7 275.5,519.8 276,519.7 276.6,519.2 277.1,519.5 277.6,519.4 278.2,519.1 278.7,519.8 279.3,519.5 279.8,519.3 280.4,519.8 280.9,519.6 281.4,519.7 282,519.7 282.5,519.6 283.1,519.0 283.6,519.3 284.2,519.7 284.7,519.2 285.2,519.4 285.8,519.5 286.3,519.8 286.9,519.8 287.4,519.7 288,519.4 288.5,519.8 289,519.6 289.6,519.4 290.1,519.8 290.7,519.6 291.2,519.2 291.8,519.9 292.3,519.4 292.8,519.7 293.4,519.0 293.9,519.4 294.5,519.2 295,519.2 295.6,518.9 296.1,520.1 296.7,519.5 297.2,519.5 297.7,519.8 298.3,519.5 298.8,519.7 299.4,519.1 299.9,519.6 300.5,519.4 301,519.6 301.5,519.6 302.1,519.1 302.6,519.0 303.2,519.2 303.7,519.7 304.3,519.6 304.8,519.5 305.3,518.8 305.9,518.6 306.4,519.2 307,519.3 307.5,519.2 308.1,519.5 308.6,519.3 309.1,519.0 309.7,519.1 310.2,519.4 310.8,519.4 311.3,519.4 311.9,520.1 312.4,519.3" fill="none" stroke="#f05a14" stroke-width="1.3" stroke-linejoin="round"/>
<polyline points="41.4,527.8 41.9,527.9 42.5,527.0 43,526.5 43.6,525.9 44.1,525.1 44.7,524.7 45.2,524.0 45.7,523.9 46.3,522.8 46.8,522.3 47.4,521.5 47.9,520.9 48.5,520.4 49,520.3 49.5,519.4 50.1,519.2 50.6,518.2 51.2,517.6 51.7,516.5 52.3,516.9 52.8,516.7 53.3,515.2 53.9,515.2 54.4,514.3 55,513.1 55.5,512.9 56.1,511.7 56.6,511.7 57.1,511.9 57.7,511.3 58.2,510.6 58.8,511.2 59.3,510.0 59.9,510.1 60.4,509.7 61,509.6 61.5,509.0 62,508.5 62.6,509.6 63.1,508.4 63.7,508.2 64.2,507.5 64.8,508.2 65.3,508.5 65.8,508.3 66.4,508.6 66.9,507.8 67.5,507.3 68,506.9 68.6,507.2 69.1,506.5 69.6,506.4 70.2,505.8 70.7,506.0 71.3,506.5 71.8,505.7 72.4,505.8 72.9,504.8 73.4,506.1 74,505.6 74.5,505.9 75.1,505.4 75.6,504.9 76.2,504.5 76.7,505.0 77.2,504.7 77.8,504.3 78.3,504.5 78.9,504.1 79.4,504.4 80,503.9 80.5,503.5 81,503.8 81.6,503.6 82.1,504.2 82.7,503.5 83.2,503.0 83.8,503.3 84.3,503.1 84.8,503.2 85.4,503.1 85.9,502.6 86.5,502.8 87,502.7 87.6,502.1 88.1,502.2 88.6,502.4 89.2,501.6 89.7,501.6 90.3,501.8 90.8,501.8 91.4,501.9 91.9,501.1 92.5,501.6 93,501.5 93.5,501.8 94.1,501.0 94.6,500.6 95.2,500.3 95.7,500.8 96.3,500.9 96.8,500.1 97.3,500.4 97.9,500.4 98.4,500.3 99,499.7 99.5,500.0 100.1,499.6 100.6,499.2 101.1,499.6 101.7,499.6 102.2,499.1 102.8,499.6 103.3,500.0 103.9,498.8 104.4,499.5 104.9,499.6 105.5,499.2 106,499.2 106.6,499.0 107.1,499.5 107.7,498.7 108.2,498.8 108.7,498.2 109.3,498.9 109.8,498.9 110.4,498.2 110.9,498.4 111.5,498.8 112,498.3 112.5,498.0 113.1,497.5 113.6,498.5 114.2,498.9 114.7,498.0 115.3,498.3 115.8,498.2 116.3,498.0 116.9,498.0 117.4,498.0 118,497.6 118.5,498.7 119.1,498.7 119.6,497.8 120.1,498.2 120.7,497.2 121.2,497.3 121.8,497.7 122.3,496.9 122.9,496.8 123.4,497.3 123.9,496.5 124.5,497.8 125,497.4 125.6,497.1 126.1,497.2 126.7,496.6 127.2,496.5 127.8,497.1 128.3,497.1 128.8,496.7 129.4,496.5 129.9,496.3 130.5,496.9 131,495.9 131.6,496.0 132.1,496.0 132.6,495.6 133.2,495.7 133.7,495.8 134.3,496.5 134.8,496.7 135.4,496.2 135.9,495.4 136.4,495.7 137,495.8 137.5,495.6 138.1,495.4 138.6,495.8 139.2,494.8 139.7,495.2 140.2,495.4 140.8,495.5 141.3,495.3 141.9,495.2 142.4,495.1 143,494.8 143.5,495.1 144,495.0 144.6,494.7 145.1,495.4 145.7,495.4 146.2,494.7 146.8,495.0 147.3,495.2 147.8,494.8 148.4,494.7 148.9,494.8 149.5,494.0 150,493.9 150.6,494.5 151.1,494.4 151.6,494.6 152.2,493.9 152.7,494.4 153.3,494.3 153.8,494.6 154.4,493.5 154.9,493.6 155.4,493.8 156,493.7 156.5,493.2 157.1,493.3 157.6,492.9 158.2,494.2 158.7,493.3 159.2,493.2 159.8,493.0 160.3,493.1 160.9,493.3 161.4,492.9 162,493.0 162.5,493.7 163.1,493.1 163.6,492.8 164.1,492.5 164.7,492.7 165.2,492.5 165.8,492.8 166.3,492.5 166.9,492.5 167.4,492.6 167.9,492.4 168.5,492.9 169,493.7 169.6,492.6 170.1,492.2 170.7,493.1 171.2,492.7 171.7,493.4 172.3,492.8 172.8,493.0 173.4,492.3 173.9,492.0 174.5,492.5 175,492.8 175.5,492.3 176.1,492.1 176.6,492.3 177.2,492.4 177.7,492.4 178.3,492.5 178.8,493.4 179.3,492.6 179.9,492.5 180.4,492.4 181,493.2 181.5,492.3 182.1,493.5 182.6,492.9 183.1,492.5 183.7,493.2 184.2,493.2 184.8,493.7 185.3,492.7 185.9,493.4 186.4,493.4 186.9,493.9 187.5,493.1 188,493.1 188.6,493.9 189.1,493.3 189.7,492.4 190.2,492.9 190.7,492.5 191.3,492.4 191.8,492.1 192.4,492.8 192.9,492.1 193.5,492.3 194,492.2 194.6,491.6 195.1,491.8 195.6,492.2 196.2,491.2 196.7,491.7 197.3,491.6 197.8,491.7 198.4,491.7 198.9,491.6 199.4,491.2 200,491.2 200.5,490.7 201.1,490.6 201.6,491.0 202.2,490.5 202.7,490.9 203.2,490.9 203.8,490.1 204.3,490.5 204.9,489.9 205.4,490.1 206,489.7 206.5,490.0 207,489.9 207.6,489.3 208.1,490.3 208.7,489.9 209.2,488.9 209.8,489.5 210.3,489.2 210.8,489.9 211.4,489.0 211.9,489.1 212.5,488.8 213,488.9 213.6,488.5 214.1,488.4 214.6,488.5 215.2,488.4 215.7,488.8 216.3,488.5 216.8,488.3 217.4,488.3 217.9,488.1 218.4,488.3 219,487.5 219.5,488.1 220.1,488.5 220.6,488.0 221.2,487.8 221.7,488.0 222.2,487.7 222.8,487.6 223.3,488.1 223.9,487.6 224.4,488.3 225,487.7 225.5,487.5 226,487.2 226.6,487.2 227.1,486.5 227.7,487.3 228.2,487.6 228.8,487.4 229.3,487.0 229.9,487.3 230.4,487.2 230.9,486.9 231.5,487.0 232,487.2 232.6,487.0 233.1,486.5 233.7,486.6 234.2,486.6 234.7,486.0 235.3,486.6 235.8,486.4 236.4,485.7 236.9,485.7 237.5,486.9 238,486.3 238.5,486.6 239.1,485.8 239.6,486.5 240.2,486.0 240.7,485.6 241.3,485.9 241.8,486.3 242.3,486.5 242.9,485.8 243.4,485.5 244,485.3 244.5,485.8 245.1,485.9 245.6,485.6 246.1,485.4 246.7,485.6 247.2,485.5 247.8,485.3 248.3,484.6 248.9,484.9 249.4,485.6 249.9,484.9 250.5,485.8 251,485.0 251.6,484.7 252.1,484.8 252.7,484.9 253.2,484.3 253.7,484.5 254.3,484.2 254.8,484.9 255.4,484.2 255.9,484.3 256.5,483.7 257,483.8 257.5,484.1 258.1,483.8 258.6,484.0 259.2,484.1 259.7,484.2 260.3,483.6 260.8,484.0 261.3,484.2 261.9,483.7 262.4,483.4 263,483.5 263.5,484.3 264.1,483.6 264.6,484.1 265.2,483.4 265.7,483.8 266.2,482.8 266.8,483.2 267.3,483.3 267.9,483.8 268.4,483.3 269,483.5 269.5,482.9 270,482.9 270.6,483.4 271.1,483.4 271.7,483.2 272.2,483.1 272.8,482.4 273.3,483.4 273.8,482.6 274.4,482.9 274.9,482.7 275.5,481.8 276,481.7 276.6,481.7 277.1,482.2 277.6,482.7 278.2,482.2 278.7,482.5 279.3,481.7 279.8,482.0 280.4,481.9 280.9,482.1 281.4,481.8 282,482.1 282.5,482.3 283.1,481.9 283.6,481.7 284.2,481.8 284.7,481.5 285.2,481.4 285.8,482.0 286.3,481.8 286.9,481.2 287.4,481.6 288,481.9 288.5,482.0 289,481.9 289.6,482.0 290.1,481.6 290.7,481.7 291.2,481.6 291.8,482.0 292.3,482.0 292.8,482.2 293.4,482.0 293.9,481.3 294.5,481.0 295,481.0 295.6,481.2 296.1,481.7 296.7,481.0 297.2,480.8 297.7,481.4 298.3,481.7 298.8,481.7 299.4,482.0 299.9,481.4 300.5,481.3 301,481.4 301.5,481.0 302.1,481.2 302.6,481.9 303.2,482.1 303.7,481.9 304.3,481.6 304.8,481.4 305.3,481.5 305.9,480.7 306.4,481.5 307,481.6 307.5,481.3 308.1,481.4 308.6,480.8 309.1,481.6 309.7,481.6 310.2,480.3 310.8,481.1 311.3,481.4 311.9,481.9 312.4,481.0" fill="none" stroke="#0072bd" stroke-width="1.4" stroke-linejoin="round"/>
<polyline points="41.4,528.1 41.8,526.8 42.2,525.8 42.6,526.4 43,525.5 43.3,525.2 43.7,523.8 44.1,523.5 44.5,523.8 44.9,523.1 45.3,523.4 45.7,521.6 46.1,522.5 46.4,522.1 46.8,521.4 47.2,521.4 47.6,520.5 48,519.9 48.4,519.8 48.8,518.5 49.2,519.2 49.5,519.5 49.9,517.4 50.3,519.0 50.7,517.6 51.1,517.5 51.5,517.5 51.9,517.3 52.3,517.8 52.6,516.2 53,517.4 53.4,515.6 53.8,515.6 54.2,515.3 54.6,513.8 55,513.1 55.4,513.8 55.7,513.8 56.1,513.5 56.5,512.1 56.9,513.4 57.3,511.4 57.7,510.6 58.1,511.7 58.5,511.5 58.8,509.5 59.2,510.8 59.6,508.8 60,509.7 60.4,511.3 60.8,510.3 61.2,509.7 61.6,509.4 61.9,508.0 62.3,508.8 62.7,508.7 63.1,507.3 63.5,508.2 63.9,508.2 64.3,507.7 64.7,507.7 65,507.0 65.4,506.1 65.8,506.8 66.2,505.2 66.6,506.0 67,507.4 67.4,507.6 67.8,506.3 68.2,503.8 68.5,506.6 68.9,505.8 69.3,505.2 69.7,505.7 70.1,505.4 70.5,503.9 70.9,503.6 71.3,505.4 71.6,502.5 72,504.7 72.4,504.3 72.8,504.6 73.2,504.9 73.6,504.5 74,504.6 74.4,503.8 74.7,503.4 75.1,503.6 75.5,502.5 75.9,501.7 76.3,502.3 76.7,500.9 77.1,501.7 77.5,503.6 77.8,502.2 78.2,501.6 78.6,501.0 79,499.9 79.4,500.7 79.8,500.3 80.2,500.9 80.6,500.8 80.9,500.5 81.3,498.8 81.7,501.3 82.1,500.3 82.5,499.9 82.9,499.4 83.3,499.9 83.7,500.3 84,499.7 84.4,498.1 84.8,497.9 85.2,496.9 85.6,498.7 86,499.0 86.4,499.2 86.8,498.1 87.1,498.6 87.5,497.0 87.9,497.9 88.3,497.2 88.7,496.8 89.1,495.8 89.5,498.0 89.9,495.1 90.2,497.2 90.6,495.9 91,496.9 91.4,495.7 91.8,496.5 92.2,495.7 92.6,495.0 93,495.2 93.4,494.2 93.7,495.5 94.1,496.0 94.5,495.3 94.9,494.9 95.3,495.7 95.7,493.6 96.1,494.9 96.5,494.3 96.8,493.8 97.2,494.4 97.6,493.0 98,493.7 98.4,493.9 98.8,492.5 99.2,493.2 99.6,493.6 99.9,493.7 100.3,492.1 100.7,493.4 101.1,492.2 101.5,492.2 101.9,491.7 102.3,492.5 102.7,491.1 103,491.8 103.4,491.5 103.8,491.4 104.2,489.6 104.6,490.7 105,489.9 105.4,490.8 105.8,489.0 106.1,488.6 106.5,488.7 106.9,488.3 107.3,488.2 107.7,487.0 108.1,486.1 108.5,486.9 108.9,487.8 109.2,488.8 109.6,488.6 110,488.4 110.4,489.4 110.8,489.9 111.2,492.4 111.6,491.5 112,490.9 112.3,489.8 112.7,490.9 113.1,491.1 113.5,492.1 113.9,493.7 114.3,492.2 114.7,490.9 115.1,492.8 115.5,491.7 115.8,493.5 116.2,493.5 116.6,492.7 117,491.0 117.4,491.7 117.8,492.5 118.2,490.5 118.6,490.6 118.9,491.1 119.3,491.1 119.7,490.5 120.1,490.5 120.5,490.2 120.9,489.3 121.3,489.5 121.7,489.6 122,488.4 122.4,489.1 122.8,488.8 123.2,488.8 123.6,488.6 124,487.3 124.4,486.9 124.8,488.0 125.1,487.5 125.5,487.7 125.9,487.0 126.3,486.4 126.7,487.5 127.1,487.1 127.5,487.7 127.9,488.1 128.2,488.2 128.6,487.9 129,486.2 129.4,485.2 129.8,486.3 130.2,485.7 130.6,485.6 131,487.2 131.3,485.2 131.7,487.2 132.1,487.3 132.5,488.5 132.9,487.1 133.3,487.8 133.7,485.5 134.1,485.4 134.4,486.6 134.8,484.7 135.2,486.6 135.6,485.3 136,483.9 136.4,486.9 136.8,484.5 137.2,487.3 137.5,483.9 137.9,484.2 138.3,484.8 138.7,484.4 139.1,482.9 139.5,483.9 139.9,483.7 140.3,483.5 140.7,481.6 141,482.2 141.4,482.3 141.8,482.8 142.2,482.1 142.6,481.3 143,480.9 143.4,482.3 143.8,480.3 144.1,480.9 144.5,478.6 144.9,481.6 145.3,480.2 145.7,478.2 146.1,479.9 146.5,480.2 146.9,479.5 147.2,478.8 147.6,479.6 148,478.4 148.4,478.8 148.8,478.8 149.2,479.3 149.6,478.5 150,480.5 150.3,479.4 150.7,478.7 151.1,479.4 151.5,480.0 151.9,479.9 152.3,480.8 152.7,479.6 153.1,479.4 153.4,480.5 153.8,481.3 154.2,479.6 154.6,479.2 155,480.1 155.4,480.7 155.8,480.2 156.2,481.3 156.5,480.5 156.9,482.1 157.3,480.4 157.7,480.8 158.1,481.6 158.5,482.2 158.9,482.6 159.3,481.4 159.6,482.0 160,482.5 160.4,483.3 160.8,481.5 161.2,481.4 161.6,482.8 162,482.4 162.4,483.8 162.7,482.9 163.1,483.3 163.5,482.4 163.9,483.4 164.3,483.9 164.7,482.3 165.1,481.2 165.5,482.5 165.9,481.3 166.2,481.3 166.6,480.3 167,481.3 167.4,479.5 167.8,479.4 168.2,479.5 168.6,479.1 169,477.0 169.3,478.9 169.7,477.2 170.1,477.9 170.5,477.0 170.9,476.9 171.3,476.1 171.7,475.8 172.1,476.7 172.4,476.7 172.8,477.3 173.2,476.8 173.6,475.7 174,477.1 174.4,477.9 174.8,476.8 175.2,476.0 175.5,475.4 175.9,476.2 176.3,475.0 176.7,476.6 177.1,475.6 177.5,475.4 177.9,476.0 178.3,474.8 178.6,474.4 179,475.4 179.4,476.7 179.8,475.0 180.2,476.3 180.6,474.1 181,475.4 181.4,475.9 181.7,476.8 182.1,473.9 182.5,475.2 182.9,474.5 183.3,475.5 183.7,474.7 184.1,475.1 184.5,474.3 184.8,474.4 185.2,475.1 185.6,476.0 186,474.8 186.4,474.6 186.8,474.0 187.2,475.5 187.6,472.6 187.9,472.5 188.3,473.4 188.7,474.3 189.1,474.6 189.5,474.3 189.9,474.5 190.3,473.9 190.7,473.3 191.1,472.7 191.4,473.9 191.8,472.7 192.2,473.8 192.6,474.0 193,472.8 193.4,472.8 193.8,472.6 194.2,473.5 194.5,472.9 194.9,472.3 195.3,473.0 195.7,473.9 196.1,472.8 196.5,472.7 196.9,472.2 197.3,471.7 197.6,472.4 198,472.5 198.4,472.2 198.8,473.3 199.2,472.0 199.6,471.9 200,472.1 200.4,472.2 200.7,470.3 201.1,471.8 201.5,472.4 201.9,470.6 202.3,471.7 202.7,470.8 203.1,470.3 203.5,471.2 203.8,470.8 204.2,469.0 204.6,470.1 205,471.1 205.4,469.9 205.8,469.8 206.2,470.0 206.6,469.8 206.9,470.7 207.3,469.4 207.7,469.1 208.1,470.4 208.5,470.7 208.9,470.5 209.3,470.5 209.7,469.2 210,468.4 210.4,468.9 210.8,469.4 211.2,468.1 211.6,469.0 212,469.7 212.4,468.6 212.8,470.7 213.1,469.7 213.5,468.0 213.9,467.9 214.3,468.1 214.7,469.1 215.1,468.9 215.5,468.0 215.9,468.4 216.3,468.8 216.6,468.6 217,466.9 217.4,467.2 217.8,467.2 218.2,466.5 218.6,468.4 219,467.1 219.4,467.0 219.7,466.7 220.1,467.5 220.5,467.8 220.9,467.9 221.3,468.4 221.7,466.7 222.1,468.8 222.5,469.5 222.8,467.1 223.2,467.6 223.6,468.5 224,469.1 224.4,468.1 224.8,467.7 225.2,470.1 225.6,468.1 225.9,466.4 226.3,469.1 226.7,469.7 227.1,470.1 227.5,470.2 227.9,471.4 228.3,468.6 228.7,468.3 229,468.1 229.4,470.7 229.8,469.1 230.2,468.2 230.6,468.0 231,469.8 231.4,469.3 231.8,469.9 232.1,469.1 232.5,469.2 232.9,470.2 233.3,469.8 233.7,470.5 234.1,470.0 234.5,469.9 234.9,470.6 235.2,470.2 235.6,470.7 236,470.9 236.4,470.3 236.8,470.8 237.2,471.2 237.6,471.7 238,471.4 238.3,471.3 238.7,471.6 239.1,470.9 239.5,471.4 239.9,470.5 240.3,469.7 240.7,471.4 241.1,469.3 241.5,470.7 241.8,472.1 242.2,471.4 242.6,469.9 243,471.2 243.4,470.8 243.8,469.8 244.2,470.3 244.6,469.9 244.9,470.1 245.3,470.4 245.7,468.9 246.1,470.8 246.5,471.7 246.9,470.0 247.3,469.2 247.7,469.6 248,470.9 248.4,469.5 248.8,470.2 249.2,471.6 249.6,469.2 250,469.8 250.4,469.1 250.8,469.3 251.1,469.6 251.5,468.9 251.9,469.8 252.3,469.5 252.7,470.2 253.1,469.9 253.5,469.7 253.9,470.4 254.2,469.0 254.6,469.6 255,468.4 255.4,470.0 255.8,468.2 256.2,469.5 256.6,468.2 257,469.0 257.3,467.9 257.7,468.1 258.1,468.1 258.5,469.3 258.9,469.6 259.3,469.9 259.7,469.7 260.1,469.4 260.4,470.3 260.8,471.1 261.2,469.7 261.6,469.5 262,470.7 262.4,472.0 262.8,470.5 263.2,470.4 263.6,469.9 263.9,470.2 264.3,470.1 264.7,470.3 265.1,472.0 265.5,472.3 265.9,471.5 266.3,471.5 266.7,472.2 267,471.8 267.4,472.2 267.8,472.7 268.2,472.4 268.6,473.6 269,475.2 269.4,472.7 269.8,473.0 270.1,472.3 270.5,472.7 270.9,473.3 271.3,473.7 271.7,473.5 272.1,472.8 272.5,474.2 272.9,473.6 273.2,474.5 273.6,474.1 274,474.3 274.4,474.4 274.8,473.0 275.2,475.8 275.6,474.2 276,475.3 276.3,475.6 276.7,474.8 277.1,474.2 277.5,475.9 277.9,474.8 278.3,475.5 278.7,476.0 279.1,475.2 279.4,474.4 279.8,475.3 280.2,476.3 280.6,475.4 281,476.9 281.4,475.2 281.8,475.8 282.2,475.3 282.5,476.0 282.9,478.0 283.3,477.3 283.7,476.8 284.1,476.6 284.5,478.0 284.9,477.2 285.3,476.5 285.6,478.7 286,476.6 286.4,477.8 286.8,478.3 287.2,478.6 287.6,479.6 288,478.8 288.4,477.7 288.8,479.3 289.1,478.7 289.5,477.5 289.9,477.7 290.3,478.1 290.7,477.1 291.1,479.3 291.5,479.4 291.9,479.4 292.2,478.3 292.6,478.8 293,479.8 293.4,479.1 293.8,478.6 294.2,477.9 294.6,478.4 295,479.3 295.3,478.2 295.7,479.9 296.1,479.8 296.5,478.3 296.9,476.3 297.3,477.3 297.7,478.4 298.1,476.7 298.4,476.6 298.8,477.2 299.2,479.1 299.6,476.6 300,475.2 300.4,476.9 300.8,476.8 301.2,477.0 301.5,476.3 301.9,476.5 302.3,475.8 302.7,476.9 303.1,476.0 303.5,476.3 303.9,475.2 304.3,476.7 304.6,475.7 305,475.1 305.4,475.5 305.8,474.5 306.2,474.8 306.6,475.9 307,475.9 307.4,476.2 307.7,476.2 308.1,475.5 308.5,476.0 308.9,477.6 309.3,476.2 309.7,475.2 310.1,476.6 310.5,476.5 310.8,476.9 311.2,477.1 311.6,476.4 312,477.8 312.4,477.5" fill="none" stroke="#77ac30" stroke-width="1.4" stroke-linejoin="round"/>
<polyline points="41.4,502.0 41.7,498.6 41.9,498.5 42.2,500.3 42.5,498.5 42.8,494.8 43,491.1 43.3,491.6 43.6,485.8 43.8,483.3 44.1,482.9 44.4,482.4 44.7,477.5 44.9,478.1 45.2,481.4 45.5,476.2 45.7,474.2 46,472.2 46.3,473.2 46.6,471.7 46.8,469.9 47.1,468.7 47.4,464.0 47.6,464.6 47.9,466.0 48.2,464.9 48.5,464.7 48.7,463.2 49,466.6 49.3,464.1 49.5,458.6 49.8,461.1 50.1,459.2 50.4,457.4 50.6,456.4 50.9,457.1 51.2,459.6 51.4,454.4 51.7,454.6 52,454.3 52.3,450.8 52.5,454.1 52.8,452.3 53.1,454.2 53.3,454.4 53.6,457.0 53.9,452.8 54.1,452.7 54.4,454.6 54.7,457.0 55,453.2 55.2,453.7 55.5,453.7 55.8,453.5 56,451.3 56.3,450.7 56.6,450.7 56.9,451.1 57.1,452.1 57.4,449.7 57.7,449.6 57.9,450.9 58.2,450.6 58.5,451.0 58.8,448.4 59,454.5 59.3,450.4 59.6,450.3 59.8,449.0 60.1,451.6 60.4,452.8 60.7,450.8 60.9,450.6 61.2,450.3 61.5,455.1 61.7,451.8 62,450.0 62.3,451.0 62.6,452.9 62.8,451.1 63.1,451.5 63.4,451.3 63.6,450.6 63.9,451.9 64.2,453.9 64.5,451.5 64.7,449.8 65,448.7 65.3,450.2 65.5,449.2 65.8,448.5 66.1,451.1 66.4,450.4 66.6,451.7 66.9,450.5 67.2,448.6 67.4,451.1 67.7,450.0 68,451.8 68.3,447.2 68.5,448.4 68.8,449.1 69.1,451.9 69.3,449.7 69.6,446.6 69.9,447.0 70.2,449.8 70.4,445.7 70.7,447.2 71,448.1 71.2,447.6 71.5,448.7 71.8,449.5 72.1,448.4 72.3,445.2 72.6,450.0 72.9,449.4 73.1,445.7 73.4,446.6 73.7,444.5 74,449.7 74.2,446.0 74.5,447.6 74.8,447.8 75,449.1 75.3,446.7 75.6,445.7 75.9,447.5 76.1,448.1 76.4,445.0 76.7,445.8 76.9,443.0 77.2,448.4 77.5,444.2 77.8,447.2 78,446.9 78.3,446.6 78.6,446.8 78.8,443.2 79.1,445.0 79.4,443.2 79.6,444.3 79.9,443.1 80.2,449.1 80.5,444.8 80.7,446.3 81,443.0 81.3,447.6 81.5,444.0 81.8,443.8 82.1,443.4 82.4,441.0 82.6,440.0 82.9,444.1 83.2,441.6 83.4,443.2 83.7,447.5 84,442.9 84.3,447.3 84.5,443.9 84.8,441.0 85.1,444.2 85.3,445.3 85.6,444.6 85.9,441.7 86.2,440.9 86.4,444.6 86.7,446.4 87,446.2 87.2,441.9 87.5,442.2 87.8,443.2 88.1,444.9 88.3,443.4 88.6,443.4 88.9,442.4 89.1,437.2 89.4,439.9 89.7,442.5 90,439.0 90.2,445.8 90.5,440.2 90.8,443.1 91,443.7 91.3,444.0 91.6,439.4 91.9,441.3 92.1,444.4 92.4,441.4 92.7,442.9 92.9,436.5 93.2,441.9 93.5,441.4 93.8,440.9 94,437.7 94.3,439.6 94.6,440.5 94.8,440.1 95.1,438.8 95.4,443.1 95.7,442.7 95.9,440.3 96.2,443.8 96.5,438.5 96.7,441.2 97,443.7 97.3,441.6 97.6,440.1 97.8,441.4 98.1,440.2 98.4,439.3 98.6,438.9 98.9,440.5 99.2,440.2 99.5,441.0 99.7,438.7 100,440.8 100.3,442.3 100.5,439.1 100.8,443.2 101.1,438.7 101.4,438.6 101.6,438.8 101.9,437.5 102.2,436.9 102.4,437.6 102.7,439.3 103,438.1 103.2,442.5 103.5,439.1 103.8,438.7 104.1,438.4 104.3,440.4 104.6,439.8 104.9,440.2 105.1,441.2 105.4,442.6 105.7,437.8 106,440.9 106.2,439.6 106.5,439.9 106.8,438.2 107,440.5 107.3,440.5 107.6,439.9 107.9,437.8 108.1,440.5 108.4,437.3 108.7,436.2 108.9,440.8 109.2,438.8 109.5,436.0 109.8,437.6 110,439.0 110.3,440.9 110.6,438.5 110.8,437.4 111.1,437.0 111.4,436.5 111.7,438.8 111.9,437.4 112.2,440.2 112.5,437.4 112.7,440.9 113,438.4 113.3,438.8 113.6,438.4 113.8,438.3 114.1,441.7 114.4,437.1 114.6,437.5 114.9,437.9 115.2,439.6 115.5,436.4 115.7,441.1 116,436.5 116.3,437.3 116.5,438.5 116.8,438.8 117.1,436.8 117.4,440.2 117.6,442.1 117.9,438.5 118.2,439.9 118.4,439.8 118.7,443.5 119,438.9 119.3,439.4 119.5,438.0 119.8,439.2 120.1,438.0 120.3,437.9 120.6,438.2 120.9,440.3 121.2,438.1 121.4,440.4 121.7,438.3 122,440.9 122.2,436.5 122.5,436.7 122.8,440.0 123.1,441.7 123.3,437.8 123.6,434.6 123.9,440.8 124.1,439.5 124.4,437.2 124.7,441.2 125,441.3 125.2,437.4 125.5,437.7 125.8,439.6 126,439.5 126.3,440.9 126.6,439.2 126.9,441.9 127.1,437.4 127.4,436.4 127.7,437.0 127.9,436.7 128.2,437.8 128.5,436.4 128.7,439.4 129,440.2 129.3,441.0 129.6,436.8 129.8,435.3 130.1,436.8 130.4,437.6 130.6,436.6 130.9,438.4 131.2,438.4 131.5,438.1 131.7,435.7 132,438.9 132.3,435.6 132.5,432.5 132.8,436.8 133.1,439.3 133.4,436.8 133.6,433.6 133.9,436.1 134.2,439.1 134.4,437.1 134.7,436.6 135,434.5 135.3,436.8 135.5,435.5 135.8,439.5 136.1,437.2 136.3,438.1 136.6,433.5 136.9,436.7 137.2,438.2 137.4,439.9 137.7,439.2 138,435.3 138.2,442.3 138.5,436.5 138.8,436.2 139.1,436.1 139.3,434.5 139.6,436.0 139.9,435.3 140.1,435.6 140.4,435.1 140.7,435.9 141,437.8 141.2,435.2 141.5,434.3 141.8,437.6 142,436.6 142.3,437.9 142.6,434.8 142.9,436.5 143.1,435.1 143.4,434.0 143.7,435.5 143.9,436.1 144.2,436.9 144.5,434.0 144.8,437.8 145,438.4 145.3,437.0 145.6,435.5 145.8,434.8 146.1,438.3 146.4,435.0 146.7,439.0 146.9,433.0 147.2,432.9 147.5,437.3 147.7,434.1 148,438.4 148.3,435.6 148.6,435.4 148.8,436.9 149.1,438.3 149.4,437.9 149.6,435.9 149.9,435.7 150.2,437.9 150.5,435.0 150.7,434.7 151,434.8 151.3,442.8 151.5,439.5 151.8,437.6 152.1,436.0 152.3,437.6 152.6,433.5 152.9,436.0 153.2,438.3 153.4,437.0 153.7,434.5 154,436.6 154.2,436.4 154.5,439.5 154.8,438.7 155.1,437.3 155.3,441.3 155.6,436.1 155.9,439.4 156.1,438.1 156.4,437.1 156.7,436.4 157,438.5 157.2,440.2 157.5,434.1 157.8,437.5 158,439.0 158.3,435.8 158.6,436.0 158.9,440.0 159.1,436.9 159.4,436.7 159.7,438.4 159.9,438.3 160.2,438.9 160.5,438.9 160.8,440.6 161,438.6 161.3,439.6 161.6,436.4 161.8,438.4 162.1,436.9 162.4,440.9 162.7,438.8 162.9,440.6 163.2,437.9 163.5,436.6 163.7,439.8 164,438.0 164.3,435.6 164.6,437.9 164.8,436.8 165.1,441.1 165.4,438.2 165.6,439.7 165.9,439.4 166.2,440.7 166.5,439.4 166.7,439.6 167,439.4 167.3,436.1 167.5,438.7 167.8,436.3 168.1,436.3 168.4,438.6 168.6,435.0 168.9,437.9 169.2,440.3 169.4,438.2 169.7,439.8 170,436.4 170.3,438.4 170.5,433.4 170.8,436.4 171.1,437.3 171.3,442.0 171.6,442.5 171.9,435.0 172.2,438.1 172.4,437.4 172.7,441.9 173,440.6 173.2,438.2 173.5,440.5 173.8,441.4 174.1,437.8 174.3,441.0 174.6,440.1 174.9,440.6 175.1,435.8 175.4,438.9 175.7,434.6 176,439.7 176.2,437.7 176.5,441.9 176.8,442.1 177,436.2 177.3,442.5 177.6,438.5 177.8,441.4 178.1,439.9 178.4,438.9 178.7,439.1 178.9,438.7 179.2,442.4 179.5,439.8 179.7,437.7 180,441.2 180.3,438.9 180.6,440.7 180.8,438.2 181.1,440.3 181.4,437.7 181.6,438.0 181.9,440.1 182.2,441.3 182.5,439.9 182.7,439.6 183,444.9 183.3,439.6 183.5,435.0 183.8,441.2 184.1,439.1 184.4,437.2 184.6,442.1 184.9,441.8 185.2,439.5 185.4,439.3 185.7,440.3 186,442.4 186.3,438.6 186.5,443.0 186.8,440.9 187.1,441.3 187.3,443.5 187.6,439.8 187.9,441.4 188.2,440.2 188.4,434.2 188.7,439.5 189,439.8 189.2,439.4 189.5,442.1 189.8,438.5 190.1,440.5 190.3,439.9 190.6,439.9 190.9,435.6 191.1,437.9 191.4,437.7 191.7,441.6 192,437.6 192.2,439.3 192.5,438.4 192.8,435.1 193,435.6 193.3,438.2 193.6,439.0 193.9,440.7 194.1,436.8 194.4,434.7 194.7,437.1 194.9,434.5 195.2,439.9 195.5,436.6 195.8,437.1 196,440.7 196.3,437.6 196.6,434.2 196.8,437.4 197.1,435.3 197.4,434.0 197.7,434.7 197.9,433.5 198.2,437.1 198.5,434.3 198.7,435.1 199,437.8 199.3,435.3 199.6,434.6 199.8,435.7 200.1,434.3 200.4,435.7 200.6,435.1 200.9,437.1 201.2,434.6 201.5,433.7 201.7,434.5 202,431.0 202.3,434.9 202.5,436.7 202.8,438.9 203.1,435.9 203.3,437.7 203.6,431.6 203.9,437.8 204.2,435.8 204.4,437.3 204.7,433.9 205,435.7 205.2,435.3 205.5,434.0 205.8,434.6 206.1,437.6 206.3,431.8 206.6,434.2 206.9,435.8 207.1,437.7 207.4,433.0 207.7,432.5 208,431.3 208.2,436.0 208.5,434.9 208.8,435.2 209,435.0 209.3,431.7 209.6,437.1 209.9,436.7 210.1,432.3 210.4,433.4 210.7,433.0 210.9,433.2 211.2,438.3 211.5,436.5 211.8,432.5 212,438.4 212.3,435.5 212.6,434.8 212.8,432.9 213.1,433.0 213.4,434.1 213.7,440.1 213.9,432.4 214.2,433.0 214.5,436.2 214.7,434.9 215,432.9 215.3,439.9 215.6,434.2 215.8,433.4 216.1,434.2 216.4,435.6 216.6,435.9 216.9,436.6 217.2,435.3 217.5,433.8 217.7,437.5 218,434.2 218.3,433.5 218.5,436.1 218.8,437.0 219.1,433.8 219.4,433.7 219.6,434.5 219.9,433.3 220.2,434.0 220.4,436.4 220.7,436.2 221,430.2 221.3,437.8 221.5,437.6 221.8,432.7 222.1,437.7 222.3,432.4 222.6,438.0 222.9,434.1 223.2,436.3 223.4,435.8 223.7,436.6 224,432.8 224.2,438.3 224.5,436.9 224.8,435.7 225.1,437.7 225.3,435.2 225.6,439.3 225.9,438.0 226.1,439.1 226.4,433.7 226.7,435.6 226.9,431.3 227.2,435.3 227.5,433.3 227.8,433.2 228,436.7 228.3,434.8 228.6,437.1 228.8,432.9 229.1,433.6 229.4,435.5 229.7,430.4 229.9,432.6 230.2,434.4 230.5,430.6 230.7,435.2 231,432.2 231.3,435.8 231.6,433.0 231.8,437.3 232.1,430.9 232.4,436.7 232.6,431.3 232.9,437.0 233.2,434.0 233.5,430.4 233.7,435.5 234,433.1 234.3,433.9 234.5,434.0 234.8,435.7 235.1,433.3 235.4,435.2 235.6,432.0 235.9,432.8 236.2,434.8 236.4,436.3 236.7,434.0 237,433.4 237.3,434.6 237.5,434.8 237.8,431.8 238.1,439.6 238.3,433.0 238.6,431.2 238.9,433.6 239.2,434.4 239.4,433.5 239.7,432.2 240,433.4 240.2,434.5 240.5,432.1 240.8,431.6 241.1,433.7 241.3,433.6 241.6,431.1 241.9,438.2 242.1,435.3 242.4,436.8 242.7,435.5 243,430.5 243.2,437.3 243.5,429.9 243.8,431.2 244,433.8 244.3,431.9 244.6,434.7 244.9,434.9 245.1,432.9 245.4,436.4 245.7,429.9 245.9,434.1 246.2,434.5 246.5,436.9 246.8,434.7 247,429.7 247.3,434.0 247.6,432.1 247.8,433.1 248.1,433.6 248.4,435.0 248.7,431.6 248.9,433.6 249.2,434.6 249.5,434.2 249.7,434.3 250,429.6 250.3,433.6 250.6,434.9 250.8,432.0 251.1,433.7 251.4,432.0 251.6,434.1 251.9,433.3 252.2,431.1 252.4,433.7 252.7,433.4 253,430.0 253.3,432.1 253.5,432.0 253.8,430.1 254.1,434.7 254.3,431.2 254.6,432.7 254.9,428.3 255.2,432.1 255.4,429.8 255.7,433.1 256,431.9 256.2,434.3 256.5,435.7 256.8,428.8 257.1,432.4 257.3,431.8 257.6,430.9 257.9,430.3 258.1,431.6 258.4,432.9 258.7,432.8 259,433.8 259.2,431.7 259.5,433.7 259.8,433.0 260,433.8 260.3,433.7 260.6,433.1 260.9,433.7 261.1,430.4 261.4,427.6 261.7,429.1 261.9,432.5 262.2,431.5 262.5,430.6 262.8,434.2 263,433.1 263.3,434.9 263.6,429.3 263.8,430.4 264.1,432.2 264.4,433.2 264.7,434.2 264.9,432.1 265.2,434.3 265.5,433.8 265.7,431.6 266,434.1 266.3,432.1 266.6,432.1 266.8,429.1 267.1,429.6 267.4,429.8 267.6,431.8 267.9,428.8 268.2,427.5 268.5,430.7 268.7,436.1 269,431.2 269.3,429.1 269.5,430.3 269.8,432.1 270.1,433.3 270.4,431.9 270.6,434.6 270.9,432.7 271.2,429.0 271.4,433.2 271.7,429.7 272,433.3 272.3,431.2 272.5,426.8 272.8,427.0 273.1,430.4 273.3,431.2 273.6,433.0 273.9,431.8 274.2,433.5 274.4,432.0 274.7,430.6 275,428.5 275.2,433.3 275.5,432.6 275.8,432.5 276,428.9 276.3,432.4 276.6,426.4 276.9,431.2 277.1,430.0 277.4,429.9 277.7,423.9 277.9,433.7 278.2,427.3 278.5,428.0 278.8,428.8 279,428.5 279.3,425.9 279.6,431.0 279.8,429.2 280.1,430.1 280.4,426.6 280.7,430.4 280.9,429.7 281.2,432.5 281.5,428.3 281.7,425.6 282,429.8 282.3,430.4 282.6,432.0 282.8,431.2 283.1,428.0 283.4,429.9 283.6,427.5 283.9,431.0 284.2,435.3 284.5,427.6 284.7,426.8 285,426.5 285.3,428.6 285.5,430.1 285.8,428.6 286.1,425.4 286.4,429.5 286.6,430.1 286.9,431.6 287.2,429.8 287.4,425.4 287.7,430.5 288,427.8 288.3,425.6 288.5,428.2 288.8,428.6 289.1,429.0 289.3,426.7 289.6,427.4 289.9,428.5 290.2,429.1 290.4,429.2 290.7,425.7 291,430.3 291.2,425.4 291.5,428.9 291.8,428.1 292.1,422.5 292.3,426.5 292.6,428.0 292.9,428.7 293.1,427.5 293.4,428.8 293.7,427.7 294,427.4 294.2,429.8 294.5,435.8 294.8,427.0 295,427.4 295.3,429.0 295.6,426.3 295.9,429.4 296.1,427.7 296.4,431.5 296.7,425.4 296.9,427.9 297.2,425.8 297.5,428.5 297.8,426.4 298,425.3 298.3,426.1 298.6,426.7 298.8,428.3 299.1,426.4 299.4,429.7 299.7,427.9 299.9,428.1 300.2,427.8 300.5,428.6 300.7,432.1 301,426.7 301.3,428.5 301.5,429.0 301.8,429.5 302.1,427.5 302.4,424.2 302.6,430.1 302.9,430.1 303.2,430.7 303.4,430.0 303.7,426.7 304,431.7 304.3,428.4 304.5,429.9 304.8,433.2 305.1,431.6 305.3,427.6 305.6,429.5 305.9,432.2 306.2,431.2 306.4,429.1 306.7,426.6 307,427.4 307.2,428.6 307.5,429.7 307.8,431.9 308.1,431.5 308.3,425.7 308.6,428.3 308.9,427.6 309.1,428.0 309.4,430.5 309.7,429.3 310,427.3 310.2,432.7 310.5,428.3 310.8,427.6 311,428.8 311.3,433.6 311.6,431.6 311.9,428.7 312.1,430.7 312.4,428.2" fill="none" stroke="#8e2b93" stroke-width="1.6" stroke-linejoin="round"/>
<polyline points="41.4,505.6 41.7,505.5 41.9,507.0 42.2,502.2 42.5,501.0 42.8,495.6 43,498.7 43.3,495.9 43.6,497.6 43.8,494.9 44.1,495.3 44.4,489.3 44.7,491.2 44.9,490.2 45.2,486.3 45.5,488.0 45.7,481.6 46,483.3 46.3,480.5 46.6,481.5 46.8,474.4 47.1,478.3 47.4,478.3 47.6,471.2 47.9,473.2 48.2,467.8 48.5,469.4 48.7,467.9 49,461.5 49.3,465.0 49.5,459.8 49.8,458.1 50.1,457.6 50.4,456.1 50.6,452.5 50.9,451.7 51.2,450.0 51.4,444.7 51.7,445.6 52,443.5 52.3,441.3 52.5,441.3 52.8,437.9 53.1,434.4 53.3,437.9 53.6,436.5 53.9,434.7 54.1,432.7 54.4,436.9 54.7,431.7 55,428.5 55.2,430.2 55.5,429.6 55.8,425.0 56,428.1 56.3,422.0 56.6,424.4 56.9,425.9 57.1,425.4 57.4,423.1 57.7,422.9 57.9,418.9 58.2,419.9 58.5,420.4 58.8,414.9 59,418.2 59.3,418.3 59.6,418.5 59.8,417.1 60.1,416.8 60.4,415.7 60.7,411.5 60.9,410.7 61.2,410.8 61.5,409.2 61.7,412.8 62,414.1 62.3,412.9 62.6,410.4 62.8,411.6 63.1,409.1 63.4,409.6 63.6,410.5 63.9,405.7 64.2,406.2 64.5,408.0 64.7,412.7 65,408.0 65.3,408.1 65.5,409.0 65.8,405.1 66.1,401.8 66.4,403.3 66.6,403.3 66.9,408.2 67.2,403.9 67.4,403.6 67.7,403.2 68,402.8 68.3,402.8 68.5,402.8 68.8,404.7 69.1,402.6 69.3,399.1 69.6,403.2 69.9,402.4 70.2,400.3 70.4,401.1 70.7,398.7 71,403.9 71.2,401.3 71.5,399.3 71.8,396.8 72.1,399.3 72.3,398.8 72.6,397.2 72.9,396.0 73.1,400.0 73.4,395.0 73.7,397.0 74,397.1 74.2,392.1 74.5,394.2 74.8,395.1 75,392.8 75.3,389.3 75.6,392.9 75.9,395.3 76.1,391.8 76.4,390.9 76.7,388.4 76.9,389.4 77.2,390.5 77.5,386.8 77.8,387.3 78,388.9 78.3,388.6 78.6,388.6 78.8,388.1 79.1,390.9 79.4,387.6 79.6,387.5 79.9,385.8 80.2,385.6 80.5,386.7 80.7,391.6 81,388.5 81.3,383.6 81.5,389.0 81.8,385.8 82.1,383.2 82.4,386.0 82.6,383.5 82.9,383.9 83.2,383.2 83.4,384.4 83.7,380.6 84,386.0 84.3,387.3 84.5,383.6 84.8,383.8 85.1,384.4 85.3,383.1 85.6,382.9 85.9,384.5 86.2,385.0 86.4,382.0 86.7,384.1 87,383.2 87.2,381.2 87.5,382.1 87.8,378.4 88.1,379.6 88.3,382.2 88.6,382.4 88.9,383.0 89.1,383.4 89.4,378.2 89.7,380.5 90,376.4 90.2,379.1 90.5,377.7 90.8,379.3 91,378.0 91.3,378.0 91.6,376.5 91.9,377.4 92.1,379.6 92.4,378.2 92.7,376.3 92.9,372.8 93.2,372.3 93.5,375.2 93.8,375.8 94,376.0 94.3,375.1 94.6,372.7 94.8,370.7 95.1,375.2 95.4,374.2 95.7,375.1 95.9,369.4 96.2,373.4 96.5,373.3 96.7,370.0 97,370.0 97.3,369.6 97.6,369.9 97.8,371.1 98.1,370.3 98.4,373.5 98.6,371.5 98.9,369.4 99.2,370.9 99.5,368.8 99.7,365.9 100,370.5 100.3,368.7 100.5,371.8 100.8,369.1 101.1,371.7 101.4,370.2 101.6,365.5 101.9,371.3 102.2,367.0 102.4,367.5 102.7,365.2 103,366.2 103.2,372.2 103.5,367.5 103.8,360.4 104.1,370.7 104.3,367.7 104.6,366.0 104.9,368.4 105.1,367.9 105.4,365.8 105.7,370.0 106,368.2 106.2,369.3 106.5,367.6 106.8,367.1 107,367.4 107.3,365.1 107.6,365.4 107.9,368.8 108.1,366.8 108.4,368.0 108.7,366.9 108.9,366.1 109.2,368.9 109.5,365.5 109.8,364.8 110,366.6 110.3,368.7 110.6,368.6 110.8,363.8 111.1,363.5 111.4,363.9 111.7,362.5 111.9,364.1 112.2,365.3 112.5,362.6 112.7,359.3 113,358.7 113.3,358.7 113.6,360.4 113.8,361.8 114.1,357.2 114.4,360.5 114.6,360.5 114.9,363.7 115.2,356.3 115.5,358.2 115.7,359.1 116,358.5 116.3,359.3 116.5,358.4 116.8,359.0 117.1,357.0 117.4,356.9 117.6,353.5 117.9,360.7 118.2,354.0 118.4,356.7 118.7,356.6 119,354.6 119.3,353.0 119.5,356.5 119.8,352.6 120.1,357.8 120.3,360.8 120.6,358.0 120.9,350.2 121.2,356.2 121.4,355.4 121.7,354.8 122,356.8 122.2,354.1 122.5,356.0 122.8,353.5 123.1,352.8 123.3,355.8 123.6,356.6 123.9,353.3 124.1,357.5 124.4,354.0 124.7,352.5 125,352.8 125.2,353.0 125.5,355.6 125.8,355.8 126,354.4 126.3,356.9 126.6,352.4 126.9,354.9 127.1,354.4 127.4,349.5 127.7,354.4 127.9,352.7 128.2,356.5 128.5,352.7 128.7,356.2 129,354.6 129.3,350.5 129.6,355.6 129.8,354.7 130.1,354.0 130.4,352.9 130.6,356.9 130.9,352.6 131.2,355.3 131.5,354.2 131.7,352.5 132,351.4 132.3,353.5 132.5,352.7 132.8,350.3 133.1,353.5 133.4,353.7 133.6,352.7 133.9,349.1 134.2,353.6 134.4,351.9 134.7,354.1 135,351.8 135.3,351.1 135.5,352.2 135.8,352.2 136.1,356.4 136.3,349.9 136.6,348.7 136.9,351.3 137.2,351.5 137.4,347.8 137.7,348.0 138,349.4 138.2,350.5 138.5,350.4 138.8,352.4 139.1,350.6 139.3,349.1 139.6,350.2 139.9,350.7 140.1,351.2 140.4,344.0 140.7,349.6 141,349.8 141.2,351.9 141.5,348.1 141.8,348.8 142,345.3 142.3,349.9 142.6,350.1 142.9,346.2 143.1,348.0 143.4,346.8 143.7,349.6 143.9,346.9 144.2,347.6 144.5,347.5 144.8,346.2 145,347.2 145.3,349.9 145.6,346.5 145.8,344.7 146.1,348.4 146.4,349.8 146.7,347.7 146.9,345.9 147.2,345.4 147.5,346.4 147.7,346.9 148,350.0 148.3,348.5 148.6,341.3 148.8,344.5 149.1,345.4 149.4,343.4 149.6,341.4 149.9,340.0 150.2,342.1 150.5,341.8 150.7,340.8 151,337.9 151.3,335.3 151.5,342.0 151.8,336.3 152.1,337.5 152.3,334.5 152.6,338.7 152.9,335.5 153.2,336.6 153.4,341.6 153.7,338.8 154,337.5 154.2,333.4 154.5,338.9 154.8,339.0 155.1,339.6 155.3,338.1 155.6,334.9 155.9,336.3 156.1,339.4 156.4,339.4 156.7,339.0 157,342.3 157.2,340.1 157.5,338.5 157.8,338.6 158,334.6 158.3,337.0 158.6,340.1 158.9,334.9 159.1,339.0 159.4,340.4 159.7,338.0 159.9,339.9 160.2,336.8 160.5,342.3 160.8,338.1 161,334.4 161.3,339.9 161.6,338.1 161.8,342.4 162.1,340.7 162.4,338.6 162.7,342.6 162.9,338.9 163.2,336.9 163.5,341.8 163.7,342.4 164,339.0 164.3,341.7 164.6,343.4 164.8,338.6 165.1,333.7 165.4,341.2 165.6,339.7 165.9,342.2 166.2,340.8 166.5,339.6 166.7,338.4 167,338.1 167.3,339.4 167.5,338.6 167.8,342.2 168.1,342.1 168.4,339.4 168.6,343.1 168.9,339.9 169.2,339.6 169.4,342.2 169.7,341.0 170,339.2 170.3,342.0 170.5,343.6 170.8,337.6 171.1,339.6 171.3,336.0 171.6,340.1 171.9,345.4 172.2,340.9 172.4,340.2 172.7,341.0 173,338.6 173.2,341.1 173.5,340.1 173.8,339.1 174.1,342.4 174.3,340.2 174.6,341.3 174.9,339.4 175.1,341.0 175.4,341.9 175.7,340.8 176,344.2 176.2,341.1 176.5,342.1 176.8,341.2 177,343.6 177.3,340.5 177.6,339.8 177.8,342.1 178.1,341.4 178.4,340.9 178.7,345.5 178.9,342.0 179.2,343.3 179.5,340.5 179.7,341.4 180,342.7 180.3,346.4 180.6,342.7 180.8,344.2 181.1,339.6 181.4,342.5 181.6,343.5 181.9,345.9 182.2,345.2 182.5,340.8 182.7,345.9 183,345.0 183.3,345.2 183.5,341.1 183.8,346.6 184.1,339.2 184.4,342.6 184.6,342.6 184.9,343.6 185.2,342.7 185.4,341.0 185.7,345.1 186,337.9 186.3,340.2 186.5,340.5 186.8,343.2 187.1,341.7 187.3,337.4 187.6,345.2 187.9,340.5 188.2,343.1 188.4,344.7 188.7,339.5 189,340.8 189.2,337.0 189.5,338.5 189.8,343.0 190.1,339.1 190.3,341.4 190.6,339.2 190.9,340.4 191.1,340.3 191.4,343.2 191.7,339.9 192,338.9 192.2,339.6 192.5,337.0 192.8,336.0 193,332.9 193.3,339.4 193.6,338.2 193.9,336.8 194.1,339.2 194.4,337.9 194.7,336.4 194.9,338.5 195.2,338.0 195.5,338.3 195.8,339.0 196,337.3 196.3,337.8 196.6,336.2 196.8,334.2 197.1,335.6 197.4,335.9 197.7,333.8 197.9,335.4 198.2,336.0 198.5,333.4 198.7,334.9 199,335.4 199.3,334.9 199.6,337.4 199.8,332.8 200.1,339.2 200.4,334.0 200.6,338.5 200.9,335.2 201.2,339.0 201.5,335.1 201.7,334.7 202,332.8 202.3,334.2 202.5,336.8 202.8,335.7 203.1,336.0 203.3,335.6 203.6,335.6 203.9,337.2 204.2,336.3 204.4,334.6 204.7,338.5 205,336.1 205.2,336.0 205.5,336.6 205.8,335.3 206.1,335.0 206.3,334.2 206.6,338.4 206.9,333.5 207.1,336.8 207.4,333.1 207.7,333.6 208,338.7 208.2,336.5 208.5,338.0 208.8,336.9 209,336.6 209.3,338.7 209.6,337.7 209.9,339.5 210.1,339.1 210.4,335.4 210.7,335.0 210.9,340.3 211.2,339.8 211.5,336.4 211.8,339.7 212,335.3 212.3,334.8 212.6,340.2 212.8,337.4 213.1,335.6 213.4,336.1 213.7,340.9 213.9,342.0 214.2,338.0 214.5,342.1 214.7,336.4 215,333.1 215.3,338.2 215.6,341.2 215.8,338.9 216.1,337.7 216.4,340.2 216.6,338.2 216.9,339.6 217.2,336.8 217.5,340.7 217.7,337.3 218,337.7 218.3,342.4 218.5,338.9 218.8,342.1 219.1,335.6 219.4,338.3 219.6,339.2 219.9,340.1 220.2,340.9 220.4,339.3 220.7,340.0 221,338.0 221.3,339.9 221.5,339.8 221.8,338.6 222.1,339.8 222.3,337.6 222.6,337.0 222.9,335.5 223.2,336.1 223.4,337.9 223.7,333.1 224,337.5 224.2,335.6 224.5,338.2 224.8,334.3 225.1,336.2 225.3,333.6 225.6,334.6 225.9,336.3 226.1,339.1 226.4,336.5 226.7,335.7 226.9,332.7 227.2,336.2 227.5,333.3 227.8,336.9 228,336.3 228.3,336.6 228.6,329.6 228.8,332.0 229.1,332.9 229.4,333.7 229.7,333.5 229.9,333.5 230.2,334.8 230.5,335.5 230.7,332.7 231,331.1 231.3,333.2 231.6,333.5 231.8,333.2 232.1,330.4 232.4,334.0 232.6,333.5 232.9,333.4 233.2,330.4 233.5,334.3 233.7,332.5 234,333.2 234.3,333.0 234.5,330.1 234.8,331.7 235.1,333.5 235.4,332.1 235.6,332.5 235.9,329.7 236.2,328.8 236.4,331.3 236.7,326.4 237,333.4 237.3,329.8 237.5,334.8 237.8,329.7 238.1,330.7 238.3,328.4 238.6,327.9 238.9,331.2 239.2,331.8 239.4,327.7 239.7,331.6 240,329.2 240.2,328.6 240.5,330.7 240.8,332.5 241.1,329.5 241.3,329.0 241.6,330.6 241.9,328.8 242.1,331.5 242.4,328.9 242.7,329.9 243,326.2 243.2,329.0 243.5,326.9 243.8,333.1 244,328.6 244.3,330.2 244.6,330.3 244.9,329.2 245.1,329.1 245.4,331.5 245.7,332.3 245.9,331.5 246.2,330.5 246.5,328.8 246.8,330.0 247,330.7 247.3,333.3 247.6,330.3 247.8,328.1 248.1,328.0 248.4,329.0 248.7,329.1 248.9,332.5 249.2,330.1 249.5,330.8 249.7,328.1 250,326.5 250.3,334.3 250.6,333.7 250.8,331.0 251.1,331.8 251.4,329.0 251.6,333.4 251.9,337.2 252.2,331.1 252.4,332.4 252.7,333.8 253,331.5 253.3,332.3 253.5,333.5 253.8,331.8 254.1,334.9 254.3,331.5 254.6,334.2 254.9,334.3 255.2,335.6 255.4,333.9 255.7,332.6 256,335.3 256.2,335.9 256.5,338.9 256.8,335.9 257.1,337.5 257.3,335.6 257.6,335.5 257.9,334.6 258.1,332.0 258.4,332.0 258.7,330.9 259,334.2 259.2,337.7 259.5,331.6 259.8,336.2 260,337.8 260.3,334.0 260.6,335.3 260.9,333.0 261.1,331.9 261.4,331.6 261.7,331.6 261.9,333.8 262.2,333.0 262.5,331.0 262.8,334.4 263,332.5 263.3,330.1 263.6,332.5 263.8,334.8 264.1,334.3 264.4,329.5 264.7,332.4 264.9,331.3 265.2,333.6 265.5,334.9 265.7,325.4 266,332.1 266.3,327.5 266.6,330.3 266.8,332.7 267.1,332.4 267.4,328.1 267.6,332.7 267.9,328.4 268.2,329.1 268.5,326.5 268.7,327.9 269,326.7 269.3,330.3 269.5,327.5 269.8,330.8 270.1,327.3 270.4,330.8 270.6,330.4 270.9,328.4 271.2,329.8 271.4,331.3 271.7,331.5 272,327.6 272.3,327.9 272.5,330.1 272.8,333.7 273.1,329.3 273.3,325.4 273.6,326.1 273.9,327.1 274.2,327.9 274.4,324.6 274.7,323.3 275,327.9 275.2,326.6 275.5,327.5 275.8,324.2 276,325.8 276.3,329.3 276.6,326.7 276.9,324.6 277.1,328.3 277.4,326.0 277.7,328.5 277.9,327.5 278.2,326.1 278.5,325.9 278.8,328.4 279,325.5 279.3,327.4 279.6,328.9 279.8,325.0 280.1,324.7 280.4,325.6 280.7,322.5 280.9,325.8 281.2,322.8 281.5,323.4 281.7,321.4 282,326.3 282.3,326.5 282.6,323.8 282.8,324.6 283.1,323.9 283.4,325.0 283.6,326.8 283.9,327.2 284.2,323.1 284.5,323.6 284.7,320.0 285,322.8 285.3,323.4 285.5,318.7 285.8,320.1 286.1,317.6 286.4,319.8 286.6,319.0 286.9,316.9 287.2,315.8 287.4,318.3 287.7,315.5 288,320.2 288.3,317.0 288.5,316.4 288.8,318.4 289.1,318.2 289.3,315.5 289.6,319.1 289.9,318.8 290.2,319.4 290.4,322.4 290.7,318.5 291,319.6 291.2,316.7 291.5,320.9 291.8,318.7 292.1,319.1 292.3,321.0 292.6,321.7 292.9,321.2 293.1,321.8 293.4,321.4 293.7,319.1 294,326.2 294.2,322.3 294.5,323.8 294.8,320.7 295,322.6 295.3,325.1 295.6,323.3 295.9,322.0 296.1,323.0 296.4,323.9 296.7,322.4 296.9,320.9 297.2,325.5 297.5,322.7 297.8,326.5 298,323.2 298.3,319.3 298.6,319.8 298.8,319.9 299.1,322.7 299.4,318.2 299.7,324.1 299.9,319.8 300.2,322.0 300.5,322.5 300.7,318.6 301,319.2 301.3,320.7 301.5,322.5 301.8,322.0 302.1,320.0 302.4,322.5 302.6,320.7 302.9,322.2 303.2,319.0 303.4,324.5 303.7,320.9 304,320.5 304.3,321.3 304.5,322.1 304.8,323.1 305.1,320.5 305.3,318.2 305.6,326.4 305.9,320.8 306.2,324.6 306.4,320.9 306.7,320.3 307,324.4 307.2,319.7 307.5,316.9 307.8,324.5 308.1,324.0 308.3,325.2 308.6,323.8 308.9,321.5 309.1,321.4 309.4,323.2 309.7,324.0 310,323.1 310.2,324.4 310.5,326.2 310.8,324.5 311,326.0 311.3,323.2 311.6,323.0 311.9,322.6 312.1,325.3 312.4,323.2" fill="none" stroke="#f7b000" stroke-width="1.6" stroke-linejoin="round"/>
<rect x="41.5" y="309.9" width="270.9" height="218.3" fill="none" stroke="#262626" stroke-width="1.1"/>
<text x="37.5" y="531.8" font-size="10" font-weight="bold" text-anchor="end" fill="#1e1e1e">0</text>
<text x="37.5" y="504.5" font-size="10" font-weight="bold" text-anchor="end" fill="#1e1e1e">50</text>
<text x="37.5" y="477.2" font-size="10" font-weight="bold" text-anchor="end" fill="#1e1e1e">100</text>
<text x="37.5" y="449.9" font-size="10" font-weight="bold" text-anchor="end" fill="#1e1e1e">150</text>
<text x="37.5" y="422.7" font-size="10" font-weight="bold" text-anchor="end" fill="#1e1e1e">200</text>
<text x="37.5" y="395.4" font-size="10" font-weight="bold" text-anchor="end" fill="#1e1e1e">250</text>
<text x="37.5" y="368.1" font-size="10" font-weight="bold" text-anchor="end" fill="#1e1e1e">300</text>
<text x="37.5" y="340.8" font-size="10" font-weight="bold" text-anchor="end" fill="#1e1e1e">350</text>
<text x="37.5" y="313.5" font-size="10" font-weight="bold" text-anchor="end" fill="#1e1e1e">400</text>
<text x="41.5" y="542.7" font-size="10" font-weight="bold" text-anchor="middle" fill="#1e1e1e">0</text>
<text x="86.6" y="542.7" font-size="10" font-weight="bold" text-anchor="middle" fill="#1e1e1e">50</text>
<text x="131.8" y="542.7" font-size="10" font-weight="bold" text-anchor="middle" fill="#1e1e1e">100</text>
<text x="176.9" y="542.7" font-size="10" font-weight="bold" text-anchor="middle" fill="#1e1e1e">150</text>
<text x="222.1" y="542.7" font-size="10" font-weight="bold" text-anchor="middle" fill="#1e1e1e">200</text>
<text x="267.2" y="542.7" font-size="10" font-weight="bold" text-anchor="middle" fill="#1e1e1e">250</text>
<text x="312.4" y="542.7" font-size="10" font-weight="bold" text-anchor="middle" fill="#1e1e1e">300</text>
<path d="M41.5 528.2h2.7M312.4 528.2h-2.7M41.5 500.9h2.7M312.4 500.9h-2.7M41.5 473.6h2.7M312.4 473.6h-2.7M41.5 446.3h2.7M312.4 446.3h-2.7M41.5 419.1h2.7M312.4 419.1h-2.7M41.5 391.8h2.7M312.4 391.8h-2.7M41.5 364.5h2.7M312.4 364.5h-2.7M41.5 337.2h2.7M312.4 337.2h-2.7M41.5 309.9h2.7M312.4 309.9h-2.7M41.5 528.2v-2.7M41.5 309.9v2.7M86.6 528.2v-2.7M86.6 309.9v2.7M131.8 528.2v-2.7M131.8 309.9v2.7M176.9 528.2v-2.7M176.9 309.9v2.7M222.1 528.2v-2.7M222.1 309.9v2.7M267.2 528.2v-2.7M267.2 309.9v2.7M312.4 528.2v-2.7M312.4 309.9v2.7" stroke="#262626" stroke-width="1"/>
<text x="177.3" y="556.3" font-size="10.3" font-weight="bold" text-anchor="middle" fill="#1e1e1e" textLength="40.5" lengthAdjust="spacingAndGlyphs">Time(ps)</text>
<text x="0" y="0" font-size="9.9" font-weight="bold" text-anchor="middle" fill="#1e1e1e" textLength="100" lengthAdjust="spacingAndGlyphs" transform="translate(16.0 419.3) rotate(-90)">Number of molecules</text>
<rect x="55.1" y="563.6" width="245.1" height="18.6" fill="#fff" stroke="#262626" stroke-width="1.2"/>
<path d="M58.2 573H82.7" stroke="#0072bd" stroke-width="1.4"/>
<text x="85" y="576.9" font-size="10.2" font-weight="bold" fill="#111" textLength="14.9" lengthAdjust="spacingAndGlyphs">CO</text>
<path d="M104.8 573H129.3" stroke="#f05a14" stroke-width="1.4"/>
<text x="131.5" y="576.9" font-size="10.2" font-weight="bold" fill="#111" textLength="20" lengthAdjust="spacingAndGlyphs">CO<tspan font-size="7.5" dy="2.6">2</tspan></text>
<path d="M156.3 573H180.8" stroke="#f7b000" stroke-width="1.4"/>
<text x="182.8" y="576.9" font-size="10.2" font-weight="bold" fill="#111" textLength="20" lengthAdjust="spacingAndGlyphs">H<tspan font-size="7.5" dy="2.6">2</tspan><tspan dy="-2.6">O</tspan></text>
<path d="M207.6 573H232.7" stroke="#8e2b93" stroke-width="1.4"/>
<text x="234.6" y="576.9" font-size="10.2" font-weight="bold" fill="#111" textLength="19.3" lengthAdjust="spacingAndGlyphs">NH<tspan font-size="7.5" dy="2.6">3</tspan></text>
<path d="M258.7 573H283.8" stroke="#77ac30" stroke-width="1.4"/>
<text x="285.7" y="576.9" font-size="10.2" font-weight="bold" fill="#111" textLength="12.1" lengthAdjust="spacingAndGlyphs">H<tspan font-size="7.5" dy="2.6">2</tspan></text>
<text x="324.4" y="299.8" font-size="14" font-weight="bold">(c)</text>
<polyline points="359.9,535.9 360.2,521.2 360.5,503.3 360.7,485.8 361,471.0 361.3,466.9 361.6,464.6 361.9,457.7 362.1,454.0 362.4,449.3 362.7,450.0 363,450.0 363.3,450.2 363.5,451.3 363.8,449.0 364.1,447.5 364.4,448.5 364.7,448.7 364.9,449.4 365.2,450.0 365.5,450.0 365.8,451.9 366.1,450.8 366.3,450.0 366.6,452.1 366.9,456.3 367.2,452.0 367.5,458.2 367.7,453.2 368,455.7 368.3,451.9 368.6,454.8 368.9,457.8 369.1,453.5 369.4,454.7 369.7,456.7 370,456.7 370.3,453.2 370.5,453.5 370.8,456.1 371.1,456.0 371.4,456.8 371.7,455.0 371.9,456.4 372.2,457.2 372.5,452.8 372.8,456.5 373,455.9 373.3,456.8 373.6,453.7 373.9,454.2 374.2,454.3 374.4,453.3 374.7,455.8 375,454.3 375.3,451.9 375.6,454.0 375.8,451.8 376.1,451.3 376.4,452.6 376.7,454.8 377,455.4 377.2,455.3 377.5,456.8 377.8,459.7 378.1,454.8 378.4,457.9 378.6,458.0 378.9,455.9 379.2,457.4 379.5,459.0 379.8,459.1 380,458.0 380.3,461.2 380.6,460.7 380.9,461.8 381.2,463.9 381.4,459.3 381.7,463.7 382,463.2 382.3,461.2 382.6,463.0 382.8,462.8 383.1,462.0 383.4,465.9 383.7,463.5 384,461.7 384.2,467.2 384.5,465.4 384.8,467.3 385.1,467.3 385.4,466.9 385.6,467.1 385.9,463.7 386.2,467.9 386.5,467.1 386.8,470.3 387,468.4 387.3,469.0 387.6,470.8 387.9,468.9 388.2,470.1 388.4,470.9 388.7,473.0 389,470.0 389.3,474.1 389.6,472.9 389.8,472.7 390.1,474.6 390.4,476.3 390.7,477.0 391,473.5 391.2,478.2 391.5,476.3 391.8,478.6 392.1,474.5 392.4,476.2 392.6,476.4 392.9,474.4 393.2,475.9 393.5,478.3 393.8,478.7 394,477.9 394.3,477.4 394.6,476.3 394.9,480.8 395.2,475.0 395.4,475.4 395.7,476.1 396,477.7 396.3,476.6 396.6,478.8 396.8,474.7 397.1,479.0 397.4,480.6 397.7,479.1 398,477.0 398.2,476.5 398.5,479.6 398.8,474.8 399.1,476.5 399.3,475.0 399.6,477.8 399.9,481.4 400.2,477.5 400.5,480.3 400.7,476.5 401,477.4 401.3,477.4 401.6,480.3 401.9,477.0 402.1,477.5 402.4,478.7 402.7,481.5 403,479.0 403.3,482.1 403.5,479.8 403.8,478.7 404.1,481.2 404.4,478.4 404.7,477.9 404.9,479.8 405.2,477.0 405.5,477.7 405.8,478.5 406.1,480.1 406.3,481.9 406.6,482.3 406.9,480.0 407.2,480.8 407.5,480.0 407.7,478.1 408,481.5 408.3,479.6 408.6,482.3 408.9,480.3 409.1,479.5 409.4,481.9 409.7,480.4 410,479.2 410.3,483.4 410.5,482.3 410.8,482.5 411.1,482.1 411.4,481.1 411.7,477.2 411.9,481.3 412.2,481.6 412.5,483.2 412.8,480.2 413.1,483.4 413.3,482.8 413.6,485.5 413.9,481.6 414.2,483.0 414.5,483.6 414.7,484.3 415,485.7 415.3,484.3 415.6,481.2 415.9,486.6 416.1,480.1 416.4,484.8 416.7,486.0 417,482.6 417.3,483.9 417.5,483.9 417.8,482.1 418.1,484.8 418.4,482.5 418.7,484.7 418.9,485.2 419.2,486.2 419.5,486.7 419.8,485.0 420.1,485.2 420.3,484.0 420.6,484.3 420.9,486.0 421.2,485.8 421.5,485.4 421.7,484.6 422,486.5 422.3,482.8 422.6,483.9 422.9,485.2 423.1,486.9 423.4,482.8 423.7,483.0 424,482.8 424.2,486.3 424.5,486.5 424.8,488.0 425.1,489.5 425.4,483.4 425.6,485.3 425.9,484.9 426.2,484.0 426.5,486.0 426.8,485.1 427,486.3 427.3,485.4 427.6,483.6 427.9,487.2 428.2,487.2 428.4,485.5 428.7,482.4 429,482.2 429.3,483.8 429.6,486.9 429.8,487.3 430.1,486.3 430.4,486.3 430.7,481.8 431,487.0 431.2,485.3 431.5,485.9 431.8,484.7 432.1,482.9 432.4,487.7 432.6,487.1 432.9,484.6 433.2,483.7 433.5,485.4 433.8,488.1 434,487.7 434.3,486.8 434.6,488.3 434.9,487.2 435.2,485.1 435.4,487.9 435.7,486.7 436,485.3 436.3,488.8 436.6,487.6 436.8,484.3 437.1,488.2 437.4,487.2 437.7,486.3 438,486.2 438.2,485.1 438.5,484.3 438.8,487.3 439.1,487.6 439.4,486.3 439.6,487.2 439.9,486.1 440.2,486.2 440.5,487.7 440.8,487.6 441,489.3 441.3,485.9 441.6,487.4 441.9,486.4 442.2,487.1 442.4,488.9 442.7,487.4 443,485.3 443.3,485.9 443.6,485.7 443.8,486.4 444.1,485.7 444.4,486.0 444.7,486.6 445,487.4 445.2,485.4 445.5,487.0 445.8,487.0 446.1,488.4 446.4,487.4 446.6,487.9 446.9,487.5 447.2,489.0 447.5,486.8 447.8,484.4 448,487.7 448.3,485.3 448.6,483.2 448.9,487.8 449.1,486.9 449.4,487.3 449.7,487.7 450,486.5 450.3,488.7 450.5,487.0 450.8,486.4 451.1,487.0 451.4,483.5 451.7,488.0 451.9,484.6 452.2,487.9 452.5,487.0 452.8,487.5 453.1,486.1 453.3,490.5 453.6,484.3 453.9,487.7 454.2,486.5 454.5,485.4 454.7,490.8 455,488.8 455.3,492.7 455.6,489.9 455.9,489.6 456.1,489.9 456.4,487.0 456.7,487.0 457,491.8 457.3,490.8 457.5,488.2 457.8,489.7 458.1,490.0 458.4,491.8 458.7,490.5 458.9,488.9 459.2,491.7 459.5,489.6 459.8,491.7 460.1,490.0 460.3,485.7 460.6,494.0 460.9,489.7 461.2,493.2 461.5,492.7 461.7,490.9 462,490.0 462.3,495.5 462.6,492.7 462.9,494.7 463.1,493.1 463.4,494.1 463.7,493.0 464,490.5 464.3,491.5 464.5,493.6 464.8,491.0 465.1,492.7 465.4,493.4 465.7,495.6 465.9,496.7 466.2,490.6 466.5,495.1 466.8,497.7 467.1,492.4 467.3,493.0 467.6,497.0 467.9,495.4 468.2,494.4 468.5,495.8 468.7,496.9 469,496.1 469.3,496.7 469.6,496.7 469.9,497.1 470.1,496.9 470.4,497.5 470.7,496.6 471,498.8 471.3,496.5 471.5,496.3 471.8,495.0 472.1,496.3 472.4,498.0 472.7,497.6 472.9,499.1 473.2,496.3 473.5,497.4 473.8,495.4 474.1,498.3 474.3,500.7 474.6,500.0 474.9,498.8 475.2,500.4 475.4,500.3 475.7,498.6 476,498.7 476.3,499.1 476.6,501.7 476.8,501.9 477.1,501.6 477.4,500.4 477.7,504.1 478,500.5 478.2,501.7 478.5,501.1 478.8,502.5 479.1,497.7 479.4,501.4 479.6,500.0 479.9,500.1 480.2,498.3 480.5,498.6 480.8,501.9 481,501.2 481.3,497.2 481.6,500.0 481.9,498.6 482.2,501.2 482.4,500.0 482.7,500.4 483,498.8 483.3,498.9 483.6,497.7 483.8,496.3 484.1,497.9 484.4,500.9 484.7,501.0 485,497.2 485.2,497.2 485.5,497.4 485.8,497.1 486.1,496.4 486.4,497.3 486.6,499.6 486.9,499.6 487.2,501.2 487.5,498.0 487.8,494.6 488,497.2 488.3,496.3 488.6,497.5 488.9,496.8 489.2,499.7 489.4,496.5 489.7,498.0 490,501.0 490.3,498.0 490.6,495.0 490.8,499.5 491.1,498.7 491.4,499.0 491.7,499.0 492,496.1 492.2,496.1 492.5,498.1 492.8,495.0 493.1,496.4 493.4,499.8 493.6,495.7 493.9,498.4 494.2,499.6 494.5,497.8 494.8,497.1 495,500.1 495.3,495.4 495.6,500.6 495.9,496.1 496.2,497.6 496.4,495.6 496.7,495.6 497,499.2 497.3,497.5 497.6,498.2 497.8,495.1 498.1,496.5 498.4,494.9 498.7,496.9 499,497.7 499.2,497.6 499.5,497.6 499.8,495.6 500.1,497.6 500.3,495.7 500.6,498.7 500.9,496.1 501.2,498.5 501.5,495.7 501.7,497.3 502,496.4 502.3,493.4 502.6,496.9 502.9,494.2 503.1,492.5 503.4,495.7 503.7,497.4 504,496.5 504.3,493.9 504.5,492.3 504.8,490.6 505.1,493.9 505.4,494.0 505.7,494.6 505.9,496.9 506.2,494.2 506.5,492.7 506.8,492.6 507.1,492.9 507.3,493.2 507.6,494.9 507.9,493.7 508.2,494.2 508.5,494.6 508.7,494.8 509,495.5 509.3,496.4 509.6,492.6 509.9,493.8 510.1,494.1 510.4,494.1 510.7,495.7 511,495.6 511.3,493.2 511.5,497.0 511.8,495.0 512.1,495.3 512.4,493.0 512.7,495.3 512.9,493.3 513.2,492.2 513.5,494.1 513.8,492.1 514.1,492.0 514.3,494.6 514.6,495.1 514.9,492.6 515.2,495.3 515.5,495.8 515.7,495.8 516,494.3 516.3,493.1 516.6,496.3 516.9,493.0 517.1,494.5 517.4,495.5 517.7,496.4 518,493.9 518.3,494.1 518.5,494.9 518.8,494.9 519.1,496.9 519.4,497.2 519.7,498.8 519.9,496.0 520.2,497.7 520.5,495.6 520.8,496.6 521.1,500.2 521.3,497.7 521.6,495.2 521.9,497.8 522.2,498.2 522.5,496.4 522.7,500.3 523,501.8 523.3,500.0 523.6,502.9 523.9,498.2 524.1,503.3 524.4,502.1 524.7,506.0 525,502.2 525.2,502.2 525.5,502.2 525.8,501.8 526.1,501.7 526.4,503.5 526.6,502.8 526.9,502.7 527.2,502.8 527.5,501.2 527.8,505.5 528,500.5 528.3,503.7 528.6,501.9 528.9,504.1 529.2,502.0 529.4,504.2 529.7,503.1 530,504.3 530.3,505.8 530.6,502.8 530.8,502.8 531.1,498.4 531.4,502.5 531.7,504.0 532,502.1 532.2,502.6 532.5,502.3 532.8,499.3 533.1,504.0 533.4,501.4 533.6,500.3 533.9,504.2 534.2,503.3 534.5,503.5 534.8,502.9 535,501.5 535.3,504.2 535.6,501.2 535.9,503.1 536.2,501.0 536.4,501.0 536.7,504.2 537,501.4 537.3,505.6 537.6,500.6 537.8,504.7 538.1,502.4 538.4,504.3 538.7,504.2 539,500.0 539.2,504.1 539.5,502.5 539.8,501.5 540.1,504.9 540.4,503.8 540.6,503.8 540.9,505.4 541.2,504.7 541.5,503.2 541.8,501.8 542,505.6 542.3,502.0 542.6,500.3 542.9,506.2 543.2,506.5 543.4,500.2 543.7,503.6 544,500.6 544.3,504.0 544.6,502.0 544.8,500.5 545.1,504.5 545.4,501.4 545.7,503.5 546,501.6 546.2,505.7 546.5,504.7 546.8,502.3 547.1,499.4 547.4,503.6 547.6,501.4 547.9,504.9 548.2,505.5 548.5,502.9 548.8,504.5 549,500.8 549.3,503.9 549.6,505.8 549.9,500.7 550.2,504.4 550.4,503.4 550.7,504.4 551,503.0 551.3,502.7 551.5,504.7 551.8,502.8 552.1,503.6 552.4,500.5 552.7,503.5 552.9,504.1 553.2,502.8 553.5,503.0 553.8,499.6 554.1,501.2 554.3,502.7 554.6,502.5 554.9,506.6 555.2,504.3 555.5,501.1 555.7,506.8 556,500.6 556.3,501.1 556.6,501.8 556.9,503.1 557.1,507.6 557.4,502.8 557.7,504.2 558,500.8 558.3,502.6 558.5,507.7 558.8,505.6 559.1,505.1 559.4,506.2 559.7,504.6 559.9,504.5 560.2,501.8 560.5,501.1 560.8,502.6 561.1,503.2 561.3,502.6 561.6,505.2 561.9,507.0 562.2,503.9 562.5,501.3 562.7,501.9 563,505.9 563.3,505.5 563.6,504.6 563.9,505.3 564.1,506.2 564.4,504.4 564.7,504.8 565,503.8 565.3,501.0 565.5,504.5 565.8,504.3 566.1,505.0 566.4,503.4 566.7,505.1 566.9,505.0 567.2,503.7 567.5,502.6 567.8,503.1 568.1,504.9 568.3,505.9 568.6,507.5 568.9,504.3 569.2,505.4 569.5,506.8 569.7,502.9 570,505.7 570.3,504.0 570.6,504.1 570.9,506.1 571.1,504.5 571.4,505.5 571.7,503.0 572,504.8 572.3,503.5 572.5,504.5 572.8,509.9 573.1,505.1 573.4,504.7 573.7,504.3 573.9,503.5 574.2,508.0 574.5,503.4 574.8,508.7 575.1,504.1 575.3,506.5 575.6,504.5 575.9,503.2 576.2,504.1 576.4,506.7 576.7,504.0 577,500.8 577.3,507.5 577.6,502.8 577.8,503.4 578.1,506.6 578.4,501.1 578.7,503.1 579,505.2 579.2,505.1 579.5,504.8 579.8,502.0 580.1,505.3 580.4,502.9 580.6,503.9 580.9,501.9 581.2,506.5 581.5,502.8 581.8,503.1 582,502.3 582.3,504.0 582.6,500.8 582.9,502.8 583.2,502.5 583.4,505.7 583.7,502.3 584,502.4 584.3,502.9 584.6,504.4 584.8,506.1 585.1,503.3 585.4,503.3 585.7,505.3 586,502.5 586.2,503.0 586.5,501.1 586.8,501.9 587.1,500.7 587.4,505.9 587.6,503.3 587.9,503.0 588.2,499.9 588.5,501.8 588.8,500.4 589,500.3 589.3,499.1 589.6,500.3 589.9,506.2 590.2,500.3 590.4,502.5 590.7,503.1 591,502.3 591.3,502.8 591.6,499.5 591.8,504.1 592.1,505.2 592.4,501.5 592.7,500.1 593,499.8 593.2,498.9 593.5,502.3 593.8,502.7 594.1,504.4 594.4,498.9 594.6,502.9 594.9,502.6 595.2,500.9 595.5,499.8 595.8,501.9 596,505.3 596.3,498.9 596.6,500.1 596.9,500.1 597.2,500.8 597.4,503.1 597.7,500.3 598,497.0 598.3,498.7 598.6,498.7 598.8,501.4 599.1,501.2 599.4,498.8 599.7,502.2 600,497.8 600.2,500.9 600.5,503.8 600.8,498.6 601.1,502.5 601.3,503.4 601.6,500.8 601.9,502.1 602.2,499.1 602.5,502.5 602.7,499.8 603,501.1 603.3,502.9 603.6,501.6 603.9,500.3 604.1,502.4 604.4,501.9 604.7,501.0 605,499.1 605.3,502.4 605.5,504.4 605.8,501.8 606.1,501.9 606.4,502.2 606.7,504.0 606.9,500.7 607.2,505.0 607.5,507.4 607.8,504.8 608.1,504.2 608.3,505.1 608.6,505.3 608.9,503.9 609.2,504.3 609.5,504.2 609.7,505.6 610,508.2 610.3,505.3 610.6,508.8 610.9,503.8 611.1,506.8 611.4,504.3 611.7,505.8 612,505.5 612.3,502.3 612.5,505.3 612.8,506.5 613.1,506.4 613.4,503.3 613.7,503.5 613.9,507.4 614.2,504.5 614.5,510.0 614.8,507.0 615.1,507.2 615.3,506.3 615.6,505.3 615.9,507.3 616.2,506.5 616.5,509.8 616.7,507.4 617,507.6 617.3,509.2 617.6,509.0 617.9,503.8 618.1,511.0 618.4,504.7 618.7,505.7 619,507.3 619.3,506.6 619.5,511.3 619.8,507.9 620.1,505.9 620.4,507.3 620.7,506.6 620.9,506.8 621.2,508.8 621.5,509.1 621.8,507.9 622.1,505.9 622.3,507.0 622.6,509.9 622.9,509.1 623.2,507.7 623.5,509.7 623.7,504.9 624,507.0 624.3,508.3 624.6,508.9 624.9,510.3 625.1,508.7 625.4,509.1 625.7,508.9 626,506.7 626.3,508.3 626.5,511.2 626.8,510.0 627.1,508.2 627.4,508.9 627.6,512.0 627.9,511.8 628.2,512.5 628.5,511.5 628.8,509.0 629,508.8 629.3,506.3 629.6,511.6 629.9,511.6 630.2,513.4 630.4,508.2 630.7,512.7 631,510.7 631.3,510.0 631.6,510.2 631.8,507.6 632.1,509.4 632.4,507.7 632.7,508.5 633,509.8 633.2,508.3 633.5,510.2 633.8,507.5 634.1,507.5 634.4,507.4 634.6,508.7 634.9,508.6 635.2,509.9 635.5,507.4 635.8,506.7 636,508.4 636.3,511.0 636.6,509.4 636.9,504.5 637.2,508.0 637.4,506.9 637.7,507.2 638,508.9 638.3,507.5 638.6,507.2 638.8,504.4 639.1,506.9 639.4,505.8" fill="none" stroke="#f05a14" stroke-width="1.6" stroke-linejoin="round"/>
<polyline points="359.9,534.2 360.2,533.8 360.4,529.6 360.7,525.3 360.9,519.8 361.2,522.2 361.4,516.1 361.7,511.6 361.9,511.8 362.2,513.3 362.4,500.5 362.7,502.0 363,503.1 363.2,500.3 363.5,490.5 363.7,489.5 364,483.6 364.2,486.3 364.5,480.3 364.7,479.4 365,483.4 365.2,475.7 365.5,473.3 365.7,476.6 366,476.0 366.3,474.9 366.5,476.3 366.8,470.6 367,470.9 367.3,471.8 367.5,468.6 367.8,472.4 368,470.8 368.3,467.9 368.5,466.5 368.8,466.5 369.1,466.5 369.3,460.0 369.6,461.0 369.8,461.6 370.1,460.9 370.3,461.1 370.6,460.9 370.8,462.4 371.1,461.2 371.3,462.7 371.6,462.4 371.9,461.4 372.1,460.3 372.4,459.3 372.6,462.9 372.9,459.5 373.1,461.0 373.4,462.2 373.6,460.3 373.9,455.6 374.1,457.4 374.4,463.7 374.7,454.6 374.9,461.9 375.2,456.1 375.4,459.1 375.7,461.6 375.9,456.5 376.2,461.5 376.4,453.5 376.7,458.7 376.9,457.6 377.2,460.3 377.4,461.4 377.7,462.5 378,462.6 378.2,458.9 378.5,457.8 378.7,461.3 379,458.9 379.2,455.1 379.5,455.0 379.7,459.4 380,459.5 380.2,460.9 380.5,461.3 380.8,456.9 381,461.5 381.3,458.1 381.5,462.1 381.8,460.9 382,465.1 382.3,462.1 382.5,460.0 382.8,460.8 383,461.7 383.3,463.1 383.6,463.8 383.8,459.8 384.1,459.6 384.3,464.0 384.6,462.3 384.8,465.0 385.1,463.5 385.3,466.6 385.6,463.9 385.8,459.3 386.1,461.4 386.3,463.8 386.6,459.8 386.9,462.6 387.1,464.3 387.4,465.5 387.6,464.9 387.9,459.0 388.1,465.9 388.4,460.8 388.6,463.2 388.9,460.9 389.1,465.4 389.4,462.9 389.7,463.6 389.9,464.0 390.2,462.7 390.4,461.2 390.7,466.3 390.9,464.2 391.2,464.7 391.4,458.4 391.7,457.7 391.9,466.8 392.2,464.4 392.5,458.2 392.7,463.6 393,462.7 393.2,460.0 393.5,461.3 393.7,466.9 394,460.6 394.2,463.5 394.5,460.3 394.7,458.6 395,468.5 395.3,464.1 395.5,461.3 395.8,461.6 396,461.9 396.3,460.0 396.5,463.8 396.8,464.4 397,461.9 397.3,462.9 397.5,460.1 397.8,464.1 398,458.6 398.3,463.5 398.6,467.5 398.8,463.3 399.1,470.8 399.3,461.4 399.6,463.7 399.8,464.5 400.1,466.9 400.3,467.8 400.6,465.3 400.8,461.2 401.1,468.6 401.4,466.7 401.6,467.2 401.9,461.4 402.1,466.7 402.4,465.1 402.6,468.1 402.9,470.3 403.1,464.0 403.4,466.0 403.6,466.5 403.9,464.6 404.2,467.9 404.4,468.0 404.7,464.7 404.9,464.8 405.2,467.7 405.4,462.8 405.7,468.0 405.9,469.4 406.2,469.4 406.4,465.2 406.7,472.0 406.9,472.8 407.2,465.3 407.5,472.4 407.7,471.5 408,470.6 408.2,466.6 408.5,471.2 408.7,465.8 409,468.4 409.2,470.0 409.5,469.1 409.7,466.9 410,468.4 410.3,467.0 410.5,467.7 410.8,465.0 411,463.9 411.3,465.2 411.5,463.2 411.8,468.8 412,472.1 412.3,467.3 412.5,468.3 412.8,462.7 413.1,464.8 413.3,462.2 413.6,466.3 413.8,464.7 414.1,461.8 414.3,467.4 414.6,463.7 414.8,465.4 415.1,465.4 415.3,466.5 415.6,466.1 415.9,462.8 416.1,462.0 416.4,460.8 416.6,459.5 416.9,466.1 417.1,460.4 417.4,464.9 417.6,459.3 417.9,459.4 418.1,463.2 418.4,460.2 418.6,458.3 418.9,463.9 419.2,456.7 419.4,457.7 419.7,461.1 419.9,462.8 420.2,458.9 420.4,456.7 420.7,464.0 420.9,458.4 421.2,456.7 421.4,458.3 421.7,460.6 422,450.8 422.2,455.3 422.5,459.8 422.7,459.5 423,458.5 423.2,458.3 423.5,460.2 423.7,461.5 424,457.7 424.2,458.2 424.5,461.2 424.8,458.8 425,456.6 425.3,459.6 425.5,457.5 425.8,461.9 426,462.7 426.3,459.2 426.5,460.6 426.8,462.1 427,464.5 427.3,464.1 427.5,462.6 427.8,463.1 428.1,465.8 428.3,464.4 428.6,464.2 428.8,460.6 429.1,463.7 429.3,464.6 429.6,464.0 429.8,461.7 430.1,460.1 430.3,466.1 430.6,466.3 430.9,465.2 431.1,462.9 431.4,464.2 431.6,465.3 431.9,467.3 432.1,466.0 432.4,464.1 432.6,464.9 432.9,463.4 433.1,470.6 433.4,464.5 433.7,469.5 433.9,466.7 434.2,470.2 434.4,463.2 434.7,467.5 434.9,463.4 435.2,463.4 435.4,463.6 435.7,462.0 435.9,462.8 436.2,464.2 436.5,468.6 436.7,463.5 437,460.6 437.2,465.6 437.5,467.3 437.7,457.7 438,464.8 438.2,460.2 438.5,459.2 438.7,465.1 439,466.9 439.2,467.7 439.5,463.3 439.8,462.2 440,463.5 440.3,464.4 440.5,465.1 440.8,466.2 441,463.8 441.3,464.2 441.5,463.2 441.8,460.7 442,463.5 442.3,466.0 442.6,464.3 442.8,457.2 443.1,466.0 443.3,460.1 443.6,467.7 443.8,467.4 444.1,463.8 444.3,466.6 444.6,460.1 444.8,461.5 445.1,460.0 445.4,462.5 445.6,461.6 445.9,461.9 446.1,461.5 446.4,464.8 446.6,461.1 446.9,460.0 447.1,461.1 447.4,462.0 447.6,461.8 447.9,458.2 448.1,459.5 448.4,460.0 448.7,458.4 448.9,456.6 449.2,458.8 449.4,453.5 449.7,459.2 449.9,456.8 450.2,459.1 450.4,459.3 450.7,464.5 450.9,464.6 451.2,465.2 451.5,459.7 451.7,458.1 452,461.4 452.2,456.8 452.5,459.0 452.7,457.4 453,459.3 453.2,461.2 453.5,456.8 453.7,460.0 454,459.9 454.3,460.1 454.5,460.8 454.8,458.7 455,459.5 455.3,458.8 455.5,455.8 455.8,463.4 456,461.4 456.3,461.4 456.5,458.2 456.8,455.5 457.1,460.6 457.3,457.8 457.6,464.6 457.8,464.4 458.1,458.9 458.3,463.7 458.6,462.3 458.8,460.4 459.1,456.9 459.3,462.3 459.6,463.1 459.8,463.2 460.1,459.7 460.4,461.2 460.6,461.3 460.9,461.3 461.1,459.9 461.4,464.2 461.6,463.0 461.9,460.6 462.1,462.6 462.4,464.0 462.6,462.5 462.9,462.6 463.2,463.7 463.4,460.0 463.7,463.6 463.9,460.3 464.2,462.5 464.4,465.1 464.7,460.9 464.9,465.0 465.2,463.7 465.4,465.5 465.7,458.5 466,452.7 466.2,459.9 466.5,467.5 466.7,463.3 467,461.8 467.2,462.7 467.5,463.9 467.7,462.4 468,468.6 468.2,463.3 468.5,459.8 468.7,459.9 469,462.7 469.3,463.0 469.5,465.0 469.8,465.4 470,465.7 470.3,460.6 470.5,464.2 470.8,461.6 471,463.7 471.3,460.7 471.5,466.6 471.8,466.8 472.1,464.2 472.3,461.1 472.6,466.1 472.8,464.3 473.1,460.2 473.3,465.2 473.6,465.7 473.8,464.7 474.1,459.1 474.3,465.2 474.6,465.7 474.9,461.8 475.1,465.9 475.4,464.6 475.6,465.6 475.9,458.9 476.1,462.3 476.4,464.2 476.6,459.3 476.9,463.2 477.1,467.1 477.4,459.2 477.7,466.5 477.9,465.2 478.2,460.8 478.4,461.1 478.7,461.0 478.9,464.0 479.2,457.2 479.4,464.8 479.7,459.4 479.9,462.4 480.2,462.2 480.4,465.2 480.7,461.0 481,461.4 481.2,466.5 481.5,467.6 481.7,463.3 482,462.5 482.2,463.9 482.5,463.4 482.7,463.3 483,460.8 483.2,457.7 483.5,463.7 483.8,463.0 484,466.0 484.3,465.9 484.5,467.2 484.8,461.9 485,464.8 485.3,460.0 485.5,463.7 485.8,464.2 486,461.0 486.3,462.5 486.6,468.9 486.8,460.7 487.1,465.3 487.3,461.7 487.6,464.9 487.8,456.2 488.1,459.3 488.3,462.1 488.6,466.9 488.8,462.2 489.1,459.5 489.3,461.5 489.6,464.5 489.9,458.6 490.1,462.5 490.4,461.7 490.6,461.2 490.9,463.3 491.1,460.4 491.4,463.7 491.6,463.8 491.9,466.6 492.1,463.1 492.4,462.1 492.7,459.6 492.9,461.1 493.2,459.1 493.4,465.8 493.7,456.4 493.9,463.3 494.2,463.5 494.4,464.0 494.7,461.3 494.9,468.0 495.2,461.6 495.5,458.4 495.7,460.7 496,460.4 496.2,465.4 496.5,462.0 496.7,459.6 497,459.5 497.2,461.4 497.5,460.6 497.7,461.4 498,464.1 498.3,458.1 498.5,459.7 498.8,462.1 499,457.8 499.3,463.1 499.5,465.1 499.8,462.0 500,463.6 500.3,460.7 500.5,461.6 500.8,462.2 501,461.4 501.3,464.5 501.6,460.3 501.8,463.5 502.1,460.1 502.3,465.3 502.6,464.8 502.8,462.2 503.1,457.9 503.3,459.2 503.6,454.6 503.8,463.4 504.1,460.0 504.4,459.4 504.6,461.3 504.9,457.6 505.1,460.1 505.4,461.8 505.6,463.7 505.9,466.8 506.1,459.1 506.4,463.5 506.6,459.5 506.9,458.3 507.2,461.9 507.4,460.8 507.7,457.1 507.9,460.8 508.2,465.8 508.4,458.8 508.7,458.8 508.9,463.9 509.2,461.3 509.4,458.9 509.7,461.9 510,459.2 510.2,458.6 510.5,461.4 510.7,458.1 511,462.3 511.2,464.3 511.5,458.4 511.7,458.3 512,458.0 512.2,459.8 512.5,457.7 512.7,459.9 513,461.7 513.3,456.9 513.5,460.3 513.8,462.6 514,461.7 514.3,457.2 514.5,462.8 514.8,457.1 515,462.1 515.3,455.4 515.5,461.0 515.8,458.7 516.1,458.6 516.3,458.4 516.6,456.8 516.8,460.3 517.1,459.6 517.3,461.3 517.6,457.0 517.8,461.0 518.1,461.6 518.3,456.8 518.6,462.1 518.9,462.8 519.1,455.9 519.4,456.6 519.6,465.2 519.9,459.8 520.1,458.5 520.4,456.5 520.6,460.6 520.9,457.9 521.1,460.0 521.4,459.5 521.6,460.1 521.9,460.7 522.2,458.2 522.4,460.1 522.7,460.6 522.9,458.4 523.2,457.1 523.4,459.5 523.7,462.7 523.9,458.3 524.2,457.5 524.4,459.5 524.7,457.5 525,459.0 525.2,458.7 525.5,457.3 525.7,459.7 526,456.6 526.2,456.8 526.5,454.5 526.7,456.8 527,459.2 527.2,461.5 527.5,466.0 527.8,458.0 528,457.2 528.3,463.1 528.5,454.6 528.8,460.6 529,459.1 529.3,462.4 529.5,457.8 529.8,458.8 530,454.1 530.3,456.8 530.6,458.1 530.8,456.7 531.1,456.2 531.3,460.7 531.6,454.3 531.8,453.9 532.1,454.3 532.3,456.2 532.6,455.6 532.8,457.2 533.1,456.3 533.3,462.4 533.6,456.2 533.9,457.7 534.1,459.9 534.4,464.3 534.6,458.0 534.9,456.9 535.1,460.8 535.4,457.2 535.6,454.3 535.9,454.5 536.1,457.2 536.4,454.9 536.7,461.0 536.9,459.3 537.2,462.5 537.4,458.7 537.7,457.3 537.9,460.0 538.2,459.9 538.4,456.0 538.7,462.6 538.9,458.7 539.2,460.3 539.5,456.8 539.7,460.8 540,463.9 540.2,457.8 540.5,455.7 540.7,458.6 541,458.7 541.2,460.1 541.5,454.4 541.7,460.9 542,459.1 542.2,457.6 542.5,455.2 542.8,458.8 543,461.1 543.3,459.4 543.5,459.4 543.8,458.3 544,458.8 544.3,454.5 544.5,461.6 544.8,460.2 545,456.9 545.3,457.6 545.6,453.9 545.8,455.1 546.1,458.2 546.3,455.5 546.6,454.3 546.8,456.2 547.1,458.4 547.3,454.1 547.6,457.9 547.8,458.3 548.1,458.3 548.4,458.0 548.6,456.9 548.9,455.9 549.1,459.1 549.4,454.2 549.6,459.7 549.9,453.2 550.1,455.8 550.4,456.9 550.6,451.6 550.9,457.5 551.2,458.9 551.4,453.4 551.7,455.7 551.9,458.2 552.2,458.0 552.4,458.6 552.7,451.8 552.9,455.1 553.2,458.6 553.4,451.9 553.7,452.4 553.9,455.1 554.2,455.1 554.5,451.6 554.7,452.8 555,455.0 555.2,455.6 555.5,459.9 555.7,457.7 556,456.0 556.2,455.4 556.5,457.3 556.7,462.1 557,454.6 557.3,453.1 557.5,452.3 557.8,455.3 558,452.2 558.3,450.3 558.5,453.1 558.8,453.0 559,457.3 559.3,458.9 559.5,453.6 559.8,453.5 560.1,457.4 560.3,454.7 560.6,453.6 560.8,456.6 561.1,452.0 561.3,456.0 561.6,459.6 561.8,450.6 562.1,455.3 562.3,453.4 562.6,457.3 562.8,456.3 563.1,451.7 563.4,453.3 563.6,451.5 563.9,456.1 564.1,451.3 564.4,453.2 564.6,455.7 564.9,452.3 565.1,450.7 565.4,450.4 565.6,450.6 565.9,452.7 566.2,452.3 566.4,454.2 566.7,452.8 566.9,456.0 567.2,454.9 567.4,456.6 567.7,451.4 567.9,450.0 568.2,456.3 568.4,454.0 568.7,447.7 569,451.5 569.2,454.1 569.5,456.1 569.7,458.9 570,455.9 570.2,453.7 570.5,451.9 570.7,450.9 571,451.2 571.2,450.2 571.5,452.8 571.8,455.6 572,454.3 572.3,450.4 572.5,454.7 572.8,455.8 573,452.6 573.3,452.3 573.5,452.9 573.8,454.0 574,447.9 574.3,450.5 574.5,449.3 574.8,452.6 575.1,453.7 575.3,451.0 575.6,455.0 575.8,452.7 576.1,452.9 576.3,452.4 576.6,449.2 576.8,456.5 577.1,452.9 577.3,448.1 577.6,453.7 577.9,454.4 578.1,449.0 578.4,452.4 578.6,456.0 578.9,453.5 579.1,452.4 579.4,452.3 579.6,453.3 579.9,449.7 580.1,451.2 580.4,453.0 580.7,452.3 580.9,455.6 581.2,447.6 581.4,457.2 581.7,450.9 581.9,450.4 582.2,451.8 582.4,454.4 582.7,451.2 582.9,455.1 583.2,454.5 583.4,451.7 583.7,451.1 584,451.2 584.2,452.1 584.5,447.9 584.7,454.9 585,451.7 585.2,452.2 585.5,449.9 585.7,449.9 586,455.2 586.2,446.8 586.5,452.0 586.8,449.5 587,447.1 587.3,453.0 587.5,449.1 587.8,452.8 588,450.2 588.3,445.8 588.5,450.7 588.8,448.1 589,450.4 589.3,450.1 589.6,452.0 589.8,451.0 590.1,450.0 590.3,449.0 590.6,446.9 590.8,445.3 591.1,450.9 591.3,447.3 591.6,449.1 591.8,451.9 592.1,452.3 592.4,452.4 592.6,450.6 592.9,451.2 593.1,450.9 593.4,450.2 593.6,446.5 593.9,449.9 594.1,451.4 594.4,448.8 594.6,449.1 594.9,442.5 595.1,446.0 595.4,454.4 595.7,445.8 595.9,449.6 596.2,451.0 596.4,450.3 596.7,448.2 596.9,447.5 597.2,444.2 597.4,451.4 597.7,447.2 597.9,449.7 598.2,442.8 598.5,441.8 598.7,441.6 599,448.4 599.2,445.5 599.5,445.4 599.7,446.7 600,446.3 600.2,446.4 600.5,444.3 600.7,443.6 601,446.4 601.3,448.6 601.5,444.5 601.8,446.2 602,445.0 602.3,447.1 602.5,443.0 602.8,450.7 603,450.5 603.3,446.4 603.5,445.9 603.8,442.1 604,448.6 604.3,446.8 604.6,447.0 604.8,442.5 605.1,448.3 605.3,451.2 605.6,443.9 605.8,446.0 606.1,449.6 606.3,448.3 606.6,448.4 606.8,454.5 607.1,450.3 607.4,447.3 607.6,439.9 607.9,446.4 608.1,443.6 608.4,443.8 608.6,450.2 608.9,444.3 609.1,446.8 609.4,450.7 609.6,445.5 609.9,445.9 610.2,444.3 610.4,446.1 610.7,443.3 610.9,447.9 611.2,445.6 611.4,448.5 611.7,448.9 611.9,447.2 612.2,447.8 612.4,446.5 612.7,448.9 613,450.0 613.2,448.9 613.5,451.4 613.7,448.6 614,447.9 614.2,449.3 614.5,444.0 614.7,446.8 615,442.9 615.2,448.7 615.5,450.5 615.7,445.0 616,446.5 616.3,446.9 616.5,451.3 616.8,449.3 617,451.4 617.3,449.6 617.5,449.5 617.8,442.8 618,442.3 618.3,450.6 618.5,453.0 618.8,443.9 619.1,444.1 619.3,449.6 619.6,451.9 619.8,443.7 620.1,444.7 620.3,448.8 620.6,447.0 620.8,446.9 621.1,448.0 621.3,442.7 621.6,443.1 621.9,449.1 622.1,440.9 622.4,446.9 622.6,443.2 622.9,447.8 623.1,443.9 623.4,443.6 623.6,446.9 623.9,443.8 624.1,443.7 624.4,437.4 624.6,444.7 624.9,442.8 625.2,445.7 625.4,441.8 625.7,439.8 625.9,445.9 626.2,442.5 626.4,441.6 626.7,438.6 626.9,445.6 627.2,444.3 627.4,439.2 627.7,443.6 628,443.0 628.2,444.6 628.5,441.5 628.7,447.0 629,436.5 629.2,437.4 629.5,443.2 629.7,443.7 630,442.5 630.2,447.5 630.5,442.4 630.8,437.4 631,445.6 631.3,441.9 631.5,440.7 631.8,443.1 632,443.1 632.3,440.5 632.5,443.5 632.8,442.3 633,440.7 633.3,440.8 633.6,435.8 633.8,438.8 634.1,439.0 634.3,439.9 634.6,444.6 634.8,440.7 635.1,439.5 635.3,436.9 635.6,438.9 635.8,437.6 636.1,437.4 636.3,439.9 636.6,435.5 636.9,437.7 637.1,442.0 637.4,439.7 637.6,437.1 637.9,438.0 638.1,437.4 638.4,442.3 638.6,442.0 638.9,443.0 639.1,437.8 639.4,438.4" fill="none" stroke="#f7b000" stroke-width="1.6" stroke-linejoin="round"/>
<polyline points="359.9,534.5 360.2,529.9 360.5,523.9 360.8,517.8 361.1,513.0 361.5,509.1 361.8,510.1 362.1,506.9 362.4,502.9 362.7,499.5 363,497.2 363.3,496.4 363.6,493.5 363.9,490.7 364.3,490.0 364.6,486.5 364.9,487.1 365.2,484.2 365.5,481.6 365.8,481.5 366.1,480.1 366.4,478.3 366.7,480.4 367.1,476.0 367.4,477.4 367.7,476.9 368,475.1 368.3,475.3 368.6,476.0 368.9,472.9 369.2,472.3 369.5,472.4 369.8,472.6 370.2,472.8 370.5,471.7 370.8,469.1 371.1,471.0 371.4,469.9 371.7,469.6 372,465.9 372.3,465.6 372.6,466.4 373,466.3 373.3,466.5 373.6,465.1 373.9,464.9 374.2,466.2 374.5,463.0 374.8,463.8 375.1,464.7 375.4,465.2 375.8,464.4 376.1,465.4 376.4,463.6 376.7,463.6 377,463.4 377.3,462.2 377.6,460.5 377.9,461.3 378.2,461.1 378.6,460.1 378.9,461.5 379.2,459.9 379.5,458.3 379.8,459.5 380.1,458.0 380.4,459.3 380.7,455.3 381,455.8 381.4,457.0 381.7,456.5 382,455.7 382.3,456.8 382.6,454.3 382.9,453.3 383.2,454.3 383.5,452.5 383.8,452.8 384.2,453.2 384.5,451.1 384.8,450.7 385.1,449.5 385.4,450.0 385.7,449.7 386,449.8 386.3,448.8 386.6,449.8 386.9,447.3 387.3,446.7 387.6,445.6 387.9,446.7 388.2,444.9 388.5,443.7 388.8,442.0 389.1,442.6 389.4,443.0 389.7,438.6 390.1,439.5 390.4,439.0 390.7,438.5 391,438.8 391.3,437.6 391.6,437.6 391.9,437.2 392.2,437.7 392.5,435.3 392.9,435.3 393.2,434.1 393.5,433.9 393.8,432.7 394.1,431.3 394.4,432.4 394.7,432.8 395,430.3 395.3,430.9 395.7,430.7 396,428.1 396.3,432.1 396.6,431.2 396.9,430.5 397.2,430.0 397.5,427.7 397.8,425.5 398.1,427.7 398.5,427.6 398.8,426.7 399.1,426.2 399.4,427.3 399.7,426.8 400,425.6 400.3,424.7 400.6,427.4 400.9,425.4 401.2,424.3 401.6,422.3 401.9,421.8 402.2,420.1 402.5,422.5 402.8,422.6 403.1,421.7 403.4,421.5 403.7,421.4 404,421.6 404.4,418.4 404.7,418.8 405,420.6 405.3,419.6 405.6,419.5 405.9,417.5 406.2,419.8 406.5,417.9 406.8,417.2 407.2,416.1 407.5,417.0 407.8,416.4 408.1,415.8 408.4,417.3 408.7,416.4 409,414.8 409.3,413.8 409.6,413.7 410,414.1 410.3,410.3 410.6,413.2 410.9,412.2 411.2,414.3 411.5,412.0 411.8,410.9 412.1,410.7 412.4,409.5 412.8,409.1 413.1,409.4 413.4,406.8 413.7,408.7 414,406.6 414.3,407.4 414.6,407.2 414.9,408.3 415.2,408.9 415.6,408.5 415.9,406.2 416.2,406.1 416.5,406.1 416.8,406.0 417.1,406.7 417.4,405.9 417.7,404.9 418,406.6 418.3,405.3 418.7,405.8 419,403.4 419.3,403.9 419.6,403.8 419.9,404.0 420.2,403.0 420.5,404.7 420.8,403.1 421.1,405.5 421.5,407.1 421.8,406.8 422.1,406.0 422.4,405.7 422.7,407.1 423,405.5 423.3,405.5 423.6,405.9 423.9,408.1 424.3,406.5 424.6,408.2 424.9,408.2 425.2,407.4 425.5,406.3 425.8,406.4 426.1,404.2 426.4,405.3 426.7,406.5 427.1,405.8 427.4,401.9 427.7,403.2 428,402.6 428.3,403.6 428.6,402.6 428.9,401.8 429.2,400.9 429.5,401.4 429.9,400.7 430.2,400.5 430.5,399.9 430.8,398.4 431.1,399.7 431.4,399.4 431.7,398.8 432,398.5 432.3,399.2 432.7,398.6 433,398.9 433.3,397.5 433.6,397.4 433.9,396.2 434.2,394.8 434.5,394.3 434.8,395.9 435.1,395.2 435.4,395.4 435.8,392.0 436.1,394.2 436.4,394.4 436.7,393.6 437,393.5 437.3,391.6 437.6,393.4 437.9,394.8 438.2,392.0 438.6,393.6 438.9,391.9 439.2,392.7 439.5,393.8 439.8,392.0 440.1,392.2 440.4,392.2 440.7,391.0 441,392.1 441.4,388.2 441.7,389.8 442,387.8 442.3,388.0 442.6,389.2 442.9,387.8 443.2,388.4 443.5,390.0 443.8,388.9 444.2,392.3 444.5,387.9 444.8,387.8 445.1,384.9 445.4,387.6 445.7,387.0 446,387.8 446.3,387.2 446.6,386.5 447,385.1 447.3,388.0 447.6,386.5 447.9,385.4 448.2,387.6 448.5,384.9 448.8,386.3 449.1,384.6 449.4,386.6 449.8,385.1 450.1,390.0 450.4,387.9 450.7,387.1 451,387.0 451.3,387.2 451.6,387.4 451.9,386.8 452.2,385.3 452.5,386.6 452.9,384.7 453.2,386.0 453.5,386.7 453.8,384.9 454.1,386.7 454.4,385.8 454.7,388.9 455,385.8 455.3,386.8 455.7,386.9 456,386.4 456.3,386.6 456.6,385.9 456.9,386.2 457.2,386.1 457.5,386.5 457.8,386.9 458.1,385.3 458.5,386.8 458.8,385.1 459.1,383.9 459.4,384.3 459.7,383.9 460,384.3 460.3,384.5 460.6,384.5 460.9,385.4 461.3,384.8 461.6,383.5 461.9,384.4 462.2,383.7 462.5,384.5 462.8,385.0 463.1,383.4 463.4,384.2 463.7,384.9 464.1,383.6 464.4,381.8 464.7,382.8 465,381.7 465.3,383.7 465.6,382.7 465.9,382.7 466.2,384.1 466.5,383.0 466.8,382.2 467.2,379.9 467.5,381.2 467.8,380.9 468.1,381.3 468.4,379.9 468.7,381.8 469,382.3 469.3,380.5 469.6,379.2 470,380.7 470.3,380.2 470.6,381.4 470.9,380.1 471.2,379.3 471.5,378.6 471.8,380.0 472.1,377.2 472.4,378.5 472.8,380.3 473.1,379.1 473.4,379.1 473.7,378.8 474,377.4 474.3,378.4 474.6,379.2 474.9,379.0 475.2,377.2 475.6,378.3 475.9,379.1 476.2,378.2 476.5,379.4 476.8,377.7 477.1,375.9 477.4,377.5 477.7,377.6 478,378.1 478.4,377.7 478.7,378.7 479,377.5 479.3,376.9 479.6,376.0 479.9,376.3 480.2,377.9 480.5,378.3 480.8,376.4 481.2,376.1 481.5,375.4 481.8,375.6 482.1,375.3 482.4,374.6 482.7,376.1 483,373.8 483.3,374.9 483.6,374.8 483.9,375.0 484.3,374.0 484.6,373.1 484.9,373.8 485.2,372.7 485.5,373.3 485.8,372.7 486.1,375.9 486.4,370.7 486.7,371.7 487.1,374.1 487.4,372.3 487.7,370.8 488,372.7 488.3,374.3 488.6,371.8 488.9,372.6 489.2,370.1 489.5,370.7 489.9,371.7 490.2,371.4 490.5,370.3 490.8,370.3 491.1,370.1 491.4,369.7 491.7,369.7 492,369.6 492.3,370.6 492.7,368.4 493,370.4 493.3,371.6 493.6,369.8 493.9,369.0 494.2,368.3 494.5,368.6 494.8,367.7 495.1,369.2 495.5,368.8 495.8,369.6 496.1,369.0 496.4,369.4 496.7,370.0 497,369.2 497.3,371.0 497.6,368.8 497.9,366.7 498.3,367.7 498.6,367.7 498.9,366.8 499.2,367.2 499.5,366.8 499.8,367.4 500.1,365.5 500.4,364.5 500.7,364.9 501,362.9 501.4,361.9 501.7,363.4 502,363.7 502.3,363.2 502.6,365.0 502.9,362.3 503.2,361.8 503.5,365.1 503.8,361.6 504.2,364.6 504.5,364.1 504.8,361.7 505.1,365.9 505.4,364.8 505.7,366.0 506,366.2 506.3,366.6 506.6,367.4 507,369.0 507.3,367.3 507.6,367.0 507.9,368.5 508.2,368.3 508.5,365.3 508.8,368.8 509.1,368.3 509.4,368.8 509.8,367.6 510.1,371.1 510.4,369.4 510.7,368.1 511,368.1 511.3,368.2 511.6,368.0 511.9,368.9 512.2,368.4 512.6,367.3 512.9,367.5 513.2,368.4 513.5,366.5 513.8,367.0 514.1,368.4 514.4,367.2 514.7,368.7 515,365.7 515.4,366.4 515.7,365.9 516,365.7 516.3,367.4 516.6,367.7 516.9,366.5 517.2,366.0 517.5,368.1 517.8,367.7 518.1,363.5 518.5,365.6 518.8,363.2 519.1,363.6 519.4,364.5 519.7,363.8 520,365.7 520.3,364.5 520.6,364.6 520.9,364.7 521.3,366.7 521.6,365.1 521.9,365.7 522.2,365.3 522.5,366.1 522.8,364.6 523.1,364.5 523.4,365.9 523.7,364.6 524.1,362.7 524.4,363.0 524.7,363.8 525,364.8 525.3,363.4 525.6,365.9 525.9,364.9 526.2,364.0 526.5,362.7 526.9,364.8 527.2,364.5 527.5,362.6 527.8,365.2 528.1,365.0 528.4,365.2 528.7,363.4 529,364.3 529.3,360.9 529.7,363.6 530,362.6 530.3,363.0 530.6,363.6 530.9,362.4 531.2,362.9 531.5,361.9 531.8,362.0 532.1,361.7 532.5,363.4 532.8,364.4 533.1,361.8 533.4,361.1 533.7,362.6 534,363.3 534.3,363.0 534.6,361.4 534.9,362.6 535.2,361.6 535.6,362.0 535.9,362.3 536.2,361.9 536.5,362.9 536.8,361.7 537.1,363.9 537.4,362.1 537.7,360.7 538,362.9 538.4,362.8 538.7,362.1 539,361.8 539.3,362.1 539.6,362.5 539.9,361.4 540.2,362.4 540.5,360.8 540.8,361.8 541.2,360.2 541.5,361.7 541.8,361.9 542.1,360.6 542.4,361.6 542.7,359.2 543,361.1 543.3,360.8 543.6,361.6 544,360.9 544.3,362.1 544.6,362.9 544.9,360.8 545.2,361.3 545.5,361.7 545.8,360.6 546.1,360.2 546.4,358.3 546.8,358.5 547.1,356.5 547.4,358.1 547.7,357.1 548,356.7 548.3,353.8 548.6,356.5 548.9,356.8 549.2,356.3 549.5,354.9 549.9,355.4 550.2,353.5 550.5,352.3 550.8,352.5 551.1,351.5 551.4,353.7 551.7,348.7 552,351.2 552.3,350.0 552.7,350.4 553,351.9 553.3,351.1 553.6,352.6 553.9,351.4 554.2,351.4 554.5,351.6 554.8,352.9 555.1,350.8 555.5,351.3 555.8,351.1 556.1,351.2 556.4,350.3 556.7,351.4 557,352.2 557.3,353.3 557.6,352.3 557.9,351.2 558.3,353.5 558.6,350.1 558.9,352.8 559.2,350.9 559.5,352.0 559.8,350.7 560.1,350.6 560.4,351.6 560.7,354.2 561.1,352.7 561.4,353.4 561.7,352.1 562,352.6 562.3,351.9 562.6,352.1 562.9,352.5 563.2,354.1 563.5,353.5 563.9,352.3 564.2,353.0 564.5,352.2 564.8,353.9 565.1,353.8 565.4,353.8 565.7,354.1 566,353.6 566.3,354.3 566.6,351.7 567,352.9 567.3,351.8 567.6,352.8 567.9,351.1 568.2,349.6 568.5,350.5 568.8,350.0 569.1,349.2 569.4,349.6 569.8,351.0 570.1,349.0 570.4,350.0 570.7,350.5 571,350.0 571.3,349.1 571.6,349.4 571.9,347.7 572.2,346.6 572.6,346.0 572.9,348.4 573.2,348.5 573.5,346.5 573.8,346.6 574.1,343.7 574.4,346.7 574.7,345.6 575,343.4 575.4,345.7 575.7,345.7 576,345.7 576.3,344.5 576.6,344.7 576.9,343.3 577.2,345.6 577.5,343.4 577.8,345.0 578.2,344.1 578.5,343.1 578.8,344.6 579.1,342.4 579.4,343.5 579.7,343.1 580,342.6 580.3,342.7 580.6,343.1 581,341.8 581.3,341.5 581.6,341.7 581.9,341.2 582.2,340.6 582.5,341.8 582.8,339.6 583.1,341.2 583.4,340.7 583.7,341.3 584.1,341.4 584.4,341.0 584.7,340.6 585,341.9 585.3,339.7 585.6,338.8 585.9,339.8 586.2,340.5 586.5,341.5 586.9,341.6 587.2,339.6 587.5,340.3 587.8,340.8 588.1,338.3 588.4,340.4 588.7,339.1 589,338.4 589.3,338.8 589.7,338.8 590,335.8 590.3,337.8 590.6,337.8 590.9,336.7 591.2,337.6 591.5,336.8 591.8,336.1 592.1,336.8 592.5,334.6 592.8,337.0 593.1,337.1 593.4,336.7 593.7,336.9 594,335.5 594.3,335.2 594.6,333.9 594.9,333.8 595.3,334.7 595.6,336.3 595.9,335.1 596.2,336.5 596.5,335.7 596.8,333.6 597.1,333.8 597.4,333.1 597.7,332.5 598.1,334.2 598.4,334.5 598.7,332.7 599,334.6 599.3,334.2 599.6,332.5 599.9,333.2 600.2,331.7 600.5,332.6 600.8,332.9 601.2,330.4 601.5,333.7 601.8,330.3 602.1,332.1 602.4,331.4 602.7,332.7 603,330.6 603.3,331.0 603.6,334.6 604,332.8 604.3,331.8 604.6,330.1 604.9,331.3 605.2,329.2 605.5,330.2 605.8,331.5 606.1,332.1 606.4,331.0 606.8,332.4 607.1,332.7 607.4,330.8 607.7,332.3 608,332.2 608.3,334.0 608.6,331.2 608.9,333.2 609.2,332.6 609.6,335.2 609.9,330.6 610.2,335.0 610.5,333.1 610.8,333.9 611.1,331.9 611.4,332.2 611.7,333.4 612,333.6 612.4,330.8 612.7,332.6 613,332.7 613.3,332.9 613.6,333.7 613.9,333.2 614.2,332.4 614.5,331.2 614.8,330.6 615.1,332.4 615.5,333.8 615.8,332.0 616.1,332.8 616.4,330.4 616.7,332.6 617,331.2 617.3,331.3 617.6,331.8 617.9,331.8 618.3,331.2 618.6,331.2 618.9,331.1 619.2,329.9 619.5,330.2 619.8,330.3 620.1,332.0 620.4,328.8 620.7,330.2 621.1,331.0 621.4,330.7 621.7,328.8 622,328.4 622.3,328.9 622.6,329.8 622.9,330.3 623.2,329.1 623.5,329.3 623.9,328.6 624.2,328.0 624.5,330.1 624.8,330.5 625.1,328.4 625.4,327.7 625.7,329.2 626,326.7 626.3,326.8 626.7,328.3 627,330.1 627.3,327.6 627.6,327.8 627.9,329.3 628.2,326.2 628.5,325.8 628.8,329.6 629.1,328.3 629.5,326.6 629.8,327.4 630.1,327.8 630.4,326.5 630.7,329.4 631,324.8 631.3,328.3 631.6,326.9 631.9,326.6 632.2,326.6 632.6,325.5 632.9,325.7 633.2,325.2 633.5,324.0 633.8,326.2 634.1,324.0 634.4,324.3 634.7,327.4 635,324.7 635.4,326.8 635.7,326.5 636,325.1 636.3,326.4 636.6,323.9 636.9,323.3 637.2,323.8 637.5,323.9 637.8,324.7 638.2,326.2 638.5,322.9 638.8,323.4 639.1,323.6 639.4,323.7" fill="none" stroke="#0072bd" stroke-width="1.6" stroke-linejoin="round"/>
<polyline points="359.9,535.7 360.4,512.1 360.8,490.6 361.3,472.3 361.8,452.7 362.2,434.0 362.7,426.3 363.2,420.6 363.6,415.9 364.1,412.7 364.6,408.8 365,405.5 365.5,401.8 366,399.3 366.4,396.7 366.9,394.5 367.4,392.4 367.8,390.2 368.3,388.1 368.8,386.9 369.2,385.8 369.7,384.5 370.2,383.7 370.6,382.0 371.1,382.3 371.6,381.0 372,380.0 372.5,379.6 373,378.6 373.4,377.1 373.9,377.1 374.4,377.2 374.8,376.3 375.3,376.2 375.8,374.8 376.2,374.5 376.7,373.7 377.2,373.4 377.6,372.5 378.1,372.0 378.6,372.1 379,370.7 379.5,370.5 380,370.5 380.4,370.5 380.9,370.0 381.4,369.2 381.8,368.3 382.3,368.0 382.8,367.9 383.2,367.1 383.7,366.0 384.2,366.3 384.6,365.6 385.1,364.2 385.6,364.9 386,364.4 386.5,364.4 387,364.0 387.4,364.1 387.9,363.7 388.4,362.7 388.8,362.1 389.3,362.3 389.8,362.6 390.2,361.7 390.7,361.4 391.2,361.2 391.6,360.7 392.1,360.3 392.6,360.1 393,359.8 393.5,359.1 394,359.9 394.4,358.6 394.9,359.0 395.4,358.1 395.8,358.5 396.3,357.9 396.8,357.7 397.2,357.9 397.7,357.0 398.2,356.2 398.6,356.0 399.1,355.3 399.6,355.1 400,355.1 400.5,355.4 401,354.7 401.4,354.8 401.9,354.0 402.4,353.6 402.8,353.5 403.3,353.1 403.8,353.1 404.2,353.8 404.7,352.9 405.2,353.0 405.6,352.6 406.1,352.0 406.6,351.7 407,352.4 407.5,351.8 408,351.9 408.4,351.3 408.9,350.9 409.4,351.4 409.8,351.2 410.3,350.5 410.8,351.1 411.2,351.4 411.7,350.6 412.2,350.7 412.6,350.3 413.1,350.2 413.6,350.3 414,350.5 414.5,349.9 415,349.6 415.4,349.3 415.9,349.5 416.4,349.6 416.8,349.2 417.3,348.7 417.8,349.6 418.2,349.4 418.7,348.7 419.2,349.5 419.6,348.8 420.1,348.7 420.6,348.3 421,348.8 421.5,348.8 422,347.8 422.4,348.2 422.9,347.3 423.4,347.4 423.8,347.6 424.3,348.1 424.8,347.8 425.2,347.8 425.7,347.3 426.2,347.6 426.6,346.8 427.1,347.4 427.6,346.7 428,347.2 428.5,347.6 429,347.3 429.4,347.3 429.9,347.1 430.4,345.9 430.8,346.4 431.3,347.0 431.8,346.6 432.2,346.3 432.7,346.7 433.2,346.9 433.6,346.2 434.1,346.6 434.6,346.5 435,346.6 435.5,347.0 436,346.2 436.4,346.7 436.9,346.9 437.4,345.6 437.8,346.0 438.3,345.8 438.8,346.2 439.2,345.6 439.7,345.7 440.2,346.1 440.6,345.7 441.1,345.3 441.6,345.5 442,345.4 442.5,345.2 443,346.0 443.4,346.2 443.9,345.1 444.4,346.3 444.8,345.6 445.3,344.7 445.8,344.6 446.2,344.7 446.7,345.6 447.2,344.5 447.6,344.6 448.1,345.5 448.6,344.8 449,345.0 449.5,344.2 450,344.9 450.4,344.4 450.9,344.4 451.4,344.2 451.8,344.9 452.3,343.4 452.8,344.6 453.2,344.8 453.7,344.6 454.2,343.3 454.6,344.2 455.1,343.9 455.6,343.9 456,343.2 456.5,343.8 457,343.3 457.4,342.5 457.9,342.5 458.4,342.5 458.8,342.7 459.3,342.5 459.8,342.4 460.2,341.6 460.7,341.8 461.2,341.2 461.6,341.5 462.1,340.9 462.6,341.1 463,341.4 463.5,340.6 464,341.1 464.4,341.1 464.9,340.0 465.4,341.1 465.8,340.7 466.3,339.8 466.8,340.0 467.2,339.6 467.7,339.9 468.2,339.8 468.6,339.4 469.1,339.4 469.6,339.2 470,338.6 470.5,338.5 471,339.3 471.4,338.2 471.9,338.8 472.4,339.3 472.8,339.0 473.3,339.2 473.8,338.0 474.2,338.8 474.7,338.7 475.2,338.3 475.6,338.3 476.1,338.1 476.6,338.7 477,337.7 477.5,337.4 478,338.2 478.4,337.2 478.9,337.3 479.4,337.7 479.8,337.3 480.3,337.0 480.8,337.7 481.2,336.5 481.7,337.3 482.2,336.8 482.6,336.8 483.1,337.1 483.6,337.0 484,336.8 484.5,337.5 485,336.3 485.4,337.1 485.9,336.4 486.4,336.3 486.8,336.3 487.3,336.5 487.8,335.3 488.2,336.7 488.7,336.7 489.2,335.2 489.6,335.1 490.1,335.3 490.6,335.1 491,335.2 491.5,335.1 492,335.0 492.4,335.8 492.9,334.6 493.4,334.3 493.8,335.1 494.3,335.1 494.8,334.2 495.2,334.6 495.7,334.4 496.2,333.8 496.6,334.3 497.1,334.6 497.6,333.8 498,334.0 498.5,334.3 499,335.3 499.4,334.9 499.9,334.4 500.3,334.5 500.8,334.9 501.3,334.2 501.7,334.5 502.2,334.0 502.7,334.5 503.1,334.8 503.6,334.0 504.1,334.7 504.5,334.8 505,334.4 505.5,333.8 505.9,334.5 506.4,335.6 506.9,334.4 507.3,334.1 507.8,334.6 508.3,334.1 508.7,333.8 509.2,334.3 509.7,334.5 510.1,334.0 510.6,333.8 511.1,333.8 511.5,333.2 512,333.0 512.5,334.2 512.9,333.2 513.4,333.1 513.9,333.0 514.3,332.6 514.8,333.1 515.3,331.7 515.7,332.8 516.2,332.3 516.7,332.6 517.1,332.8 517.6,332.4 518.1,331.7 518.5,332.4 519,332.2 519.5,332.8 519.9,331.7 520.4,332.7 520.9,331.6 521.3,331.4 521.8,330.6 522.3,331.4 522.7,331.8 523.2,331.4 523.7,331.5 524.1,331.9 524.6,331.8 525.1,331.2 525.5,331.7 526,331.7 526.5,332.3 526.9,330.9 527.4,330.5 527.9,331.2 528.3,330.7 528.8,330.6 529.3,331.0 529.7,331.0 530.2,330.8 530.7,331.1 531.1,331.0 531.6,330.7 532.1,331.2 532.5,331.4 533,330.8 533.5,331.3 533.9,330.8 534.4,330.5 534.9,330.4 535.3,331.4 535.8,330.1 536.3,330.0 536.7,330.9 537.2,330.4 537.7,329.7 538.1,329.8 538.6,330.1 539.1,329.6 539.5,330.0 540,329.9 540.5,330.2 540.9,329.5 541.4,330.0 541.9,330.1 542.3,329.4 542.8,329.3 543.3,330.4 543.7,329.8 544.2,329.4 544.7,330.4 545.1,329.8 545.6,329.2 546.1,329.7 546.5,330.0 547,330.4 547.5,329.3 547.9,330.0 548.4,330.3 548.9,328.7 549.3,329.7 549.8,330.0 550.3,329.8 550.7,329.7 551.2,329.2 551.7,329.9 552.1,329.6 552.6,329.2 553.1,329.8 553.5,329.8 554,329.4 554.5,329.7 554.9,329.5 555.4,329.5 555.9,330.5 556.3,329.5 556.8,329.3 557.3,329.7 557.7,329.8 558.2,329.4 558.7,328.7 559.1,329.4 559.6,329.1 560.1,329.1 560.5,329.8 561,329.7 561.5,329.5 561.9,329.9 562.4,329.6 562.9,329.7 563.3,329.2 563.8,329.3 564.3,329.2 564.7,329.9 565.2,329.0 565.7,329.5 566.1,328.7 566.6,329.5 567.1,328.9 567.5,328.8 568,329.4 568.5,329.3 568.9,329.0 569.4,328.9 569.9,329.0 570.3,329.5 570.8,328.9 571.3,328.7 571.7,329.5 572.2,328.5 572.7,329.2 573.1,329.6 573.6,329.2 574.1,329.7 574.5,330.1 575,328.7 575.5,328.8 575.9,328.9 576.4,328.8 576.9,328.5 577.3,329.6 577.8,329.5 578.3,329.7 578.7,329.2 579.2,329.1 579.7,328.9 580.1,329.6 580.6,329.5 581.1,329.4 581.5,329.2 582,328.9 582.5,329.7 582.9,329.8 583.4,329.2 583.9,329.3 584.3,329.3 584.8,329.3 585.3,329.9 585.7,329.5 586.2,329.3 586.7,329.5 587.1,329.3 587.6,329.0 588.1,329.2 588.5,329.0 589,329.1 589.5,329.6 589.9,329.5 590.4,329.8 590.9,329.7 591.3,329.4 591.8,329.4 592.3,329.4 592.7,329.3 593.2,329.1 593.7,329.6 594.1,330.0 594.6,329.6 595.1,328.9 595.5,328.5 596,329.6 596.5,329.3 596.9,328.4 597.4,328.4 597.9,329.0 598.3,328.8 598.8,329.3 599.3,329.6 599.7,328.7 600.2,329.2 600.7,329.7 601.1,329.4 601.6,329.0 602.1,328.6 602.5,329.6 603,328.8 603.5,329.5 603.9,329.9 604.4,328.8 604.9,329.9 605.3,329.2 605.8,328.8 606.3,330.2 606.7,329.1 607.2,329.5 607.7,328.4 608.1,329.1 608.6,328.8 609.1,328.6 609.5,328.5 610,329.1 610.5,328.6 610.9,329.2 611.4,329.1 611.9,328.6 612.3,328.4 612.8,329.1 613.3,328.5 613.7,329.0 614.2,328.5 614.7,329.3 615.1,328.8 615.6,328.3 616.1,328.7 616.5,328.6 617,329.0 617.5,328.8 617.9,328.5 618.4,328.8 618.9,328.9 619.3,327.8 619.8,328.0 620.3,329.0 620.7,328.7 621.2,327.9 621.7,328.0 622.1,328.4 622.6,327.1 623.1,327.7 623.5,327.2 624,327.7 624.5,328.2 624.9,328.9 625.4,327.9 625.9,328.2 626.3,327.2 626.8,327.4 627.3,327.6 627.7,326.4 628.2,327.0 628.7,327.6 629.1,327.3 629.6,326.8 630.1,327.3 630.5,326.8 631,327.1 631.5,326.4 631.9,326.6 632.4,326.9 632.9,327.2 633.3,327.5 633.8,326.1 634.3,327.1 634.7,326.9 635.2,327.1 635.7,326.4 636.1,326.1 636.6,327.3 637.1,326.3 637.5,326.5 638,326.5 638.5,325.7 638.9,325.1 639.4,325.4" fill="none" stroke="#9b30a0" stroke-width="1.3" stroke-linejoin="round"/>
<path d="M359.6 536.1V314.0H639.4M359.6 536.1H639.4" fill="none" stroke="#262626" stroke-width="1.1"/>
<path d="M639.8 313.5V536.1" stroke="#9b30a0" stroke-width="1.4"/>
<text x="355.5" y="539.9" font-size="10.6" font-weight="bold" text-anchor="end" fill="#1a1a1a">0</text>
<text x="355.5" y="515.2" font-size="10.6" font-weight="bold" text-anchor="end" fill="#1a1a1a" textLength="11.8" lengthAdjust="spacingAndGlyphs">50</text>
<text x="355.5" y="490.5" font-size="10.6" font-weight="bold" text-anchor="end" fill="#1a1a1a" textLength="17.7" lengthAdjust="spacingAndGlyphs">100</text>
<text x="355.5" y="465.9" font-size="10.6" font-weight="bold" text-anchor="end" fill="#1a1a1a" textLength="17.7" lengthAdjust="spacingAndGlyphs">150</text>
<text x="355.5" y="441.2" font-size="10.6" font-weight="bold" text-anchor="end" fill="#1a1a1a" textLength="17.7" lengthAdjust="spacingAndGlyphs">200</text>
<text x="355.5" y="416.5" font-size="10.6" font-weight="bold" text-anchor="end" fill="#1a1a1a" textLength="17.7" lengthAdjust="spacingAndGlyphs">250</text>
<text x="355.5" y="391.8" font-size="10.6" font-weight="bold" text-anchor="end" fill="#1a1a1a" textLength="17.7" lengthAdjust="spacingAndGlyphs">300</text>
<text x="355.5" y="367.2" font-size="10.6" font-weight="bold" text-anchor="end" fill="#1a1a1a" textLength="17.7" lengthAdjust="spacingAndGlyphs">350</text>
<text x="355.5" y="342.5" font-size="10.6" font-weight="bold" text-anchor="end" fill="#1a1a1a" textLength="17.7" lengthAdjust="spacingAndGlyphs">400</text>
<text x="355.5" y="317.8" font-size="10.6" font-weight="bold" text-anchor="end" fill="#1a1a1a" textLength="17.7" lengthAdjust="spacingAndGlyphs">450</text>
<text x="644.6" y="540.6" font-size="10.6" font-weight="bold" fill="#9b30a0">0</text>
<text x="644.6" y="503.6" font-size="10.6" font-weight="bold" fill="#9b30a0" textLength="17.3" lengthAdjust="spacingAndGlyphs">200</text>
<text x="644.6" y="466.6" font-size="10.6" font-weight="bold" fill="#9b30a0" textLength="17.3" lengthAdjust="spacingAndGlyphs">400</text>
<text x="644.6" y="429.6" font-size="10.6" font-weight="bold" fill="#9b30a0" textLength="17.3" lengthAdjust="spacingAndGlyphs">600</text>
<text x="644.6" y="392.5" font-size="10.6" font-weight="bold" fill="#9b30a0" textLength="17.3" lengthAdjust="spacingAndGlyphs">800</text>
<text x="644.6" y="355.5" font-size="10.6" font-weight="bold" fill="#9b30a0" textLength="22.6" lengthAdjust="spacingAndGlyphs">1000</text>
<text x="644.6" y="318.5" font-size="10.6" font-weight="bold" fill="#9b30a0" textLength="22.6" lengthAdjust="spacingAndGlyphs">1200</text>
<text x="359.6" y="551.6" font-size="10.6" font-weight="bold" text-anchor="middle" fill="#1a1a1a">0</text>
<text x="406.2" y="551.6" font-size="10.6" font-weight="bold" text-anchor="middle" fill="#1a1a1a">50</text>
<text x="452.9" y="551.6" font-size="10.6" font-weight="bold" text-anchor="middle" fill="#1a1a1a">100</text>
<text x="499.5" y="551.6" font-size="10.6" font-weight="bold" text-anchor="middle" fill="#1a1a1a">150</text>
<text x="546.1" y="551.6" font-size="10.6" font-weight="bold" text-anchor="middle" fill="#1a1a1a">200</text>
<text x="592.8" y="551.6" font-size="10.6" font-weight="bold" text-anchor="middle" fill="#1a1a1a">250</text>
<text x="639.4" y="551.6" font-size="10.6" font-weight="bold" text-anchor="middle" fill="#1a1a1a">300</text>
<path d="M359.6 536.1h2.7M359.6 511.4h2.7M359.6 486.7h2.7M359.6 462.1h2.7M359.6 437.4h2.7M359.6 412.7h2.7M359.6 388.0h2.7M359.6 363.4h2.7M359.6 338.7h2.7M359.6 314.0h2.7M359.6 536.1v-2.7M359.6 314.0v2.7M406.2 536.1v-2.7M406.2 314.0v2.7M452.9 536.1v-2.7M452.9 314.0v2.7M499.5 536.1v-2.7M499.5 314.0v2.7M546.1 536.1v-2.7M546.1 314.0v2.7M592.8 536.1v-2.7M592.8 314.0v2.7M639.4 536.1v-2.7M639.4 314.0v2.7" stroke="#262626" stroke-width="1"/>
<path d="M639.4 536.1h-2.7M639.4 499.1h-2.7M639.4 462.1h-2.7M639.4 425.1h-2.7M639.4 388.0h-2.7M639.4 351.0h-2.7M639.4 314.0h-2.7" stroke="#9b30a0" stroke-width="1"/>
<text x="499.5" y="565.2" font-size="10.6" font-weight="bold" text-anchor="middle" fill="#1a1a1a" textLength="42.6" lengthAdjust="spacingAndGlyphs">Time(ps)</text>
<text x="0" y="0" font-size="10.6" font-weight="bold" text-anchor="middle" fill="#1a1a1a" textLength="144" lengthAdjust="spacingAndGlyphs" transform="translate(332.3 425.5) rotate(-90)">Number of adsorption group</text>
<text x="0" y="0" font-size="10.4" font-weight="bold" text-anchor="middle" fill="#9b30a0" textLength="120.5" lengthAdjust="spacingAndGlyphs" transform="translate(681.2 422.8) rotate(-90)">Number of -O adsorption</text>
<rect x="403.6" y="573.6" width="191.3" height="17.2" fill="#fff" stroke="#262626" stroke-width="1.2"/>
<path d="M407.3 582.2H433.3" stroke="#0072bd" stroke-width="1.4"/>
<text x="435.5" y="586.6" font-size="10.7" font-weight="bold" fill="#111" textLength="11.1" lengthAdjust="spacingAndGlyphs">-H</text>
<path d="M451.7 582.2H477.8" stroke="#f05a14" stroke-width="1.4"/>
<text x="481" y="586.6" font-size="10.7" font-weight="bold" fill="#111" textLength="18.7" lengthAdjust="spacingAndGlyphs">-OH</text>
<path d="M506 582.2H532.3" stroke="#f7b000" stroke-width="1.4"/>
<text x="534.3" y="586.6" font-size="10.7" font-weight="bold" fill="#111" textLength="11.3" lengthAdjust="spacingAndGlyphs">-C</text>
<path d="M551.3 582.2H577.4" stroke="#9b30a0" stroke-width="1.4"/>
<text x="579.7" y="586.6" font-size="10.7" font-weight="bold" fill="#111" textLength="11.9" lengthAdjust="spacingAndGlyphs">-O</text>
<text x="5.9" y="602.5" font-size="14" font-weight="bold">(d)</text>
<text x="111.3" y="607.6" font-size="14" text-anchor="middle" fill="#1a1a1a" textLength="94.6" lengthAdjust="spacingAndGlyphs" stroke="#1a1a1a" stroke-width="0.25">Residue-focus</text>
<text x="259.9" y="607.3" font-size="14" text-anchor="middle" fill="#1a1a1a" textLength="91.9" lengthAdjust="spacingAndGlyphs" stroke="#1a1a1a" stroke-width="0.25">CS adsorption</text>
<g filter="url(#soft)">
<path d="M38.5 657.4 L51.9 656.4 L65.4 655.2 L78.8 656.6 L92.2 658.7 L105.7 658.6 L119.1 658.4 L132.6 659.0 L146.0 657.9 L159.4 655.6 L172.9 655.7 L186.3 657.1 L186.3 681.6 L172.9 681.2 L159.4 681.0 L146.0 679.3 L132.6 678.8 L119.1 680.9 L105.7 682.1 L92.2 681.7 L78.8 682.3 L65.4 682.6 L51.9 680.7 L38.5 679.0Z" fill="url(#dense2)"/>
<path d="M38.5 657.4 L51.9 656.4 L65.4 655.2 L78.8 656.6 L92.2 658.7 L105.7 658.6 L119.1 658.4 L132.6 659.0 L146.0 657.9 L159.4 655.6 L172.9 655.7 L186.3 657.1 L186.3 681.6 L172.9 681.2 L159.4 681.0 L146.0 679.3 L132.6 678.8 L119.1 680.9 L105.7 682.1 L92.2 681.7 L78.8 682.3 L65.4 682.6 L51.9 680.7 L38.5 679.0Z" fill="url(#bandgrad)"/>
<path transform="scale(.5)" d="M233 1315l-2 1M230 1316l1 2M223 1314l3-1M108 1309l2 2M95 1357l-1 1M264 1316l1 0M85 1312l1-1M226 1316l1-3M338 1307l-1 1M284 1311l-3-1M212 1365l3-1M172 1314l-1 0M263 1317l1-4M288 1313l1 3M287 1315l-4 2M230 1361l0-2M326 1362l0 2M326 1310l-1 0M364 1312l-2-3M213 1363l-4-1M227 1315l0 2M210 1316l-3 0M295 1358l2-2M311 1310l-1-2M272 1315l-1 0M242 1315l2 2M276 1315l3 0M316 1307l2 1M363 1312l-1-3M168 1362l2 2M271 1357l2-1M330 1362l-1-2M84 1362l-2 1M89 1361l-1 3M207 1315l2 3M166 1311l-1 2M91 1312l1-3M136 1311l3 0M99 1313l-1 3M202 1316l3 0M131 1309l-2-1M156 1363l-2-1M331 1311l2 1M313 1310l3 0M157 1365l-1-1M160 1365l1 3M181 1317l0-3M173 1315l-1-3M273 1316l1 0M366 1361l-2-3M245 1316l3-1M186 1317l1-4M102 1308l0 2M142 1309l3-2M214 1314l-1 1M305 1308l0-4M83 1356l0-2M238 1315l1 3M253 1361l-4 0M267 1313l1-1M195 1314l-2 2M178 1313l-1 2M247 1317l1-2M135 1307l3 0M116 1309l-2 2M200 1364l1 1M117 1309l-2-2M344 1310l0-2M290 1313l1-2M232 1315l-1-1M122 1305l3-2M84 1314l-3 1M196 1312l-1-3M137 1310l-1 2M328 1309l2 2M266 1362l-1-3M173 1362l0 1M265 1316l2-1M193 1363l3-2M121 1307l1 1M131 1309l1-3M148 1311l-2 1M193 1369l4 0M323 1361l0 4M305 1308l-3 0M249 1315l0 1M201 1314l-1 1M139 1309l-2-1M221 1365l1 2M306 1312l-1-4M133 1309l-3 1M320 1307l-2 0M341 1308l3 1M202 1364l3 3M208 1363l-2-1M334 1362l1 0M250 1361l0-1M159 1311l-1-3" stroke="#d42a2a" stroke-width="2" stroke-linecap="round" fill="none"/>
<path transform="scale(.5)" d="M267 1361l-1 3M206 1315l2-2M265 1357l1-1M223 1364l2 1M172 1362l1-3M247 1315l2-1M328 1365l-1 0M114 1360l-3 0M188 1314l0 1M201 1314l1 0M371 1366l-3 2M293 1357l2-2M160 1367l1 3M155 1362l-2-3M124 1362l-1 3M213 1364l2-2M314 1363l-1 0M329 1362l1 1M134 1365l-2 1M183 1365l-1 2M185 1361l1 4M138 1364l-2 0M92 1357l2-1M317 1359l-3-1M90 1358l-1 0M223 1317l1 2M297 1358l2 1M318 1311l0-3M310 1358l-1-3M141 1366l0-1M300 1360l0-2M340 1310l3-1M197 1361l2 0M236 1316l3 2M209 1362l-1 0M171 1367l4 0M302 1360l-3 2M243 1365l-1-1M273 1314l1 1M281 1312l1-2M180 1363l0 1M161 1362l3 2M148 1362l-2 1M354 1361l2 1M190 1316l0-1M357 1370l-1 2M125 1363l-2 3M323 1310l2 1M345 1361l2 1M186 1317l3 2M95 1362l3-1M361 1365l4 0M174 1367l1-2M194 1368l-1-2M214 1365l1 2M311 1362l2 1M339 1362l2 1M256 1361l-2-4M79 1359l0-1M204 1362l0 3M281 1355l0 4M180 1362l4-2M254 1360l3 0M240 1361l-1-2M212 1316l4-1M180 1361l1 0M92 1359l0-3M119 1310l-2 0M262 1360l2-1M347 1362l2-1M178 1363l-2-2M346 1310l-2 1M135 1364l1 1M230 1360l2 1M214 1362l-3 0M129 1362l2 0M118 1307l0-1M310 1359l-1 0M268 1355l-3 2M101 1361l3-2M241 1360l-1-3M160 1365l-3-2M186 1317l2 2M115 1308l0-2M339 1309l-2-3M239 1314l2 3M250 1362l3 0M197 1363l3 3M212 1361l1 2M162 1311l2-2M156 1366l-4-1M206 1361l0 1M345 1360l1-3M127 1363l-2 0M199 1364l2 2M362 1362l-1 2M148 1364l3-2M308 1362l-1-1M143 1363l-1 0M319 1364l0 3M177 1361l1-1M280 1364l2-1M307 1359l2 0M224 1364l3-2M162 1312l-2 3M250 1357l1-1M287 1360l1-1M131 1367l-2 0M179 1315l2 1M138 1310l-1-2M134 1363l3 3M338 1309l-3-1M333 1306l-3 0M351 1361l0 3M167 1362l2-1M185 1362l-2 0M179 1363l-2-1M308 1360l2 1M114 1361l3-1M304 1360l2 3M291 1357l1 4M136 1363l-2-1M268 1315l3-1M188 1316l3 1M164 1364l0-2M361 1312l-3-1M221 1362l-2 3M269 1318l2-1M313 1308l1 2M359 1360l2-1" stroke="#505050" stroke-width="2" stroke-linecap="round" fill="none"/>
<path transform="scale(.5)" d="M107 1318l3-1M286 1320l3-2M143 1312l-2-2M150 1365l-2-2M166 1367l-1-2M216 1360l0-3M181 1359l-2 3M188 1360l-2 1M274 1356l-4 1M139 1312l0 2M315 1310l1 2M136 1365l2 2M334 1361l1 3M222 1315l3 4M178 1317l2-1M292 1356l-3 3M183 1361l1 0M196 1321l2-3M369 1314l1-2M99 1312l2-1M194 1362l1-2M318 1310l-2 2M85 1359l0-3M295 1359l2 3M340 1318l2 1M306 1315l0 3M303 1312l-2-2M228 1362l1 2M251 1361l-2-2M304 1312l1 0M256 1359l4-1M137 1364l0-3M197 1317l-1 1M149 1360l1 0M361 1363l-1 1M230 1362l0-4M259 1320l4 0M266 1317l3-1M367 1363l-3-1M318 1310l2 3M275 1360l0-2M83 1359l-3 1M317 1312l3-2M240 1363l-4-2M227 1323l1-3M111 1311l-2 3M178 1316l-2 1M343 1362l-1 0M294 1317l0 1M93 1314l-1-4M185 1316l-1-1M261 1318l-1-1M331 1363l1-1M338 1316l-2-3M93 1360l-2 3M332 1319l-2 3M159 1363l0 4M132 1364l-3 0M132 1366l0 1M107 1364l0 4M119 1361l1 1M114 1365l-2 2M93 1357l2-3M229 1365l-1-2M118 1314l-1 2M241 1357l3 2M264 1357l-3 3M169 1315l1-1M361 1363l-1-3M338 1312l-4 1M184 1364l1 1M289 1357l-2 0M254 1318l2 3M225 1316l2 3M273 1316l-1-1M254 1318l1-1M145 1365l-2 2M92 1357l2 2M354 1312l1-1M220 1364l1-2M167 1364l0 2M86 1316l1 0M130 1367l-2-3M135 1311l4-1M96 1362l2-2M314 1311l2 1M288 1359l1-1M354 1361l-2-1M151 1363l-1 1M225 1320l-3 2M111 1310l3 3M226 1318l0 1M171 1316l-3 1M362 1312l4 2M264 1317l-1-1M174 1317l2 3M91 1312l-1 2M356 1363l-3-3M186 1318l-4 2M138 1364l0-4M309 1313l1-1M361 1317l0 4M325 1364l0-2M304 1362l0 2M135 1309l-3 2M253 1315l-1 3M184 1316l1 0M327 1362l-1 0M203 1317l-1-1M328 1364l-1 2M313 1363l-4 0M329 1359l0 2M258 1322l0 2M295 1316l1-3M314 1311l-3 2M99 1311l-2 1M188 1316l-3 1M299 1314l-2 0M263 1318l-2-1M320 1361l2-3M167 1313l0 1M138 1367l-2 1M223 1364l0-2M160 1314l-2 2M361 1311l-3 1M126 1309l1-2M320 1362l0-3M345 1315l1-2M305 1362l2 2M164 1315l-4-1M145 1364l1 1M291 1361l-1 3M143 1365l-1 1M108 1361l2-1M180 1317l2 0M201 1317l1 0M209 1317l2-3M360 1311l4 0M341 1309l-4 2M118 1311l-3 1M261 1359l4-1M205 1364l-1-1M213 1366l0-3M270 1356l0 3M328 1312l-3-2M325 1312l-1 2M265 1318l0-2M229 1320l2 3M347 1364l0 2M146 1366l-2 3M153 1363l4-1M268 1316l-3 0M89 1313l-2-1M341 1313l-4-2M289 1359l-2 0M133 1363l-1 4M210 1317l-2-3M279 1320l3 2M118 1312l4-1M263 1359l-3 0M95 1312l-1-4M199 1364l0 2M228 1315l1-1M318 1315l-2 4M366 1314l4-1M346 1314l1 1M201 1365l-1 1M175 1317l2-1M86 1359l0-1M349 1363l-3 2M330 1363l4 0M331 1364l-1-1M340 1360l-3-1M137 1311l-3-2M140 1366l1 0M180 1365l3-1M239 1364l1 4M201 1365l-2-1M344 1311l-3-2M167 1366l1-3M141 1367l-3 2M149 1313l4-2M236 1316l1-2M159 1314l2 2M133 1311l-1-4M89 1316l0 2M154 1320l-2-2M153 1311l1-4M248 1351l2 3M190 1364l-3 1M367 1318l-1-1M350 1360l1 1M197 1365l0-3M128 1311l-3 2M135 1366l-1 3M124 1310l-3-1M331 1359l-4-1M128 1364l0-2M183 1366l2 3M269 1320l-1 3M197 1363l3-2M243 1363l0 4M366 1314l-1 1M204 1317l0-3M240 1361l-3 0M206 1363l-2 0M245 1358l1-3M278 1315l-1-1M98 1313l-1 1M357 1362l-2-1M82 1360l1-2M289 1316l-4 0M102 1362l-1 4M151 1317l4-2M161 1363l4-1M360 1363l1-1M332 1316l-1-2M226 1315l-2 0M357 1312l3-1M344 1310l-1-2M328 1310l0 3M271 1319l1 1M329 1362l0-2M150 1313l3-1M262 1318l2 1M351 1364l-1 2M306 1361l-4-1M126 1309l3 2M332 1362l2 0M166 1315l3-1M147 1316l-2 1M310 1362l-4 1M368 1315l-2-3M160 1365l3-1M212 1319l0-2M82 1315l0 2M147 1313l3 2M191 1366l-2 0M249 1316l-4 0M302 1317l-2 1M343 1310l2 2M368 1318l1 2M197 1365l-1 1M139 1313l2-3M217 1317l-3-3M125 1362l3 1M205 1319l-1 1M306 1319l-3-1M322 1364l0 3M243 1317l0 1M140 1314l1 1M363 1311l4-1M124 1313l3-1M95 1316l-1 0M337 1362l0 1M337 1364l3 0M197 1366l-1-2M292 1357l3 2M289 1319l0-2M284 1356l1-1" stroke="#4a5252" stroke-width="2.2" stroke-linecap="round" fill="none"/>
<path d="M38.5 733.9 L51.9 735.8 L65.4 735.3 L78.8 734.6 L92.2 734.9 L105.7 733.6 L119.1 731.7 L132.6 732.4 L146.0 734.2 L159.4 734.4 L172.9 734.7 L186.3 736.0 L186.3 759.5 L172.9 758.5 L159.4 757.2 L146.0 758.5 L132.6 760.6 L119.1 760.7 L105.7 760.3 L92.2 761.0 L78.8 760.0 L65.4 757.7 L51.9 757.6 L38.5 759.1Z" fill="url(#dense2)"/>
<path d="M38.5 733.9 L51.9 735.8 L65.4 735.3 L78.8 734.6 L92.2 734.9 L105.7 733.6 L119.1 731.7 L132.6 732.4 L146.0 734.2 L159.4 734.4 L172.9 734.7 L186.3 736.0 L186.3 759.5 L172.9 758.5 L159.4 757.2 L146.0 758.5 L132.6 760.6 L119.1 760.7 L105.7 760.3 L92.2 761.0 L78.8 760.0 L65.4 757.7 L51.9 757.6 L38.5 759.1Z" fill="url(#bandgrad)"/>
<path transform="scale(.5)" d="M192 1466l2-2M347 1468l-2-2M270 1464l-1 0M311 1467l-1 0M287 1517l1-1M213 1522l-1-2M110 1513l2-1M332 1469l1 1M288 1468l0-3M141 1515l-1 0M322 1516l1 2M147 1516l-3 2M355 1517l2-3M315 1468l1-3M141 1468l2 3M236 1520l-2 0M338 1515l2-2M301 1466l-1 0M367 1470l-1 1M81 1518l-2 0M259 1461l0-2M152 1468l2 0M138 1470l-2-1M187 1467l-1 2M189 1469l2-1M347 1466l3-3M250 1523l-3 0M273 1518l1 0M141 1467l-1 2M113 1468l1-3M281 1516l3-3M279 1462l1 0M356 1517l-1-3M95 1518l-1-1M186 1520l-1 2M355 1517l-1 1M116 1512l2 0M198 1468l1-3M152 1520l-3 0M327 1514l-1-1M220 1466l1 0M358 1520l0 2M359 1468l-1 4M250 1463l-1-4M293 1467l-3-1M184 1524l-2 0M167 1519l-1 3M315 1520l1-4M230 1519l0-3M271 1465l-1 1M285 1518l-4 0M237 1464l3 3M274 1521l0 1M264 1464l-1-1M315 1468l1-2M158 1468l-2-1M355 1518l1-2M139 1468l2-2M273 1518l-3 1M365 1468l0-2M148 1468l-4 0M255 1460l-1 2M104 1517l1-1M195 1519l-1 0M267 1464l1 2M187 1466l-2-1M310 1468l3-2M192 1522l-1 1M317 1512l-2-3M167 1520l-3-2M185 1519l-1 0M188 1468l0-3M124 1516l1-3M310 1463l2-1M306 1464l3 1M323 1512l2 1M260 1519l2 3M273 1519l2-3M317 1465l-2 2M301 1515l-1-4M321 1464l-1 2M355 1470l0 1M216 1467l2 0M161 1517l1-2M132 1470l-1-1M96 1470l-3-1M254 1522l0 1" stroke="#d42a2a" stroke-width="2" stroke-linecap="round" fill="none"/>
<path transform="scale(.5)" d="M201 1521l3 2M123 1516l1-2M122 1515l-1-3M232 1522l1 1M349 1468l2 0M175 1468l-1 2M305 1517l3 1M125 1470l-3-1M293 1520l-2-2M273 1519l2 3M300 1514l2 2M328 1514l-1 1M177 1519l0-2M273 1524l2 0M276 1521l1 2M369 1471l-2 0M189 1467l0-2M279 1466l-3-2M151 1468l-2 3M153 1516l0-1M232 1519l-1-1M341 1516l-3 1M99 1513l-1 0M218 1519l2 2M325 1465l-1-3M350 1470l1-2M171 1520l-1 1M98 1468l1 2M206 1523l1 1M159 1517l-2-2M330 1513l-1 1M241 1521l0-3M202 1520l1 1M169 1465l-3-1M264 1519l0 1M296 1467l-1 2M318 1513l3-1M337 1517l-2-2M139 1514l-1 1M162 1518l-2-2M322 1515l2 1M182 1463l0-3M172 1522l-2 1M213 1464l2-3M157 1469l1 1M366 1516l-2-1M184 1519l-1 0M199 1518l2 1M130 1513l-4 1M262 1465l-2-3M313 1514l0-1M119 1515l0 2M168 1518l1-1M132 1514l0-2M210 1521l1 1M175 1523l-2 0M106 1514l3-2M104 1514l1 1M251 1523l-2-3M311 1515l1-1M149 1519l1 2M101 1515l-1 1M304 1465l3-1M177 1519l1 3M354 1467l-3 0M312 1513l-2 2M248 1519l0 2M326 1514l-2 1M128 1517l0 1M215 1519l-1-2M236 1461l1 1M107 1470l1-3M253 1519l1-1M121 1512l3 0M120 1521l2-1M211 1462l-3 0M355 1516l0-3M313 1513l2-3M163 1520l2-1M120 1468l-2-4M265 1521l0 3M206 1521l-4 1M214 1518l0-2M321 1467l-1 3M284 1515l2 0M261 1519l0-1M176 1469l2-1M129 1517l-1 3M324 1467l1-1M285 1523l2 3M134 1514l2 3M202 1522l3 3M86 1518l1 1M94 1468l2 0M287 1517l0-3M110 1513l-3 0M246 1461l-3 3M362 1518l-3 2M170 1523l-3 2M100 1514l2 1M344 1465l0 1M117 1514l-1-2M92 1515l-3-2M222 1521l1 4M137 1469l-2 3M79 1521l-2-1M178 1523l-3 2M149 1520l0-4M180 1521l0 2M262 1521l-2-2M248 1520l-2 0M238 1519l-3-2M107 1515l0 3M223 1463l0-2M152 1516l0-2M342 1515l1-4M170 1468l2 3M241 1519l2 0M143 1470l-2-1M123 1516l-1-2M154 1519l-1 3M353 1515l-2 2M218 1518l3 1M365 1516l-1 2M96 1517l-4 0M255 1520l1-2M371 1519l1-2M324 1513l-1-1M184 1523l-2-2M265 1523l3-3M214 1520l-1 1M126 1514l-1-1M340 1514l2 0M356 1516l-2 0M220 1464l1 1M278 1518l0-1M243 1519l0-1M329 1515l-2-2M167 1521l-1-2M130 1465l2 1M184 1469l1 2" stroke="#505050" stroke-width="2" stroke-linecap="round" fill="none"/>
<path transform="scale(.5)" d="M176 1521l2-1M317 1514l-1 4M291 1466l-1-1M295 1472l-3-1M315 1515l-3-2M208 1467l-4 1M92 1469l3 0M115 1517l2 2M169 1520l-3-2M165 1517l-3 2M265 1469l2-3M359 1471l1-4M301 1467l-1-2M268 1520l3-2M306 1469l0-1M154 1518l1-2M83 1470l1 0M306 1467l2-2M217 1467l0 3M177 1521l1-1M266 1464l3-1M190 1520l-2 0M306 1515l-1-2M275 1522l3 1M271 1467l3-2M86 1518l2 1M121 1469l0-3M171 1471l3 0M241 1516l-4 0M267 1465l1 0M264 1521l-1-3M99 1517l1 3M90 1471l1-1M187 1523l2-3M107 1518l-1-3M259 1515l-1-4M328 1516l1 2M176 1520l0-3M124 1473l-1 2M247 1467l2-4M252 1522l-1 4M337 1472l2-4M320 1467l-3 1M219 1465l-3-2M209 1523l-1 3M314 1516l1 2M169 1522l-3 2M264 1463l-2 3M80 1469l-2-3M332 1515l1-4M112 1513l-2 2M214 1468l-1 2M265 1520l4 1M334 1518l-1-3M208 1466l-2 1M115 1517l4-1M302 1517l2-1M332 1515l-2 3M225 1466l0 3M276 1518l-1-1M305 1475l-1 0M152 1518l-1 2M231 1523l0 1M338 1518l0-3M178 1470l-2-2M159 1469l0-3M282 1519l1 0M224 1463l-4 0M91 1474l1 0M192 1470l1-2M207 1521l2 2M268 1464l1 4M156 1521l1 2M88 1470l4 1M269 1464l1 1M100 1472l3 2M154 1521l0 1M330 1467l0-2M277 1468l-1 1M114 1517l0 3M159 1468l-3-1M157 1468l3 3M168 1516l1 1M301 1517l0 1M288 1515l0-1M298 1518l-2 2M83 1519l-4-1M338 1515l1 1M220 1521l3-1M271 1518l-2-3M123 1471l1 1M118 1474l-4 0M83 1468l1-3M103 1517l-2-1M130 1472l0 2M328 1517l-1-2M369 1520l-2 2M215 1523l-3 0M282 1466l3-1M85 1516l-4 1M191 1468l-1-3M194 1468l1 1M302 1517l2 1M189 1472l-4 1M206 1466l-1-3M175 1520l-1-3M307 1469l-3 1M221 1470l-3 3M86 1517l0-3M305 1515l0 2M135 1515l-1-2M293 1468l3-1M227 1464l0 2M339 1515l1 0M229 1463l2 3M257 1467l3-3M105 1471l1 4M154 1468l-3-1M271 1521l-1-1M261 1519l-1 0M330 1473l3 2M272 1467l2-2M83 1468l-1 1M171 1517l1-4M104 1512l-2-1M152 1469l-3 1M166 1517l2-2M324 1469l4 1M204 1470l2 1M315 1515l-3 0M340 1468l1 0M332 1468l-2-3M206 1521l-1 1M323 1467l-2 3M322 1468l1-4M206 1466l-2-4M312 1515l3-2M250 1468l-2-1M356 1518l0-2M309 1468l-1 3M112 1516l0 4M208 1517l-1-2M99 1473l3-2M296 1469l0-3M286 1469l-3-2M327 1470l-2 1M136 1473l0-2M123 1513l2 2M303 1469l2-3M223 1467l0-1M110 1470l-4-1M85 1519l-2 2M217 1520l4-2M200 1468l3-3M259 1524l2 2M136 1469l1 0M83 1517l3 3M336 1514l-3-4M302 1516l2 1M236 1463l0 2M228 1466l0 2M234 1467l-4-2M192 1468l-2-2M293 1469l2 1M160 1467l2 1M114 1516l4 1M217 1523l3 3M113 1469l-1-1M212 1519l-2-1M297 1517l2 0M213 1522l-4 0M168 1468l-3-1M143 1520l-1 2M107 1472l-4-1M107 1472l-1-3M220 1520l1 2M270 1467l-1 1M204 1468l1 2M337 1469l2 0M226 1465l0 2M169 1468l-1 0M100 1517l2 0M364 1520l3-2M205 1523l-1-3M82 1469l2 3M83 1517l-3 1M199 1466l1 4M290 1469l1 2M337 1517l4 2M302 1467l-1-1M327 1514l-2 3M135 1471l2-2M279 1466l1-3M355 1474l-2 1M305 1470l2-1M345 1472l0-1M162 1521l-3 0M198 1466l1-1M231 1524l1 2M179 1522l0 4M280 1517l-3-3M240 1463l2-3M213 1467l-1 1M207 1520l-1-3M271 1522l2-4M108 1512l0-2M265 1521l4 2M355 1516l-2-1M123 1471l4 1M86 1512l2-2M271 1520l-2 0M281 1469l1 3M155 1520l1 1M238 1461l2-2M128 1476l0 2M173 1470l3 2M257 1465l0-3M193 1468l-1 1M207 1471l-2-3M230 1522l0 1M291 1472l3 0M142 1510l-4 1M96 1470l3 3M206 1522l3 0M115 1471l1-3M212 1521l-1 1M91 1469l4 0M304 1467l2-1M164 1519l2 1M302 1467l0 1M352 1471l3 1M294 1517l2 2M97 1517l-1 3M195 1523l0 3M227 1522l3 0M133 1518l0-2M164 1522l-1-1M136 1469l-3 0M175 1521l2-2M92 1517l-2 1M87 1516l4-1M135 1518l-3-1M321 1472l2-2M354 1468l1-1M254 1463l1 0M264 1524l1 1M267 1466l-1-2M349 1518l-4-1M174 1473l1 4M161 1522l0-1M352 1472l0-2M143 1517l1-1M171 1468l-4 0M116 1512l-3 3M128 1469l2 2M238 1464l0 2M273 1469l0 1M249 1463l-4 1M288 1468l4 2M88 1468l1-1" stroke="#4a5252" stroke-width="2.2" stroke-linecap="round" fill="none"/>
<path d="M38.5 805.0 L51.9 804.3 L65.4 803.5 L78.8 803.6 L92.2 802.4 L105.7 800.7 L119.1 801.5 L132.6 803.5 L146.0 803.6 L159.4 803.8 L172.9 804.9 L186.3 804.1 L186.3 828.4 L172.9 829.6 L159.4 831.8 L146.0 832.0 L132.6 831.2 L119.1 831.6 L105.7 830.9 L92.2 828.7 L78.8 828.4 L65.4 830.2 L51.9 830.7 L38.5 830.8Z" fill="url(#dense2)"/>
<path d="M38.5 805.0 L51.9 804.3 L65.4 803.5 L78.8 803.6 L92.2 802.4 L105.7 800.7 L119.1 801.5 L132.6 803.5 L146.0 803.6 L159.4 803.8 L172.9 804.9 L186.3 804.1 L186.3 828.4 L172.9 829.6 L159.4 831.8 L146.0 832.0 L132.6 831.2 L119.1 831.6 L105.7 830.9 L92.2 828.7 L78.8 828.4 L65.4 830.2 L51.9 830.7 L38.5 830.8Z" fill="url(#bandgrad)"/>
<path transform="scale(.5)" d="M101 1663l-4-1M332 1608l3-2M358 1609l1-3M98 1609l1-2M368 1605l2-1M244 1660l-2 3M329 1608l0 2M162 1606l-2-1M157 1657l0-3M305 1607l-1-2M192 1659l2 0M125 1607l-2-2M281 1661l0-2M201 1600l-3-2M336 1609l1-1M348 1609l2 0M153 1661l-2 1M196 1598l2-1M89 1664l-3-1M162 1602l-2-2M225 1662l-2 0M121 1661l-1 3M144 1606l-2-3M82 1663l0 4M124 1658l2 1M331 1608l1-1M130 1606l2-2M84 1665l-1-1M174 1605l-4 0M273 1662l1-2M180 1605l-3-1M95 1666l3-1M340 1657l2-2M276 1607l3-1M133 1603l-1 2M171 1606l2-1M128 1662l3-1M82 1606l-1 2M229 1601l0-2M205 1663l-3 0M87 1660l-3-2M226 1601l-1 0M330 1608l0-2M200 1599l-2-3M230 1602l-3-2M213 1598l1 2M370 1605l2-2M169 1656l-2-1M82 1662l3 2M294 1606l-3-1M230 1661l0-4M265 1660l3 0M86 1609l2 0M114 1606l-3 1M152 1660l1-1M346 1607l-3 1M102 1602l-3 0M329 1605l1-2M82 1608l2 2M144 1603l1-2M304 1606l3 1M154 1603l0-1M216 1664l-1 1M361 1656l0 2M99 1608l2 0M106 1607l-3 1M314 1605l-3 1M164 1606l2 3M161 1604l-1 0M370 1606l2 2M197 1603l4-1M262 1660l2-3M330 1607l3-3M193 1603l-3 2M322 1605l-3 0M260 1666l0-3M152 1603l1-1M276 1604l0-2M113 1604l0 3M310 1604l3 0M209 1597l0 4M240 1663l-1 0M102 1606l-1-1M120 1660l3 2M348 1608l3 3M334 1607l1 2M98 1664l-1 2M155 1601l-2 2M113 1659l-2-3M158 1607l-2 1M166 1603l0-1M257 1605l0 1M134 1606l-2-3M256 1665l-1 2M187 1604l-1-1M151 1604l1 0M229 1663l-2-3M242 1601l3-2M170 1656l-1-1M276 1606l2 2M217 1660l1-3M118 1608l-3 1" stroke="#d42a2a" stroke-width="2" stroke-linecap="round" fill="none"/>
<path transform="scale(.5)" d="M317 1663l3-1M203 1601l-1 1M137 1659l1-3M321 1660l-3-2M314 1664l3-2M315 1664l0-3M329 1662l3 1M269 1661l-2 1M364 1658l2 3M226 1662l2 0M337 1659l-1 4M340 1663l-3 3M162 1601l-3 1M302 1665l2-3M367 1607l1-3M194 1660l1-1M249 1665l0 1M194 1659l2 0M365 1656l1-1M99 1663l0-3M90 1660l2 1M266 1664l1 1M292 1662l3 0M354 1660l-2-2M103 1608l-2-3M124 1660l0 1M116 1606l-1-1M292 1662l-2 3M255 1663l0 1M345 1658l-1 1M204 1660l1 1M231 1665l3 1M169 1655l0-3M358 1607l-1-1M230 1662l-2-2M305 1664l-4-1M324 1663l1 0M281 1662l3 1M306 1662l2 0M342 1660l3 1M121 1658l3 1M326 1608l-1 0M133 1658l0-1M142 1657l-2 1M327 1663l-1-1M107 1661l1-1M336 1658l-3 1M209 1660l1 1M237 1662l-2 2M136 1658l3 2M195 1660l-3 0M168 1655l2 0M205 1664l-2 2M298 1666l1-3M237 1661l2 0M190 1656l-1-1M311 1667l0 2M159 1663l-3 3M88 1659l-1 0M342 1663l4 1M188 1656l-1-1M216 1660l3-1M337 1608l1 1M135 1660l2 2M239 1664l1 2M117 1658l0 2M90 1607l-2-2M301 1672l2-3M308 1662l0 3M108 1605l-3-1M145 1656l-2 1M165 1605l-2-1M180 1601l-1-2M366 1660l-1 0M254 1661l-1-1M157 1655l3-2M312 1664l-2 0M202 1658l3 2M192 1657l-2-3M353 1657l4 1M204 1660l1 1M187 1659l-1 1M211 1661l1 0M105 1660l-1-1M293 1663l-1 2M249 1661l1-1M144 1607l-1-4M250 1660l-2-3M287 1664l0 1M217 1660l1-1M168 1606l2-3M334 1662l1-1M339 1608l0-2M195 1656l-3 0M231 1663l-2-2M136 1659l-1-2M366 1659l1-1M156 1656l2-2M320 1661l-1 2M345 1659l1-2M111 1661l-2 2M356 1660l2-1M254 1605l-3-2M136 1659l1 1M285 1661l1-3M169 1654l3 1M325 1664l-1-1M242 1663l-1-1M258 1605l1 3M175 1658l-3 0M86 1609l-4 0M186 1655l-1-1M133 1660l1 3M194 1599l0-3M125 1660l3 0M175 1655l-3 1M314 1663l-1-1M80 1661l-3-3M201 1599l3-1M209 1601l-1 1M341 1659l1 1M361 1656l-2-2M96 1659l2 3M292 1663l-2-4M206 1662l0 3M178 1655l3-1" stroke="#505050" stroke-width="2" stroke-linecap="round" fill="none"/>
<path transform="scale(.5)" d="M334 1663l-1-2M312 1607l0 1M253 1611l-1 3M314 1607l1 1M224 1661l0 4M229 1665l-4 0M191 1659l-2-3M168 1659l4 0M327 1608l-3 3M307 1659l-1 2M159 1606l0-4M229 1665l1 1M321 1666l-2 3M126 1605l-1 0M205 1663l-3-2M141 1610l-2 3M115 1660l-2-1M232 1661l1-3M211 1662l1-1M244 1664l4-1M366 1656l-2-3M157 1656l0 3M204 1601l-3-2M194 1606l3 1M204 1603l-1 2M260 1604l3-3M171 1607l0 3M347 1658l-1-2M183 1604l-2 1M121 1661l-1-4M214 1604l1 0M141 1658l-1 3M89 1657l1 2M353 1608l-2-2M274 1605l-1 0M86 1659l3-2M144 1659l-1-3M331 1607l-1 2M140 1660l0-3M213 1602l-1 3M186 1609l-2-1M130 1605l1-2M292 1664l2-1M336 1607l-2 0M132 1662l-1 0M118 1608l2 0M210 1600l1-4M244 1661l-1-2M335 1659l1 1M231 1659l-3-1M167 1604l-3 0M212 1601l1-1M290 1607l2 3M158 1611l3-3M92 1660l1-2M316 1608l-1 0M359 1608l1 1M132 1662l-1 1M333 1657l1-1M327 1607l3-3M218 1604l1 3M158 1606l-1-1M191 1602l-2 2M178 1608l2 2M276 1665l1-2M101 1660l-3-1M305 1664l1-1M203 1602l-1-2M212 1661l1-2M298 1606l2 4M198 1605l0-1M183 1603l0 1M249 1661l-3-1M156 1655l-2-2M340 1659l0-2M143 1609l0-2M324 1659l-3 0M89 1664l-3 1M277 1663l-3-1M81 1608l-1-1M252 1605l2-1M196 1661l4-2M83 1663l2 0M147 1656l-1-4M106 1607l1 1M250 1662l-1-2M217 1659l1-2M165 1608l2-2M361 1658l3-2M339 1611l-2 2M163 1649l3-3M318 1665l1 3M320 1607l-3 2M220 1660l1-3M319 1610l1-2M257 1658l-1-4M144 1606l4 0M333 1659l-2 0M142 1607l0 2M336 1662l3-2M158 1658l-1 0M194 1660l0-3M231 1601l1 0M314 1666l-2-3M131 1606l-2 4M229 1602l-4 0M230 1603l0-2M128 1608l-3 2M148 1659l2-1M263 1605l-3 1M194 1655l-1 1M339 1661l1 4M270 1663l-1 2M280 1662l0-2M202 1604l0 4M264 1605l1-4M358 1608l1-2M261 1606l-2 1M96 1607l2-3M241 1658l-3-2M106 1662l-4 2M219 1656l1-1M270 1606l-1 2M122 1662l2 2M368 1659l-1 1M187 1603l-1-2M263 1664l2 4M312 1666l4-1M114 1607l1-3M262 1606l-2-2M231 1665l-3-3M272 1605l2-3M343 1660l4 2M229 1607l2-2M211 1655l-1 3M214 1605l1 4M309 1606l-2 0M226 1664l4 0M182 1653l-1-2M157 1658l2 2M149 1607l1 4M100 1658l-2-2M340 1608l-2-1M303 1606l2 2M290 1664l-3 3M368 1654l-3 1M86 1660l2 1M306 1609l0-4M168 1606l-2 1M275 1665l1-2M212 1600l-1 1M148 1605l0-2M83 1663l2-1M265 1662l4 1M255 1607l4 0M102 1661l-3 0M363 1656l4-1M151 1608l1 1M302 1607l-2 0M135 1657l-3-2M183 1607l2 2M206 1661l-1 1M187 1607l-2-3M100 1663l0-2M154 1654l1-4M237 1601l-3-1M90 1663l4 1M294 1605l-2 2M318 1608l0 3M104 1660l-1-2M138 1662l-1 1M313 1666l3 1M318 1662l-2 1M179 1657l-2 2M118 1606l1 4M314 1666l-2 0M320 1663l2-2M349 1608l-2 3M140 1661l-2-1M284 1663l2 2M207 1601l-3-1M204 1661l2 2M343 1657l0-1M359 1609l0-1M82 1612l-1 2M105 1610l0-3M119 1611l3-1M121 1660l0 2M173 1656l-3 2M131 1660l-3-2M220 1663l0 1M118 1658l1 1M295 1663l-2 1M194 1605l-3 3M367 1607l2 2M269 1606l-2 0M216 1603l-3-1M364 1608l1 2M121 1606l-3 0M110 1613l0 1M240 1603l-2 2M157 1658l2 0M105 1662l2 0M166 1659l3-1M156 1607l-2 0M81 1612l-1 4M259 1657l3 2M280 1605l1 4M120 1661l-1-3M162 1608l-2 0M247 1605l-2-4M113 1660l1-1M92 1607l2-1M81 1613l-1-4M124 1662l-1 0M124 1662l-1-2M278 1666l0 1M158 1607l4 2M274 1606l1-1M360 1608l3 1M271 1607l-2 3M134 1658l4-2M364 1608l-2 0M117 1661l1-3M92 1607l-2-3M112 1662l0 2M308 1608l1 1M171 1604l4 0M135 1659l1-1M252 1604l-3-2M324 1664l-2 1M354 1660l3-2M248 1663l0 4M97 1607l-3 3M348 1610l1 0M90 1607l-2 0M116 1608l-2 1M148 1606l-2 0M253 1664l1 1M251 1665l3 3M266 1663l1-1M314 1606l-1-2M328 1607l4 1M242 1661l-1-1M224 1661l-2-2M327 1610l-2 1M205 1601l3-2M293 1661l1 4M336 1612l2-2M331 1609l1-1M123 1662l2-2M247 1602l-1-2M303 1608l-1 2M294 1607l1 1M129 1611l3-3M339 1662l1 1M301 1663l-1-2M88 1664l-3-3M232 1601l0-4M165 1655l-1 1" stroke="#4a5252" stroke-width="2.2" stroke-linecap="round" fill="none"/>
<path d="M38.5 880.1 L51.9 880.2 L65.4 879.2 L78.8 877.7 L92.2 878.7 L105.7 880.8 L119.1 881.0 L132.6 880.8 L146.0 881.6 L159.4 880.9 L172.9 878.5 L186.3 878.1 L186.3 904.1 L172.9 906.4 L159.4 906.6 L146.0 905.7 L132.6 905.9 L119.1 905.3 L105.7 903.2 L92.2 902.9 L78.8 904.7 L65.4 905.5 L51.9 905.4 L38.5 906.6Z" fill="url(#dense2)"/>
<path d="M38.5 880.1 L51.9 880.2 L65.4 879.2 L78.8 877.7 L92.2 878.7 L105.7 880.8 L119.1 881.0 L132.6 880.8 L146.0 881.6 L159.4 880.9 L172.9 878.5 L186.3 878.1 L186.3 904.1 L172.9 906.4 L159.4 906.6 L146.0 905.7 L132.6 905.9 L119.1 905.3 L105.7 903.2 L92.2 902.9 L78.8 904.7 L65.4 905.5 L51.9 905.4 L38.5 906.6Z" fill="url(#bandgrad)"/>
<path transform="scale(.5)" d="M370 1810l-2-3M101 1755l2-2M240 1762l2 3M89 1755l2-3M235 1807l-2-2M157 1753l3 2M291 1811l-2-2M271 1761l1 3M332 1816l-2-1M360 1809l1-1M159 1807l-1 0M169 1751l1 0M328 1813l-4-1M365 1810l1 1M146 1756l1-2M287 1762l1-2M165 1806l2-1M316 1811l3 0M80 1759l2-1M136 1810l0-2M246 1810l0 3M156 1811l2-2M235 1757l-3 1M161 1753l0 4M150 1808l-2 0M311 1760l-1 0M304 1758l-1 1M169 1805l-3 1M302 1762l-1-1M357 1756l2-1M344 1755l-1-2M299 1762l-2 1M288 1761l-2 1M120 1813l-3 0M201 1759l-1 4M369 1755l1-1M140 1755l-4 0M243 1810l4-1M288 1759l1-2M156 1807l2-1M272 1759l0-1M218 1755l0-3M311 1757l-2 0M207 1758l0-4M157 1809l1-3M296 1812l1 1M287 1760l3-2M124 1757l2-2M285 1762l-3 0M252 1761l3-2M260 1809l3-1M328 1758l2 1M200 1758l1 0M360 1755l2-3M301 1762l1-3M319 1812l0 2M240 1808l1-1M196 1807l-2 1M264 1760l-3-2M204 1758l-1 1M362 1812l-2 3M271 1760l-3-2M360 1751l1-2M180 1754l-1 1M341 1758l2 0M340 1755l3 3M310 1762l0 4M317 1760l1 3M281 1760l1-1M336 1817l1 0M233 1761l3 1M170 1806l3 1M228 1808l3 1M198 1804l-2-2M334 1757l-1-3M129 1809l2 0M335 1810l3 1M294 1809l2-1M189 1754l2 1M91 1759l2 0M204 1754l-3 3M263 1761l0-3M324 1760l2 0M241 1810l0 3M178 1807l-2 0M281 1761l-2 2M262 1760l-3 0M132 1753l0 1M359 1809l1 1M330 1812l-1 0M186 1804l1 1M229 1761l3 2M145 1808l2-3M257 1761l1-1M135 1753l-2 1M207 1756l1 3" stroke="#d42a2a" stroke-width="2" stroke-linecap="round" fill="none"/>
<path transform="scale(.5)" d="M285 1809l1-2M118 1809l-1 3M255 1810l-1-3M193 1803l2-3M191 1758l-2-1M315 1813l-3 3M327 1759l3 0M269 1813l0 2M151 1807l-1-2M201 1756l2-1M189 1755l-3 2M326 1810l2-2M267 1760l-2-3M351 1813l-1-2M282 1814l-2-2M172 1805l3 0M262 1809l-1-2M289 1762l-1-4M208 1803l1 4M326 1817l0-2M328 1812l1 1M108 1808l4 1M327 1757l1 2M168 1807l4 0M104 1810l-2 3M260 1812l-1 4M311 1812l-2 2M120 1813l0-1M284 1815l-1-1M334 1812l2 0M323 1812l-3 2M192 1805l-2 3M340 1814l-1 0M125 1809l0 1M145 1753l-2 2M304 1811l4 1M333 1812l-3-1M117 1808l2-3M170 1755l-1 1M235 1809l3-1M113 1808l1-2M206 1808l-3 2M322 1811l-3-3M295 1809l1 0M200 1804l0 2M284 1813l1-1M317 1812l2 3M82 1810l-1-1M111 1810l-1 0M329 1815l2 0M172 1805l0-3M239 1811l-1 1M217 1805l3 1M346 1756l2 0M232 1809l-1 2M315 1815l-1 2M236 1810l3-2M233 1808l-2 3M238 1810l-1-1M224 1760l1-1M135 1757l2-1M329 1814l-1 2M241 1808l4-1M358 1810l2-2M146 1807l0-1M121 1810l3-1M216 1806l-1 1M210 1804l-2 0M132 1808l1-1M364 1807l4 0M254 1814l2 0M362 1756l2-4M291 1810l-1-3M354 1810l-1 4M323 1813l-1 2M167 1808l1-2M283 1759l-1 1M370 1812l1 3M119 1811l-2-2M250 1761l2 0M332 1814l1 2M232 1814l0-3M253 1811l-3-2M83 1810l0 4M111 1811l2 2M139 1810l1 3M287 1813l-1-3M163 1755l-2 0M154 1807l-1-2M162 1807l1-2M144 1810l3 1M104 1809l0-2M360 1756l0-2M334 1811l-3-2M203 1806l2 2M204 1804l3-1M194 1807l1 2M284 1761l2 0M243 1810l1-3M157 1808l1 2M85 1814l-3-2M239 1810l1 1M119 1814l1-1M201 1804l-1-1M353 1816l-1-1M244 1759l0 2M110 1809l2 1M208 1759l-1-3M222 1808l1-1M123 1811l-1 0M178 1805l0-4M247 1761l-4 2M265 1818l1 2M155 1811l-2-3M155 1807l-2-2M145 1808l-1 1M315 1811l0-2M313 1810l-1-2M162 1750l0-2M357 1810l2 2M86 1812l3 1M129 1809l-2-1M145 1807l0 2M90 1813l2 2M342 1813l1-3M201 1805l-2 2M319 1813l1 1M359 1808l0-2M271 1761l-1 4M361 1750l-1 1M236 1808l1-3M366 1814l2 1" stroke="#505050" stroke-width="2" stroke-linecap="round" fill="none"/>
<path transform="scale(.5)" d="M276 1810l2 4M244 1812l3 2M128 1759l-2 1M254 1763l3 1M144 1760l3-1M216 1760l2 1M365 1809l-3-2M300 1812l0 4M363 1755l-1-3M135 1807l3 2M298 1764l0-1M350 1812l1 0M177 1757l-2-2M254 1810l3-2M243 1812l-1 3M163 1807l1-2M339 1757l-1 2M258 1811l-3-1M86 1812l-3 1M332 1761l-2 3M246 1812l0 2M274 1762l-1 3M204 1807l3 2M295 1766l-4-1M114 1810l-2 1M241 1763l1 3M195 1807l-2 2M235 1763l1 3M324 1815l3 1M272 1814l-1 1M201 1808l-1 1M235 1764l-3-3M315 1812l1 1M276 1762l-2-3M86 1759l0 2M205 1808l3 3M283 1810l0-2M206 1807l-1 0M207 1803l-1 4M277 1810l-2-2M206 1759l2 2M364 1756l4-1M119 1759l-3-2M188 1801l0-3M239 1764l0-1M106 1812l1 1M106 1812l2 0M365 1755l0 2M199 1758l3 3M269 1760l0 3M255 1759l2 3M249 1764l1 1M307 1807l1 0M240 1760l0 4M201 1766l1-1M152 1754l1 2M81 1810l-4 2M359 1757l1 3M240 1765l2-1M195 1762l4 0M347 1813l-2 1M99 1813l1 2M142 1809l-1-2M103 1813l3 1M95 1813l2 1M100 1811l3-3M250 1811l3 3M332 1811l0-2M143 1755l-3 2M183 1758l-3-1M315 1813l-2-4M167 1810l-2 3M295 1764l-1-1M364 1807l-3-3M238 1762l-1 1M94 1813l0-3M315 1760l2 3M118 1809l1 2M93 1761l2 0M146 1807l2-3M166 1755l3-1M225 1761l-2-1M97 1763l-3-3M138 1758l0 2M152 1810l2 0M156 1754l-2 0M353 1758l2 2M169 1757l0-3M178 1755l-2 0M308 1760l-3 1M231 1765l3 0M350 1807l4 0M332 1758l1 2M159 1756l1 1M134 1759l1 0M315 1813l1-2M100 1764l4-1M343 1759l3-2M330 1814l-2-1M218 1804l1 2M245 1812l2-3M199 1804l-3 0M304 1810l4 1M150 1810l-2 1M146 1809l1 3M165 1804l-2-2M180 1755l-3-1M214 1806l-3 0M168 1802l1-2M256 1811l2 3M175 1808l3-2M137 1758l4 0M169 1809l0 2M161 1755l-4 2M311 1807l-2-2M271 1761l3-2M304 1813l3 0M223 1810l4 0M162 1808l-2 0M347 1757l-2 4M86 1758l3-4M184 1761l-2-2M109 1759l-2 0M262 1811l0 4M190 1756l1-1M349 1755l2 0M274 1813l-4 1M203 1758l1 3M303 1762l1 0M137 1807l0-1M81 1761l0 2M221 1810l-1-1M153 1760l1 4M262 1762l-1-4M101 1764l2-1M235 1810l-3 1M300 1764l-2 2M187 1759l-1-2M345 1814l1 0M360 1812l1 2M318 1813l-2 2M333 1760l-2-1M152 1811l0-2M80 1762l-2-1M327 1814l1 0M230 1760l-3-3M225 1811l-2 0M342 1808l1 0M207 1804l-3-1M206 1802l3 0M363 1755l1 2M106 1807l3 0M336 1814l3 1M267 1810l1-3M298 1763l1-1M367 1755l-1-3M366 1811l0-1M102 1813l0-1M119 1757l0-4M226 1764l4 1M168 1759l1-1M155 1758l0 1M295 1812l-1-3M327 1814l0-3M309 1814l1-3M319 1766l-2 1M194 1761l1-2M238 1812l0 2M224 1761l1-1M224 1807l0 3M298 1806l-1-1M157 1807l-1-1M215 1764l-1-1M118 1757l-1 1M312 1760l4-1M295 1814l2 2M102 1764l-1-2M347 1809l0-3M137 1756l4 0M316 1760l2-3M366 1756l3-2M231 1762l-1 1M211 1763l-3 0M97 1812l3 2M332 1760l1-3M219 1762l4-1M93 1759l2-1M164 1756l4 0M317 1815l1 2M90 1760l-3-3M130 1809l-1 1M185 1758l-3-2M174 1757l0 1M85 1761l-1 2M331 1815l2 3M359 1755l-3 0M357 1757l2 2M195 1760l-2-1M231 1763l-2-1M342 1814l1-2M365 1757l1 3M121 1758l-2 3M169 1755l-1-2M320 1762l2-1M245 1763l-3 1M157 1758l-1 1M313 1762l2-2M192 1758l0-4M135 1812l-3-2M346 1757l1 0M338 1762l2 2M210 1808l-3-2M205 1759l3 2M112 1806l-4-1M112 1759l-1 1M323 1761l0-1M112 1758l-1-1M236 1811l-1 3M236 1762l-1 4M119 1807l4 0M307 1766l2 3M178 1759l3-2M203 1761l1 2M235 1811l-2-1M357 1759l1-3M215 1805l-2 2M236 1767l-4 2M236 1760l1 0M259 1808l1-1M190 1757l-2-2M184 1758l1 1M223 1766l0-3M216 1762l0-3M135 1810l1 3M191 1757l-2 2M175 1808l4-2M243 1763l-2 4M189 1758l-1-1M369 1810l1 4M201 1808l3 1M81 1763l-1-3M282 1812l2 1M113 1760l-1-3M342 1756l-1 0M343 1812l-2-2M292 1761l-2-2M154 1755l-4-2M167 1759l0-2M298 1764l-1-4M213 1808l1 4M251 1760l2 1M112 1760l2 1M233 1810l-2-2M236 1762l0-1M339 1815l0 2M148 1810l-1 1M270 1760l-1 0M363 1811l-1 4M180 1756l0-2M233 1762l0-2" stroke="#4a5252" stroke-width="2.2" stroke-linecap="round" fill="none"/>
<path transform="scale(.5)" d="M554 1329h0M552 1326h0M549 1324h0M550 1320h0M589 1333h0M594 1333h0M598 1334h0M601 1336h0M605 1335h0M606 1331h0M645 1329h0M647 1327h0M650 1329h0M615 1320h0M615 1324h0M616 1327h0M601 1319h0M605 1320h0M426 1315h0M422 1317h0M596 1325h0M593 1323h0M622 1331h0M621 1334h0M625 1336h0M629 1334h0M633 1333h0M583 1346h0M585 1342h0M609 1333h0M607 1336h0M604 1338h0M605 1342h0M609 1343h0M399 1324h0M397 1321h0M393 1320h0M389 1321h0M384 1319h0M381 1317h0M389 1329h0M385 1330h0M383 1327h0M413 1318h0M409 1320h0M456 1341h0M459 1339h0M462 1336h0M486 1329h0M487 1326h0M389 1317h0M387 1314h0M387 1310h0M397 1337h0M393 1337h0M390 1339h0M390 1343h0M389 1346h0M462 1332h0M463 1329h0M464 1325h0M465 1322h0M470 1323h0M473 1325h0M397 1346h0M395 1343h0M395 1340h0M398 1317h0M402 1317h0M406 1316h0M655 1330h0M651 1329h0M649 1326h0M647 1323h0M493 1342h0M491 1345h0M489 1348h0M491 1351h0M495 1352h0M460 1345h0M464 1346h0M468 1347h0M473 1346h0M477 1345h0M591 1327h0M596 1327h0M600 1325h0M604 1325h0M606 1322h0M494 1345h0M493 1342h0M494 1338h0M490 1337h0M486 1337h0M482 1336h0M525 1339h0M525 1336h0M523 1333h0M611 1341h0M608 1343h0M616 1324h0M614 1321h0M510 1337h0M513 1334h0M514 1331h0M417 1329h0M419 1326h0M526 1318h0M529 1320h0M533 1322h0M571 1335h0M567 1335h0M564 1333h0M567 1331h0M570 1328h0M549 1328h0M550 1324h0M555 1323h0M555 1320h0M556 1316h0M557 1340h0M553 1342h0M551 1345h0M546 1345h0M502 1341h0M505 1343h0M505 1347h0M504 1350h0M501 1353h0M500 1356h0M398 1347h0M398 1343h0M398 1340h0M395 1337h0M631 1349h0M633 1352h0M635 1355h0M633 1358h0M543 1345h0M547 1343h0M538 1349h0M538 1345h0M567 1350h0M565 1346h0M564 1343h0M563 1340h0M564 1336h0M640 1341h0M644 1342h0M648 1342h0M651 1345h0M653 1348h0M657 1350h0M647 1320h0M646 1317h0M646 1313h0M648 1310h0M652 1311h0M657 1311h0M633 1341h0M636 1338h0M498 1315h0M502 1313h0M507 1314h0M428 1318h0M430 1321h0M434 1322h0M664 1312h0M505 1314h0M508 1312h0M507 1309h0M506 1305h0M511 1321h0M507 1319h0M503 1317h0M500 1315h0M501 1311h0M644 1342h0M641 1345h0M407 1323h0M404 1326h0M403 1329h0M407 1332h0M406 1336h0M403 1338h0M399 1340h0M398 1344h0M616 1320h0M620 1323h0M622 1326h0M623 1329h0M628 1329h0M640 1320h0M644 1318h0M637 1324h0M634 1321h0M634 1318h0M395 1318h0M391 1318h0M387 1316h0M438 1313h0M435 1316h0M431 1316h0M431 1320h0M628 1324h0M629 1321h0M628 1318h0M624 1315h0M622 1312h0M626 1310h0M602 1340h0M597 1339h0M595 1336h0M591 1336h0M586 1336h0M627 1317h0M625 1314h0M623 1311h0M622 1307h0M651 1339h0M654 1342h0M658 1341h0M662 1339h0M458 1320h0M460 1323h0M460 1327h0M405 1328h0M402 1326h0M398 1325h0M394 1326h0M527 1316h0M524 1314h0M519 1314h0M515 1314h0M511 1313h0M507 1312h0M385 1352h0M388 1349h0M385 1346h0M398 1326h0M395 1329h0M526 1346h0M530 1346h0M468 1318h0M464 1316h0M459 1317h0M457 1320h0M452 1320h0M519 1318h0M520 1322h0M520 1325h0M518 1329h0M519 1332h0M459 1333h0M458 1336h0M456 1339h0M457 1343h0M459 1346h0M462 1348h0M470 1348h0M473 1345h0M477 1346h0M482 1346h0M627 1327h0M626 1330h0M629 1333h0M633 1334h0M637 1335h0M642 1335h0M537 1331h0M535 1334h0M478 1311h0M477 1314h0M635 1347h0M631 1346h0M646 1315h0M646 1311h0M647 1308h0M652 1309h0M656 1309h0M651 1315h0M654 1318h0M657 1320h0M659 1323h0M432 1347h0M429 1345h0M429 1341h0M431 1338h0M433 1335h0M436 1333h0M521 1339h0M523 1342h0M521 1345h0M520 1349h0M522 1352h0M523 1355h0M387 1330h0M389 1333h0M388 1336h0M388 1340h0M391 1342h0M617 1342h0M612 1343h0M610 1340h0M606 1338h0M569 1323h0M567 1320h0M566 1317h0M570 1314h0M573 1316h0M577 1318h0M501 1312h0M505 1313h0M509 1314h0M513 1313h0M511 1309h0M511 1306h0M662 1314h0M660 1310h0M658 1307h0M655 1305h0M654 1301h0M484 1338h0M483 1342h0M483 1345h0M598 1354h0M596 1351h0M593 1348h0M588 1348h0M584 1349h0M587 1325h0M590 1328h0M590 1331h0M588 1335h0M587 1352h0M589 1355h0M591 1358h0M627 1343h0M630 1346h0M634 1346h0M484 1315h0M486 1311h0M489 1309h0M488 1306h0M485 1303h0M482 1301h0M653 1327h0M650 1330h0M646 1331h0M402 1342h0M406 1344h0M404 1347h0M406 1350h0M416 1314h0M418 1311h0M416 1308h0M649 1328h0M646 1331h0M645 1334h0M644 1338h0M607 1325h0M604 1323h0M631 1334h0M633 1331h0M638 1331h0M641 1329h0M645 1329h0M648 1326h0M535 1333h0M540 1332h0M544 1331h0M548 1330h0M552 1329h0M519 1333h0M518 1329h0M514 1329h0M527 1324h0M523 1322h0M519 1321h0M515 1321h0M516 1325h0M515 1328h0M594 1336h0M591 1338h0M587 1339h0M582 1340h0M426 1346h0M426 1343h0M427 1339h0M430 1337h0M430 1334h0M435 1335h0M627 1328h0M623 1329h0M619 1330h0M387 1338h0M391 1336h0M466 1314h0M470 1315h0M474 1313h0M477 1310h0M620 1352h0M624 1353h0M628 1353h0M632 1350h0M636 1351h0M641 1351h0M496 1340h0M496 1343h0M492 1343h0M488 1345h0M484 1346h0M584 1338h0M581 1341h0M577 1342h0M577 1346h0M580 1349h0M581 1352h0" stroke="#4e4e4e" stroke-width="3.2" stroke-linecap="round"/>
<path transform="scale(.5)" d="M537 1349h0M532 1349h0M528 1349h0M661 1357h0M656 1358h0M653 1359h0M650 1356h0M653 1354h0M657 1355h0M661 1356h0M458 1358h0M461 1357h0M464 1355h0M465 1353h0M467 1351h0M612 1361h0M616 1363h0M614 1365h0M610 1365h0M629 1360h0M624 1361h0M621 1359h0M617 1359h0M613 1359h0M532 1352h0M536 1352h0M614 1359h0M618 1360h0M456 1354h0M452 1354h0M448 1353h0M445 1351h0M486 1353h0M488 1355h0M491 1357h0M496 1357h0M581 1354h0M586 1354h0M588 1352h0M589 1350h0M551 1354h0M553 1356h0M555 1358h0M552 1359h0M548 1360h0M445 1362h0M449 1363h0M451 1365h0M453 1367h0M569 1351h0M572 1350h0M575 1348h0M577 1346h0M579 1344h0M577 1356h0M580 1354h0M583 1353h0M584 1351h0M421 1357h0M423 1355h0M587 1353h0M583 1354h0M579 1353h0M443 1357h0M447 1357h0M451 1358h0M452 1360h0M539 1353h0M537 1351h0M537 1349h0M537 1346h0M510 1352h0M514 1353h0M516 1355h0M517 1357h0M396 1357h0M400 1356h0M642 1359h0M646 1359h0M651 1359h0M564 1361h0M568 1360h0M472 1358h0M475 1357h0M476 1354h0M476 1352h0M402 1362h0M399 1360h0M394 1360h0M390 1361h0M386 1359h0M548 1351h0M543 1351h0M540 1349h0M536 1350h0M533 1348h0M428 1359h0M431 1360h0M436 1361h0M440 1361h0M485 1352h0M488 1353h0M492 1354h0M495 1356h0M499 1357h0M558 1352h0M563 1351h0M567 1350h0M569 1349h0M570 1346h0M459 1357h0M463 1356h0M464 1353h0M466 1352h0M570 1353h0M566 1352h0M563 1350h0M559 1350h0M645 1364h0M640 1364h0M637 1365h0M634 1367h0M446 1359h0M450 1360h0M462 1354h0M458 1353h0M455 1354h0M450 1354h0M558 1353h0M562 1351h0M406 1359h0M410 1360h0M527 1352h0M525 1354h0M523 1355h0M443 1360h0M440 1359h0M437 1357h0M434 1355h0M535 1356h0M531 1355h0M529 1353h0M531 1351h0M533 1349h0M562 1355h0M566 1355h0M568 1353h0M567 1351h0M498 1357h0M501 1355h0M506 1355h0M552 1354h0M548 1354h0M543 1354h0M481 1357h0M485 1356h0M404 1357h0M400 1357h0M395 1357h0M391 1357h0M593 1357h0M595 1359h0M597 1361h0M600 1362h0M604 1361h0M556 1354h0M553 1353h0M552 1351h0M549 1349h0M546 1348h0M415 1359h0M418 1357h0M422 1356h0M424 1354h0M426 1352h0M480 1365h0M484 1364h0M488 1363h0M493 1363h0M497 1362h0M478 1354h0M475 1355h0M473 1357h0M470 1358h0M471 1360h0M437 1358h0M440 1357h0M443 1355h0M446 1354h0M448 1352h0M655 1365h0M658 1367h0M661 1368h0M663 1370h0M528 1355h0M528 1357h0M528 1359h0M412 1358h0M417 1359h0M419 1357h0M421 1355h0M423 1353h0M415 1363h0M411 1362h0M407 1361h0M404 1359h0M404 1357h0M538 1357h0M533 1357h0M530 1358h0M529 1360h0M403 1359h0M407 1359h0M410 1358h0M415 1357h0M419 1357h0M512 1359h0M515 1360h0M429 1365h0M425 1366h0M422 1367h0M419 1369h0M416 1370h0M566 1351h0M563 1350h0M560 1348h0M561 1346h0M600 1363h0M596 1364h0M608 1359h0M613 1359h0M512 1357h0M516 1356h0M518 1354h0M602 1355h0M599 1357h0M595 1358h0M593 1360h0M568 1353h0M564 1352h0M559 1352h0M493 1358h0M497 1359h0M499 1361h0M469 1358h0M474 1358h0M440 1360h0M445 1360h0M521 1352h0M525 1351h0M529 1351h0M532 1353h0M535 1355h0M461 1356h0M465 1356h0M469 1357h0M472 1355h0M584 1349h0M581 1348h0M578 1346h0M608 1357h0M607 1355h0M512 1359h0M517 1359h0M521 1359h0M525 1359h0M529 1361h0M538 1353h0M533 1353h0M529 1353h0M526 1355h0M393 1356h0M397 1357h0M401 1358h0M456 1358h0M454 1360h0M450 1362h0M454 1363h0M454 1365h0M567 1351h0M569 1349h0M572 1347h0M577 1347h0M534 1358h0M533 1360h0M466 1359h0M462 1360h0M460 1362h0M404 1352h0M408 1353h0M548 1352h0M552 1353h0M432 1352h0M429 1351h0M427 1349h0M422 1348h0M645 1358h0M642 1356h0M638 1355h0M444 1360h0M440 1360h0M436 1360h0M432 1361h0M429 1362h0M519 1351h0M516 1352h0M513 1354h0M509 1354h0M460 1361h0M465 1361h0M530 1355h0M535 1355h0M536 1353h0M538 1351h0M537 1348h0M529 1356h0M525 1355h0M521 1355h0M517 1356h0M399 1356h0M397 1354h0M394 1353h0M653 1356h0M657 1355h0M525 1354h0M529 1354h0M534 1354h0M538 1355h0M577 1359h0M579 1361h0M581 1363h0M649 1356h0M645 1356h0M643 1354h0M581 1354h0M585 1353h0M523 1352h0M519 1352h0M516 1350h0M512 1349h0M510 1347h0M491 1357h0M489 1355h0M489 1353h0M489 1351h0M488 1349h0M465 1358h0M461 1357h0M458 1356h0M454 1354h0M621 1361h0M623 1363h0M625 1365h0M625 1367h0M628 1369h0M616 1355h0M620 1355h0M625 1354h0M629 1355h0M633 1356h0M456 1357h0M459 1356h0M464 1355h0M467 1354h0M470 1352h0M611 1359h0M614 1360h0M617 1362h0M621 1363h0M514 1347h0M518 1348h0M521 1350h0M526 1350h0M415 1358h0M419 1358h0M558 1355h0M562 1356h0M565 1358h0M515 1356h0M514 1354h0M515 1352h0M515 1349h0M621 1356h0M626 1356h0M637 1360h0M641 1359h0M468 1360h0M472 1361h0M476 1361h0M481 1360h0M485 1359h0M611 1353h0M607 1354h0M604 1355h0M529 1353h0M525 1354h0M521 1355h0M461 1360h0M457 1361h0M441 1360h0M444 1359h0M447 1357h0M450 1356h0M451 1354h0M536 1355h0M532 1355h0M527 1355h0M523 1355h0M614 1356h0M619 1357h0M622 1358h0M624 1360h0M626 1362h0M412 1356h0M408 1357h0M404 1357h0M400 1357h0M397 1359h0M658 1354h0M661 1356h0M660 1358h0M655 1359h0M651 1359h0M519 1356h0M517 1354h0M515 1352h0M649 1358h0M653 1359h0M657 1358h0M587 1360h0M592 1360h0M596 1360h0M585 1353h0M588 1355h0M466 1353h0M462 1352h0M462 1350h0M458 1349h0M479 1359h0M474 1359h0M663 1361h0M660 1359h0M663 1357h0M602 1354h0M606 1353h0M610 1352h0M614 1352h0M545 1355h0M549 1354h0M551 1353h0M555 1352h0M457 1360h0M461 1360h0M466 1360h0M580 1354h0M584 1354h0M588 1354h0M517 1355h0M522 1355h0M421 1359h0M423 1357h0M419 1355h0M416 1354h0M413 1352h0M471 1357h0M474 1356h0M583 1350h0M579 1351h0M642 1352h0M638 1351h0M584 1353h0M588 1352h0M592 1351h0M596 1352h0M385 1352h0M503 1353h0M499 1352h0M495 1351h0M491 1350h0M487 1350h0" stroke="#13a0a6" stroke-width="3.3" stroke-linecap="round"/>
<path transform="scale(.5)" d="M560 1486h0M558 1488h0M553 1489h0M550 1492h0M441 1498h0M445 1500h0M449 1500h0M452 1503h0M451 1506h0M448 1509h0M627 1497h0M623 1496h0M620 1498h0M615 1498h0M648 1492h0M644 1495h0M642 1498h0M644 1501h0M611 1484h0M610 1481h0M612 1477h0M614 1474h0M616 1471h0M617 1468h0M648 1481h0M645 1484h0M641 1484h0M637 1486h0M550 1501h0M546 1501h0M541 1502h0M538 1499h0M535 1497h0M456 1493h0M451 1494h0M449 1491h0M508 1498h0M508 1502h0M509 1505h0M505 1508h0M427 1485h0M424 1483h0M421 1480h0M418 1477h0M414 1475h0M410 1474h0M532 1504h0M529 1502h0M526 1499h0M522 1497h0M481 1492h0M481 1489h0M479 1485h0M566 1502h0M571 1503h0M574 1505h0M576 1502h0M416 1482h0M413 1485h0M472 1504h0M474 1501h0M474 1497h0M469 1498h0M465 1497h0M526 1506h0M525 1503h0M522 1500h0M519 1497h0M479 1502h0M479 1499h0M483 1497h0M482 1494h0M487 1493h0M552 1489h0M553 1493h0M551 1496h0M546 1496h0M545 1493h0M547 1490h0M519 1498h0M518 1495h0M520 1492h0M517 1489h0M533 1484h0M530 1481h0M526 1480h0M522 1482h0M519 1484h0M647 1480h0M643 1479h0M568 1496h0M572 1498h0M576 1499h0M580 1500h0M584 1501h0M589 1501h0M412 1500h0M409 1503h0M407 1506h0M410 1509h0M413 1510h0M418 1509h0M421 1489h0M422 1485h0M395 1480h0M399 1478h0M455 1496h0M459 1494h0M463 1494h0M468 1494h0M431 1496h0M434 1499h0M500 1499h0M497 1497h0M532 1500h0M530 1503h0M526 1503h0M522 1505h0M518 1503h0M406 1495h0M403 1492h0M399 1491h0M456 1487h0M455 1484h0M455 1480h0M459 1478h0M463 1477h0M649 1484h0M646 1482h0M643 1479h0M591 1491h0M592 1494h0M591 1497h0M592 1501h0M614 1479h0M614 1483h0M612 1486h0M612 1490h0M470 1488h0M469 1484h0M555 1492h0M557 1495h0M561 1497h0M562 1500h0M565 1503h0M449 1493h0M447 1496h0M445 1499h0M440 1498h0M440 1495h0M439 1491h0M425 1489h0M428 1491h0M426 1495h0M570 1485h0M572 1489h0M597 1481h0M599 1478h0M599 1474h0M598 1471h0M599 1467h0M594 1466h0M542 1504h0M544 1507h0M546 1510h0M551 1510h0M552 1513h0M570 1481h0M574 1483h0M578 1484h0M580 1488h0M480 1498h0M476 1499h0M471 1499h0M467 1497h0M464 1496h0M464 1492h0M440 1484h0M436 1484h0M659 1499h0M654 1499h0M652 1496h0M648 1494h0M645 1492h0M641 1490h0M601 1484h0M605 1482h0M496 1504h0M495 1507h0M491 1508h0M487 1509h0M483 1509h0M479 1510h0M482 1495h0M486 1497h0M486 1493h0M484 1490h0M483 1487h0M530 1496h0M528 1499h0M523 1499h0M521 1496h0M612 1493h0M614 1496h0M616 1499h0M629 1479h0M634 1478h0M638 1478h0M639 1475h0M529 1499h0M525 1500h0M523 1503h0M519 1505h0M546 1495h0M545 1499h0M541 1501h0M537 1502h0M499 1491h0M496 1488h0M492 1488h0M491 1485h0M489 1482h0M661 1487h0M660 1484h0M664 1483h0M442 1503h0M440 1506h0M632 1482h0M629 1479h0M627 1476h0M627 1472h0M623 1471h0M620 1472h0M562 1483h0M559 1480h0M556 1478h0M553 1475h0M552 1471h0M552 1468h0M472 1497h0M468 1495h0M464 1495h0M414 1489h0M410 1489h0M406 1491h0M404 1494h0M403 1497h0M484 1504h0M489 1503h0M543 1498h0M546 1500h0M549 1502h0M553 1504h0M557 1504h0M561 1506h0M509 1504h0M513 1505h0M517 1507h0M516 1511h0M452 1503h0M447 1504h0M633 1494h0M637 1495h0M635 1498h0M631 1499h0M631 1503h0M636 1490h0M632 1489h0M628 1489h0M628 1485h0M627 1482h0M495 1492h0M491 1493h0M487 1492h0M484 1489h0M634 1500h0M635 1503h0M632 1506h0M608 1496h0M603 1497h0M600 1499h0M600 1502h0M600 1506h0M599 1509h0M431 1496h0M430 1499h0M427 1502h0M655 1491h0M658 1489h0M662 1489h0M663 1493h0M659 1491h0M654 1491h0M503 1490h0M500 1487h0M496 1487h0M492 1489h0M492 1486h0M646 1488h0M649 1485h0M645 1483h0M644 1480h0M641 1477h0M639 1474h0M393 1488h0M391 1491h0M530 1497h0M532 1494h0M442 1498h0M443 1494h0M447 1493h0M552 1489h0M554 1486h0M547 1494h0M549 1497h0M553 1499h0M557 1501h0M560 1498h0M453 1483h0M456 1485h0M588 1488h0M585 1486h0M580 1485h0M458 1505h0M453 1504h0M622 1496h0M620 1500h0M555 1486h0M551 1488h0M546 1489h0M543 1486h0M548 1490h0M544 1487h0M541 1485h0M537 1483h0M660 1493h0M658 1489h0M653 1488h0M505 1503h0M506 1506h0M507 1510h0M505 1513h0M507 1516h0M504 1519h0M512 1484h0M513 1488h0M517 1489h0M651 1492h0M648 1494h0M522 1495h0M521 1492h0M518 1489h0M633 1486h0M634 1483h0M638 1481h0M643 1482h0M647 1483h0M628 1492h0M632 1490h0M636 1491h0M640 1492h0M643 1494h0M533 1495h0M535 1499h0M537 1502h0M541 1502h0M638 1495h0M635 1492h0M635 1489h0M635 1485h0M631 1484h0M627 1482h0M417 1479h0M417 1475h0M413 1474h0M409 1473h0M404 1473h0M573 1484h0M572 1487h0M571 1491h0M466 1486h0M465 1490h0M461 1491h0M457 1492h0M453 1493h0M449 1494h0M625 1486h0M626 1483h0M629 1480h0M424 1480h0M428 1481h0M432 1481h0M437 1481h0M521 1506h0M524 1508h0M529 1509h0M529 1512h0M630 1484h0M634 1483h0" stroke="#4e4e4e" stroke-width="3.2" stroke-linecap="round"/>
<path transform="scale(.5)" d="M470 1472h0M466 1471h0M462 1470h0M458 1470h0M422 1476h0M426 1476h0M508 1465h0M504 1466h0M400 1473h0M396 1474h0M392 1475h0M622 1476h0M627 1476h0M631 1477h0M658 1476h0M654 1475h0M399 1468h0M401 1470h0M404 1472h0M520 1476h0M516 1476h0M514 1478h0M515 1480h0M514 1482h0M419 1476h0M423 1477h0M624 1482h0M625 1480h0M627 1478h0M629 1476h0M629 1474h0M413 1473h0M410 1471h0M407 1470h0M465 1468h0M469 1469h0M474 1469h0M608 1480h0M605 1481h0M603 1483h0M630 1471h0M626 1471h0M622 1470h0M618 1470h0M613 1469h0M387 1476h0M391 1476h0M395 1477h0M399 1478h0M404 1478h0M623 1474h0M618 1474h0M614 1474h0M610 1473h0M468 1470h0M472 1471h0M475 1473h0M478 1474h0M592 1476h0M596 1476h0M600 1475h0M603 1473h0M631 1469h0M635 1469h0M638 1467h0M642 1466h0M645 1464h0M443 1470h0M439 1470h0M506 1468h0M508 1466h0M445 1478h0M447 1480h0M447 1482h0M446 1484h0M635 1477h0M640 1477h0M644 1477h0M649 1477h0M472 1466h0M468 1466h0M579 1477h0M583 1476h0M404 1471h0M407 1469h0M409 1467h0M413 1466h0M415 1464h0M436 1473h0M432 1473h0M428 1473h0M657 1469h0M660 1471h0M663 1472h0M460 1472h0M457 1470h0M452 1470h0M449 1468h0M524 1474h0M520 1473h0M519 1471h0M515 1470h0M661 1470h0M432 1476h0M436 1475h0M439 1474h0M443 1473h0M573 1481h0M568 1481h0M508 1474h0M504 1474h0M500 1475h0M499 1478h0M497 1480h0M449 1470h0M453 1469h0M656 1468h0M652 1467h0M647 1466h0M643 1466h0M640 1464h0M416 1479h0M412 1478h0M408 1478h0M404 1478h0M452 1471h0M456 1471h0M460 1471h0M633 1477h0M636 1475h0M638 1473h0M641 1471h0M643 1469h0M635 1477h0M638 1478h0M643 1478h0M647 1478h0M600 1473h0M603 1471h0M603 1469h0M602 1467h0M530 1469h0M534 1470h0M539 1471h0M543 1470h0M441 1474h0M444 1475h0M449 1474h0M568 1478h0M564 1479h0M560 1480h0M556 1480h0M650 1472h0M646 1473h0M642 1472h0M637 1473h0M634 1474h0M468 1470h0M472 1469h0M646 1470h0M650 1471h0M653 1472h0M656 1474h0M658 1476h0M624 1473h0M627 1471h0M578 1476h0M582 1476h0M587 1477h0M591 1478h0M496 1467h0M500 1468h0M505 1468h0M509 1468h0M513 1468h0M466 1467h0M462 1467h0M457 1468h0M453 1467h0M449 1467h0M443 1471h0M439 1471h0M435 1470h0M564 1480h0M560 1480h0M417 1474h0M413 1475h0M410 1476h0M407 1478h0M425 1469h0M422 1470h0M417 1470h0M467 1472h0M471 1471h0M475 1471h0M427 1474h0M431 1473h0M435 1472h0M437 1470h0M439 1468h0M407 1479h0M411 1480h0M415 1480h0M420 1481h0M424 1481h0M532 1470h0M536 1471h0M559 1474h0M555 1475h0M551 1476h0M547 1477h0M411 1474h0M407 1475h0M404 1476h0M402 1478h0M458 1474h0M454 1474h0M450 1474h0M445 1474h0M441 1475h0M585 1475h0M581 1476h0M579 1478h0M574 1477h0M608 1476h0M606 1478h0M604 1480h0M632 1474h0M636 1474h0M519 1470h0M515 1471h0M512 1473h0M510 1474h0M630 1478h0M634 1478h0M492 1470h0M489 1468h0M489 1466h0M487 1464h0M484 1462h0M508 1467h0M512 1469h0M486 1472h0M490 1473h0M461 1467h0M465 1467h0M469 1467h0M471 1470h0M472 1472h0M456 1471h0M453 1470h0M449 1469h0M444 1469h0M440 1470h0M402 1474h0M406 1474h0M409 1475h0M515 1471h0M520 1471h0M621 1473h0M625 1475h0M628 1476h0M632 1477h0M636 1477h0M572 1474h0M576 1475h0M580 1476h0M584 1476h0M586 1478h0M601 1477h0M597 1478h0M595 1480h0M591 1480h0M586 1480h0M414 1473h0M418 1473h0M423 1473h0M390 1474h0M395 1474h0M399 1474h0M403 1473h0M408 1473h0M629 1474h0M625 1475h0M632 1474h0M636 1475h0M638 1473h0M601 1477h0M597 1477h0M593 1479h0M590 1480h0M585 1481h0M637 1473h0M634 1474h0M631 1476h0M502 1466h0M506 1465h0M511 1465h0M515 1464h0M609 1477h0M611 1475h0M614 1474h0M472 1468h0M469 1466h0M466 1464h0M466 1462h0M430 1473h0M433 1471h0M501 1473h0M497 1472h0M494 1471h0M432 1480h0M430 1478h0M515 1472h0M510 1471h0M508 1473h0M504 1475h0M473 1467h0M477 1467h0M481 1465h0M413 1477h0M413 1475h0M413 1473h0M410 1471h0M406 1471h0M471 1469h0M474 1468h0M475 1466h0M457 1465h0M462 1465h0M465 1467h0M467 1469h0M471 1470h0M658 1474h0M655 1476h0M652 1478h0M385 1477h0M381 1477h0M423 1472h0M419 1471h0M418 1469h0M419 1467h0M447 1469h0M442 1469h0M438 1468h0M434 1469h0M463 1475h0M459 1474h0M454 1474h0M450 1475h0M565 1476h0M561 1478h0M557 1479h0M439 1475h0M443 1475h0M598 1478h0M595 1479h0M593 1481h0M589 1482h0M579 1473h0M583 1473h0M413 1474h0M417 1474h0M421 1473h0M425 1472h0M426 1470h0M514 1471h0M518 1470h0M522 1469h0M526 1468h0M383 1473h0M386 1474h0M391 1474h0M395 1474h0M399 1475h0M585 1474h0M581 1474h0M577 1473h0M573 1472h0M534 1475h0M537 1473h0M530 1469h0M526 1469h0M522 1470h0M522 1472h0M560 1471h0M564 1471h0M567 1469h0M569 1467h0M571 1465h0M463 1476h0M459 1477h0M456 1479h0M652 1472h0M647 1473h0M643 1473h0M639 1472h0M634 1472h0M466 1472h0M470 1473h0M474 1474h0M477 1475h0M594 1481h0M598 1482h0M602 1482h0M605 1484h0M590 1480h0M593 1481h0M590 1483h0M638 1474h0M634 1474h0M480 1465h0M484 1465h0M533 1470h0M529 1469h0M446 1472h0M441 1472h0M437 1473h0M433 1474h0M478 1468h0M475 1467h0M499 1479h0M494 1479h0M490 1479h0M619 1474h0M623 1474h0M478 1473h0M482 1471h0M484 1469h0M480 1468h0" stroke="#13a0a6" stroke-width="3.3" stroke-linecap="round"/>
<path transform="scale(.5)" d="M401 1507h0M398 1509h0M394 1510h0M390 1510h0M385 1509h0M622 1507h0M618 1507h0M614 1509h0M612 1511h0M607 1511h0M579 1520h0M584 1520h0M543 1517h0M539 1518h0M535 1518h0M530 1518h0M527 1519h0M521 1516h0M516 1517h0M514 1515h0M392 1514h0M392 1516h0M486 1510h0M490 1511h0M542 1520h0M540 1519h0M537 1517h0M535 1515h0M559 1519h0M556 1518h0M613 1514h0M608 1514h0M604 1515h0M600 1515h0M393 1509h0M397 1509h0M629 1516h0M633 1517h0M390 1516h0M386 1516h0M383 1514h0M389 1512h0M388 1510h0M386 1508h0M387 1506h0M390 1504h0M393 1514h0M396 1515h0M433 1511h0M437 1511h0M600 1514h0M596 1514h0M591 1514h0M588 1515h0M601 1511h0M606 1511h0M610 1510h0M562 1516h0M558 1517h0M554 1517h0M528 1512h0M532 1511h0M628 1510h0M625 1509h0M623 1507h0M580 1518h0M577 1516h0M573 1516h0M570 1514h0M468 1510h0M473 1510h0M477 1509h0M587 1520h0M583 1519h0M543 1516h0M547 1515h0M549 1513h0M541 1512h0M537 1513h0M533 1511h0M410 1517h0M405 1517h0M401 1517h0M467 1513h0M471 1514h0M474 1512h0M569 1514h0M567 1512h0M564 1510h0M560 1510h0M556 1509h0M506 1512h0M509 1514h0M509 1516h0M509 1518h0M501 1520h0M505 1520h0M509 1519h0M514 1520h0M517 1519h0M484 1504h0M480 1504h0M478 1502h0M477 1500h0M488 1516h0M492 1517h0M639 1509h0M644 1508h0M490 1513h0M488 1515h0M493 1515h0M489 1514h0M488 1512h0M449 1512h0M453 1512h0M458 1512h0M512 1517h0M508 1518h0M504 1517h0M499 1517h0M573 1518h0M576 1516h0M581 1516h0M500 1517h0M505 1516h0M508 1518h0M512 1518h0M438 1514h0M434 1515h0M435 1517h0M394 1511h0M398 1512h0M402 1513h0M404 1515h0M406 1517h0M552 1519h0M556 1518h0M559 1517h0M562 1515h0M476 1508h0M478 1506h0M482 1505h0M486 1505h0M490 1506h0M423 1512h0M419 1511h0M415 1511h0M651 1515h0M656 1515h0M659 1513h0M593 1512h0M589 1511h0M586 1510h0M581 1510h0M515 1520h0M512 1519h0M509 1518h0M587 1510h0M583 1510h0M579 1509h0M575 1508h0M395 1509h0M399 1509h0M403 1509h0M407 1508h0M411 1509h0M658 1505h0M654 1505h0M650 1504h0M651 1507h0M656 1508h0M660 1509h0M664 1508h0M605 1513h0M601 1515h0M598 1516h0M594 1517h0M428 1505h0M424 1506h0M438 1513h0M442 1515h0M444 1516h0M641 1510h0M637 1509h0M632 1508h0M629 1507h0M625 1508h0M627 1511h0M627 1513h0M626 1515h0M634 1515h0M638 1515h0M642 1515h0M491 1511h0M487 1512h0M560 1515h0M556 1515h0M530 1512h0M532 1510h0M535 1508h0M535 1506h0M626 1506h0M622 1506h0M617 1506h0M613 1505h0M613 1517h0M609 1518h0M605 1519h0M451 1515h0M455 1514h0M459 1514h0M461 1512h0M463 1510h0M425 1508h0M429 1507h0M433 1508h0M437 1508h0M441 1509h0M562 1516h0M557 1517h0M553 1516h0M549 1515h0M621 1512h0M622 1510h0M623 1508h0M499 1513h0M495 1512h0M491 1513h0M491 1516h0M633 1513h0M637 1512h0M414 1512h0M418 1513h0M423 1513h0M424 1511h0M616 1510h0M619 1512h0M530 1518h0M525 1518h0M522 1516h0M521 1514h0M457 1513h0M453 1513h0M449 1512h0M482 1515h0M484 1513h0M652 1509h0M649 1508h0M437 1511h0M433 1511h0M429 1512h0M425 1512h0M420 1512h0M641 1512h0M645 1513h0M658 1515h0M662 1516h0M530 1523h0M527 1521h0M525 1519h0M521 1518h0M520 1516h0M428 1513h0M426 1511h0M571 1515h0M567 1516h0M562 1516h0M563 1521h0M566 1519h0M570 1518h0M458 1512h0M463 1512h0M588 1512h0M592 1512h0M596 1512h0M529 1515h0M526 1517h0M578 1514h0M582 1514h0M585 1513h0M583 1510h0M504 1513h0M508 1512h0M511 1510h0M510 1508h0M508 1506h0M409 1510h0M406 1512h0M598 1514h0M602 1513h0M605 1511h0M609 1510h0M611 1508h0M533 1514h0M530 1516h0M526 1517h0M523 1518h0M419 1512h0M416 1514h0M414 1516h0M414 1518h0M418 1519h0M633 1510h0M638 1509h0M450 1510h0M455 1510h0M459 1509h0M463 1508h0M391 1512h0M388 1511h0M652 1511h0M654 1513h0M654 1516h0M651 1517h0M620 1513h0M623 1514h0M627 1515h0M631 1516h0M635 1516h0M600 1514h0M596 1515h0M592 1515h0M587 1516h0M585 1518h0M431 1514h0M435 1515h0M439 1516h0M442 1514h0M443 1512h0M441 1509h0M437 1510h0M433 1510h0M472 1514h0M467 1514h0M463 1515h0M459 1515h0M473 1518h0M468 1517h0M464 1517h0M616 1516h0M612 1517h0M523 1510h0M527 1509h0M553 1512h0M558 1512h0M562 1513h0M565 1514h0M569 1515h0M592 1514h0M589 1515h0M586 1513h0M582 1512h0M579 1511h0M549 1520h0M552 1519h0M554 1517h0M575 1516h0M571 1515h0M567 1515h0M563 1516h0M656 1510h0M652 1509h0M648 1508h0M644 1507h0M644 1505h0M463 1513h0M460 1511h0M460 1509h0M553 1519h0M557 1518h0M560 1516h0M561 1514h0M561 1512h0M626 1511h0M621 1511h0M617 1512h0M613 1512h0M454 1509h0M458 1510h0M460 1512h0M517 1516h0M512 1516h0M508 1517h0M504 1518h0M550 1513h0M554 1513h0M558 1513h0M562 1514h0M598 1514h0M602 1513h0M606 1514h0M444 1507h0M440 1507h0M435 1507h0M432 1505h0M495 1516h0M491 1515h0M487 1515h0M483 1513h0M570 1513h0M574 1513h0M579 1513h0M583 1513h0M462 1512h0M457 1512h0M453 1511h0M452 1509h0M604 1515h0M609 1515h0M613 1514h0M617 1515h0M620 1514h0M616 1513h0M612 1512h0M470 1510h0M474 1510h0M478 1509h0M481 1507h0M599 1514h0M603 1514h0M607 1513h0M634 1514h0M630 1513h0M626 1513h0M457 1507h0M461 1506h0M464 1505h0M466 1503h0" stroke="#13a0a6" stroke-width="3.3" stroke-linecap="round"/>
<path transform="scale(.5)" d="M469 1629h0M470 1626h0M469 1622h0M465 1621h0M460 1622h0M456 1622h0M627 1630h0M622 1630h0M618 1629h0M614 1628h0M611 1625h0M607 1627h0M434 1627h0M430 1626h0M426 1624h0M424 1621h0M421 1618h0M469 1620h0M468 1617h0M445 1639h0M447 1636h0M445 1633h0M445 1629h0M412 1635h0M408 1634h0M413 1629h0M416 1632h0M420 1634h0M420 1638h0M420 1641h0M421 1644h0M462 1622h0M466 1620h0M470 1618h0M444 1624h0M446 1627h0M448 1630h0M568 1644h0M569 1641h0M495 1626h0M499 1627h0M503 1625h0M503 1621h0M502 1618h0M502 1615h0M646 1637h0M642 1639h0M643 1642h0M646 1645h0M650 1645h0M444 1636h0M440 1634h0M436 1632h0M433 1630h0M432 1626h0M482 1642h0M481 1645h0M480 1649h0M479 1652h0M623 1627h0M625 1630h0M629 1628h0M633 1628h0M578 1622h0M577 1619h0M578 1615h0M554 1634h0M551 1631h0M628 1640h0M624 1637h0M626 1634h0M628 1631h0M475 1636h0M472 1633h0M468 1633h0M465 1635h0M463 1638h0M663 1622h0M661 1619h0M663 1616h0M586 1636h0M583 1633h0M578 1632h0M415 1635h0M414 1631h0M411 1629h0M407 1627h0M401 1623h0M405 1622h0M408 1619h0M409 1615h0M406 1613h0M555 1630h0M558 1628h0M559 1625h0M561 1621h0M580 1632h0M584 1633h0M588 1634h0M589 1637h0M592 1640h0M597 1639h0M655 1625h0M658 1627h0M655 1635h0M651 1636h0M647 1637h0M642 1636h0M638 1637h0M634 1637h0M578 1620h0M576 1624h0M577 1627h0M437 1632h0M439 1635h0M440 1638h0M526 1628h0M529 1631h0M529 1634h0M388 1638h0M384 1636h0M474 1641h0M476 1644h0M478 1648h0M475 1651h0M471 1652h0M602 1625h0M598 1625h0M594 1627h0M590 1626h0M586 1625h0M584 1622h0M544 1623h0M545 1626h0M549 1628h0M473 1641h0M470 1643h0M568 1622h0M566 1625h0M562 1625h0M558 1623h0M555 1621h0M444 1634h0M448 1635h0M451 1632h0M454 1630h0M456 1627h0M454 1624h0M500 1631h0M503 1634h0M507 1634h0M418 1617h0M419 1614h0M423 1614h0M427 1612h0M431 1613h0M498 1622h0M497 1626h0M500 1629h0M503 1631h0M503 1635h0M500 1637h0M484 1636h0M488 1634h0M492 1636h0M492 1640h0M488 1641h0M483 1641h0M535 1624h0M539 1626h0M539 1629h0M539 1633h0M661 1619h0M658 1617h0M656 1614h0M653 1612h0M451 1635h0M455 1637h0M455 1641h0M459 1642h0M460 1646h0M444 1621h0M446 1618h0M529 1629h0M531 1633h0M535 1634h0M538 1632h0M542 1633h0M484 1633h0M480 1632h0M479 1628h0M475 1627h0M472 1629h0M548 1624h0M552 1626h0M556 1628h0M556 1631h0M555 1635h0M558 1638h0M490 1646h0M494 1644h0M529 1635h0M534 1634h0M537 1632h0M452 1624h0M456 1626h0M515 1633h0M515 1629h0M515 1626h0M516 1622h0M512 1620h0M508 1620h0M629 1625h0M631 1623h0M632 1619h0M636 1617h0M515 1633h0M517 1630h0M521 1630h0M525 1630h0M528 1633h0M532 1635h0M491 1646h0M494 1647h0M497 1650h0M496 1654h0M614 1628h0M617 1630h0M621 1632h0M625 1630h0M628 1628h0M632 1626h0M546 1629h0M543 1627h0M545 1624h0M549 1622h0M552 1624h0M528 1628h0M525 1625h0M521 1623h0M517 1625h0M411 1624h0M409 1627h0M409 1631h0M405 1629h0M404 1626h0M488 1644h0M487 1641h0M489 1637h0M493 1636h0M495 1633h0M498 1631h0M396 1641h0M394 1644h0M521 1628h0M523 1631h0M526 1633h0M526 1637h0M459 1644h0M462 1641h0M462 1638h0M464 1635h0M467 1632h0M470 1635h0M609 1621h0M612 1624h0M615 1626h0M617 1629h0M622 1630h0M662 1623h0M662 1626h0M445 1620h0M443 1617h0M439 1618h0M476 1633h0M480 1635h0M487 1625h0M486 1628h0M483 1631h0M481 1634h0M477 1635h0M475 1632h0M620 1637h0M624 1637h0M438 1619h0M437 1622h0M432 1623h0M410 1632h0M413 1635h0M416 1637h0M495 1627h0M492 1624h0M488 1624h0M489 1621h0M485 1619h0M484 1615h0M438 1624h0M442 1622h0M446 1622h0M471 1630h0M473 1628h0M474 1624h0M477 1626h0M478 1630h0M545 1623h0M546 1627h0M575 1631h0M577 1634h0M575 1638h0M575 1641h0M578 1644h0M576 1647h0M526 1622h0M523 1619h0M521 1616h0M521 1613h0M505 1647h0M505 1643h0M505 1640h0M503 1637h0M499 1634h0M496 1632h0M461 1627h0M456 1627h0M455 1630h0M454 1633h0M452 1636h0M450 1637h0M446 1636h0M442 1639h0M443 1642h0M442 1645h0M439 1648h0M608 1629h0M607 1632h0M603 1632h0M656 1632h0M653 1630h0M651 1626h0M578 1629h0M574 1630h0M441 1628h0M436 1629h0M432 1627h0M428 1626h0M424 1628h0M420 1627h0M587 1635h0M584 1632h0M482 1638h0M477 1637h0M473 1635h0M470 1633h0M466 1631h0M560 1628h0M564 1630h0M565 1634h0M566 1637h0M566 1641h0M563 1643h0M587 1635h0M587 1639h0M589 1642h0M587 1645h0M587 1648h0M474 1639h0M477 1642h0M481 1643h0M484 1646h0M488 1648h0M523 1641h0M522 1638h0M522 1634h0M524 1631h0M524 1628h0M525 1624h0M483 1643h0M485 1646h0M444 1636h0M446 1639h0M448 1642h0M451 1644h0M456 1644h0M556 1638h0M553 1641h0M549 1639h0M545 1640h0M568 1623h0M572 1621h0M576 1623h0M580 1622h0M585 1623h0M589 1623h0M460 1626h0M462 1623h0M465 1620h0M469 1619h0" stroke="#4e4e4e" stroke-width="3.2" stroke-linecap="round"/>
<path transform="scale(.5)" d="M397 1615h0M392 1614h0M388 1614h0M533 1617h0M528 1618h0M622 1612h0M624 1610h0M627 1609h0M626 1607h0M630 1605h0M466 1605h0M461 1605h0M513 1611h0M516 1612h0M455 1610h0M451 1609h0M447 1608h0M443 1607h0M439 1606h0M560 1615h0M556 1617h0M553 1618h0M553 1620h0M549 1621h0M457 1605h0M462 1604h0M465 1603h0M389 1610h0M385 1608h0M591 1613h0M595 1613h0M599 1612h0M558 1615h0M558 1618h0M559 1620h0M430 1605h0M426 1605h0M421 1604h0M462 1612h0M467 1611h0M468 1609h0M581 1612h0M576 1613h0M572 1613h0M568 1614h0M440 1604h0M436 1604h0M576 1612h0M573 1610h0M542 1616h0M538 1617h0M473 1608h0M471 1610h0M641 1608h0M639 1606h0M638 1604h0M486 1613h0M482 1613h0M477 1613h0M473 1612h0M469 1612h0M476 1607h0M471 1606h0M468 1605h0M464 1604h0M512 1606h0M508 1606h0M504 1604h0M500 1603h0M496 1603h0M480 1606h0M484 1605h0M487 1604h0M489 1602h0M441 1609h0M437 1610h0M433 1609h0M463 1605h0M463 1607h0M465 1609h0M465 1611h0M469 1612h0M523 1608h0M527 1608h0M531 1608h0M629 1610h0M633 1611h0M636 1613h0M637 1615h0M637 1617h0M530 1610h0M534 1608h0M537 1607h0M539 1605h0M540 1603h0M557 1612h0M557 1610h0M558 1607h0M560 1605h0M562 1603h0M473 1608h0M476 1610h0M481 1610h0M451 1606h0M449 1604h0M647 1613h0M643 1613h0M638 1613h0M634 1613h0M625 1612h0M621 1612h0M618 1610h0M617 1608h0M618 1606h0M410 1610h0M406 1610h0M402 1609h0M398 1607h0M394 1607h0M492 1607h0M488 1606h0M483 1606h0M481 1604h0M561 1617h0M565 1618h0M568 1617h0M569 1615h0M586 1612h0M589 1611h0M594 1610h0M598 1610h0M439 1605h0M443 1604h0M448 1604h0M452 1605h0M450 1609h0M446 1608h0M415 1607h0M418 1609h0M422 1609h0M426 1610h0M421 1608h0M417 1607h0M414 1605h0M411 1604h0M410 1601h0M393 1618h0M397 1618h0M400 1620h0M616 1612h0M614 1610h0M614 1608h0M487 1610h0M485 1612h0M482 1613h0M645 1610h0M648 1612h0M652 1612h0M528 1607h0M526 1609h0M523 1611h0M522 1613h0M536 1616h0M532 1615h0M528 1615h0M525 1613h0M526 1614h0M522 1614h0M518 1615h0M440 1609h0M437 1607h0M433 1606h0M430 1605h0M426 1605h0M651 1610h0M655 1611h0M500 1614h0M504 1613h0M453 1605h0M457 1603h0M460 1602h0M461 1600h0M458 1598h0M474 1611h0M478 1611h0M482 1611h0M511 1616h0M508 1615h0M505 1613h0M646 1612h0M642 1612h0M525 1612h0M522 1610h0M521 1608h0M523 1606h0M524 1604h0M637 1610h0M633 1610h0M630 1608h0M626 1607h0M444 1611h0M448 1610h0M431 1613h0M426 1613h0M422 1612h0M603 1610h0M600 1611h0M597 1613h0M541 1607h0M545 1608h0M550 1609h0M553 1610h0M557 1611h0M634 1615h0M638 1615h0M642 1613h0M645 1612h0M448 1611h0M444 1611h0M440 1611h0M435 1611h0M434 1613h0M515 1608h0M511 1607h0M480 1610h0M475 1610h0M471 1609h0M467 1608h0M463 1609h0M457 1613h0M461 1612h0M464 1610h0M467 1608h0M471 1607h0M475 1606h0M636 1605h0M640 1606h0M404 1613h0M408 1613h0M546 1616h0M550 1616h0M554 1616h0M549 1615h0M545 1614h0M495 1612h0M499 1612h0M404 1611h0M399 1610h0M397 1609h0M394 1607h0M498 1608h0M493 1608h0M644 1605h0M640 1605h0M609 1615h0M606 1617h0M605 1619h0M606 1621h0M565 1611h0M561 1611h0M557 1610h0M639 1610h0M642 1612h0M646 1612h0M650 1611h0M654 1610h0M465 1609h0M469 1610h0M474 1610h0M478 1609h0M482 1609h0M409 1611h0M412 1609h0M412 1607h0M569 1614h0M573 1615h0M577 1615h0M582 1616h0M586 1616h0M529 1611h0M532 1610h0M534 1608h0M513 1607h0M517 1609h0M517 1611h0M449 1606h0M445 1605h0M441 1606h0M437 1607h0M435 1609h0M455 1611h0M450 1611h0M448 1613h0M444 1614h0M623 1611h0M627 1610h0M631 1610h0M635 1609h0M581 1618h0M576 1618h0M572 1618h0M568 1618h0M477 1609h0M473 1608h0M471 1606h0M469 1604h0M385 1612h0M389 1611h0M393 1612h0M397 1612h0M401 1613h0M467 1610h0M471 1608h0M517 1613h0M520 1612h0M495 1605h0M490 1605h0M486 1606h0M482 1607h0M431 1613h0M436 1613h0M440 1613h0M444 1613h0M614 1613h0M609 1613h0M606 1615h0M405 1612h0M409 1611h0M413 1610h0M535 1615h0M539 1617h0M499 1606h0M495 1606h0M491 1606h0M487 1607h0M482 1607h0M449 1610h0M453 1609h0M456 1608h0M454 1614h0M458 1614h0M628 1611h0M626 1609h0M624 1607h0M625 1605h0M626 1603h0M623 1618h0M619 1619h0M615 1620h0M612 1621h0M607 1622h0M583 1609h0M584 1607h0M583 1605h0M583 1603h0M584 1601h0M632 1610h0M629 1609h0M624 1608h0M620 1608h0M617 1606h0M662 1605h0M658 1604h0M476 1608h0M480 1608h0M484 1609h0M624 1613h0M629 1613h0M633 1614h0M636 1615h0M640 1616h0M428 1607h0M424 1606h0M420 1605h0M416 1604h0M413 1603h0M649 1612h0M650 1610h0M523 1609h0M519 1608h0M519 1606h0M521 1604h0M518 1602h0M551 1617h0M555 1618h0M559 1618h0M456 1608h0M454 1610h0M469 1608h0M473 1608h0M477 1610h0M635 1612h0M631 1613h0M627 1615h0M456 1614h0M452 1614h0M553 1614h0M549 1614h0M545 1613h0M540 1613h0M536 1612h0M459 1609h0M458 1611h0M649 1610h0M652 1611h0M656 1612h0M660 1613h0M414 1615h0M411 1617h0M407 1619h0M436 1609h0M433 1610h0M429 1611h0M425 1611h0M421 1610h0M626 1613h0M622 1612h0M640 1613h0M636 1614h0M631 1613h0M627 1614h0M623 1615h0M547 1616h0M543 1617h0M541 1619h0M537 1619h0M533 1620h0M609 1612h0M612 1613h0M615 1615h0M618 1616h0M620 1618h0" stroke="#13a0a6" stroke-width="3.3" stroke-linecap="round"/>
<path transform="scale(.5)" d="M393 1656h0M389 1656h0M386 1658h0M383 1659h0M662 1650h0M436 1652h0M441 1652h0M423 1649h0M427 1650h0M431 1651h0M434 1652h0M437 1654h0M594 1654h0M590 1655h0M622 1644h0M626 1645h0M630 1646h0M633 1647h0M637 1648h0M654 1651h0M650 1652h0M650 1654h0M647 1656h0M644 1657h0M410 1653h0M414 1654h0M418 1655h0M421 1656h0M396 1659h0M393 1661h0M391 1663h0M388 1665h0M618 1647h0M614 1646h0M611 1645h0M606 1644h0M604 1646h0M598 1648h0M603 1648h0M607 1649h0M611 1649h0M613 1647h0M409 1651h0M405 1650h0M402 1652h0M399 1653h0M400 1656h0M655 1652h0M651 1653h0M583 1653h0M579 1652h0M575 1652h0M624 1652h0M620 1652h0M661 1649h0M657 1649h0M654 1647h0M655 1645h0M578 1655h0M583 1655h0M557 1652h0M554 1653h0M550 1654h0M545 1654h0M541 1653h0M559 1655h0M555 1656h0M553 1658h0M497 1655h0M500 1656h0M503 1658h0M456 1652h0M459 1651h0M461 1649h0M460 1647h0M459 1645h0M400 1650h0M396 1649h0M392 1648h0M387 1648h0M384 1647h0M416 1651h0M418 1653h0M422 1654h0M421 1652h0M417 1653h0M414 1655h0M410 1656h0M406 1656h0M461 1657h0M464 1655h0M467 1654h0M467 1651h0M659 1655h0M655 1655h0M651 1656h0M648 1658h0M648 1660h0M530 1665h0M526 1664h0M522 1663h0M627 1653h0M623 1653h0M619 1652h0M616 1651h0M399 1655h0M396 1654h0M393 1652h0M396 1657h0M400 1657h0M404 1658h0M657 1647h0M661 1647h0M635 1647h0M631 1646h0M627 1645h0M623 1644h0M620 1643h0M398 1653h0M403 1653h0M407 1652h0M411 1651h0M419 1648h0M424 1647h0M552 1662h0M557 1662h0M577 1651h0M575 1649h0M572 1647h0M571 1645h0M575 1652h0M570 1651h0M566 1651h0M562 1649h0M558 1649h0M550 1657h0M549 1655h0M546 1654h0M412 1644h0M416 1644h0M420 1644h0M498 1659h0M501 1661h0M505 1661h0M487 1656h0M490 1654h0M493 1653h0M497 1651h0M500 1650h0M639 1649h0M638 1647h0M633 1648h0M629 1648h0M625 1648h0M479 1656h0M484 1656h0M488 1656h0M492 1657h0M540 1656h0M536 1655h0M532 1654h0M528 1654h0M451 1651h0M453 1649h0M457 1648h0M654 1650h0M653 1652h0M644 1656h0M647 1655h0M607 1652h0M610 1653h0M614 1654h0M617 1656h0M480 1652h0M484 1652h0M489 1652h0M492 1651h0M497 1650h0M622 1648h0M619 1646h0M427 1653h0M423 1651h0M420 1650h0M593 1653h0M588 1653h0M585 1651h0M607 1658h0M604 1656h0M601 1653h0M599 1651h0M598 1649h0M480 1652h0M483 1650h0M486 1649h0M488 1647h0M602 1657h0M606 1656h0M583 1652h0M587 1651h0M637 1643h0M641 1643h0M646 1643h0M477 1656h0M474 1658h0M470 1659h0M466 1660h0M599 1658h0M603 1657h0M607 1656h0M612 1656h0M616 1657h0M535 1655h0M533 1653h0M532 1651h0M535 1650h0M390 1650h0M386 1649h0M383 1647h0M420 1653h0M424 1654h0M426 1656h0M426 1658h0M430 1659h0M542 1649h0M546 1650h0M561 1657h0M557 1656h0M553 1656h0M484 1660h0M487 1659h0M489 1657h0M491 1655h0M657 1645h0M660 1644h0M664 1642h0M604 1655h0M608 1656h0M611 1658h0M527 1663h0M523 1664h0M489 1654h0M486 1655h0M572 1657h0M576 1658h0M580 1660h0M582 1661h0M382 1653h0M386 1652h0M569 1655h0M565 1655h0M561 1655h0M414 1653h0M418 1651h0M421 1650h0M425 1649h0M466 1651h0M468 1649h0M471 1647h0M473 1646h0M538 1649h0M534 1648h0M531 1647h0M527 1646h0M524 1647h0M509 1656h0M513 1657h0M645 1654h0M650 1654h0M406 1645h0M402 1646h0M399 1656h0M395 1655h0M631 1659h0M635 1659h0M639 1660h0M643 1661h0M647 1661h0M396 1648h0M392 1649h0M387 1649h0M384 1650h0M509 1652h0M511 1654h0M514 1655h0M516 1657h0M520 1659h0M407 1649h0M411 1649h0M414 1651h0M416 1653h0M551 1652h0M548 1650h0M546 1648h0M544 1646h0M545 1644h0M394 1652h0M398 1653h0M403 1653h0M407 1653h0M411 1655h0M487 1652h0M483 1652h0M661 1649h0M663 1651h0M615 1649h0M611 1649h0M607 1648h0M603 1646h0M602 1644h0M460 1651h0M458 1649h0M454 1648h0M450 1648h0M445 1648h0M463 1649h0M458 1649h0M454 1650h0M442 1658h0M446 1659h0M449 1660h0M453 1661h0M457 1662h0M546 1656h0M550 1656h0M466 1650h0M463 1651h0M405 1652h0M402 1651h0M403 1649h0M445 1652h0M442 1651h0M440 1649h0M625 1651h0M627 1653h0M501 1660h0M503 1658h0M502 1656h0M498 1655h0M437 1655h0M441 1654h0M445 1653h0M449 1652h0M453 1653h0M427 1654h0M423 1652h0M419 1651h0M417 1649h0M410 1652h0M406 1652h0M403 1654h0M400 1655h0M398 1657h0M620 1645h0M616 1645h0M612 1644h0M570 1658h0M574 1659h0M577 1658h0M453 1655h0M456 1653h0M456 1651h0M456 1649h0M526 1660h0M529 1658h0M505 1661h0M507 1659h0M510 1657h0M417 1648h0M412 1648h0M408 1648h0M403 1648h0M555 1650h0M551 1649h0M550 1647h0M433 1652h0M438 1651h0M440 1649h0M441 1647h0M443 1645h0M528 1658h0M524 1657h0M520 1657h0M650 1648h0M646 1647h0M644 1649h0M626 1641h0M629 1642h0M631 1645h0M632 1647h0M547 1651h0M550 1653h0M419 1651h0M423 1650h0M428 1649h0M635 1648h0M638 1650h0M477 1648h0M473 1648h0M391 1655h0M386 1655h0M589 1659h0M584 1658h0M557 1650h0M561 1650h0M645 1651h0M647 1653h0M651 1655h0M654 1656h0M471 1653h0M467 1652h0M514 1656h0M518 1656h0M522 1655h0M526 1654h0M462 1655h0M458 1655h0M474 1655h0M469 1655h0M466 1656h0M522 1657h0M526 1657h0M531 1657h0M621 1647h0M617 1646h0M613 1645h0" stroke="#13a0a6" stroke-width="3.3" stroke-linecap="round"/>
<path transform="scale(.5)" d="M600 1767h0M597 1769h0M594 1767h0M517 1770h0M513 1770h0M509 1771h0M504 1771h0M411 1774h0M415 1773h0M516 1774h0M514 1772h0M514 1770h0M511 1768h0M508 1767h0M560 1775h0M564 1776h0M565 1778h0M565 1781h0M447 1766h0M444 1765h0M600 1766h0M604 1767h0M607 1768h0M612 1769h0M616 1769h0M386 1761h0M386 1759h0M386 1757h0M385 1754h0M446 1770h0M448 1772h0M450 1774h0M451 1776h0M455 1777h0M634 1771h0M630 1771h0M625 1772h0M621 1772h0M518 1781h0M522 1781h0M527 1781h0M531 1781h0M535 1782h0M447 1763h0M443 1762h0M439 1762h0M435 1761h0M430 1760h0M412 1770h0M409 1772h0M404 1772h0M465 1775h0M463 1777h0M462 1779h0M458 1780h0M615 1765h0M614 1763h0M614 1760h0M613 1758h0M558 1764h0M554 1763h0M654 1772h0M650 1772h0M615 1765h0M619 1766h0M391 1767h0M387 1767h0M594 1763h0M596 1761h0M599 1759h0M600 1757h0M661 1770h0M664 1771h0M502 1772h0M503 1774h0M494 1770h0M498 1771h0M500 1773h0M503 1774h0M409 1771h0M413 1772h0M442 1769h0M440 1771h0M439 1773h0M436 1775h0M433 1776h0M522 1775h0M519 1777h0M518 1779h0M520 1781h0M523 1782h0M649 1763h0M652 1764h0M654 1766h0M654 1769h0M654 1771h0M560 1765h0M564 1766h0M566 1767h0M566 1770h0M563 1771h0M509 1773h0M505 1772h0M500 1772h0M496 1773h0M493 1774h0M581 1762h0M577 1762h0M573 1763h0M572 1765h0M464 1768h0M460 1768h0M455 1768h0M600 1765h0M604 1765h0M552 1767h0M555 1765h0M559 1764h0M563 1764h0M566 1766h0M615 1769h0M611 1769h0M608 1767h0M605 1766h0M604 1763h0M599 1766h0M595 1765h0M591 1764h0M588 1763h0M585 1761h0M629 1769h0M633 1770h0M637 1770h0M641 1770h0M646 1769h0M626 1764h0M630 1763h0M634 1761h0M638 1762h0M642 1761h0M527 1762h0M523 1761h0M429 1766h0M433 1767h0M437 1769h0M464 1768h0M460 1768h0M432 1763h0M428 1764h0M424 1765h0M529 1768h0M533 1768h0M448 1773h0M452 1774h0M454 1775h0M459 1776h0M438 1772h0M441 1773h0M444 1775h0M445 1777h0M443 1779h0M437 1763h0M441 1765h0M444 1766h0M449 1767h0M465 1768h0M461 1768h0M457 1767h0M453 1766h0M588 1758h0M592 1759h0M596 1759h0M600 1760h0M605 1760h0M467 1770h0M463 1770h0M459 1769h0M458 1767h0M558 1769h0M562 1771h0M565 1772h0M568 1774h0M571 1775h0M459 1772h0M455 1772h0M450 1772h0M446 1771h0M468 1771h0M464 1770h0M460 1769h0M456 1769h0M617 1768h0M620 1770h0M442 1766h0M446 1766h0M449 1765h0M453 1764h0M457 1763h0M527 1771h0M523 1770h0M519 1770h0M514 1771h0M517 1768h0M512 1768h0M510 1766h0M506 1765h0M503 1764h0M612 1768h0M612 1770h0M627 1767h0M624 1769h0M422 1772h0M418 1772h0M416 1770h0M585 1768h0M587 1766h0M589 1764h0M585 1764h0M585 1762h0M584 1760h0M582 1758h0M581 1756h0M392 1763h0M397 1763h0M401 1763h0M613 1764h0M617 1765h0M621 1766h0M624 1767h0M410 1763h0M411 1765h0M411 1767h0M413 1769h0M416 1771h0M461 1775h0M456 1775h0M453 1773h0M451 1772h0M389 1766h0M393 1766h0M566 1765h0M569 1764h0M573 1763h0M454 1772h0M449 1772h0M445 1771h0M441 1771h0M404 1763h0M400 1764h0M443 1775h0M444 1777h0M445 1779h0M594 1768h0M598 1769h0M603 1769h0M607 1769h0M507 1770h0M503 1771h0M499 1772h0M497 1774h0M468 1771h0M469 1774h0M537 1770h0M535 1772h0M533 1774h0M533 1776h0M571 1768h0M575 1767h0M573 1773h0M577 1771h0M581 1772h0M481 1772h0M478 1774h0M486 1771h0M490 1770h0M494 1769h0M464 1769h0M468 1770h0M611 1773h0M615 1773h0M619 1772h0M556 1767h0M552 1768h0M583 1772h0M586 1774h0M589 1776h0M592 1777h0M604 1770h0M607 1769h0M610 1767h0M415 1769h0M412 1770h0M408 1771h0M405 1770h0M401 1769h0M455 1771h0M459 1771h0M464 1770h0M467 1769h0M470 1768h0M397 1767h0M393 1767h0M388 1768h0M384 1768h0M554 1767h0M557 1769h0M561 1769h0M561 1772h0M633 1766h0M637 1766h0M642 1766h0M646 1766h0M650 1765h0M481 1771h0M485 1770h0M489 1770h0M494 1770h0M413 1770h0M417 1771h0M395 1767h0M398 1766h0M401 1764h0M499 1766h0M495 1766h0M490 1767h0M487 1768h0M484 1770h0M394 1766h0M399 1765h0M402 1764h0M404 1762h0M408 1761h0M568 1770h0M564 1770h0M560 1769h0M556 1770h0M554 1772h0M534 1777h0M530 1777h0M526 1777h0M522 1777h0M655 1775h0M660 1775h0M640 1771h0M636 1772h0M632 1773h0M480 1770h0M483 1768h0M486 1767h0M490 1766h0M494 1766h0M427 1774h0M432 1775h0M436 1776h0M438 1777h0M440 1779h0M604 1769h0M602 1767h0M396 1766h0M401 1765h0M635 1768h0M639 1768h0M643 1769h0M637 1769h0M633 1770h0M629 1771h0M625 1772h0M624 1774h0M512 1771h0M516 1771h0M520 1771h0M475 1769h0M474 1771h0M470 1773h0M467 1774h0M466 1776h0M622 1774h0M626 1775h0" stroke="#13a0a6" stroke-width="3.3" stroke-linecap="round"/>
<path transform="scale(.5)" d="M570 1777h0M566 1779h0M570 1777h0M572 1774h0M575 1771h0M414 1772h0M411 1770h0M406 1769h0M403 1767h0M399 1768h0M519 1779h0M522 1777h0M523 1773h0M521 1770h0M523 1767h0M565 1786h0M565 1789h0M569 1790h0M465 1765h0M462 1762h0M638 1786h0M639 1782h0M661 1784h0M659 1787h0M656 1790h0M448 1777h0M444 1778h0M440 1780h0M436 1779h0M434 1782h0M600 1772h0M598 1769h0M594 1769h0M590 1770h0M585 1771h0M452 1770h0M451 1773h0M446 1773h0M442 1772h0M440 1769h0M537 1779h0M533 1777h0M533 1773h0M438 1779h0M443 1780h0M445 1777h0M447 1780h0M451 1780h0M421 1775h0M421 1772h0M418 1769h0M466 1764h0M467 1761h0M471 1759h0M576 1785h0M578 1781h0M577 1778h0M574 1775h0M456 1775h0M459 1773h0M609 1786h0M608 1782h0M606 1779h0M605 1776h0M603 1786h0M604 1789h0M603 1793h0M607 1794h0M607 1791h0M437 1770h0M434 1767h0M436 1764h0M437 1760h0M438 1757h0M388 1769h0M385 1766h0M389 1765h0M392 1763h0M396 1765h0M596 1782h0M592 1782h0M592 1779h0M590 1776h0M597 1775h0M597 1772h0M595 1768h0M592 1766h0M590 1763h0M434 1765h0M430 1764h0M458 1781h0M460 1784h0M458 1787h0M454 1788h0M388 1786h0M384 1788h0M447 1784h0M451 1783h0M453 1780h0M454 1776h0M456 1773h0M530 1770h0M526 1770h0M454 1780h0M458 1779h0M462 1781h0M466 1782h0M469 1784h0M572 1786h0M576 1783h0M580 1784h0M626 1774h0M629 1777h0M631 1774h0M631 1770h0M633 1767h0M607 1783h0M603 1785h0M600 1788h0M596 1787h0M597 1783h0M404 1772h0M403 1768h0M401 1765h0M397 1763h0M440 1776h0M438 1773h0M436 1770h0M495 1768h0M492 1766h0M491 1762h0M490 1759h0M437 1773h0M441 1774h0M446 1774h0M449 1772h0M632 1769h0M635 1767h0M638 1764h0M636 1761h0M510 1784h0M506 1784h0M610 1781h0M607 1779h0M604 1782h0M505 1777h0M501 1779h0M652 1767h0M656 1766h0M418 1777h0M420 1774h0M421 1771h0M419 1768h0M542 1772h0M538 1772h0M427 1783h0M423 1784h0M419 1786h0M415 1787h0M526 1772h0M522 1773h0M476 1779h0M478 1776h0M647 1777h0M644 1774h0M641 1771h0M504 1781h0M500 1780h0M544 1781h0M544 1777h0M544 1774h0M545 1770h0M659 1775h0M663 1774h0M574 1777h0M572 1774h0M422 1782h0M426 1783h0" stroke="#4e4e4e" stroke-width="3.2" stroke-linecap="round"/>
<path transform="scale(.5)" d="M454 1808h0M455 1811h0M459 1813h0M463 1813h0M468 1813h0M470 1816h0M548 1779h0M544 1778h0M543 1775h0M544 1771h0M547 1769h0M551 1768h0M467 1810h0M469 1807h0M472 1804h0M477 1805h0M478 1808h0M544 1816h0M548 1818h0M550 1821h0M455 1780h0M460 1780h0M461 1783h0M464 1786h0M542 1781h0M538 1783h0M544 1815h0M542 1812h0M502 1804h0M498 1802h0M494 1803h0M490 1802h0M491 1805h0M487 1806h0M648 1803h0M648 1807h0M649 1810h0M653 1811h0M656 1813h0M657 1817h0M419 1782h0M424 1782h0M427 1780h0M446 1782h0M447 1786h0M451 1788h0M455 1787h0M606 1789h0M605 1793h0M602 1795h0M597 1795h0M481 1797h0M478 1794h0M475 1792h0M543 1800h0M547 1803h0M550 1805h0M554 1807h0M557 1809h0M561 1808h0M605 1782h0M609 1785h0M613 1785h0M616 1782h0M616 1779h0M616 1775h0M574 1787h0M571 1790h0M573 1793h0M576 1790h0M635 1805h0M637 1808h0M641 1809h0M645 1807h0M648 1805h0M652 1804h0M437 1792h0M435 1795h0M433 1798h0M606 1807h0M609 1809h0M607 1812h0M603 1813h0M600 1816h0M597 1818h0M602 1807h0M605 1810h0M609 1808h0M612 1806h0M616 1804h0M620 1803h0M461 1779h0M462 1782h0M465 1785h0M468 1787h0M518 1795h0M521 1798h0M525 1799h0M488 1813h0M485 1815h0M483 1818h0M535 1803h0M534 1806h0M530 1808h0M529 1812h0M395 1781h0M391 1780h0M394 1778h0M444 1786h0M447 1789h0M448 1792h0M399 1799h0M403 1800h0M406 1798h0M451 1786h0M456 1786h0M454 1789h0M454 1793h0M452 1796h0M453 1799h0M527 1796h0M531 1794h0M532 1791h0M428 1802h0M426 1799h0M423 1797h0M421 1794h0M632 1796h0M632 1793h0M634 1790h0M416 1787h0M420 1788h0M424 1790h0M429 1790h0M433 1792h0M594 1792h0M596 1789h0M598 1786h0M602 1787h0M607 1787h0M589 1788h0M585 1787h0M600 1798h0M597 1801h0M598 1804h0M601 1807h0M603 1810h0M586 1817h0M590 1816h0M592 1813h0M654 1801h0M658 1800h0M658 1796h0M656 1793h0M656 1790h0M392 1795h0M395 1798h0M450 1789h0M445 1790h0M442 1791h0M440 1795h0M653 1800h0M657 1801h0M590 1783h0M590 1779h0M638 1791h0M642 1790h0M588 1809h0M586 1812h0M584 1815h0M663 1802h0M658 1802h0M660 1799h0M656 1796h0M615 1816h0M619 1815h0M496 1802h0M500 1801h0M503 1798h0M501 1795h0M497 1795h0M448 1810h0M446 1807h0M445 1804h0M441 1802h0M540 1781h0M544 1779h0M545 1776h0M545 1772h0M408 1806h0M411 1808h0M410 1812h0M425 1782h0M427 1785h0M431 1783h0M435 1783h0M439 1783h0M443 1785h0M626 1808h0M629 1806h0M630 1802h0M626 1801h0M622 1798h0M481 1795h0M485 1795h0M488 1793h0M493 1793h0M497 1795h0M500 1797h0M524 1809h0M528 1807h0M530 1804h0M531 1800h0M490 1789h0M489 1793h0M456 1802h0M454 1799h0M451 1796h0M450 1793h0M445 1792h0M466 1781h0M470 1779h0M472 1776h0M475 1773h0M476 1770h0M617 1792h0M614 1790h0M613 1793h0M429 1800h0M430 1803h0M433 1806h0M430 1809h0M425 1809h0M421 1808h0M641 1797h0M645 1799h0M650 1798h0M533 1793h0M531 1796h0M534 1798h0M535 1802h0M448 1777h0M446 1774h0M545 1814h0M544 1810h0M411 1787h0M415 1786h0M603 1806h0M606 1803h0M610 1805h0M610 1808h0M607 1811h0M605 1814h0M454 1790h0M450 1789h0M448 1786h0M449 1783h0M452 1780h0M450 1777h0M382 1815h0M385 1817h0M389 1819h0M393 1820h0M392 1824h0" stroke="#4e4e4e" stroke-width="3.2" stroke-linecap="round"/>
</g>
<rect x="41.0" y="617.3" width="142.8" height="327.1" fill="none" stroke="#8a8a8a" stroke-width="1.1"/>
<rect x="190.2" y="617.3" width="142.2" height="327.1" fill="none" stroke="#8a8a8a" stroke-width="1.1"/>
<text x="-1" y="673.7" font-size="15" textLength="13.6" lengthAdjust="spacingAndGlyphs">L1</text>
<path d="M16 667.6H31" stroke="#000" stroke-width="2"/>
<path d="M29.5 664L37.8 667.6L29.5 671.2Z" fill="#000"/>
<text x="-1" y="752.9" font-size="15" textLength="13.6" lengthAdjust="spacingAndGlyphs">L2</text>
<path d="M16 746.8H31" stroke="#000" stroke-width="2"/>
<path d="M29.5 743.2L37.8 746.8L29.5 750.4Z" fill="#000"/>
<text x="-1" y="823.1" font-size="15" textLength="13.6" lengthAdjust="spacingAndGlyphs">L3</text>
<path d="M16 817H31" stroke="#000" stroke-width="2"/>
<path d="M29.5 813.4L37.8 817L29.5 820.6Z" fill="#000"/>
<text x="-1" y="899.3" font-size="15" textLength="13.6" lengthAdjust="spacingAndGlyphs">L4</text>
<path d="M16 893.2H31" stroke="#000" stroke-width="2"/>
<path d="M29.5 889.6L37.8 893.2L29.5 896.8Z" fill="#000"/>
<text x="324.3" y="602.6" font-size="14" font-weight="bold">(e)</text>
<rect x="481" y="676.9" width="5.6" height="5.4" fill="#0f6fc0" stroke="#1a1a1a" stroke-width="0.9"/>
<text x="489.6" y="682.5" font-size="9.0" fill="#3c3c3c" stroke="#3c3c3c" stroke-width="0.4">C</text>
<rect x="509.3" y="676.9" width="5.6" height="5.4" fill="#f75a0c" stroke="#1a1a1a" stroke-width="0.9"/>
<text x="517.9" y="682.5" font-size="9.0" fill="#3c3c3c" stroke="#3c3c3c" stroke-width="0.4">H</text>
<rect x="538.2" y="676.9" width="5.6" height="5.4" fill="#f7b420" stroke="#1a1a1a" stroke-width="0.9"/>
<text x="546.8" y="682.5" font-size="9.0" fill="#3c3c3c" stroke="#3c3c3c" stroke-width="0.4">N</text>
<rect x="566" y="676.9" width="5.6" height="5.4" fill="#8e2a8e" stroke="#1a1a1a" stroke-width="0.9"/>
<text x="574.6" y="682.5" font-size="9.0" fill="#3c3c3c" stroke="#3c3c3c" stroke-width="0.4">O</text>
<path d="M368.6 687.5H672.8V841.0H368.6" fill="none" stroke="#262626" stroke-width="1.1"/>
<rect x="368.60" y="699.3" width="87.78" height="15.1" fill="#0f6fc0" stroke="#1a1a1a" stroke-width="0.9"/>
<rect x="456.38" y="699.3" width="17.72" height="15.1" fill="#f75a0c" stroke="#1a1a1a" stroke-width="0.9"/>
<rect x="474.10" y="699.3" width="0.51" height="15.1" fill="#f7b420" stroke="#1a1a1a" stroke-width="0.9"/>
<rect x="474.61" y="699.3" width="122.21" height="15.1" fill="#8e2a8e" stroke="#1a1a1a" stroke-width="0.9"/>
<text x="350" y="709.7" font-size="9.6" font-weight="bold" fill="#555" textLength="9.3" lengthAdjust="spacingAndGlyphs">L1</text>
<rect x="368.60" y="737.4" width="139.94" height="15.1" fill="#0f6fc0" stroke="#1a1a1a" stroke-width="0.9"/>
<rect x="508.54" y="737.4" width="39.67" height="15.1" fill="#f75a0c" stroke="#1a1a1a" stroke-width="0.9"/>
<rect x="548.20" y="737.4" width="0.34" height="15.1" fill="#f7b420" stroke="#1a1a1a" stroke-width="0.9"/>
<rect x="548.54" y="737.4" width="98.92" height="15.1" fill="#8e2a8e" stroke="#1a1a1a" stroke-width="0.9"/>
<text x="350" y="747.8" font-size="9.6" font-weight="bold" fill="#555" textLength="9.3" lengthAdjust="spacingAndGlyphs">L2</text>
<rect x="368.60" y="775.9" width="140.78" height="15.1" fill="#0f6fc0" stroke="#1a1a1a" stroke-width="0.9"/>
<rect x="509.38" y="775.9" width="38.66" height="15.1" fill="#f75a0c" stroke="#1a1a1a" stroke-width="0.9"/>
<rect x="548.03" y="775.9" width="0.17" height="15.1" fill="#f7b420" stroke="#1a1a1a" stroke-width="0.9"/>
<rect x="548.20" y="775.9" width="100.27" height="15.1" fill="#8e2a8e" stroke="#1a1a1a" stroke-width="0.9"/>
<text x="350" y="786.3" font-size="9.6" font-weight="bold" fill="#555" textLength="9.3" lengthAdjust="spacingAndGlyphs">L3</text>
<rect x="368.60" y="814.3" width="91.32" height="15.1" fill="#0f6fc0" stroke="#1a1a1a" stroke-width="0.9"/>
<rect x="459.92" y="814.3" width="15.36" height="15.1" fill="#f75a0c" stroke="#1a1a1a" stroke-width="0.9"/>
<rect x="475.28" y="814.3" width="0.17" height="15.1" fill="#f7b420" stroke="#1a1a1a" stroke-width="0.9"/>
<rect x="475.45" y="814.3" width="123.56" height="15.1" fill="#8e2a8e" stroke="#1a1a1a" stroke-width="0.9"/>
<text x="350" y="824.7" font-size="9.6" font-weight="bold" fill="#555" textLength="9.3" lengthAdjust="spacingAndGlyphs">L4</text>
<path d="M368.6 688.0V841.0" stroke="#5aa0d0" stroke-width="1"/>
<rect x="381" y="689.5" width="6.3" height="6.0" fill="#0f6fc0" stroke="#141414" stroke-width="1"/>
<text x="391.5" y="695.4" font-size="9.3" fill="#3c3c3c" textLength="26.2" lengthAdjust="spacingAndGlyphs" stroke="#3c3c3c" stroke-width="0.4">C, 520</text>
<rect x="440.6" y="689.5" width="6.3" height="6.0" fill="#f75a0c" stroke="#141414" stroke-width="1"/>
<text x="451.1" y="695.4" font-size="9.3" fill="#3c3c3c" textLength="26.6" lengthAdjust="spacingAndGlyphs" stroke="#3c3c3c" stroke-width="0.4">H, 105</text>
<rect x="504.0" y="689.8" width="6.3" height="6.0" fill="#f7b420" stroke="#141414" stroke-width="1"/>
<text x="514.5" y="695.7" font-size="9.3" fill="#3c3c3c" textLength="16.7" lengthAdjust="spacingAndGlyphs" stroke="#3c3c3c" stroke-width="0.4">N, 3</text>
<rect x="565.4" y="689.6" width="6.3" height="6.0" fill="#8e2a8e" stroke="#141414" stroke-width="1"/>
<text x="575.9" y="695.5" font-size="9.3" fill="#3c3c3c" textLength="26.1" lengthAdjust="spacingAndGlyphs" stroke="#3c3c3c" stroke-width="0.4">O, 724</text>
<rect x="384.7" y="726.9" width="6.3" height="6.0" fill="#0f6fc0" stroke="#141414" stroke-width="1"/>
<text x="395.2" y="732.8" font-size="9.3" fill="#3c3c3c" textLength="26.7" lengthAdjust="spacingAndGlyphs" stroke="#3c3c3c" stroke-width="0.4">C, 829</text>
<rect x="477.8" y="726.6" width="6.3" height="6.0" fill="#f75a0c" stroke="#141414" stroke-width="1"/>
<text x="488.3" y="732.5" font-size="9.3" fill="#3c3c3c" textLength="26.8" lengthAdjust="spacingAndGlyphs" stroke="#3c3c3c" stroke-width="0.4">H, 235</text>
<rect x="553.2" y="726.8" width="6.3" height="6.0" fill="#f7b420" stroke="#141414" stroke-width="1"/>
<text x="563.7" y="732.7" font-size="9.3" fill="#3c3c3c" textLength="16.3" lengthAdjust="spacingAndGlyphs" stroke="#3c3c3c" stroke-width="0.4">N, 2</text>
<rect x="605.9" y="727.3" width="6.3" height="6.0" fill="#8e2a8e" stroke="#141414" stroke-width="1"/>
<text x="616.4" y="733.2" font-size="9.3" fill="#3c3c3c" textLength="26.6" lengthAdjust="spacingAndGlyphs" stroke="#3c3c3c" stroke-width="0.4">O, 586</text>
<rect x="385.8" y="765.6" width="6.3" height="6.0" fill="#0f6fc0" stroke="#141414" stroke-width="1"/>
<text x="396.3" y="771.5" font-size="9.3" fill="#3c3c3c" textLength="27.3" lengthAdjust="spacingAndGlyphs" stroke="#3c3c3c" stroke-width="0.4">C, 834</text>
<rect x="485.6" y="765.3" width="6.3" height="6.0" fill="#f75a0c" stroke="#141414" stroke-width="1"/>
<text x="496.1" y="771.2" font-size="9.3" fill="#3c3c3c" textLength="27.2" lengthAdjust="spacingAndGlyphs" stroke="#3c3c3c" stroke-width="0.4">H, 229</text>
<rect x="541.2" y="764.1" width="6.3" height="6.0" fill="#f7b420" stroke="#141414" stroke-width="1"/>
<text x="551.7" y="770" font-size="9.3" fill="#3c3c3c" textLength="16.1" lengthAdjust="spacingAndGlyphs" stroke="#3c3c3c" stroke-width="0.4">N, 1</text>
<rect x="605.9" y="766.6" width="6.3" height="6.0" fill="#8e2a8e" stroke="#141414" stroke-width="1"/>
<text x="616.4" y="772.5" font-size="9.3" fill="#3c3c3c" textLength="26.1" lengthAdjust="spacingAndGlyphs" stroke="#3c3c3c" stroke-width="0.4">O, 594</text>
<rect x="380.5" y="803.0" width="6.3" height="6.0" fill="#0f6fc0" stroke="#141414" stroke-width="1"/>
<text x="391" y="808.9" font-size="9.3" fill="#3c3c3c" textLength="26.7" lengthAdjust="spacingAndGlyphs" stroke="#3c3c3c" stroke-width="0.4">C, 541</text>
<rect x="439.8" y="803.0" width="6.3" height="6.0" fill="#f75a0c" stroke="#141414" stroke-width="1"/>
<text x="450.3" y="808.9" font-size="9.3" fill="#3c3c3c" textLength="21.9" lengthAdjust="spacingAndGlyphs" stroke="#3c3c3c" stroke-width="0.4">H, 91</text>
<rect x="497.2" y="803.0" width="6.3" height="6.0" fill="#f7b420" stroke="#141414" stroke-width="1"/>
<text x="507.7" y="808.9" font-size="9.3" fill="#3c3c3c" textLength="16.3" lengthAdjust="spacingAndGlyphs" stroke="#3c3c3c" stroke-width="0.4">N, 1</text>
<rect x="554.7" y="803.3" width="6.3" height="6.0" fill="#8e2a8e" stroke="#141414" stroke-width="1"/>
<text x="565.2" y="809.2" font-size="9.3" fill="#3c3c3c" textLength="26.4" lengthAdjust="spacingAndGlyphs" stroke="#3c3c3c" stroke-width="0.4">O, 732</text>
<path d="M475.5 698.7L498.3 693M514.5 729.4L522 731L528.6 737.3M522.5 768.6L525 769L525.5 775.5M476.5 814L488.8 805.8M538.2 814L547.6 806" stroke="#a8a8a8" stroke-width="0.7" fill="none"/>
<text x="368.6" y="856.9" font-size="8.8" text-anchor="middle" fill="#3c3c3c" stroke="#3c3c3c" stroke-width="0.4">0</text>
<text x="453" y="856.9" font-size="8.8" text-anchor="middle" fill="#3c3c3c" textLength="15.4" lengthAdjust="spacingAndGlyphs" stroke="#3c3c3c" stroke-width="0.4">500</text>
<text x="537.4" y="856.9" font-size="8.8" text-anchor="middle" fill="#3c3c3c" textLength="19" lengthAdjust="spacingAndGlyphs" stroke="#3c3c3c" stroke-width="0.4">1000</text>
<text x="621.8" y="856.9" font-size="8.8" text-anchor="middle" fill="#3c3c3c" textLength="19" lengthAdjust="spacingAndGlyphs" stroke="#3c3c3c" stroke-width="0.4">1500</text>
<path d="M453.0 841.0v-2.7M537.4 841.0v-2.7M621.8 841.0v-2.7" stroke="#262626" stroke-width="1"/>
<text x="520.7" y="871" font-size="8.6" text-anchor="middle" fill="#3c3c3c" textLength="83.8" lengthAdjust="spacingAndGlyphs" stroke="#3c3c3c" stroke-width="0.4">Number of Elements</text>
</svg>
</body></html>
